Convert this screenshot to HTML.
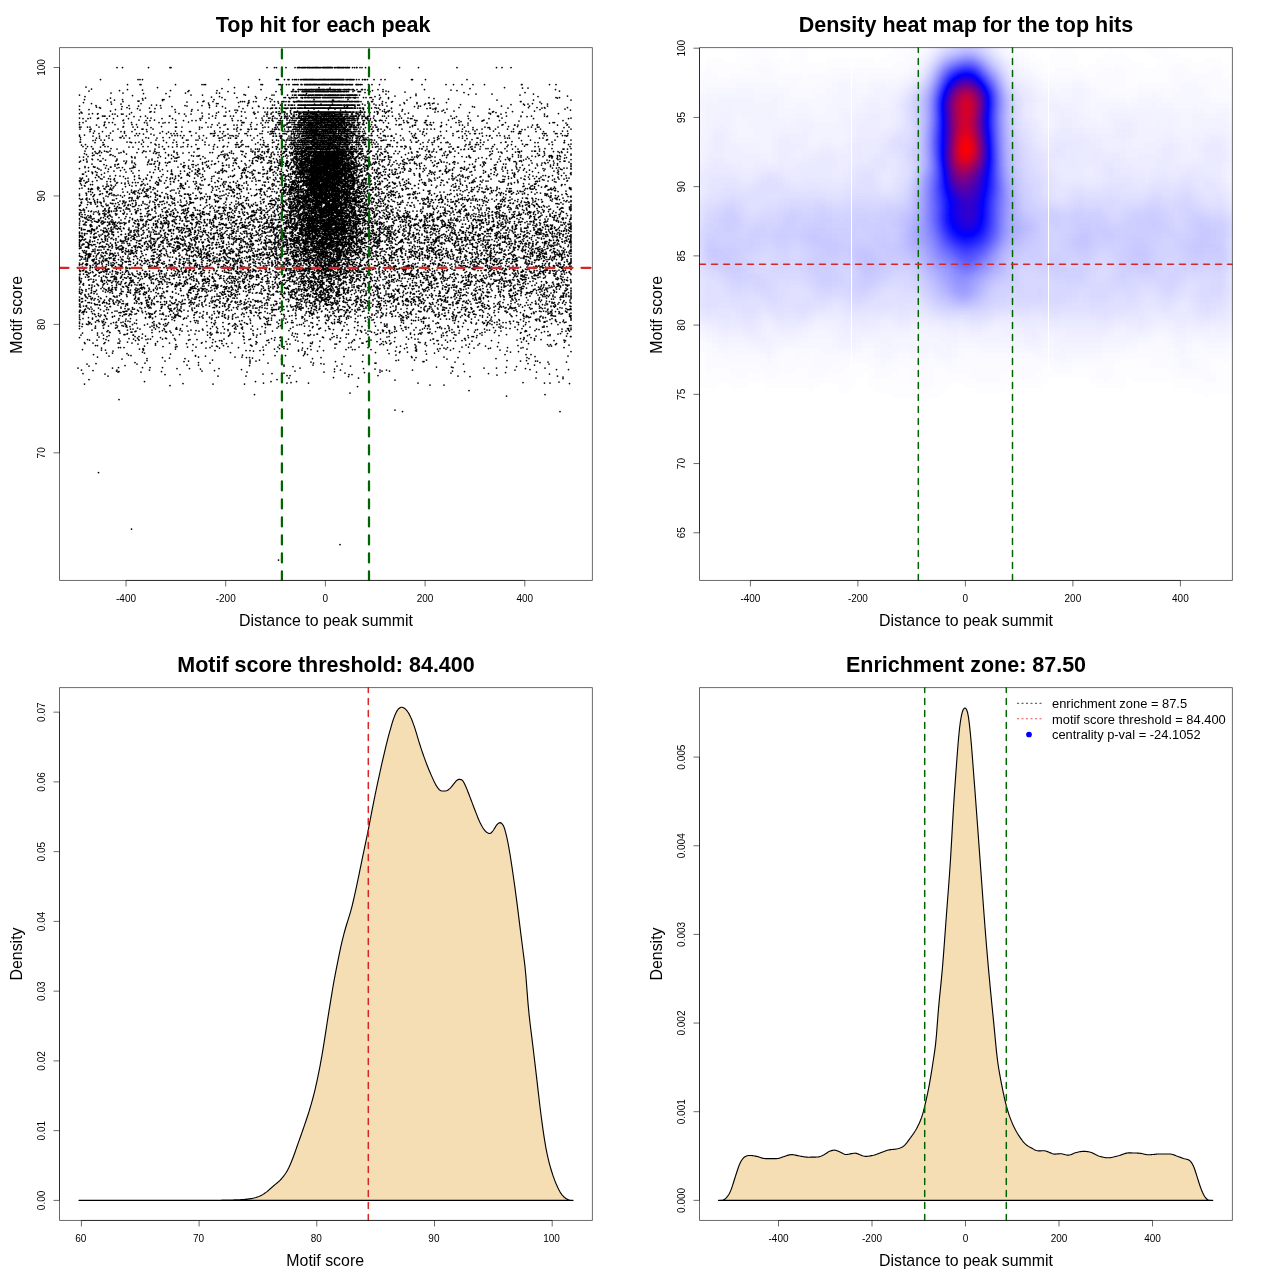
<!DOCTYPE html>
<html><head><meta charset="utf-8"><style>html,body{margin:0;padding:0;background:#fff}svg{display:block;will-change:transform}</style></head><body><svg width="1280" height="1280" viewBox="0 0 1280 1280" font-family="'Liberation Sans',sans-serif" fill="#000"><rect width="1280" height="1280" fill="#fff"/><defs><clipPath id="c1"><rect x="59.5" y="47.6" width="532.9" height="532.85"/></clipPath><clipPath id="c3"><rect x="59.5" y="687.6" width="532.9" height="532.85"/></clipPath><clipPath id="c4"><rect x="699.5" y="687.6" width="532.9" height="532.85"/></clipPath></defs><text x="323.1" y="31.8" font-size="21.5" text-anchor="middle" font-weight="bold">Top hit for each peak</text><text x="966" y="31.8" font-size="21.5" text-anchor="middle" font-weight="bold">Density heat map for the top hits</text><text x="326" y="671.8" font-size="21.5" text-anchor="middle" font-weight="bold">Motif score threshold: 84.400</text><text x="966" y="671.8" font-size="21.5" text-anchor="middle" font-weight="bold">Enrichment zone: 87.50</text><text x="326" y="626" font-size="15.9" text-anchor="middle">Distance to peak summit</text><text x="966" y="626" font-size="15.9" text-anchor="middle">Distance to peak summit</text><text x="325.2" y="1266" font-size="15.9" text-anchor="middle">Motif score</text><text x="966" y="1266" font-size="15.9" text-anchor="middle">Distance to peak summit</text><text x="22" y="314.8" font-size="15.9" text-anchor="middle" transform="rotate(-90 22 314.8)">Motif score</text><text x="662" y="314.8" font-size="15.9" text-anchor="middle" transform="rotate(-90 662 314.8)">Motif score</text><text x="22" y="954" font-size="15.9" text-anchor="middle" transform="rotate(-90 22 954)">Density</text><text x="662" y="954" font-size="15.9" text-anchor="middle" transform="rotate(-90 662 954)">Density</text><!--P1--><g transform="scale(.5)"><path d="M234 135h0m11 0h0m52 0h0m43 0h0m2 0h0m192 0h0m15 0h0m4 0h0m19 0h0m18 0h0m5 0h0m2 0h0m1 0h0m1 0h0m3 0h0m2 0h0m2 0h0m1 0h0m2 0h0m1 0h0m1 0h0m3 0h0m1 0h0m1 0h0m1 0h0m2 0h0m1 0h0m2 0h0m2 0h0m1 0h0m2 0h0m1 0h0m2 0h0m1 0h0m1 0h0m1 0h0m1 0h0m1 0h0m1 0h0m2 0h0m2 0h0m2 0h0m3 0h0m1 0h0m1 0h0m1 0h0m1 0h0m1 0h0m1 0h0m2 0h0m1 0h0m1 0h0m1 0h0m1 0h0m1 0h0m1 0h0m1 0h0m1 0h0m1 0h0m1 0h0m2 0h0m4 0h0m2 0h0m3 0h0m1 0h0m1 0h0m1 0h0m1 0h0m1 0h0m2 0h0m1 0h0m2 0h0m1 0h0m2 0h0m1 0h0m3 0h0m1 0h0m2 0h0m1 0h0m1 0h0m2 0h0m1 0h0m6 0h0m4 0h0m4 0h0m1 0h0m6 0h0m4 0h0m7 0h0m68 0h0m38 0h0m77 0h0m79 0h0m11 0h0m18 0h0m-821 24h0m75 0h0m4 0h0m5 0h0m172 0h0m62 0h0m34 0h0m1 0h0m3 0h0m12 0h0m7 0h0m2 0h0m7 0h0m4 0h0m3 0h0m1 0h0m4 0h0m4 0h0m2 0h0m3 0h0m1 0h0m1 0h0m1 0h0m1 0h0m1 0h0m1 0h0m1 0h0m1 0h0m1 0h0m1 0h0m2 0h0m1 0h0m1 0h0m1 0h0m1 0h0m1 0h0m1 0h0m1 0h0m1 0h0m1 0h0m1 0h0m2 0h0m1 0h0m2 0h0m1 0h0m2 0h0m2 0h0m1 0h0m1 0h0m1 0h0m1 0h0m2 0h0m1 0h0m1 0h0m1 0h0m1 0h0m1 0h0m1 0h0m1 0h0m1 0h0m1 0h0m2 0h0m1 0h0m1 0h0m1 0h0m1 0h0m2 0h0m1 0h0m1 0h0m1 0h0m1 0h0m1 0h0m1 0h0m2 0h0m1 0h0m1 0h0m1 0h0m1 0h0m1 0h0m1 0h0m1 0h0m1 0h0m1 0h0m1 0h0m1 0h0m1 0h0m2 0h0m1 0h0m1 0h0m1 0h0m1 0h0m1 0h0m4 0h0m2 0h0m1 0h0m3 0h0m2 0h0m1 0h0m1 0h0m2 0h0m2 0h0m2 0h0m5 0h0m5 0h0m7 0h0m4 0h0m2 0h0m4 0h0m13 0h0m14 0h0m8 0h0m53 0h0m2 0h0m26 0h0m83 0h0m-679 10h0m25 0h0m2 0h0m69 0h0m53 0h0m4 0h0m3 0h0m111 0h0m3 0h0m33 0h0m3 0h0m4 0h0m8 0h0m5 0h0m8 0h0m3 0h0m3 0h0m3 0h0m1 0h0m6 0h0m1 0h0m1 0h0m5 0h0m1 0h0m2 0h0m1 0h0m1 0h0m1 0h0m1 0h0m2 0h0m1 0h0m1 0h0m1 0h0m1 0h0m1 0h0m2 0h0m1 0h0m1 0h0m1 0h0m1 0h0m1 0h0m1 0h0m1 0h0m1 0h0m1 0h0m2 0h0m1 0h0m2 0h0m1 0h0m2 0h0m1 0h0m1 0h0m1 0h0m1 0h0m1 0h0m1 0h0m1 0h0m1 0h0m1 0h0m1 0h0m1 0h0m1 0h0m2 0h0m1 0h0m1 0h0m3 0h0m1 0h0m1 0h0m1 0h0m1 0h0m1 0h0m1 0h0m1 0h0m1 0h0m1 0h0m1 0h0m1 0h0m1 0h0m2 0h0m1 0h0m1 0h0m1 0h0m1 0h0m1 0h0m2 0h0m1 0h0m1 0h0m1 0h0m1 0h0m2 0h0m3 0h0m2 0h0m2 0h0m3 0h0m1 0h0m2 0h0m2 0h0m2 0h0m7 0h0m1 0h0m1 0h0m1 0h0m2 0h0m3 0h0m1 0h0m3 0h0m13 0h0m7 0h0m15 0h0m85 0h0m48 0h0m15 0h0m17 0h0m22 0h0m23 0h0m74 0h0m1 0h0m55 0h0m13 0h0m-940 5h0m325 0h0m-182 1h0m154 0h0m169 0h0m371 0h0m-349 1h0m385 0h0m11 0h0m-612 1h0m496 0h0m-757 1h0m72 1h0m267 0h0m40 0h0m24 0h0m1 0h0m9 0h0m1 0h0m1 0h0m3 0h0m3 0h0m1 0h0m3 0h0m2 0h0m1 0h0m1 0h0m1 0h0m2 0h0m2 0h0m1 0h0m2 0h0m1 0h0m1 0h0m1 0h0m1 0h0m1 0h0m2 0h0m1 0h0m1 0h0m2 0h0m1 0h0m1 0h0m1 0h0m1 0h0m1 0h0m1 0h0m1 0h0m1 0h0m1 0h0m1 0h0m2 0h0m1 0h0m1 0h0m1 0h0m1 0h0m1 0h0m1 0h0m3 0h0m1 0h0m1 0h0m1 0h0m1 0h0m1 0h0m1 0h0m1 0h0m1 0h0m1 0h0m1 0h0m3 0h0m1 0h0m1 0h0m2 0h0m1 0h0m2 0h0m3 0h0m1 0h0m2 0h0m1 0h0m1 0h0m2 0h0m4 0h0m3 0h0m1 0h0m2 0h0m2 0h0m2 0h0m1 0h0m1 0h0m2 0h0m4 0h0m1 0h0m2 0h0m7 0h0m9 0h0m1 0h0m1 0h0m5 0h0m26 0h0m10 0h0m83 0h0m262 0h0m-826 1h0m301 0h0m150 0h0m166 0h0m-663 1h0m102 0h0m37 0h0m56 0h0m275 0h0m36 0h0m169 0h0m-736 1h0m594 0h0m347 0h0m-743 1h0m80 0h0m96 0h0m31 0h0m3 0h0m4 0h0m1 0h0m2 0h0m4 0h0m7 0h0m1 0h0m1 0h0m1 0h0m1 0h0m1 0h0m1 0h0m1 0h0m1 0h0m1 0h0m1 0h0m1 0h0m1 0h0m1 0h0m1 0h0m1 0h0m1 0h0m2 0h0m1 0h0m2 0h0m1 0h0m1 0h0m3 0h0m1 0h0m1 0h0m1 0h0m1 0h0m1 0h0m1 0h0m1 0h0m1 0h0m1 0h0m1 0h0m1 0h0m1 0h0m2 0h0m1 0h0m1 0h0m1 0h0m1 0h0m1 0h0m1 0h0m1 0h0m1 0h0m2 0h0m1 0h0m1 0h0m1 0h0m1 0h0m3 0h0m1 0h0m1 0h0m1 0h0m1 0h0m2 0h0m1 0h0m1 0h0m1 0h0m1 0h0m1 0h0m1 0h0m2 0h0m1 0h0m1 0h0m1 0h0m1 0h0m1 0h0m1 0h0m1 0h0m1 0h0m3 0h0m1 0h0m2 0h0m3 0h0m2 0h0m3 0h0m9 0h0m10 0h0m1 0h0m1 0h0m2 0h0m1 0h0m19 0h0m26 0h0m11 0h0m33 1h0m-80 1h0m198 0h0m122 0h0m-828 1h0m24 0h0m125 0h0m62 0h0m6 0h0m30 0h0m-182 1h0m45 0h0m281 0h0m159 1h0m60 0h0m120 0h0m32 0h0m83 0h0m-579 1h0m449 0h0m-778 1h0m223 0h0m23 0h0m86 0h0m53 0h0m4 0h0m27 0h0m10 0h0m4 0h0m2 0h0m1 0h0m5 0h0m2 0h0m1 0h0m1 0h0m2 0h0m2 0h0m1 0h0m1 0h0m1 0h0m2 0h0m1 0h0m2 0h0m4 0h0m1 0h0m2 0h0m1 0h0m1 0h0m2 0h0m1 0h0m1 0h0m1 0h0m3 0h0m1 0h0m1 0h0m1 0h0m1 0h0m1 0h0m1 0h0m1 0h0m1 0h0m1 0h0m1 0h0m1 0h0m1 0h0m1 0h0m2 0h0m1 0h0m3 0h0m1 0h0m1 0h0m2 0h0m1 0h0m2 0h0m1 0h0m1 0h0m1 0h0m1 0h0m1 0h0m1 0h0m1 0h0m1 0h0m1 0h0m1 0h0m1 0h0m1 0h0m1 0h0m1 0h0m1 0h0m1 0h0m2 0h0m1 0h0m1 0h0m1 0h0m1 0h0m3 0h0m1 0h0m1 0h0m2 0h0m2 0h0m1 0h0m2 0h0m3 0h0m1 0h0m1 0h0m2 0h0m1 0h0m1 0h0m1 0h0m1 0h0m1 0h0m1 0h0m1 0h0m1 0h0m1 0h0m2 0h0m1 0h0m1 0h0m1 0h0m1 0h0m2 0h0m5 0h0m40 0h0m281 0h0m-775 1h0m351 0h0m216 0h0m-42 1h0m345 0h0m-965 1h0m169 0h0m100 0h0m72 0h0m239 0h0m326 0h0m-653 1h0m21 1h0m30 0h0m59 0h0m35 0h0m3 0h0m7 0h0m5 0h0m3 0h0m2 0h0m4 0h0m1 0h0m1 0h0m8 0h0m2 0h0m1 0h0m4 0h0m1 0h0m1 0h0m1 0h0m3 0h0m2 0h0m1 0h0m1 0h0m3 0h0m1 0h0m1 0h0m2 0h0m1 0h0m1 0h0m1 0h0m1 0h0m1 0h0m1 0h0m1 0h0m1 0h0m1 0h0m1 0h0m2 0h0m1 0h0m1 0h0m1 0h0m4 0h0m1 0h0m1 0h0m1 0h0m1 0h0m1 0h0m1 0h0m1 0h0m2 0h0m1 0h0m1 0h0m1 0h0m1 0h0m1 0h0m1 0h0m1 0h0m1 0h0m1 0h0m1 0h0m1 0h0m1 0h0m1 0h0m1 0h0m1 0h0m1 0h0m1 0h0m1 0h0m1 0h0m1 0h0m1 0h0m1 0h0m1 0h0m2 0h0m1 0h0m2 0h0m1 0h0m1 0h0m3 0h0m4 0h0m3 0h0m1 0h0m2 0h0m1 0h0m1 0h0m1 0h0m2 0h0m4 0h0m2 0h0m2 0h0m1 0h0m1 0h0m4 0h0m11 0h0m5 0h0m8 0h0m3 0h0m18 0h0m16 0h0m44 0h0m37 0h0m254 0h0m7 0h0m-898 1h0m70 0h0m222 0h0m92 0h0m105 0h0m405 0h0m-830 1h0m255 0h0m40 0h0m197 0h0m91 0h0m-109 1h0m138 0h0m-728 1h0m76 0h0m80 0h0m3 0h0m100 0h0m22 0h0m80 0h0m14 0h0m84 0h0m68 0h0m50 0h0m-531 1h0m14 0h0m57 0h0m379 0h0m2 0h0m147 0h0m180 0h0m73 0h0m75 0h0m-817 1h0m173 0h0m-222 1h0m2 0h0m130 0h0m188 0h0m2 0h0m80 0h0m-432 1h0m160 0h0m20 0h0m55 0h0m4 0h0m4 0h0m18 0h0m5 0h0m29 0h0m8 0h0m7 0h0m8 0h0m3 0h0m1 0h0m4 0h0m5 0h0m2 0h0m8 0h0m1 0h0m4 0h0m1 0h0m2 0h0m3 0h0m1 0h0m1 0h0m1 0h0m1 0h0m1 0h0m1 0h0m1 0h0m3 0h0m1 0h0m1 0h0m1 0h0m1 0h0m1 0h0m1 0h0m1 0h0m1 0h0m1 0h0m1 0h0m1 0h0m1 0h0m1 0h0m1 0h0m2 0h0m1 0h0m1 0h0m1 0h0m1 0h0m1 0h0m1 0h0m1 0h0m1 0h0m1 0h0m1 0h0m1 0h0m1 0h0m1 0h0m1 0h0m1 0h0m1 0h0m1 0h0m1 0h0m1 0h0m2 0h0m1 0h0m1 0h0m1 0h0m1 0h0m1 0h0m1 0h0m1 0h0m1 0h0m1 0h0m2 0h0m1 0h0m1 0h0m1 0h0m1 0h0m1 0h0m1 0h0m1 0h0m2 0h0m1 0h0m1 0h0m1 0h0m1 0h0m1 0h0m1 0h0m1 0h0m1 0h0m1 0h0m1 0h0m1 0h0m1 0h0m1 0h0m1 0h0m1 0h0m1 0h0m1 0h0m1 0h0m1 0h0m1 0h0m1 0h0m1 0h0m1 0h0m2 0h0m1 0h0m2 0h0m1 0h0m1 0h0m3 0h0m1 0h0m1 0h0m2 0h0m1 0h0m1 0h0m1 0h0m1 0h0m3 0h0m1 0h0m1 0h0m2 0h0m1 0h0m1 0h0m1 0h0m1 0h0m1 0h0m4 0h0m14 0h0m7 0h0m2 0h0m20 0h0m20 0h0m256 0h0m1 0h0m-820 1h0m152 0h0m21 0h0m102 0h0m92 0h0m75 0h0m119 0h0m297 0h0m-913 1h0m310 0h0m21 0h0m274 0h0m36 0h0m26 0h0m59 0h0m-476 1h0m140 0h0m179 0h0m121 0h0m2 0h0m9 0h0m-685 1h0m99 0h0m151 0h0m3 0h0m60 0h0m268 0h0m45 0h0m25 0h0m17 0h0m14 0h0m200 0h0m18 0h0m-860 1h0m19 0h0m387 0h0m13 0h0m23 0h0m60 0h0m23 0h0m128 0h0m171 0h0m9 0h0m39 0h0m-677 1h0m431 0h0m72 0h0m101 0h0m-719 1h0m10 0h0m232 0h0m4 0h0m12 0h0m9 0h0m1 0h0m6 0h0m1 0h0m4 0h0m1 0h0m2 0h0m4 0h0m7 0h0m1 0h0m1 0h0m1 0h0m2 0h0m1 0h0m1 0h0m1 0h0m1 0h0m2 0h0m1 0h0m1 0h0m1 0h0m1 0h0m1 0h0m2 0h0m1 0h0m1 0h0m1 0h0m1 0h0m1 0h0m1 0h0m1 0h0m1 0h0m1 0h0m1 0h0m1 0h0m1 0h0m1 0h0m1 0h0m1 0h0m1 0h0m1 0h0m1 0h0m1 0h0m1 0h0m1 0h0m1 0h0m1 0h0m1 0h0m1 0h0m1 0h0m1 0h0m1 0h0m1 0h0m1 0h0m1 0h0m2 0h0m1 0h0m1 0h0m1 0h0m1 0h0m1 0h0m1 0h0m1 0h0m1 0h0m1 0h0m1 0h0m1 0h0m1 0h0m1 0h0m1 0h0m1 0h0m1 0h0m1 0h0m1 0h0m1 0h0m1 0h0m1 0h0m1 0h0m1 0h0m1 0h0m2 0h0m1 0h0m1 0h0m1 0h0m1 0h0m1 0h0m1 0h0m1 0h0m1 0h0m1 0h0m1 0h0m1 0h0m3 0h0m1 0h0m1 0h0m1 0h0m2 0h0m1 0h0m1 0h0m1 0h0m1 0h0m1 0h0m1 0h0m1 0h0m2 0h0m1 0h0m1 0h0m1 0h0m1 0h0m1 0h0m1 0h0m2 0h0m1 0h0m5 0h0m1 0h0m2 0h0m1 0h0m11 0h0m9 0h0m13 0h0m7 0h0m6 0h0m35 0h0m60 0h0m189 0h0m-857 1h0m66 0h0m63 0h0m49 0h0m34 0h0m15 0h0m76 0h0m-336 1h0m118 0h0m97 0h0m59 0h0m84 0h0m257 0h0m63 0h0m4 0h0m162 0h0m56 0h0m36 0h0m-851 1h0m100 0h0m101 0h0m33 0h0m40 0h0m171 0h0m6 0h0m15 0h0m119 0h0m116 0h0m-752 1h0m417 0h0m50 0h0m34 0h0m255 0h0m-750 1h0m55 0h0m165 0h0m331 0h0m168 0h0m139 0h0m17 0h0m15 0h0m46 0h0m-934 1h0m98 0h0m23 0h0m129 0h0m54 0h0m22 0h0m8 0h0m8 0h0m2 0h0m6 0h0m2 0h0m6 0h0m9 0h0m2 0h0m4 0h0m2 0h0m5 0h0m1 0h0m3 0h0m3 0h0m1 0h0m2 0h0m4 0h0m2 0h0m2 0h0m1 0h0m1 0h0m1 0h0m1 0h0m2 0h0m3 0h0m1 0h0m1 0h0m2 0h0m1 0h0m2 0h0m1 0h0m1 0h0m2 0h0m2 0h0m1 0h0m1 0h0m1 0h0m1 0h0m1 0h0m1 0h0m1 0h0m1 0h0m1 0h0m1 0h0m1 0h0m1 0h0m1 0h0m1 0h0m1 0h0m1 0h0m1 0h0m1 0h0m1 0h0m1 0h0m1 0h0m1 0h0m1 0h0m1 0h0m1 0h0m1 0h0m1 0h0m1 0h0m1 0h0m1 0h0m1 0h0m2 0h0m1 0h0m1 0h0m1 0h0m1 0h0m1 0h0m1 0h0m1 0h0m1 0h0m1 0h0m1 0h0m1 0h0m1 0h0m1 0h0m1 0h0m1 0h0m1 0h0m1 0h0m1 0h0m1 0h0m1 0h0m1 0h0m1 0h0m1 0h0m1 0h0m1 0h0m1 0h0m1 0h0m1 0h0m1 0h0m1 0h0m1 0h0m1 0h0m1 0h0m1 0h0m1 0h0m1 0h0m1 0h0m1 0h0m1 0h0m1 0h0m1 0h0m1 0h0m1 0h0m1 0h0m1 0h0m2 0h0m1 0h0m1 0h0m1 0h0m1 0h0m3 0h0m2 0h0m1 0h0m4 0h0m4 0h0m2 0h0m4 0h0m2 0h0m9 0h0m2 0h0m5 0h0m10 0h0m4 0h0m26 0h0m53 0h0m24 0h0m1 0h0m11 0h0m144 0h0m68 0h0m6 0h0m-831 1h0m16 0h0m35 0h0m176 0h0m55 0h0m31 0h0m11 0h0m200 0h0m71 0h0m16 0h0m-627 1h0m320 0h0m65 0h0m42 0h0m196 0h0m28 0h0m85 0h0m151 0h0m-971 1h0m19 0h0m53 0h0m119 0h0m34 0h0m179 0h0m94 0h0m70 0h0m33 0h0m9 0h0m36 0h0m66 0h0m209 0h0m-800 1h0m116 0h0m74 0h0m4 0h0m207 0h0m206 0h0m254 0h0m-666 1h0m106 0h0m36 0h0m104 0h0m58 0h0m-558 1h0m162 0h0m76 0h0m136 0h0m42 0h0m54 0h0m47 0h0m27 0h0m11 0h0m28 0h0m80 0h0m24 0h0m161 0h0m-767 1h0m181 0h0m75 0h0m9 0h0m187 0h0m15 0h0m8 0h0m99 0h0m111 0h0m38 0h0m-863 1h0m138 0h0m9 0h0m42 0h0m86 0h0m15 0h0m38 0h0m18 0h0m8 0h0m14 0h0m5 0h0m11 0h0m6 0h0m1 0h0m15 0h0m1 0h0m1 0h0m11 0h0m7 0h0m1 0h0m1 0h0m1 0h0m1 0h0m1 0h0m1 0h0m3 0h0m2 0h0m2 0h0m3 0h0m2 0h0m1 0h0m1 0h0m1 0h0m1 0h0m1 0h0m1 0h0m1 0h0m2 0h0m1 0h0m1 0h0m2 0h0m1 0h0m1 0h0m1 0h0m1 0h0m1 0h0m1 0h0m1 0h0m1 0h0m1 0h0m1 0h0m1 0h0m1 0h0m1 0h0m1 0h0m1 0h0m1 0h0m1 0h0m1 0h0m1 0h0m1 0h0m1 0h0m1 0h0m1 0h0m1 0h0m1 0h0m1 0h0m1 0h0m1 0h0m1 0h0m1 0h0m1 0h0m1 0h0m1 0h0m1 0h0m1 0h0m1 0h0m1 0h0m1 0h0m1 0h0m1 0h0m1 0h0m1 0h0m1 0h0m1 0h0m1 0h0m1 0h0m1 0h0m1 0h0m1 0h0m1 0h0m1 0h0m1 0h0m1 0h0m1 0h0m2 0h0m1 0h0m1 0h0m2 0h0m1 0h0m1 0h0m1 0h0m1 0h0m1 0h0m1 0h0m1 0h0m1 0h0m1 0h0m2 0h0m1 0h0m1 0h0m1 0h0m2 0h0m1 0h0m2 0h0m1 0h0m1 0h0m1 0h0m1 0h0m3 0h0m1 0h0m1 0h0m1 0h0m4 0h0m2 0h0m4 0h0m2 0h0m1 0h0m2 0h0m2 0h0m4 0h0m1 0h0m19 0h0m7 0h0m17 0h0m11 0h0m86 0h0m115 0h0m60 0h0m-782 1h0m209 0h0m35 0h0m63 0h0m170 0h0m150 0h0m49 0h0m53 0h0m20 0h0m-848 1h0m240 0h0m29 0h0m110 0h0m74 0h0m63 0h0m76 0h0m15 0h0m46 0h0m161 0h0m-819 1h0m26 0h0m11 0h0m162 0h0m152 0h0m47 0h0m3 0h0m1 0h0m13 0h0m8 0h0m16 0h0m2 0h0m2 0h0m5 0h0m8 0h0m1 0h0m5 0h0m1 0h0m2 0h0m2 0h0m2 0h0m1 0h0m4 0h0m8 0h0m1 0h0m2 0h0m4 0h0m2 0h0m1 0h0m4 0h0m1 0h0m1 0h0m2 0h0m2 0h0m1 0h0m4 0h0m3 0h0m10 0h0m25 0h0m8 0h0m2 0h0m267 0h0m136 0h0m-939 1h0m17 0h0m30 0h0m5 0h0m13 0h0m3 0h0m13 0h0m110 0h0m13 0h0m36 0h0m91 0h0m24 0h0m2 0h0m7 0h0m27 0h0m5 0h0m9 0h0m5 0h0m10 0h0m1 0h0m8 0h0m2 0h0m2 0h0m1 0h0m1 0h0m2 0h0m1 0h0m4 0h0m4 0h0m2 0h0m1 0h0m1 0h0m1 0h0m2 0h0m2 0h0m1 0h0m2 0h0m3 0h0m3 0h0m3 0h0m2 0h0m1 0h0m1 0h0m1 0h0m2 0h0m1 0h0m1 0h0m1 0h0m1 0h0m2 0h0m1 0h0m1 0h0m3 0h0m2 0h0m4 0h0m1 0h0m1 0h0m2 0h0m1 0h0m1 0h0m2 0h0m1 0h0m4 0h0m1 0h0m2 0h0m1 0h0m4 0h0m3 0h0m1 0h0m2 0h0m7 0h0m2 0h0m11 0h0m1 0h0m4 0h0m7 0h0m11 0h0m16 0h0m43 0h0m12 0h0m171 0h0m21 0h0m87 0h0m-496 1h0m19 0h0m18 0h0m2 0h0m11 0h0m8 0h0m30 0h0m-249 2h0m127 0h0m29 0h0m10 0h0m20 0h0m15 0h0m1 0h0m2 0h0m10 0h0m4 0h0m2 0h0m6 0h0m4 0h0m3 0h0m1 0h0m3 0h0m3 0h0m10 0h0m1 0h0m29 0h0m7 0h0m-514 1h0m3 0h0m2 0h0m9 0h0m16 0h0m18 0h0m38 0h0m48 0h0m1 0h0m32 0h0m33 0h0m20 0h0m23 0h0m3 0h0m10 0h0m6 0h0m16 0h0m45 0h0m6 0h0m13 0h0m22 0h0m2 0h0m4 0h0m4 0h0m7 0h0m2 0h0m1 0h0m8 0h0m5 0h0m2 0h0m1 0h0m2 0h0m1 0h0m1 0h0m2 0h0m1 0h0m2 0h0m1 0h0m1 0h0m2 0h0m2 0h0m1 0h0m1 0h0m1 0h0m1 0h0m1 0h0m2 0h0m1 0h0m1 0h0m1 0h0m1 0h0m2 0h0m1 0h0m1 0h0m2 0h0m2 0h0m1 0h0m1 0h0m1 0h0m2 0h0m1 0h0m1 0h0m2 0h0m1 0h0m2 0h0m2 0h0m1 0h0m1 0h0m1 0h0m1 0h0m1 0h0m2 0h0m1 0h0m1 0h0m1 0h0m3 0h0m1 0h0m1 0h0m1 0h0m1 0h0m1 0h0m1 0h0m1 0h0m1 0h0m1 0h0m1 0h0m1 0h0m1 0h0m1 0h0m2 0h0m2 0h0m1 0h0m1 0h0m5 0h0m1 0h0m1 0h0m1 0h0m2 0h0m1 0h0m4 0h0m1 0h0m2 0h0m1 0h0m1 0h0m2 0h0m1 0h0m1 0h0m2 0h0m1 0h0m1 0h0m4 0h0m7 0h0m4 0h0m1 0h0m8 0h0m1 0h0m1 0h0m9 0h0m17 0h0m4 0h0m8 0h0m8 0h0m15 0h0m26 0h0m30 0h0m46 0h0m34 0h0m20 0h0m39 0h0m2 0h0m16 0h0m29 0h0m21 0h0m26 0h0m6 0h0m-827 1h0m13 0h0m264 0h0m18 0h0m7 0h0m2 0h0m25 0h0m2 0h0m4 0h0m4 0h0m3 0h0m2 0h0m4 0h0m2 0h0m2 0h0m2 0h0m1 0h0m2 0h0m2 0h0m3 0h0m4 0h0m1 0h0m3 0h0m5 0h0m3 0h0m2 0h0m1 0h0m4 0h0m4 0h0m1 0h0m4 0h0m3 0h0m2 0h0m7 0h0m3 0h0m7 0h0m5 0h0m5 0h0m9 0h0m14 0h0m9 0h0m9 0h0m178 0h0m84 0h0m45 0h0m12 0h0m40 0h0m-512 2h0m21 0h0m9 0h0m12 0h0m1 0h0m7 0h0m9 0h0m20 0h0m6 0h0m10 0h0m10 0h0m12 0h0m32 0h0m-572 1h0m22 0h0m16 0h0m98 0h0m7 0h0m102 0h0m14 0h0m13 0h0m61 0h0m20 0h0m12 0h0m13 0h0m3 0h0m10 0h0m13 0h0m6 0h0m4 0h0m3 0h0m7 0h0m2 0h0m3 0h0m4 0h0m2 0h0m2 0h0m3 0h0m3 0h0m1 0h0m6 0h0m1 0h0m1 0h0m5 0h0m3 0h0m1 0h0m3 0h0m1 0h0m1 0h0m1 0h0m1 0h0m2 0h0m2 0h0m1 0h0m2 0h0m2 0h0m1 0h0m2 0h0m1 0h0m1 0h0m2 0h0m5 0h0m2 0h0m2 0h0m1 0h0m3 0h0m1 0h0m1 0h0m1 0h0m1 0h0m1 0h0m3 0h0m1 0h0m1 0h0m1 0h0m1 0h0m1 0h0m1 0h0m1 0h0m1 0h0m2 0h0m2 0h0m1 0h0m2 0h0m1 0h0m1 0h0m2 0h0m2 0h0m1 0h0m1 0h0m3 0h0m3 0h0m1 0h0m1 0h0m1 0h0m1 0h0m1 0h0m1 0h0m1 0h0m5 0h0m1 0h0m1 0h0m1 0h0m6 0h0m1 0h0m1 0h0m8 0h0m7 0h0m2 0h0m3 0h0m11 0h0m26 0h0m30 0h0m13 0h0m93 0h0m95 0h0m138 0h0m-976 1h0m10 0h0m19 0h0m19 0h0m13 0h0m30 0h0m67 0h0m21 0h0m55 0h0m64 0h0m81 0h0m9 0h0m7 0h0m13 0h0m20 0h0m7 0h0m1 0h0m2 0h0m3 0h0m1 0h0m1 0h0m2 0h0m1 0h0m3 0h0m1 0h0m1 0h0m1 0h0m7 0h0m1 0h0m1 0h0m1 0h0m2 0h0m1 0h0m1 0h0m1 0h0m2 0h0m1 0h0m1 0h0m3 0h0m1 0h0m1 0h0m1 0h0m1 0h0m2 0h0m2 0h0m2 0h0m1 0h0m2 0h0m1 0h0m2 0h0m1 0h0m1 0h0m3 0h0m1 0h0m1 0h0m2 0h0m3 0h0m2 0h0m1 0h0m1 0h0m1 0h0m1 0h0m1 0h0m3 0h0m1 0h0m2 0h0m2 0h0m2 0h0m2 0h0m2 0h0m1 0h0m1 0h0m2 0h0m1 0h0m1 0h0m1 0h0m1 0h0m2 0h0m3 0h0m5 0h0m3 0h0m4 0h0m2 0h0m1 0h0m7 0h0m8 0h0m2 0h0m2 0h0m5 0h0m50 0h0m7 0h0m23 0h0m3 0h0m81 0h0m32 0h0m41 0h0m89 0h0m70 0h0m-473 1h0m17 0h0m2 0h0m-79 1h0m42 0h0m-399 1h0m31 0h0m31 0h0m42 0h0m50 0h0m124 0h0m19 0h0m30 0h0m6 0h0m5 0h0m17 0h0m2 0h0m3 0h0m1 0h0m2 0h0m2 0h0m2 0h0m6 0h0m2 0h0m2 0h0m4 0h0m2 0h0m1 0h0m2 0h0m5 0h0m1 0h0m2 0h0m3 0h0m3 0h0m2 0h0m1 0h0m2 0h0m2 0h0m2 0h0m3 0h0m1 0h0m1 0h0m3 0h0m1 0h0m2 0h0m3 0h0m1 0h0m1 0h0m2 0h0m1 0h0m2 0h0m2 0h0m1 0h0m3 0h0m4 0h0m3 0h0m14 0h0m1 0h0m3 0h0m1 0h0m6 0h0m21 0h0m4 0h0m9 0h0m12 0h0m68 0h0m68 0h0m71 0h0m-722 1h0m46 0h0m8 0h0m67 0h0m17 0h0m8 0h0m73 0h0m11 0h0m6 0h0m44 0h0m7 0h0m5 0h0m20 0h0m3 0h0m4 0h0m14 0h0m5 0h0m4 0h0m1 0h0m2 0h0m1 0h0m6 0h0m3 0h0m8 0h0m2 0h0m1 0h0m4 0h0m1 0h0m2 0h0m1 0h0m1 0h0m2 0h0m2 0h0m1 0h0m1 0h0m1 0h0m1 0h0m2 0h0m1 0h0m1 0h0m1 0h0m1 0h0m1 0h0m1 0h0m1 0h0m1 0h0m1 0h0m1 0h0m1 0h0m1 0h0m1 0h0m1 0h0m1 0h0m3 0h0m2 0h0m2 0h0m5 0h0m1 0h0m1 0h0m1 0h0m2 0h0m1 0h0m1 0h0m2 0h0m2 0h0m1 0h0m1 0h0m1 0h0m1 0h0m1 0h0m1 0h0m2 0h0m1 0h0m1 0h0m1 0h0m1 0h0m2 0h0m1 0h0m1 0h0m2 0h0m1 0h0m1 0h0m5 0h0m1 0h0m3 0h0m2 0h0m3 0h0m8 0h0m4 0h0m11 0h0m2 0h0m1 0h0m8 0h0m14 0h0m8 0h0m5 0h0m7 0h0m22 0h0m14 0h0m25 0h0m2 0h0m17 0h0m2 0h0m65 0h0m23 0h0m25 0h0m33 0h0m127 0h0m-954 1h0m374 0h0m52 0h0m9 0h0m10 0h0m20 0h0m1 0h0m3 0h0m2 0h0m6 0h0m6 0h0m1 0h0m1 0h0m2 0h0m2 0h0m5 0h0m1 0h0m5 0h0m1 0h0m2 0h0m10 0h0m67 0h0m62 0h0m150 0h0m74 0h0m-116 1h0m-712 1h0m167 0h0m233 0h0m1 0h0m23 0h0m10 0h0m2 0h0m9 0h0m1 0h0m2 0h0m3 0h0m6 0h0m7 0h0m3 0h0m7 0h0m2 0h0m3 0h0m19 0h0m36 0h0m-585 1h0m7 0h0m43 0h0m9 0h0m7 0h0m38 0h0m26 0h0m29 0h0m12 0h0m8 0h0m74 0h0m72 0h0m1 0h0m1 0h0m2 0h0m15 0h0m28 0h0m5 0h0m19 0h0m3 0h0m4 0h0m16 0h0m1 0h0m3 0h0m4 0h0m3 0h0m7 0h0m1 0h0m1 0h0m1 0h0m1 0h0m1 0h0m4 0h0m2 0h0m1 0h0m2 0h0m3 0h0m2 0h0m1 0h0m1 0h0m2 0h0m1 0h0m1 0h0m1 0h0m1 0h0m3 0h0m1 0h0m1 0h0m1 0h0m1 0h0m1 0h0m1 0h0m1 0h0m1 0h0m1 0h0m1 0h0m3 0h0m1 0h0m1 0h0m1 0h0m1 0h0m1 0h0m1 0h0m1 0h0m1 0h0m1 0h0m1 0h0m1 0h0m1 0h0m1 0h0m1 0h0m1 0h0m1 0h0m1 0h0m3 0h0m1 0h0m1 0h0m2 0h0m1 0h0m1 0h0m3 0h0m2 0h0m1 0h0m3 0h0m2 0h0m1 0h0m1 0h0m2 0h0m1 0h0m1 0h0m1 0h0m1 0h0m1 0h0m1 0h0m3 0h0m2 0h0m1 0h0m3 0h0m1 0h0m1 0h0m1 0h0m6 0h0m1 0h0m3 0h0m1 0h0m6 0h0m1 0h0m4 0h0m7 0h0m40 0h0m41 0h0m7 0h0m2 0h0m14 0h0m18 0h0m2 0h0m10 0h0m6 0h0m16 0h0m29 0h0m6 0h0m93 0h0m95 0h0m3 0h0m-861 1h0m46 0h0m32 0h0m26 0h0m86 0h0m84 0h0m38 0h0m14 0h0m2 0h0m21 0h0m6 0h0m3 0h0m3 0h0m4 0h0m4 0h0m2 0h0m1 0h0m1 0h0m2 0h0m2 0h0m1 0h0m1 0h0m3 0h0m1 0h0m1 0h0m1 0h0m1 0h0m2 0h0m2 0h0m2 0h0m1 0h0m2 0h0m1 0h0m3 0h0m2 0h0m1 0h0m4 0h0m2 0h0m7 0h0m2 0h0m1 0h0m1 0h0m1 0h0m1 0h0m1 0h0m2 0h0m5 0h0m1 0h0m1 0h0m1 0h0m1 0h0m2 0h0m3 0h0m1 0h0m1 0h0m2 0h0m3 0h0m5 0h0m1 0h0m7 0h0m11 0h0m16 0h0m44 0h0m159 0h0m38 0h0m125 0h0m33 0h0m-432 2h0m25 0h0m-566 1h0m50 0h0m21 0h0m34 0h0m9 0h0m151 0h0m27 0h0m50 0h0m13 0h0m38 0h0m5 0h0m3 0h0m14 0h0m10 0h0m4 0h0m1 0h0m2 0h0m3 0h0m3 0h0m3 0h0m4 0h0m4 0h0m1 0h0m1 0h0m5 0h0m1 0h0m3 0h0m3 0h0m1 0h0m3 0h0m5 0h0m1 0h0m3 0h0m1 0h0m1 0h0m1 0h0m4 0h0m1 0h0m1 0h0m5 0h0m1 0h0m1 0h0m1 0h0m1 0h0m3 0h0m1 0h0m1 0h0m1 0h0m2 0h0m3 0h0m4 0h0m1 0h0m1 0h0m2 0h0m1 0h0m2 0h0m2 0h0m3 0h0m2 0h0m6 0h0m5 0h0m3 0h0m1 0h0m2 0h0m2 0h0m1 0h0m1 0h0m1 0h0m13 0h0m2 0h0m7 0h0m1 0h0m1 0h0m15 0h0m49 0h0m7 0h0m3 0h0m51 0h0m7 0h0m33 0h0m113 0h0m69 0h0m60 0h0m-942 1h0m102 0h0m140 0h0m13 0h0m20 0h0m6 0h0m9 0h0m42 0h0m43 0h0m3 0h0m25 0h0m1 0h0m3 0h0m2 0h0m1 0h0m2 0h0m2 0h0m3 0h0m3 0h0m1 0h0m1 0h0m1 0h0m2 0h0m2 0h0m1 0h0m1 0h0m1 0h0m1 0h0m1 0h0m2 0h0m1 0h0m1 0h0m1 0h0m1 0h0m4 0h0m4 0h0m2 0h0m1 0h0m1 0h0m2 0h0m3 0h0m1 0h0m2 0h0m1 0h0m1 0h0m1 0h0m1 0h0m1 0h0m2 0h0m1 0h0m1 0h0m2 0h0m2 0h0m2 0h0m2 0h0m1 0h0m1 0h0m2 0h0m1 0h0m3 0h0m1 0h0m2 0h0m1 0h0m2 0h0m1 0h0m1 0h0m1 0h0m4 0h0m1 0h0m3 0h0m1 0h0m1 0h0m1 0h0m6 0h0m2 0h0m3 0h0m2 0h0m5 0h0m1 0h0m1 0h0m1 0h0m33 0h0m1 0h0m47 0h0m31 0h0m2 0h0m24 0h0m8 0h0m56 0h0m6 0h0m11 0h0m68 0h0m25 0h0m1 0h0m6 0h0m29 0h0m9 0h0m41 0h0m19 0h0m-926 1h0m344 0h0m48 0h0m3 0h0m16 0h0m9 0h0m4 0h0m12 0h0m13 0h0m2 0h0m4 0h0m14 0h0m1 0h0m7 0h0m140 0h0m58 0h0m-636 2h0m76 0h0m179 0h0m66 0h0m21 0h0m9 0h0m1 0h0m12 0h0m7 0h0m4 0h0m2 0h0m1 0h0m4 0h0m4 0h0m1 0h0m1 0h0m1 0h0m5 0h0m4 0h0m3 0h0m3 0h0m1 0h0m1 0h0m9 0h0m1 0h0m2 0h0m2 0h0m4 0h0m1 0h0m2 0h0m3 0h0m7 0h0m7 0h0m2 0h0m7 0h0m3 0h0m38 0h0m32 0h0m52 0h0m56 0h0m1 0h0m135 0h0m18 0h0m-876 1h0m3 0h0m13 0h0m5 0h0m18 0h0m48 0h0m20 0h0m9 0h0m76 0h0m2 0h0m11 0h0m35 0h0m17 0h0m6 0h0m108 0h0m7 0h0m18 0h0m8 0h0m2 0h0m9 0h0m3 0h0m1 0h0m2 0h0m1 0h0m1 0h0m5 0h0m4 0h0m1 0h0m3 0h0m2 0h0m4 0h0m1 0h0m1 0h0m4 0h0m1 0h0m1 0h0m1 0h0m1 0h0m3 0h0m1 0h0m1 0h0m2 0h0m1 0h0m1 0h0m3 0h0m2 0h0m1 0h0m1 0h0m1 0h0m2 0h0m1 0h0m1 0h0m3 0h0m1 0h0m1 0h0m1 0h0m2 0h0m1 0h0m1 0h0m2 0h0m1 0h0m1 0h0m1 0h0m2 0h0m1 0h0m1 0h0m1 0h0m1 0h0m1 0h0m1 0h0m2 0h0m1 0h0m1 0h0m1 0h0m1 0h0m1 0h0m1 0h0m2 0h0m1 0h0m1 0h0m2 0h0m1 0h0m1 0h0m1 0h0m2 0h0m1 0h0m2 0h0m2 0h0m1 0h0m1 0h0m1 0h0m1 0h0m1 0h0m2 0h0m1 0h0m2 0h0m1 0h0m1 0h0m1 0h0m1 0h0m5 0h0m1 0h0m2 0h0m5 0h0m1 0h0m1 0h0m1 0h0m1 0h0m1 0h0m2 0h0m4 0h0m5 0h0m24 0h0m6 0h0m2 0h0m21 0h0m45 0h0m82 0h0m27 0h0m41 0h0m26 0h0m60 0h0m7 0h0m12 0h0m3 0h0m60 0h0m-926 1h0m90 0h0m102 0h0m36 0h0m35 0h0m51 0h0m24 0h0m1 0h0m41 0h0m7 0h0m12 0h0m3 0h0m2 0h0m5 0h0m6 0h0m4 0h0m1 0h0m2 0h0m5 0h0m5 0h0m7 0h0m6 0h0m4 0h0m1 0h0m8 0h0m2 0h0m1 0h0m5 0h0m6 0h0m3 0h0m1 0h0m1 0h0m2 0h0m11 0h0m15 0h0m14 0h0m44 0h0m171 0h0m30 0h0m3 0h0m149 0h0m-518 2h0m13 0h0m10 0h0m27 0h0m3 0h0m25 0h0m-528 1h0m22 0h0m54 0h0m48 0h0m2 0h0m20 0h0m93 0h0m56 0h0m1 0h0m12 0h0m5 0h0m23 0h0m7 0h0m7 0h0m3 0h0m32 0h0m8 0h0m4 0h0m7 0h0m5 0h0m8 0h0m11 0h0m2 0h0m4 0h0m5 0h0m4 0h0m1 0h0m1 0h0m1 0h0m1 0h0m2 0h0m4 0h0m1 0h0m1 0h0m1 0h0m1 0h0m1 0h0m1 0h0m2 0h0m1 0h0m1 0h0m1 0h0m1 0h0m2 0h0m1 0h0m1 0h0m1 0h0m1 0h0m1 0h0m1 0h0m2 0h0m1 0h0m1 0h0m1 0h0m1 0h0m1 0h0m1 0h0m1 0h0m1 0h0m1 0h0m1 0h0m1 0h0m1 0h0m2 0h0m1 0h0m1 0h0m1 0h0m1 0h0m1 0h0m1 0h0m1 0h0m1 0h0m1 0h0m2 0h0m1 0h0m1 0h0m1 0h0m1 0h0m1 0h0m1 0h0m1 0h0m1 0h0m1 0h0m1 0h0m2 0h0m1 0h0m2 0h0m1 0h0m1 0h0m1 0h0m2 0h0m1 0h0m2 0h0m1 0h0m1 0h0m5 0h0m1 0h0m4 0h0m1 0h0m4 0h0m7 0h0m2 0h0m1 0h0m4 0h0m6 0h0m7 0h0m16 0h0m1 0h0m13 0h0m5 0h0m18 0h0m24 0h0m32 0h0m12 0h0m6 0h0m8 0h0m7 0h0m56 0h0m39 0h0m16 0h0m11 0h0m24 0h0m12 0h0m44 0h0m10 0h0m61 0h0m-962 1h0m1 0h0m89 0h0m23 0h0m188 0h0m1 0h0m16 0h0m51 0h0m1 0h0m8 0h0m27 0h0m1 0h0m5 0h0m5 0h0m12 0h0m4 0h0m2 0h0m3 0h0m3 0h0m1 0h0m3 0h0m1 0h0m1 0h0m2 0h0m1 0h0m2 0h0m2 0h0m1 0h0m1 0h0m2 0h0m1 0h0m6 0h0m2 0h0m2 0h0m2 0h0m2 0h0m1 0h0m1 0h0m1 0h0m4 0h0m1 0h0m1 0h0m3 0h0m2 0h0m6 0h0m1 0h0m4 0h0m2 0h0m1 0h0m1 0h0m4 0h0m2 0h0m2 0h0m1 0h0m2 0h0m2 0h0m2 0h0m2 0h0m2 0h0m1 0h0m8 0h0m4 0h0m26 0h0m16 0h0m191 0h0m8 0h0m90 0h0m6 0h0m-425 1h0m56 0h0m10 0h0m78 0h0m-149 1h0m2 0h0m12 0h0m-445 1h0m37 0h0m125 0h0m78 0h0m45 0h0m51 0h0m19 0h0m22 0h0m4 0h0m8 0h0m4 0h0m12 0h0m2 0h0m3 0h0m4 0h0m4 0h0m2 0h0m4 0h0m4 0h0m2 0h0m2 0h0m1 0h0m3 0h0m1 0h0m3 0h0m1 0h0m1 0h0m2 0h0m1 0h0m8 0h0m1 0h0m2 0h0m1 0h0m1 0h0m2 0h0m1 0h0m1 0h0m1 0h0m1 0h0m2 0h0m1 0h0m1 0h0m2 0h0m1 0h0m1 0h0m1 0h0m1 0h0m1 0h0m3 0h0m1 0h0m2 0h0m1 0h0m2 0h0m4 0h0m1 0h0m1 0h0m1 0h0m4 0h0m1 0h0m4 0h0m6 0h0m2 0h0m21 0h0m11 0h0m18 0h0m9 0h0m84 0h0m53 0h0m24 0h0m15 0h0m18 0h0m37 0h0m138 0h0m10 0h0m-955 1h0m25 0h0m37 0h0m7 0h0m15 0h0m30 0h0m31 0h0m38 0h0m16 0h0m2 0h0m59 0h0m7 0h0m49 0h0m45 0h0m4 0h0m3 0h0m26 0h0m1 0h0m1 0h0m7 0h0m4 0h0m4 0h0m4 0h0m6 0h0m1 0h0m4 0h0m2 0h0m2 0h0m1 0h0m1 0h0m1 0h0m2 0h0m2 0h0m2 0h0m1 0h0m1 0h0m3 0h0m1 0h0m2 0h0m1 0h0m1 0h0m1 0h0m2 0h0m2 0h0m1 0h0m1 0h0m1 0h0m1 0h0m1 0h0m2 0h0m1 0h0m1 0h0m1 0h0m1 0h0m1 0h0m1 0h0m1 0h0m1 0h0m1 0h0m2 0h0m1 0h0m1 0h0m2 0h0m1 0h0m2 0h0m2 0h0m1 0h0m1 0h0m1 0h0m2 0h0m1 0h0m1 0h0m1 0h0m2 0h0m6 0h0m1 0h0m4 0h0m1 0h0m2 0h0m1 0h0m3 0h0m2 0h0m1 0h0m1 0h0m1 0h0m2 0h0m4 0h0m2 0h0m5 0h0m3 0h0m1 0h0m1 0h0m4 0h0m4 0h0m5 0h0m13 0h0m7 0h0m21 0h0m53 0h0m28 0h0m34 0h0m33 0h0m10 0h0m13 0h0m86 0h0m4 0h0m12 0h0m3 0h0m30 0h0m15 0h0m21 0h0m-771 1h0m199 0h0m75 0h0m2 0h0m1 0h0m5 0h0m5 0h0m8 0h0m7 0h0m4 0h0m3 0h0m2 0h0m12 0h0m2 0h0m2 0h0m6 0h0m2 0h0m17 0h0m1 0h0m14 0h0m142 0h0m-659 2h0m34 0h0m28 0h0m71 0h0m72 0h0m38 0h0m114 0h0m43 0h0m19 0h0m7 0h0m2 0h0m7 0h0m1 0h0m3 0h0m1 0h0m4 0h0m3 0h0m17 0h0m4 0h0m4 0h0m1 0h0m3 0h0m4 0h0m10 0h0m2 0h0m4 0h0m4 0h0m16 0h0m27 0h0m234 0h0m34 0h0m40 0h0m-840 1h0m75 0h0m6 0h0m54 0h0m9 0h0m6 0h0m6 0h0m67 0h0m3 0h0m4 0h0m17 0h0m33 0h0m12 0h0m3 0h0m27 0h0m4 0h0m19 0h0m4 0h0m4 0h0m8 0h0m7 0h0m3 0h0m1 0h0m13 0h0m3 0h0m2 0h0m2 0h0m5 0h0m1 0h0m1 0h0m1 0h0m1 0h0m2 0h0m1 0h0m2 0h0m2 0h0m2 0h0m2 0h0m2 0h0m2 0h0m1 0h0m1 0h0m1 0h0m1 0h0m1 0h0m1 0h0m1 0h0m2 0h0m1 0h0m2 0h0m1 0h0m1 0h0m1 0h0m3 0h0m1 0h0m1 0h0m1 0h0m2 0h0m1 0h0m1 0h0m1 0h0m1 0h0m1 0h0m1 0h0m1 0h0m1 0h0m1 0h0m4 0h0m1 0h0m1 0h0m2 0h0m2 0h0m1 0h0m1 0h0m1 0h0m2 0h0m1 0h0m1 0h0m1 0h0m1 0h0m1 0h0m1 0h0m1 0h0m1 0h0m2 0h0m1 0h0m1 0h0m3 0h0m2 0h0m3 0h0m3 0h0m1 0h0m1 0h0m1 0h0m3 0h0m1 0h0m2 0h0m2 0h0m1 0h0m2 0h0m1 0h0m1 0h0m5 0h0m1 0h0m1 0h0m1 0h0m1 0h0m8 0h0m1 0h0m1 0h0m8 0h0m4 0h0m12 0h0m18 0h0m62 0h0m8 0h0m22 0h0m53 0h0m24 0h0m10 0h0m9 0h0m2 0h0m8 0h0m78 0h0m4 0h0m44 0h0m4 0h0m3 0h0m19 0h0m3 0h0m8 0h0m14 0h0m-849 1h0m15 0h0m154 0h0m84 0h0m33 0h0m10 0h0m6 0h0m10 0h0m14 0h0m3 0h0m3 0h0m3 0h0m7 0h0m2 0h0m1 0h0m1 0h0m2 0h0m2 0h0m2 0h0m1 0h0m1 0h0m7 0h0m3 0h0m3 0h0m3 0h0m12 0h0m8 0h0m5 0h0m1 0h0m10 0h0m15 0h0m2 0h0m82 0h0m53 0h0m-686 2h0m10 0h0m139 0h0m315 0h0m5 0h0m3 0h0m2 0h0m14 0h0m20 0h0m28 0h0m134 0h0m-611 1h0m34 0h0m18 0h0m6 0h0m68 0h0m6 0h0m5 0h0m6 0h0m7 0h0m15 0h0m24 0h0m22 0h0m7 0h0m15 0h0m9 0h0m4 0h0m8 0h0m23 0h0m6 0h0m14 0h0m47 0h0m27 0h0m4 0h0m1 0h0m4 0h0m7 0h0m2 0h0m3 0h0m2 0h0m1 0h0m2 0h0m3 0h0m1 0h0m1 0h0m4 0h0m1 0h0m3 0h0m2 0h0m1 0h0m2 0h0m1 0h0m1 0h0m1 0h0m1 0h0m1 0h0m1 0h0m1 0h0m1 0h0m2 0h0m1 0h0m1 0h0m4 0h0m1 0h0m1 0h0m1 0h0m1 0h0m1 0h0m1 0h0m1 0h0m1 0h0m1 0h0m3 0h0m3 0h0m2 0h0m1 0h0m1 0h0m1 0h0m1 0h0m1 0h0m1 0h0m1 0h0m2 0h0m1 0h0m1 0h0m3 0h0m4 0h0m4 0h0m1 0h0m1 0h0m5 0h0m5 0h0m1 0h0m1 0h0m3 0h0m1 0h0m1 0h0m4 0h0m1 0h0m2 0h0m11 0h0m3 0h0m10 0h0m4 0h0m2 0h0m11 0h0m12 0h0m1 0h0m2 0h0m13 0h0m18 0h0m28 0h0m20 0h0m33 0h0m24 0h0m27 0h0m40 0h0m7 0h0m14 0h0m6 0h0m18 0h0m70 0h0m6 0h0m31 0h0m5 0h0m5 0h0m-976 1h0m27 0h0m13 0h0m14 0h0m32 0h0m153 0h0m29 0h0m21 0h0m19 0h0m9 0h0m70 0h0m1 0h0m5 0h0m1 0h0m6 0h0m3 0h0m2 0h0m14 0h0m4 0h0m6 0h0m15 0h0m2 0h0m1 0h0m2 0h0m3 0h0m5 0h0m2 0h0m4 0h0m3 0h0m1 0h0m2 0h0m2 0h0m1 0h0m3 0h0m3 0h0m1 0h0m1 0h0m3 0h0m1 0h0m1 0h0m1 0h0m1 0h0m2 0h0m2 0h0m3 0h0m3 0h0m3 0h0m1 0h0m2 0h0m3 0h0m1 0h0m5 0h0m1 0h0m2 0h0m1 0h0m3 0h0m1 0h0m1 0h0m2 0h0m6 0h0m1 0h0m1 0h0m1 0h0m1 0h0m1 0h0m2 0h0m2 0h0m5 0h0m1 0h0m11 0h0m3 0h0m2 0h0m3 0h0m1 0h0m2 0h0m51 0h0m6 0h0m2 0h0m41 0h0m52 0h0m48 0h0m40 0h0m14 0h0m30 0h0m48 0h0m76 0h0m-535 1h0m48 0h0m22 0h0m103 0h0m344 0h0m-553 1h0m-401 1h0m79 0h0m2 0h0m50 0h0m34 0h0m13 0h0m26 0h0m79 0h0m81 0h0m58 0h0m6 0h0m7 0h0m17 0h0m1 0h0m3 0h0m1 0h0m1 0h0m2 0h0m2 0h0m1 0h0m2 0h0m1 0h0m3 0h0m2 0h0m5 0h0m5 0h0m1 0h0m6 0h0m1 0h0m3 0h0m1 0h0m6 0h0m1 0h0m1 0h0m1 0h0m4 0h0m3 0h0m1 0h0m1 0h0m4 0h0m3 0h0m3 0h0m1 0h0m2 0h0m8 0h0m2 0h0m2 0h0m8 0h0m11 0h0m5 0h0m5 0h0m10 0h0m22 0h0m69 0h0m4 0h0m44 0h0m43 0h0m-725 1h0m6 0h0m19 0h0m30 0h0m11 0h0m38 0h0m17 0h0m51 0h0m34 0h0m14 0h0m25 0h0m2 0h0m17 0h0m4 0h0m10 0h0m2 0h0m35 0h0m53 0h0m2 0h0m13 0h0m4 0h0m4 0h0m4 0h0m3 0h0m3 0h0m6 0h0m4 0h0m5 0h0m3 0h0m2 0h0m2 0h0m1 0h0m1 0h0m2 0h0m1 0h0m1 0h0m1 0h0m1 0h0m3 0h0m1 0h0m2 0h0m1 0h0m2 0h0m3 0h0m1 0h0m1 0h0m1 0h0m1 0h0m2 0h0m1 0h0m1 0h0m1 0h0m2 0h0m1 0h0m2 0h0m1 0h0m3 0h0m1 0h0m1 0h0m1 0h0m1 0h0m1 0h0m2 0h0m1 0h0m1 0h0m1 0h0m1 0h0m2 0h0m3 0h0m2 0h0m1 0h0m1 0h0m1 0h0m1 0h0m1 0h0m1 0h0m1 0h0m1 0h0m1 0h0m2 0h0m1 0h0m6 0h0m2 0h0m7 0h0m2 0h0m4 0h0m7 0h0m1 0h0m15 0h0m4 0h0m30 0h0m26 0h0m18 0h0m25 0h0m1 0h0m1 0h0m35 0h0m20 0h0m37 0h0m29 0h0m2 0h0m28 0h0m26 0h0m5 0h0m4 0h0m19 0h0m41 0h0m7 0h0m-494 1h0m15 0h0m3 0h0m2 0h0m7 0h0m9 0h0m21 0h0m7 0h0m5 0h0m1 0h0m4 0h0m6 0h0m6 0h0m5 0h0m2 0h0m2 0h0m4 0h0m2 0h0m21 0h0m5 0h0m159 0h0m56 0h0m-773 2h0m360 0h0m53 0h0m29 0h0m22 0h0m3 0h0m2 0h0m3 0h0m11 0h0m13 0h0m3 0h0m1 0h0m1 0h0m1 0h0m4 0h0m1 0h0m3 0h0m2 0h0m4 0h0m3 0h0m3 0h0m7 0h0m3 0h0m33 0h0m4 0h0m3 0h0m9 0h0m133 0h0m69 0h0m151 0h0m-904 1h0m11 0h0m7 0h0m16 0h0m60 0h0m27 0h0m36 0h0m25 0h0m3 0h0m16 0h0m4 0h0m9 0h0m41 0h0m58 0h0m41 0h0m8 0h0m14 0h0m6 0h0m1 0h0m4 0h0m2 0h0m3 0h0m5 0h0m2 0h0m7 0h0m4 0h0m1 0h0m1 0h0m1 0h0m4 0h0m1 0h0m3 0h0m3 0h0m2 0h0m8 0h0m3 0h0m1 0h0m1 0h0m3 0h0m1 0h0m1 0h0m1 0h0m1 0h0m1 0h0m2 0h0m1 0h0m1 0h0m1 0h0m1 0h0m1 0h0m2 0h0m1 0h0m1 0h0m1 0h0m2 0h0m1 0h0m1 0h0m2 0h0m1 0h0m1 0h0m1 0h0m1 0h0m3 0h0m1 0h0m1 0h0m2 0h0m1 0h0m1 0h0m1 0h0m3 0h0m4 0h0m1 0h0m1 0h0m1 0h0m2 0h0m1 0h0m1 0h0m1 0h0m1 0h0m1 0h0m1 0h0m4 0h0m2 0h0m1 0h0m1 0h0m3 0h0m3 0h0m3 0h0m9 0h0m4 0h0m1 0h0m9 0h0m2 0h0m6 0h0m3 0h0m5 0h0m5 0h0m18 0h0m1 0h0m4 0h0m30 0h0m6 0h0m13 0h0m37 0h0m103 0h0m15 0h0m85 0h0m32 0h0m17 0h0m32 0h0m-956 1h0m141 0h0m112 0h0m45 0h0m43 0h0m30 0h0m12 0h0m15 0h0m2 0h0m9 0h0m4 0h0m4 0h0m2 0h0m2 0h0m2 0h0m5 0h0m1 0h0m5 0h0m3 0h0m3 0h0m1 0h0m2 0h0m11 0h0m1 0h0m2 0h0m1 0h0m1 0h0m1 0h0m1 0h0m3 0h0m1 0h0m3 0h0m3 0h0m3 0h0m1 0h0m4 0h0m2 0h0m2 0h0m1 0h0m1 0h0m4 0h0m6 0h0m1 0h0m3 0h0m1 0h0m4 0h0m3 0h0m2 0h0m10 0h0m7 0h0m2 0h0m9 0h0m39 0h0m2 0h0m18 0h0m6 0h0m49 0h0m32 0h0m61 0h0m113 0h0m86 0h0m-477 1h0m44 0h0m-80 1h0m1 0h0m6 0h0m1 0h0m12 0h0m11 0h0m23 0h0m1 0h0m24 0h0m329 0h0m-864 1h0m1 0h0m93 0h0m6 0h0m18 0h0m9 0h0m66 0h0m57 0h0m72 0h0m66 0h0m24 0h0m17 0h0m2 0h0m5 0h0m1 0h0m2 0h0m1 0h0m2 0h0m1 0h0m1 0h0m1 0h0m4 0h0m2 0h0m1 0h0m2 0h0m1 0h0m1 0h0m1 0h0m1 0h0m1 0h0m1 0h0m2 0h0m2 0h0m2 0h0m4 0h0m1 0h0m1 0h0m1 0h0m1 0h0m2 0h0m1 0h0m3 0h0m1 0h0m1 0h0m2 0h0m1 0h0m3 0h0m1 0h0m1 0h0m1 0h0m1 0h0m1 0h0m1 0h0m1 0h0m1 0h0m1 0h0m1 0h0m1 0h0m1 0h0m1 0h0m1 0h0m1 0h0m1 0h0m1 0h0m2 0h0m1 0h0m1 0h0m1 0h0m1 0h0m1 0h0m3 0h0m2 0h0m1 0h0m1 0h0m1 0h0m3 0h0m1 0h0m3 0h0m2 0h0m2 0h0m1 0h0m2 0h0m1 0h0m4 0h0m2 0h0m4 0h0m4 0h0m2 0h0m2 0h0m4 0h0m9 0h0m5 0h0m12 0h0m10 0h0m70 0h0m9 0h0m2 0h0m22 0h0m12 0h0m27 0h0m45 0h0m28 0h0m43 0h0m1 0h0m92 0h0m-914 1h0m16 0h0m57 0h0m8 0h0m31 0h0m31 0h0m13 0h0m21 0h0m90 0h0m17 0h0m42 0h0m12 0h0m17 0h0m37 0h0m1 0h0m4 0h0m5 0h0m4 0h0m5 0h0m4 0h0m3 0h0m2 0h0m1 0h0m3 0h0m4 0h0m1 0h0m1 0h0m1 0h0m2 0h0m3 0h0m2 0h0m1 0h0m2 0h0m1 0h0m1 0h0m1 0h0m1 0h0m3 0h0m2 0h0m1 0h0m3 0h0m1 0h0m2 0h0m1 0h0m1 0h0m1 0h0m1 0h0m2 0h0m1 0h0m2 0h0m1 0h0m1 0h0m1 0h0m1 0h0m1 0h0m1 0h0m1 0h0m1 0h0m1 0h0m3 0h0m5 0h0m1 0h0m1 0h0m3 0h0m1 0h0m1 0h0m1 0h0m1 0h0m1 0h0m1 0h0m3 0h0m2 0h0m1 0h0m1 0h0m4 0h0m3 0h0m2 0h0m2 0h0m6 0h0m5 0h0m1 0h0m3 0h0m2 0h0m6 0h0m2 0h0m1 0h0m14 0h0m5 0h0m47 0h0m1 0h0m51 0h0m18 0h0m18 0h0m10 0h0m4 0h0m58 0h0m7 0h0m41 0h0m68 0h0m6 0h0m52 0h0m1 0h0m-524 1h0m45 0h0m-367 2h0m27 0h0m201 0h0m46 0h0m25 0h0m3 0h0m3 0h0m1 0h0m4 0h0m17 0h0m4 0h0m1 0h0m7 0h0m1 0h0m2 0h0m4 0h0m1 0h0m2 0h0m2 0h0m3 0h0m4 0h0m3 0h0m2 0h0m1 0h0m1 0h0m7 0h0m2 0h0m2 0h0m2 0h0m2 0h0m3 0h0m2 0h0m1 0h0m6 0h0m1 0h0m4 0h0m1 0h0m8 0h0m4 0h0m6 0h0m32 0h0m7 0h0m12 0h0m6 0h0m85 0h0m59 0h0m40 0h0m105 0h0m53 0h0m44 0h0m-971 1h0m37 0h0m110 0h0m36 0h0m22 0h0m16 0h0m18 0h0m19 0h0m42 0h0m2 0h0m3 0h0m8 0h0m2 0h0m35 0h0m5 0h0m10 0h0m20 0h0m15 0h0m1 0h0m7 0h0m4 0h0m3 0h0m8 0h0m2 0h0m1 0h0m1 0h0m3 0h0m2 0h0m1 0h0m3 0h0m1 0h0m3 0h0m1 0h0m1 0h0m1 0h0m3 0h0m1 0h0m7 0h0m1 0h0m1 0h0m1 0h0m1 0h0m2 0h0m1 0h0m1 0h0m2 0h0m1 0h0m1 0h0m1 0h0m1 0h0m1 0h0m1 0h0m1 0h0m1 0h0m1 0h0m1 0h0m1 0h0m2 0h0m1 0h0m1 0h0m1 0h0m1 0h0m1 0h0m1 0h0m1 0h0m1 0h0m1 0h0m1 0h0m1 0h0m1 0h0m2 0h0m1 0h0m1 0h0m1 0h0m1 0h0m2 0h0m1 0h0m1 0h0m1 0h0m4 0h0m3 0h0m1 0h0m1 0h0m4 0h0m3 0h0m1 0h0m1 0h0m1 0h0m1 0h0m2 0h0m1 0h0m2 0h0m1 0h0m1 0h0m6 0h0m8 0h0m1 0h0m3 0h0m1 0h0m1 0h0m2 0h0m9 0h0m15 0h0m31 0h0m2 0h0m3 0h0m85 0h0m67 0h0m6 0h0m13 0h0m2 0h0m4 0h0m9 0h0m23 0h0m34 0h0m29 0h0m3 0h0m50 0h0m32 0h0m-974 1h0m43 0h0m106 0h0m106 0h0m110 0h0m36 0h0m24 0h0m2 0h0m15 0h0m3 0h0m4 0h0m16 0h0m6 0h0m1 0h0m6 0h0m3 0h0m4 0h0m3 0h0m3 0h0m4 0h0m2 0h0m2 0h0m3 0h0m1 0h0m8 0h0m18 0h0m3 0h0m321 0h0m-568 2h0m34 0h0m142 0h0m2 0h0m3 0h0m6 0h0m5 0h0m17 0h0m3 0h0m1 0h0m5 0h0m5 0h0m6 0h0m3 0h0m43 0h0m57 0h0m30 0h0m120 0h0m119 0h0m-883 1h0m9 0h0m8 0h0m27 0h0m6 0h0m70 0h0m10 0h0m29 0h0m12 0h0m17 0h0m12 0h0m9 0h0m8 0h0m44 0h0m28 0h0m37 0h0m4 0h0m1 0h0m34 0h0m1 0h0m1 0h0m3 0h0m16 0h0m15 0h0m2 0h0m1 0h0m6 0h0m5 0h0m8 0h0m1 0h0m3 0h0m1 0h0m1 0h0m1 0h0m2 0h0m3 0h0m6 0h0m1 0h0m5 0h0m2 0h0m1 0h0m3 0h0m1 0h0m1 0h0m3 0h0m1 0h0m1 0h0m1 0h0m1 0h0m1 0h0m3 0h0m1 0h0m1 0h0m1 0h0m1 0h0m1 0h0m1 0h0m1 0h0m1 0h0m1 0h0m1 0h0m1 0h0m2 0h0m1 0h0m1 0h0m1 0h0m1 0h0m1 0h0m1 0h0m1 0h0m1 0h0m1 0h0m1 0h0m1 0h0m1 0h0m1 0h0m1 0h0m4 0h0m1 0h0m1 0h0m1 0h0m1 0h0m1 0h0m1 0h0m1 0h0m1 0h0m1 0h0m1 0h0m3 0h0m1 0h0m2 0h0m2 0h0m3 0h0m1 0h0m1 0h0m1 0h0m2 0h0m1 0h0m2 0h0m1 0h0m1 0h0m1 0h0m1 0h0m6 0h0m3 0h0m1 0h0m3 0h0m8 0h0m5 0h0m10 0h0m1 0h0m20 0h0m3 0h0m6 0h0m13 0h0m10 0h0m9 0h0m8 0h0m2 0h0m8 0h0m35 0h0m7 0h0m23 0h0m25 0h0m42 0h0m17 0h0m24 0h0m1 0h0m28 0h0m17 0h0m39 0h0m7 0h0m63 0h0m-939 1h0m57 0h0m8 0h0m52 0h0m27 0h0m17 0h0m73 0h0m11 0h0m26 0h0m5 0h0m2 0h0m45 0h0m21 0h0m10 0h0m22 0h0m8 0h0m6 0h0m4 0h0m6 0h0m3 0h0m3 0h0m4 0h0m1 0h0m1 0h0m1 0h0m1 0h0m2 0h0m2 0h0m1 0h0m1 0h0m1 0h0m2 0h0m1 0h0m5 0h0m2 0h0m2 0h0m5 0h0m3 0h0m1 0h0m4 0h0m2 0h0m2 0h0m3 0h0m2 0h0m2 0h0m1 0h0m3 0h0m2 0h0m1 0h0m1 0h0m3 0h0m1 0h0m2 0h0m1 0h0m1 0h0m1 0h0m1 0h0m3 0h0m4 0h0m2 0h0m1 0h0m6 0h0m1 0h0m2 0h0m1 0h0m5 0h0m2 0h0m1 0h0m1 0h0m8 0h0m32 0h0m6 0h0m22 0h0m39 0h0m8 0h0m78 0h0m17 0h0m2 0h0m24 0h0m9 0h0m-314 2h0m11 0h0m9 0h0m2 0h0m7 0h0m-493 1h0m14 0h0m36 0h0m173 0h0m3 0h0m155 0h0m17 0h0m1 0h0m11 0h0m2 0h0m7 0h0m3 0h0m4 0h0m1 0h0m2 0h0m4 0h0m3 0h0m4 0h0m2 0h0m2 0h0m1 0h0m4 0h0m1 0h0m1 0h0m2 0h0m1 0h0m5 0h0m1 0h0m2 0h0m3 0h0m1 0h0m1 0h0m1 0h0m1 0h0m3 0h0m1 0h0m1 0h0m1 0h0m5 0h0m1 0h0m1 0h0m1 0h0m2 0h0m2 0h0m2 0h0m1 0h0m1 0h0m1 0h0m2 0h0m1 0h0m1 0h0m1 0h0m3 0h0m1 0h0m2 0h0m1 0h0m3 0h0m14 0h0m3 0h0m7 0h0m5 0h0m11 0h0m1 0h0m5 0h0m13 0h0m71 0h0m12 0h0m18 0h0m5 0h0m39 0h0m23 0h0m1 0h0m65 0h0m4 0h0m7 0h0m27 0h0m80 0h0m14 0h0m38 0h0m-956 1h0m48 0h0m43 0h0m33 0h0m18 0h0m1 0h0m66 0h0m32 0h0m75 0h0m9 0h0m4 0h0m4 0h0m19 0h0m15 0h0m6 0h0m12 0h0m1 0h0m2 0h0m15 0h0m1 0h0m4 0h0m1 0h0m2 0h0m1 0h0m5 0h0m1 0h0m5 0h0m2 0h0m1 0h0m1 0h0m2 0h0m3 0h0m1 0h0m1 0h0m2 0h0m2 0h0m3 0h0m1 0h0m1 0h0m1 0h0m3 0h0m1 0h0m3 0h0m1 0h0m2 0h0m1 0h0m1 0h0m1 0h0m1 0h0m1 0h0m1 0h0m2 0h0m2 0h0m1 0h0m2 0h0m1 0h0m1 0h0m2 0h0m1 0h0m2 0h0m1 0h0m6 0h0m1 0h0m4 0h0m1 0h0m1 0h0m1 0h0m1 0h0m2 0h0m2 0h0m2 0h0m2 0h0m1 0h0m1 0h0m1 0h0m1 0h0m1 0h0m3 0h0m1 0h0m1 0h0m1 0h0m3 0h0m3 0h0m1 0h0m1 0h0m2 0h0m4 0h0m1 0h0m3 0h0m5 0h0m4 0h0m3 0h0m33 0h0m4 0h0m8 0h0m51 0h0m23 0h0m10 0h0m14 0h0m38 0h0m23 0h0m8 0h0m6 0h0m2 0h0m15 0h0m34 0h0m31 0h0m11 0h0m43 0h0m47 0h0m2 0h0m7 0h0m-599 1h0m82 0h0m16 0h0m11 0h0m14 0h0m9 0h0m9 0h0m2 0h0m8 0h0m8 0h0m17 0h0m25 0h0m143 0h0m3 0h0m39 0h0m6 0h0m-337 2h0m13 0h0m5 0h0m4 0h0m16 0h0m12 0h0m12 0h0m16 0h0m5 0h0m2 0h0m6 0h0m4 0h0m4 0h0m161 0h0m-681 1h0m29 0h0m1 0h0m9 0h0m11 0h0m27 0h0m40 0h0m1 0h0m12 0h0m9 0h0m39 0h0m98 0h0m17 0h0m19 0h0m20 0h0m4 0h0m12 0h0m19 0h0m26 0h0m8 0h0m2 0h0m14 0h0m1 0h0m6 0h0m3 0h0m4 0h0m1 0h0m2 0h0m1 0h0m1 0h0m1 0h0m4 0h0m3 0h0m3 0h0m2 0h0m2 0h0m2 0h0m1 0h0m1 0h0m3 0h0m1 0h0m1 0h0m1 0h0m1 0h0m1 0h0m9 0h0m2 0h0m1 0h0m1 0h0m2 0h0m1 0h0m2 0h0m2 0h0m2 0h0m2 0h0m3 0h0m2 0h0m3 0h0m2 0h0m1 0h0m1 0h0m3 0h0m4 0h0m3 0h0m1 0h0m1 0h0m1 0h0m1 0h0m1 0h0m4 0h0m1 0h0m1 0h0m3 0h0m4 0h0m1 0h0m1 0h0m1 0h0m1 0h0m6 0h0m1 0h0m2 0h0m1 0h0m5 0h0m7 0h0m2 0h0m10 0h0m2 0h0m4 0h0m2 0h0m13 0h0m16 0h0m19 0h0m66 0h0m2 0h0m8 0h0m32 0h0m11 0h0m37 0h0m3 0h0m35 0h0m29 0h0m29 0h0m21 0h0m5 0h0m2 0h0m8 0h0m-889 1h0m23 0h0m79 0h0m18 0h0m175 0h0m1 0h0m30 0h0m9 0h0m9 0h0m1 0h0m33 0h0m20 0h0m3 0h0m4 0h0m3 0h0m5 0h0m4 0h0m4 0h0m5 0h0m4 0h0m4 0h0m2 0h0m3 0h0m2 0h0m2 0h0m1 0h0m3 0h0m2 0h0m1 0h0m3 0h0m1 0h0m6 0h0m1 0h0m1 0h0m2 0h0m2 0h0m1 0h0m1 0h0m1 0h0m1 0h0m2 0h0m3 0h0m3 0h0m1 0h0m1 0h0m1 0h0m4 0h0m1 0h0m5 0h0m5 0h0m2 0h0m1 0h0m1 0h0m4 0h0m8 0h0m1 0h0m1 0h0m4 0h0m3 0h0m2 0h0m1 0h0m8 0h0m12 0h0m21 0h0m14 0h0m2 0h0m28 0h0m35 0h0m57 0h0m89 0h0m56 0h0m3 0h0m49 0h0m19 0h0m9 0h0m7 0h0m-907 1h0m32 0h0m100 0h0m40 0h0m55 0h0m62 0h0m5 0h0m14 0h0m5 0h0m17 0h0m10 0h0m6 0h0m17 0h0m21 0h0m4 0h0m2 0h0m2 0h0m12 0h0m1 0h0m3 0h0m2 0h0m1 0h0m2 0h0m5 0h0m2 0h0m1 0h0m2 0h0m1 0h0m3 0h0m4 0h0m1 0h0m2 0h0m1 0h0m1 0h0m1 0h0m3 0h0m7 0h0m3 0h0m3 0h0m1 0h0m2 0h0m1 0h0m2 0h0m4 0h0m3 0h0m2 0h0m1 0h0m3 0h0m2 0h0m3 0h0m12 0h0m35 0h0m83 0h0m13 0h0m22 0h0m6 0h0m9 0h0m29 0h0m95 0h0m5 0h0m29 0h0m7 0h0m97 0h0m-937 1h0m5 0h0m39 0h0m32 0h0m11 0h0m29 0h0m4 0h0m13 0h0m23 0h0m24 0h0m42 0h0m5 0h0m34 0h0m77 0h0m33 0h0m14 0h0m3 0h0m8 0h0m1 0h0m9 0h0m5 0h0m7 0h0m2 0h0m3 0h0m2 0h0m4 0h0m3 0h0m1 0h0m2 0h0m2 0h0m3 0h0m3 0h0m2 0h0m2 0h0m5 0h0m6 0h0m1 0h0m1 0h0m1 0h0m1 0h0m6 0h0m1 0h0m8 0h0m2 0h0m1 0h0m9 0h0m3 0h0m8 0h0m2 0h0m1 0h0m5 0h0m7 0h0m7 0h0m42 0h0m13 0h0m125 0h0m139 0h0m80 0h0m5 0h0m-939 1h0m7 0h0m46 0h0m69 0h0m47 0h0m12 0h0m97 0h0m47 0h0m33 0h0m24 0h0m13 0h0m5 0h0m8 0h0m1 0h0m9 0h0m1 0h0m2 0h0m5 0h0m1 0h0m11 0h0m5 0h0m3 0h0m3 0h0m4 0h0m1 0h0m1 0h0m3 0h0m2 0h0m1 0h0m1 0h0m1 0h0m4 0h0m1 0h0m2 0h0m1 0h0m1 0h0m3 0h0m4 0h0m1 0h0m1 0h0m3 0h0m5 0h0m1 0h0m3 0h0m3 0h0m1 0h0m1 0h0m1 0h0m4 0h0m10 0h0m3 0h0m1 0h0m2 0h0m34 0h0m25 0h0m13 0h0m41 0h0m7 0h0m64 0h0m29 0h0m87 0h0m85 0h0m-920 1h0m26 0h0m117 0h0m155 0h0m25 0h0m37 0h0m36 0h0m20 0h0m5 0h0m6 0h0m2 0h0m2 0h0m3 0h0m1 0h0m8 0h0m3 0h0m12 0h0m1 0h0m3 0h0m10 0h0m4 0h0m6 0h0m2 0h0m5 0h0m1 0h0m1 0h0m2 0h0m2 0h0m2 0h0m4 0h0m2 0h0m1 0h0m1 0h0m7 0h0m1 0h0m2 0h0m2 0h0m3 0h0m2 0h0m10 0h0m16 0h0m2 0h0m1 0h0m3 0h0m3 0h0m11 0h0m51 0h0m8 0h0m188 0h0m91 0h0m-822 1h0m197 0h0m4 0h0m94 0h0m34 0h0m7 0h0m1 0h0m4 0h0m11 0h0m11 0h0m3 0h0m2 0h0m1 0h0m8 0h0m5 0h0m1 0h0m1 0h0m1 0h0m3 0h0m2 0h0m1 0h0m1 0h0m1 0h0m5 0h0m1 0h0m1 0h0m1 0h0m4 0h0m5 0h0m1 0h0m2 0h0m2 0h0m4 0h0m1 0h0m1 0h0m3 0h0m2 0h0m3 0h0m3 0h0m3 0h0m5 0h0m4 0h0m5 0h0m4 0h0m1 0h0m12 0h0m2 0h0m14 0h0m17 0h0m1 0h0m12 0h0m377 0h0m-969 1h0m49 0h0m115 0h0m18 0h0m87 0h0m4 0h0m38 0h0m26 0h0m11 0h0m21 0h0m7 0h0m7 0h0m6 0h0m11 0h0m20 0h0m1 0h0m3 0h0m4 0h0m8 0h0m4 0h0m4 0h0m4 0h0m5 0h0m4 0h0m3 0h0m10 0h0m3 0h0m5 0h0m6 0h0m2 0h0m2 0h0m3 0h0m6 0h0m1 0h0m2 0h0m11 0h0m1 0h0m2 0h0m6 0h0m1 0h0m10 0h0m2 0h0m16 0h0m38 0h0m51 0h0m42 0h0m7 0h0m36 0h0m85 0h0m44 0h0m-837 1h0m32 0h0m98 0h0m25 0h0m112 0h0m108 0h0m10 0h0m12 0h0m18 0h0m1 0h0m5 0h0m1 0h0m3 0h0m6 0h0m9 0h0m3 0h0m2 0h0m2 0h0m1 0h0m2 0h0m2 0h0m2 0h0m4 0h0m1 0h0m1 0h0m2 0h0m1 0h0m2 0h0m1 0h0m2 0h0m2 0h0m2 0h0m2 0h0m10 0h0m2 0h0m3 0h0m3 0h0m1 0h0m4 0h0m3 0h0m4 0h0m1 0h0m1 0h0m2 0h0m1 0h0m19 0h0m118 0h0m6 0h0m49 0h0m148 0h0m42 0h0m10 0h0m41 0h0m12 0h0m-957 1h0m15 0h0m26 0h0m111 0h0m46 0h0m16 0h0m39 0h0m12 0h0m6 0h0m60 0h0m8 0h0m57 0h0m31 0h0m5 0h0m1 0h0m2 0h0m2 0h0m4 0h0m5 0h0m5 0h0m4 0h0m3 0h0m1 0h0m1 0h0m4 0h0m1 0h0m4 0h0m1 0h0m2 0h0m2 0h0m6 0h0m1 0h0m1 0h0m1 0h0m1 0h0m5 0h0m1 0h0m2 0h0m1 0h0m4 0h0m1 0h0m2 0h0m1 0h0m5 0h0m3 0h0m3 0h0m1 0h0m18 0h0m11 0h0m19 0h0m14 0h0m17 0h0m84 0h0m24 0h0m9 0h0m44 0h0m41 0h0m63 0h0m35 0h0m23 0h0m3 0h0m12 0h0m4 0h0m-732 1h0m7 0h0m3 0h0m40 0h0m52 0h0m54 0h0m28 0h0m5 0h0m16 0h0m11 0h0m2 0h0m1 0h0m1 0h0m9 0h0m3 0h0m5 0h0m1 0h0m2 0h0m4 0h0m1 0h0m3 0h0m2 0h0m1 0h0m3 0h0m2 0h0m3 0h0m1 0h0m1 0h0m2 0h0m1 0h0m2 0h0m1 0h0m1 0h0m8 0h0m6 0h0m3 0h0m1 0h0m2 0h0m1 0h0m6 0h0m1 0h0m3 0h0m1 0h0m3 0h0m3 0h0m9 0h0m3 0h0m11 0h0m12 0h0m4 0h0m17 0h0m6 0h0m82 0h0m227 0h0m34 0h0m-922 1h0m54 0h0m33 0h0m58 0h0m26 0h0m59 0h0m42 0h0m71 0h0m14 0h0m26 0h0m8 0h0m23 0h0m4 0h0m5 0h0m1 0h0m15 0h0m1 0h0m1 0h0m2 0h0m5 0h0m3 0h0m1 0h0m1 0h0m1 0h0m1 0h0m1 0h0m2 0h0m1 0h0m1 0h0m4 0h0m2 0h0m1 0h0m5 0h0m2 0h0m2 0h0m3 0h0m4 0h0m2 0h0m2 0h0m1 0h0m1 0h0m3 0h0m5 0h0m1 0h0m3 0h0m6 0h0m1 0h0m4 0h0m2 0h0m1 0h0m10 0h0m6 0h0m6 0h0m2 0h0m9 0h0m47 0h0m62 0h0m18 0h0m13 0h0m45 0h0m15 0h0m14 0h0m62 0h0m25 0h0m46 0h0m15 0h0m17 0h0m2 0h0m16 0h0m-962 1h0m8 0h0m103 0h0m22 0h0m66 0h0m133 0h0m21 0h0m1 0h0m4 0h0m22 0h0m49 0h0m2 0h0m1 0h0m2 0h0m16 0h0m4 0h0m2 0h0m13 0h0m5 0h0m3 0h0m1 0h0m1 0h0m1 0h0m1 0h0m1 0h0m1 0h0m2 0h0m1 0h0m5 0h0m3 0h0m3 0h0m3 0h0m1 0h0m4 0h0m1 0h0m4 0h0m1 0h0m4 0h0m2 0h0m1 0h0m2 0h0m5 0h0m6 0h0m34 0h0m45 0h0m8 0h0m3 0h0m3 0h0m20 0h0m21 0h0m5 0h0m28 0h0m13 0h0m63 0h0m104 0h0m5 0h0m13 0h0m44 0h0m16 0h0m-851 1h0m52 0h0m39 0h0m94 0h0m60 0h0m6 0h0m7 0h0m5 0h0m14 0h0m48 0h0m3 0h0m12 0h0m6 0h0m3 0h0m5 0h0m11 0h0m1 0h0m1 0h0m3 0h0m1 0h0m1 0h0m4 0h0m2 0h0m1 0h0m2 0h0m1 0h0m3 0h0m1 0h0m2 0h0m2 0h0m2 0h0m1 0h0m2 0h0m4 0h0m1 0h0m1 0h0m1 0h0m3 0h0m2 0h0m3 0h0m2 0h0m2 0h0m1 0h0m1 0h0m1 0h0m2 0h0m2 0h0m9 0h0m4 0h0m3 0h0m4 0h0m6 0h0m2 0h0m7 0h0m10 0h0m2 0h0m3 0h0m20 0h0m80 0h0m25 0h0m33 0h0m47 0h0m1 0h0m23 0h0m51 0h0m118 0h0m-863 1h0m61 0h0m19 0h0m3 0h0m57 0h0m25 0h0m23 0h0m8 0h0m8 0h0m50 0h0m50 0h0m15 0h0m4 0h0m2 0h0m3 0h0m8 0h0m4 0h0m1 0h0m8 0h0m6 0h0m4 0h0m2 0h0m1 0h0m1 0h0m2 0h0m1 0h0m1 0h0m2 0h0m1 0h0m2 0h0m2 0h0m5 0h0m1 0h0m2 0h0m4 0h0m1 0h0m2 0h0m2 0h0m1 0h0m2 0h0m7 0h0m3 0h0m4 0h0m1 0h0m1 0h0m10 0h0m3 0h0m4 0h0m5 0h0m9 0h0m7 0h0m2 0h0m134 0h0m103 0h0m147 0h0m25 0h0m-923 1h0m137 0h0m163 0h0m11 0h0m30 0h0m39 0h0m16 0h0m10 0h0m3 0h0m1 0h0m1 0h0m2 0h0m4 0h0m5 0h0m2 0h0m1 0h0m6 0h0m1 0h0m4 0h0m1 0h0m1 0h0m2 0h0m1 0h0m1 0h0m1 0h0m3 0h0m1 0h0m1 0h0m1 0h0m4 0h0m1 0h0m2 0h0m1 0h0m1 0h0m3 0h0m1 0h0m3 0h0m1 0h0m2 0h0m3 0h0m10 0h0m10 0h0m2 0h0m2 0h0m2 0h0m5 0h0m1 0h0m2 0h0m7 0h0m8 0h0m20 0h0m9 0h0m60 0h0m34 0h0m124 0h0m47 0h0m38 0h0m56 0h0m-941 1h0m11 0h0m50 0h0m70 0h0m97 0h0m53 0h0m16 0h0m51 0h0m6 0h0m26 0h0m29 0h0m9 0h0m3 0h0m5 0h0m9 0h0m1 0h0m1 0h0m3 0h0m2 0h0m4 0h0m4 0h0m3 0h0m1 0h0m2 0h0m4 0h0m6 0h0m4 0h0m2 0h0m1 0h0m3 0h0m1 0h0m3 0h0m1 0h0m4 0h0m1 0h0m4 0h0m2 0h0m1 0h0m2 0h0m8 0h0m1 0h0m5 0h0m3 0h0m2 0h0m2 0h0m4 0h0m2 0h0m14 0h0m41 0h0m5 0h0m22 0h0m50 0h0m155 0h0m16 0h0m19 0h0m35 0h0m68 0h0m-935 1h0m11 0h0m364 0h0m5 0h0m21 0h0m11 0h0m1 0h0m5 0h0m2 0h0m5 0h0m3 0h0m1 0h0m2 0h0m2 0h0m7 0h0m1 0h0m2 0h0m4 0h0m2 0h0m1 0h0m3 0h0m1 0h0m3 0h0m1 0h0m1 0h0m2 0h0m1 0h0m1 0h0m1 0h0m1 0h0m1 0h0m2 0h0m2 0h0m1 0h0m4 0h0m1 0h0m1 0h0m6 0h0m1 0h0m3 0h0m2 0h0m3 0h0m4 0h0m3 0h0m1 0h0m3 0h0m4 0h0m2 0h0m2 0h0m1 0h0m1 0h0m11 0h0m21 0h0m30 0h0m9 0h0m39 0h0m13 0h0m2 0h0m29 0h0m28 0h0m72 0h0m59 0h0m105 0h0m26 0h0m-975 1h0m44 0h0m23 0h0m64 0h0m6 0h0m74 0h0m74 0h0m20 0h0m56 0h0m55 0h0m2 0h0m2 0h0m6 0h0m18 0h0m3 0h0m2 0h0m6 0h0m1 0h0m1 0h0m4 0h0m1 0h0m2 0h0m1 0h0m1 0h0m2 0h0m2 0h0m2 0h0m1 0h0m4 0h0m2 0h0m1 0h0m4 0h0m1 0h0m1 0h0m1 0h0m2 0h0m2 0h0m1 0h0m2 0h0m2 0h0m1 0h0m1 0h0m2 0h0m2 0h0m1 0h0m1 0h0m3 0h0m6 0h0m17 0h0m13 0h0m2 0h0m11 0h0m10 0h0m2 0h0m3 0h0m26 0h0m1 0h0m3 0h0m12 0h0m38 0h0m7 0h0m194 0h0m28 0h0m47 0h0m-625 1h0m30 0h0m6 0h0m7 0h0m26 0h0m17 0h0m19 0h0m21 0h0m1 0h0m4 0h0m2 0h0m10 0h0m6 0h0m9 0h0m2 0h0m2 0h0m1 0h0m2 0h0m2 0h0m4 0h0m1 0h0m1 0h0m3 0h0m1 0h0m5 0h0m1 0h0m2 0h0m3 0h0m1 0h0m1 0h0m1 0h0m1 0h0m2 0h0m1 0h0m8 0h0m1 0h0m1 0h0m3 0h0m1 0h0m3 0h0m1 0h0m1 0h0m11 0h0m3 0h0m5 0h0m29 0h0m61 0h0m13 0h0m13 0h0m44 0h0m157 0h0m23 0h0m20 0h0m37 0h0m-938 1h0m13 0h0m26 0h0m2 0h0m30 0h0m16 0h0m5 0h0m11 0h0m51 0h0m34 0h0m4 0h0m33 0h0m31 0h0m7 0h0m59 0h0m32 0h0m26 0h0m2 0h0m17 0h0m27 0h0m7 0h0m1 0h0m6 0h0m8 0h0m3 0h0m2 0h0m2 0h0m2 0h0m1 0h0m1 0h0m8 0h0m3 0h0m3 0h0m7 0h0m1 0h0m1 0h0m4 0h0m1 0h0m1 0h0m1 0h0m6 0h0m2 0h0m1 0h0m2 0h0m1 0h0m1 0h0m3 0h0m4 0h0m1 0h0m2 0h0m1 0h0m3 0h0m3 0h0m6 0h0m1 0h0m2 0h0m5 0h0m11 0h0m12 0h0m18 0h0m135 0h0m12 0h0m119 0h0m38 0h0m68 0h0m21 0h0m2 0h0m-833 1h0m13 0h0m103 0h0m24 0h0m137 0h0m2 0h0m14 0h0m11 0h0m1 0h0m2 0h0m2 0h0m6 0h0m5 0h0m1 0h0m5 0h0m3 0h0m2 0h0m3 0h0m1 0h0m1 0h0m4 0h0m2 0h0m1 0h0m2 0h0m1 0h0m2 0h0m3 0h0m4 0h0m1 0h0m3 0h0m1 0h0m1 0h0m8 0h0m1 0h0m2 0h0m1 0h0m1 0h0m3 0h0m1 0h0m5 0h0m1 0h0m2 0h0m5 0h0m6 0h0m8 0h0m4 0h0m6 0h0m19 0h0m7 0h0m13 0h0m7 0h0m6 0h0m42 0h0m102 0h0m21 0h0m22 0h0m77 0h0m3 0h0m12 0h0m77 0h0m-961 1h0m15 0h0m164 0h0m2 0h0m165 0h0m19 0h0m25 0h0m6 0h0m6 0h0m6 0h0m6 0h0m10 0h0m5 0h0m7 0h0m5 0h0m6 0h0m3 0h0m3 0h0m8 0h0m1 0h0m2 0h0m2 0h0m1 0h0m2 0h0m1 0h0m1 0h0m2 0h0m2 0h0m1 0h0m3 0h0m1 0h0m1 0h0m2 0h0m1 0h0m3 0h0m1 0h0m1 0h0m5 0h0m1 0h0m1 0h0m1 0h0m1 0h0m1 0h0m1 0h0m6 0h0m2 0h0m1 0h0m1 0h0m1 0h0m1 0h0m4 0h0m1 0h0m2 0h0m1 0h0m1 0h0m2 0h0m1 0h0m3 0h0m4 0h0m8 0h0m7 0h0m6 0h0m19 0h0m8 0h0m2 0h0m39 0h0m9 0h0m41 0h0m54 0h0m5 0h0m22 0h0m56 0h0m3 0h0m26 0h0m143 0h0m-886 1h0m12 0h0m32 0h0m23 0h0m12 0h0m37 0h0m37 0h0m5 0h0m61 0h0m51 0h0m16 0h0m11 0h0m39 0h0m5 0h0m7 0h0m2 0h0m2 0h0m5 0h0m1 0h0m5 0h0m2 0h0m1 0h0m4 0h0m4 0h0m3 0h0m2 0h0m4 0h0m2 0h0m1 0h0m3 0h0m4 0h0m4 0h0m2 0h0m3 0h0m1 0h0m1 0h0m2 0h0m1 0h0m5 0h0m1 0h0m4 0h0m1 0h0m2 0h0m1 0h0m3 0h0m3 0h0m2 0h0m4 0h0m6 0h0m12 0h0m3 0h0m1 0h0m1 0h0m4 0h0m35 0h0m4 0h0m2 0h0m56 0h0m56 0h0m12 0h0m17 0h0m12 0h0m183 0h0m7 0h0m-827 1h0m66 0h0m110 0h0m22 0h0m37 0h0m31 0h0m7 0h0m1 0h0m15 0h0m17 0h0m6 0h0m7 0h0m4 0h0m1 0h0m9 0h0m1 0h0m6 0h0m7 0h0m1 0h0m1 0h0m2 0h0m2 0h0m1 0h0m2 0h0m1 0h0m1 0h0m1 0h0m2 0h0m6 0h0m1 0h0m1 0h0m1 0h0m2 0h0m1 0h0m2 0h0m1 0h0m2 0h0m1 0h0m1 0h0m1 0h0m3 0h0m1 0h0m7 0h0m1 0h0m1 0h0m2 0h0m1 0h0m1 0h0m1 0h0m6 0h0m2 0h0m1 0h0m1 0h0m4 0h0m2 0h0m6 0h0m3 0h0m3 0h0m2 0h0m3 0h0m6 0h0m12 0h0m31 0h0m62 0h0m8 0h0m23 0h0m34 0h0m39 0h0m55 0h0m62 0h0m31 0h0m20 0h0m24 0h0m-857 1h0m58 0h0m10 0h0m112 0h0m42 0h0m17 0h0m16 0h0m54 0h0m1 0h0m3 0h0m7 0h0m26 0h0m2 0h0m3 0h0m1 0h0m2 0h0m1 0h0m1 0h0m3 0h0m11 0h0m2 0h0m5 0h0m2 0h0m3 0h0m2 0h0m2 0h0m1 0h0m5 0h0m2 0h0m2 0h0m5 0h0m1 0h0m1 0h0m2 0h0m5 0h0m1 0h0m1 0h0m1 0h0m3 0h0m1 0h0m2 0h0m3 0h0m2 0h0m3 0h0m1 0h0m2 0h0m1 0h0m1 0h0m1 0h0m5 0h0m1 0h0m2 0h0m3 0h0m1 0h0m1 0h0m8 0h0m2 0h0m1 0h0m6 0h0m44 0h0m36 0h0m7 0h0m13 0h0m15 0h0m3 0h0m7 0h0m35 0h0m93 0h0m124 0h0m24 0h0m27 0h0m-958 1h0m53 0h0m63 0h0m3 0h0m5 0h0m54 0h0m43 0h0m24 0h0m143 0h0m1 0h0m7 0h0m9 0h0m13 0h0m5 0h0m1 0h0m3 0h0m2 0h0m4 0h0m12 0h0m1 0h0m2 0h0m1 0h0m1 0h0m3 0h0m3 0h0m6 0h0m2 0h0m1 0h0m1 0h0m2 0h0m2 0h0m2 0h0m2 0h0m1 0h0m4 0h0m4 0h0m3 0h0m2 0h0m1 0h0m1 0h0m1 0h0m2 0h0m1 0h0m2 0h0m1 0h0m2 0h0m1 0h0m3 0h0m1 0h0m1 0h0m3 0h0m5 0h0m6 0h0m1 0h0m1 0h0m22 0h0m1 0h0m12 0h0m1 0h0m4 0h0m4 0h0m29 0h0m28 0h0m93 0h0m10 0h0m36 0h0m62 0h0m5 0h0m21 0h0m41 0h0m-866 1h0m22 0h0m5 0h0m36 0h0m24 0h0m89 0h0m3 0h0m9 0h0m27 0h0m139 0h0m4 0h0m14 0h0m10 0h0m2 0h0m8 0h0m2 0h0m2 0h0m4 0h0m7 0h0m7 0h0m1 0h0m4 0h0m1 0h0m2 0h0m2 0h0m1 0h0m2 0h0m3 0h0m1 0h0m1 0h0m1 0h0m1 0h0m3 0h0m2 0h0m2 0h0m1 0h0m1 0h0m2 0h0m1 0h0m1 0h0m2 0h0m1 0h0m2 0h0m1 0h0m5 0h0m2 0h0m2 0h0m1 0h0m2 0h0m1 0h0m2 0h0m5 0h0m3 0h0m6 0h0m1 0h0m8 0h0m9 0h0m1 0h0m8 0h0m68 0h0m24 0h0m130 0h0m29 0h0m24 0h0m-674 1h0m95 0h0m40 0h0m5 0h0m34 0h0m67 0h0m4 0h0m32 0h0m4 0h0m2 0h0m2 0h0m1 0h0m7 0h0m4 0h0m1 0h0m4 0h0m6 0h0m6 0h0m3 0h0m1 0h0m2 0h0m2 0h0m1 0h0m5 0h0m1 0h0m1 0h0m4 0h0m2 0h0m2 0h0m1 0h0m3 0h0m1 0h0m1 0h0m2 0h0m2 0h0m1 0h0m7 0h0m1 0h0m11 0h0m6 0h0m3 0h0m1 0h0m1 0h0m3 0h0m12 0h0m8 0h0m3 0h0m10 0h0m9 0h0m18 0h0m16 0h0m22 0h0m36 0h0m5 0h0m30 0h0m92 0h0m7 0h0m21 0h0m56 0h0m13 0h0m25 0h0m18 0h0m6 0h0m8 0h0m27 0h0m-929 1h0m120 0h0m35 0h0m2 0h0m22 0h0m53 0h0m2 0h0m19 0h0m35 0h0m56 0h0m15 0h0m2 0h0m4 0h0m15 0h0m8 0h0m3 0h0m3 0h0m9 0h0m1 0h0m4 0h0m1 0h0m2 0h0m1 0h0m4 0h0m1 0h0m1 0h0m8 0h0m3 0h0m5 0h0m4 0h0m1 0h0m7 0h0m1 0h0m2 0h0m1 0h0m1 0h0m3 0h0m2 0h0m3 0h0m4 0h0m2 0h0m4 0h0m4 0h0m1 0h0m3 0h0m8 0h0m3 0h0m7 0h0m8 0h0m14 0h0m6 0h0m113 0h0m226 0h0m-845 1h0m37 0h0m110 0h0m40 0h0m126 0h0m19 0h0m9 0h0m5 0h0m12 0h0m5 0h0m8 0h0m2 0h0m7 0h0m2 0h0m2 0h0m13 0h0m2 0h0m1 0h0m1 0h0m3 0h0m4 0h0m1 0h0m1 0h0m2 0h0m4 0h0m2 0h0m3 0h0m3 0h0m3 0h0m1 0h0m1 0h0m3 0h0m1 0h0m1 0h0m1 0h0m10 0h0m1 0h0m1 0h0m1 0h0m2 0h0m1 0h0m4 0h0m2 0h0m2 0h0m2 0h0m3 0h0m2 0h0m6 0h0m11 0h0m2 0h0m2 0h0m3 0h0m13 0h0m3 0h0m1 0h0m29 0h0m16 0h0m85 0h0m25 0h0m58 0h0m82 0h0m-862 1h0m17 0h0m124 0h0m55 0h0m111 0h0m99 0h0m1 0h0m7 0h0m12 0h0m1 0h0m4 0h0m5 0h0m5 0h0m1 0h0m3 0h0m6 0h0m1 0h0m1 0h0m4 0h0m2 0h0m2 0h0m1 0h0m6 0h0m3 0h0m1 0h0m3 0h0m2 0h0m2 0h0m1 0h0m2 0h0m4 0h0m1 0h0m3 0h0m3 0h0m1 0h0m1 0h0m1 0h0m4 0h0m2 0h0m5 0h0m3 0h0m8 0h0m8 0h0m6 0h0m1 0h0m7 0h0m1 0h0m3 0h0m13 0h0m38 0h0m42 0h0m33 0h0m34 0h0m91 0h0m136 0h0m41 0h0m-954 1h0m2 0h0m31 0h0m1 0h0m48 0h0m86 0h0m30 0h0m29 0h0m43 0h0m40 0h0m28 0h0m15 0h0m9 0h0m2 0h0m32 0h0m3 0h0m13 0h0m2 0h0m4 0h0m4 0h0m13 0h0m3 0h0m2 0h0m6 0h0m1 0h0m2 0h0m4 0h0m2 0h0m1 0h0m2 0h0m2 0h0m7 0h0m2 0h0m1 0h0m3 0h0m5 0h0m2 0h0m2 0h0m1 0h0m2 0h0m4 0h0m11 0h0m2 0h0m7 0h0m2 0h0m7 0h0m2 0h0m1 0h0m26 0h0m34 0h0m160 0h0m18 0h0m58 0h0m6 0h0m-841 1h0m7 0h0m61 0h0m7 0h0m22 0h0m50 0h0m51 0h0m125 0h0m63 0h0m37 0h0m2 0h0m8 0h0m10 0h0m5 0h0m8 0h0m2 0h0m3 0h0m7 0h0m1 0h0m5 0h0m2 0h0m3 0h0m1 0h0m1 0h0m1 0h0m1 0h0m3 0h0m8 0h0m1 0h0m3 0h0m1 0h0m2 0h0m2 0h0m3 0h0m3 0h0m6 0h0m2 0h0m5 0h0m22 0h0m22 0h0m9 0h0m53 0h0m110 0h0m15 0h0m26 0h0m42 0h0m42 0h0m7 0h0m78 0h0m-923 1h0m16 0h0m23 0h0m30 0h0m113 0h0m29 0h0m13 0h0m60 0h0m10 0h0m52 0h0m36 0h0m5 0h0m12 0h0m4 0h0m4 0h0m4 0h0m2 0h0m2 0h0m4 0h0m4 0h0m2 0h0m2 0h0m1 0h0m3 0h0m2 0h0m3 0h0m1 0h0m2 0h0m4 0h0m1 0h0m2 0h0m3 0h0m2 0h0m1 0h0m3 0h0m1 0h0m1 0h0m2 0h0m2 0h0m3 0h0m5 0h0m4 0h0m4 0h0m1 0h0m2 0h0m3 0h0m1 0h0m1 0h0m2 0h0m2 0h0m1 0h0m2 0h0m7 0h0m2 0h0m1 0h0m5 0h0m2 0h0m5 0h0m1 0h0m19 0h0m1 0h0m26 0h0m52 0h0m44 0h0m41 0h0m28 0h0m3 0h0m13 0h0m51 0h0m23 0h0m60 0h0m34 0h0m8 0h0m15 0h0m6 0h0m-975 1h0m101 0h0m137 0h0m48 0h0m43 0h0m51 0h0m18 0h0m35 0h0m3 0h0m10 0h0m14 0h0m3 0h0m2 0h0m2 0h0m1 0h0m1 0h0m3 0h0m5 0h0m2 0h0m2 0h0m2 0h0m5 0h0m3 0h0m2 0h0m1 0h0m3 0h0m1 0h0m5 0h0m2 0h0m2 0h0m4 0h0m3 0h0m1 0h0m1 0h0m2 0h0m3 0h0m2 0h0m4 0h0m4 0h0m1 0h0m1 0h0m3 0h0m3 0h0m2 0h0m5 0h0m2 0h0m3 0h0m4 0h0m10 0h0m10 0h0m24 0h0m46 0h0m16 0h0m13 0h0m7 0h0m7 0h0m202 0h0m37 0h0m56 0h0m-944 1h0m19 0h0m100 0h0m63 0h0m26 0h0m63 0h0m94 0h0m21 0h0m10 0h0m3 0h0m10 0h0m6 0h0m1 0h0m1 0h0m5 0h0m5 0h0m1 0h0m3 0h0m1 0h0m1 0h0m2 0h0m3 0h0m6 0h0m1 0h0m1 0h0m3 0h0m1 0h0m2 0h0m5 0h0m1 0h0m3 0h0m3 0h0m1 0h0m2 0h0m1 0h0m1 0h0m1 0h0m1 0h0m3 0h0m1 0h0m1 0h0m7 0h0m2 0h0m3 0h0m3 0h0m2 0h0m5 0h0m2 0h0m6 0h0m19 0h0m13 0h0m8 0h0m28 0h0m18 0h0m19 0h0m1 0h0m95 0h0m22 0h0m2 0h0m5 0h0m57 0h0m13 0h0m30 0h0m56 0h0m31 0h0m21 0h0m-893 1h0m61 0h0m15 0h0m66 0h0m8 0h0m89 0h0m3 0h0m35 0h0m2 0h0m12 0h0m2 0h0m3 0h0m36 0h0m17 0h0m4 0h0m4 0h0m2 0h0m4 0h0m2 0h0m1 0h0m1 0h0m1 0h0m2 0h0m1 0h0m2 0h0m4 0h0m4 0h0m1 0h0m1 0h0m3 0h0m1 0h0m3 0h0m1 0h0m1 0h0m4 0h0m3 0h0m4 0h0m1 0h0m6 0h0m2 0h0m1 0h0m2 0h0m4 0h0m7 0h0m5 0h0m1 0h0m8 0h0m1 0h0m6 0h0m4 0h0m2 0h0m13 0h0m1 0h0m4 0h0m29 0h0m5 0h0m15 0h0m10 0h0m14 0h0m29 0h0m69 0h0m91 0h0m9 0h0m133 0h0m-922 1h0m141 0h0m99 0h0m3 0h0m40 0h0m22 0h0m35 0h0m13 0h0m18 0h0m38 0h0m2 0h0m1 0h0m1 0h0m1 0h0m2 0h0m1 0h0m3 0h0m2 0h0m1 0h0m1 0h0m6 0h0m6 0h0m2 0h0m4 0h0m2 0h0m1 0h0m1 0h0m1 0h0m1 0h0m3 0h0m2 0h0m4 0h0m1 0h0m2 0h0m3 0h0m1 0h0m1 0h0m2 0h0m12 0h0m3 0h0m4 0h0m2 0h0m2 0h0m1 0h0m2 0h0m1 0h0m1 0h0m1 0h0m12 0h0m1 0h0m9 0h0m9 0h0m5 0h0m20 0h0m25 0h0m5 0h0m25 0h0m40 0h0m49 0h0m2 0h0m5 0h0m28 0h0m17 0h0m42 0h0m32 0h0m14 0h0m9 0h0m12 0h0m57 0h0m-875 1h0m37 0h0m117 0h0m47 0h0m7 0h0m16 0h0m22 0h0m4 0h0m19 0h0m88 0h0m3 0h0m2 0h0m1 0h0m4 0h0m6 0h0m6 0h0m1 0h0m3 0h0m3 0h0m2 0h0m2 0h0m4 0h0m3 0h0m2 0h0m2 0h0m1 0h0m2 0h0m1 0h0m3 0h0m3 0h0m2 0h0m5 0h0m1 0h0m1 0h0m2 0h0m1 0h0m4 0h0m3 0h0m1 0h0m5 0h0m2 0h0m1 0h0m1 0h0m1 0h0m1 0h0m1 0h0m1 0h0m4 0h0m1 0h0m1 0h0m1 0h0m6 0h0m15 0h0m36 0h0m5 0h0m106 0h0m21 0h0m86 0h0m48 0h0m73 0h0m-911 1h0m51 0h0m35 0h0m57 0h0m15 0h0m26 0h0m8 0h0m15 0h0m13 0h0m12 0h0m43 0h0m83 0h0m5 0h0m23 0h0m12 0h0m11 0h0m5 0h0m3 0h0m6 0h0m5 0h0m5 0h0m2 0h0m8 0h0m4 0h0m8 0h0m2 0h0m1 0h0m2 0h0m4 0h0m1 0h0m1 0h0m1 0h0m11 0h0m4 0h0m1 0h0m1 0h0m2 0h0m3 0h0m5 0h0m3 0h0m4 0h0m6 0h0m6 0h0m3 0h0m2 0h0m1 0h0m2 0h0m2 0h0m6 0h0m1 0h0m14 0h0m3 0h0m5 0h0m1 0h0m24 0h0m64 0h0m3 0h0m58 0h0m11 0h0m1 0h0m31 0h0m84 0h0m102 0h0m-917 1h0m25 0h0m127 0h0m95 0h0m8 0h0m7 0h0m43 0h0m8 0h0m45 0h0m11 0h0m25 0h0m4 0h0m13 0h0m2 0h0m6 0h0m2 0h0m3 0h0m1 0h0m1 0h0m2 0h0m2 0h0m6 0h0m2 0h0m3 0h0m1 0h0m1 0h0m1 0h0m1 0h0m8 0h0m3 0h0m1 0h0m1 0h0m1 0h0m1 0h0m1 0h0m1 0h0m3 0h0m2 0h0m2 0h0m10 0h0m1 0h0m4 0h0m3 0h0m3 0h0m1 0h0m3 0h0m4 0h0m9 0h0m3 0h0m6 0h0m1 0h0m6 0h0m53 0h0m24 0h0m55 0h0m14 0h0m32 0h0m5 0h0m46 0h0m28 0h0m65 0h0m29 0h0m52 0h0m-946 1h0m13 0h0m68 0h0m48 0h0m95 0h0m36 0h0m164 0h0m3 0h0m1 0h0m2 0h0m2 0h0m5 0h0m5 0h0m1 0h0m5 0h0m4 0h0m2 0h0m2 0h0m3 0h0m6 0h0m1 0h0m1 0h0m3 0h0m1 0h0m1 0h0m1 0h0m3 0h0m1 0h0m3 0h0m5 0h0m3 0h0m1 0h0m1 0h0m1 0h0m6 0h0m1 0h0m4 0h0m6 0h0m2 0h0m5 0h0m5 0h0m2 0h0m5 0h0m5 0h0m5 0h0m14 0h0m2 0h0m47 0h0m13 0h0m17 0h0m5 0h0m55 0h0m3 0h0m6 0h0m24 0h0m46 0h0m31 0h0m18 0h0m64 0h0m-868 1h0m9 0h0m113 0h0m72 0h0m66 0h0m40 0h0m4 0h0m11 0h0m17 0h0m29 0h0m20 0h0m20 0h0m2 0h0m3 0h0m14 0h0m2 0h0m1 0h0m4 0h0m1 0h0m4 0h0m1 0h0m2 0h0m3 0h0m3 0h0m3 0h0m1 0h0m1 0h0m3 0h0m1 0h0m1 0h0m1 0h0m4 0h0m1 0h0m1 0h0m1 0h0m3 0h0m3 0h0m2 0h0m3 0h0m4 0h0m1 0h0m1 0h0m3 0h0m1 0h0m1 0h0m4 0h0m2 0h0m2 0h0m1 0h0m3 0h0m1 0h0m2 0h0m1 0h0m2 0h0m14 0h0m12 0h0m41 0h0m10 0h0m29 0h0m287 0h0m38 0h0m27 0h0m-933 1h0m57 0h0m125 0h0m44 0h0m3 0h0m51 0h0m15 0h0m13 0h0m3 0h0m15 0h0m17 0h0m45 0h0m1 0h0m2 0h0m21 0h0m5 0h0m1 0h0m5 0h0m1 0h0m1 0h0m2 0h0m2 0h0m2 0h0m7 0h0m1 0h0m1 0h0m6 0h0m1 0h0m4 0h0m1 0h0m1 0h0m1 0h0m5 0h0m1 0h0m2 0h0m1 0h0m3 0h0m1 0h0m2 0h0m2 0h0m3 0h0m1 0h0m6 0h0m2 0h0m2 0h0m1 0h0m7 0h0m1 0h0m5 0h0m4 0h0m7 0h0m15 0h0m1 0h0m1 0h0m9 0h0m8 0h0m4 0h0m1 0h0m42 0h0m67 0h0m26 0h0m74 0h0m48 0h0m10 0h0m4 0h0m99 0h0m14 0h0m-957 1h0m159 0h0m17 0h0m14 0h0m23 0h0m2 0h0m83 0h0m46 0h0m4 0h0m29 0h0m19 0h0m4 0h0m4 0h0m14 0h0m2 0h0m3 0h0m14 0h0m3 0h0m2 0h0m1 0h0m1 0h0m5 0h0m2 0h0m2 0h0m1 0h0m1 0h0m1 0h0m10 0h0m1 0h0m1 0h0m1 0h0m2 0h0m1 0h0m1 0h0m3 0h0m2 0h0m1 0h0m3 0h0m1 0h0m1 0h0m3 0h0m9 0h0m2 0h0m2 0h0m1 0h0m1 0h0m5 0h0m2 0h0m13 0h0m2 0h0m25 0h0m26 0h0m35 0h0m33 0h0m11 0h0m19 0h0m47 0h0m77 0h0m159 0h0m-976 1h0m2 0h0m175 0h0m48 0h0m117 0h0m19 0h0m34 0h0m17 0h0m8 0h0m4 0h0m6 0h0m1 0h0m3 0h0m2 0h0m4 0h0m3 0h0m1 0h0m1 0h0m4 0h0m1 0h0m1 0h0m5 0h0m7 0h0m4 0h0m2 0h0m1 0h0m1 0h0m5 0h0m1 0h0m1 0h0m1 0h0m1 0h0m6 0h0m2 0h0m3 0h0m3 0h0m4 0h0m8 0h0m1 0h0m3 0h0m1 0h0m1 0h0m5 0h0m1 0h0m7 0h0m12 0h0m1 0h0m32 0h0m3 0h0m41 0h0m6 0h0m1 0h0m5 0h0m72 0h0m22 0h0m110 0h0m34 0h0m88 0h0m-914 1h0m123 0h0m19 0h0m30 0h0m19 0h0m11 0h0m157 0h0m6 0h0m13 0h0m12 0h0m10 0h0m1 0h0m2 0h0m8 0h0m1 0h0m4 0h0m3 0h0m1 0h0m1 0h0m1 0h0m2 0h0m5 0h0m1 0h0m2 0h0m2 0h0m3 0h0m2 0h0m4 0h0m2 0h0m1 0h0m1 0h0m1 0h0m2 0h0m1 0h0m3 0h0m2 0h0m2 0h0m2 0h0m2 0h0m1 0h0m10 0h0m3 0h0m5 0h0m4 0h0m9 0h0m2 0h0m3 0h0m1 0h0m1 0h0m2 0h0m50 0h0m14 0h0m18 0h0m51 0h0m30 0h0m50 0h0m69 0h0m42 0h0m29 0h0m83 0h0m-949 1h0m1 0h0m101 0h0m79 0h0m3 0h0m92 0h0m36 0h0m42 0h0m8 0h0m15 0h0m22 0h0m17 0h0m10 0h0m5 0h0m1 0h0m5 0h0m1 0h0m1 0h0m3 0h0m5 0h0m4 0h0m6 0h0m2 0h0m3 0h0m1 0h0m3 0h0m4 0h0m2 0h0m1 0h0m2 0h0m1 0h0m3 0h0m3 0h0m7 0h0m4 0h0m7 0h0m4 0h0m15 0h0m1 0h0m4 0h0m8 0h0m7 0h0m8 0h0m23 0h0m13 0h0m53 0h0m11 0h0m85 0h0m19 0h0m33 0h0m51 0h0m-797 1h0m47 0h0m79 0h0m126 0h0m9 0h0m74 0h0m10 0h0m25 0h0m6 0h0m1 0h0m11 0h0m1 0h0m7 0h0m3 0h0m4 0h0m1 0h0m1 0h0m6 0h0m6 0h0m4 0h0m2 0h0m4 0h0m2 0h0m1 0h0m1 0h0m1 0h0m1 0h0m2 0h0m3 0h0m2 0h0m7 0h0m7 0h0m4 0h0m3 0h0m7 0h0m1 0h0m1 0h0m5 0h0m15 0h0m3 0h0m41 0h0m74 0h0m16 0h0m49 0h0m12 0h0m77 0h0m93 0h0m5 0h0m14 0h0m18 0h0m9 0h0m-959 1h0m47 0h0m20 0h0m29 0h0m82 0h0m7 0h0m21 0h0m17 0h0m32 0h0m33 0h0m6 0h0m96 0h0m10 0h0m4 0h0m15 0h0m24 0h0m2 0h0m4 0h0m2 0h0m4 0h0m6 0h0m1 0h0m2 0h0m2 0h0m1 0h0m7 0h0m1 0h0m6 0h0m2 0h0m2 0h0m1 0h0m1 0h0m3 0h0m9 0h0m2 0h0m1 0h0m1 0h0m6 0h0m4 0h0m5 0h0m1 0h0m12 0h0m3 0h0m11 0h0m6 0h0m18 0h0m35 0h0m62 0h0m83 0h0m4 0h0m80 0h0m22 0h0m22 0h0m16 0h0m-869 1h0m50 0h0m22 0h0m34 0h0m20 0h0m83 0h0m18 0h0m41 0h0m19 0h0m9 0h0m33 0h0m45 0h0m12 0h0m11 0h0m4 0h0m8 0h0m5 0h0m2 0h0m3 0h0m2 0h0m6 0h0m3 0h0m1 0h0m2 0h0m2 0h0m1 0h0m1 0h0m4 0h0m2 0h0m1 0h0m1 0h0m1 0h0m1 0h0m2 0h0m2 0h0m6 0h0m1 0h0m2 0h0m2 0h0m3 0h0m1 0h0m5 0h0m2 0h0m1 0h0m1 0h0m2 0h0m3 0h0m2 0h0m4 0h0m7 0h0m2 0h0m5 0h0m2 0h0m6 0h0m12 0h0m2 0h0m34 0h0m2 0h0m43 0h0m107 0h0m33 0h0m24 0h0m15 0h0m2 0h0m31 0h0m7 0h0m56 0h0m25 0h0m-900 1h0m10 0h0m249 0h0m38 0h0m14 0h0m26 0h0m45 0h0m18 0h0m3 0h0m3 0h0m1 0h0m3 0h0m15 0h0m3 0h0m2 0h0m3 0h0m5 0h0m1 0h0m1 0h0m4 0h0m5 0h0m4 0h0m4 0h0m4 0h0m1 0h0m2 0h0m1 0h0m2 0h0m1 0h0m1 0h0m4 0h0m4 0h0m7 0h0m1 0h0m1 0h0m5 0h0m2 0h0m4 0h0m4 0h0m2 0h0m1 0h0m4 0h0m8 0h0m2 0h0m33 0h0m11 0h0m19 0h0m61 0h0m39 0h0m33 0h0m14 0h0m9 0h0m25 0h0m69 0h0m28 0h0m25 0h0m15 0h0m19 0h0m-925 1h0m112 0h0m14 0h0m17 0h0m29 0h0m39 0h0m82 0h0m9 0h0m47 0h0m11 0h0m39 0h0m1 0h0m1 0h0m11 0h0m7 0h0m4 0h0m1 0h0m3 0h0m4 0h0m1 0h0m1 0h0m1 0h0m1 0h0m1 0h0m2 0h0m1 0h0m2 0h0m2 0h0m4 0h0m1 0h0m1 0h0m4 0h0m2 0h0m5 0h0m2 0h0m2 0h0m2 0h0m1 0h0m2 0h0m1 0h0m1 0h0m3 0h0m1 0h0m3 0h0m2 0h0m2 0h0m1 0h0m4 0h0m1 0h0m1 0h0m2 0h0m1 0h0m7 0h0m2 0h0m7 0h0m1 0h0m5 0h0m3 0h0m7 0h0m78 0h0m4 0h0m134 0h0m185 0h0m-956 1h0m5 0h0m91 0h0m22 0h0m14 0h0m49 0h0m4 0h0m6 0h0m11 0h0m27 0h0m49 0h0m62 0h0m6 0h0m28 0h0m26 0h0m2 0h0m8 0h0m23 0h0m2 0h0m2 0h0m18 0h0m2 0h0m9 0h0m5 0h0m2 0h0m7 0h0m1 0h0m3 0h0m2 0h0m2 0h0m6 0h0m5 0h0m4 0h0m2 0h0m1 0h0m1 0h0m2 0h0m2 0h0m2 0h0m1 0h0m2 0h0m1 0h0m2 0h0m10 0h0m1 0h0m2 0h0m5 0h0m10 0h0m1 0h0m2 0h0m3 0h0m16 0h0m19 0h0m10 0h0m38 0h0m73 0h0m6 0h0m77 0h0m71 0h0m19 0h0m91 0h0m5 0h0m-937 1h0m16 0h0m12 0h0m22 0h0m29 0h0m143 0h0m58 0h0m88 0h0m13 0h0m20 0h0m5 0h0m5 0h0m2 0h0m2 0h0m4 0h0m2 0h0m1 0h0m1 0h0m1 0h0m4 0h0m6 0h0m1 0h0m3 0h0m1 0h0m2 0h0m1 0h0m2 0h0m1 0h0m2 0h0m3 0h0m1 0h0m1 0h0m1 0h0m4 0h0m4 0h0m4 0h0m2 0h0m8 0h0m1 0h0m4 0h0m2 0h0m10 0h0m10 0h0m1 0h0m25 0h0m4 0h0m7 0h0m17 0h0m12 0h0m3 0h0m132 0h0m4 0h0m1 0h0m27 0h0m81 0h0m52 0h0m9 0h0m1 0h0m-916 1h0m14 0h0m27 0h0m17 0h0m72 0h0m47 0h0m70 0h0m33 0h0m68 0h0m24 0h0m1 0h0m16 0h0m10 0h0m20 0h0m31 0h0m4 0h0m6 0h0m1 0h0m1 0h0m2 0h0m6 0h0m4 0h0m7 0h0m1 0h0m3 0h0m4 0h0m1 0h0m2 0h0m1 0h0m2 0h0m3 0h0m1 0h0m4 0h0m2 0h0m2 0h0m3 0h0m3 0h0m1 0h0m1 0h0m4 0h0m2 0h0m6 0h0m2 0h0m1 0h0m2 0h0m1 0h0m11 0h0m24 0h0m19 0h0m56 0h0m11 0h0m41 0h0m40 0h0m22 0h0m62 0h0m66 0h0m11 0h0m50 0h0m9 0h0m10 0h0m-966 1h0m66 0h0m41 0h0m18 0h0m32 0h0m30 0h0m60 0h0m138 0h0m25 0h0m5 0h0m41 0h0m4 0h0m1 0h0m1 0h0m3 0h0m2 0h0m1 0h0m6 0h0m8 0h0m2 0h0m1 0h0m2 0h0m1 0h0m5 0h0m2 0h0m2 0h0m2 0h0m3 0h0m3 0h0m4 0h0m1 0h0m1 0h0m5 0h0m1 0h0m5 0h0m4 0h0m2 0h0m16 0h0m3 0h0m8 0h0m10 0h0m1 0h0m77 0h0m38 0h0m105 0h0m58 0h0m3 0h0m41 0h0m35 0h0m-507 1h0m12 0h0m2 0h0m5 0h0m5 0h0m5 0h0m9 0h0m7 0h0m1 0h0m4 0h0m2 0h0m1 0h0m2 0h0m2 0h0m5 0h0m1 0h0m1 0h0m1 0h0m6 0h0m1 0h0m5 0h0m4 0h0m11 0h0m3 0h0m4 0h0m2 0h0m7 0h0m4 0h0m5 0h0m5 0h0m1 0h0m7 0h0m4 0h0m2 0h0m10 0h0m8 0h0m43 0h0m86 0h0m9 0h0m13 0h0m23 0h0m8 0h0m52 0h0m69 0h0m53 0h0m17 0h0m-946 1h0m9 0h0m26 0h0m106 0h0m19 0h0m13 0h0m25 0h0m47 0h0m31 0h0m82 0h0m3 0h0m29 0h0m18 0h0m19 0h0m11 0h0m5 0h0m2 0h0m3 0h0m1 0h0m1 0h0m1 0h0m1 0h0m1 0h0m3 0h0m1 0h0m4 0h0m3 0h0m1 0h0m2 0h0m4 0h0m5 0h0m4 0h0m1 0h0m2 0h0m4 0h0m2 0h0m3 0h0m3 0h0m1 0h0m2 0h0m9 0h0m1 0h0m2 0h0m13 0h0m4 0h0m12 0h0m1 0h0m4 0h0m3 0h0m1 0h0m18 0h0m7 0h0m10 0h0m71 0h0m26 0h0m47 0h0m29 0h0m220 0h0m-976 1h0m3 0h0m15 0h0m53 0h0m26 0h0m66 0h0m53 0h0m48 0h0m52 0h0m29 0h0m8 0h0m58 0h0m19 0h0m4 0h0m4 0h0m6 0h0m2 0h0m6 0h0m7 0h0m5 0h0m4 0h0m1 0h0m5 0h0m3 0h0m2 0h0m2 0h0m3 0h0m1 0h0m2 0h0m2 0h0m1 0h0m4 0h0m6 0h0m1 0h0m1 0h0m3 0h0m1 0h0m3 0h0m1 0h0m4 0h0m1 0h0m1 0h0m1 0h0m1 0h0m2 0h0m1 0h0m8 0h0m3 0h0m4 0h0m1 0h0m2 0h0m10 0h0m2 0h0m6 0h0m39 0h0m9 0h0m94 0h0m5 0h0m57 0h0m10 0h0m15 0h0m3 0h0m13 0h0m11 0h0m4 0h0m22 0h0m76 0h0m5 0h0m17 0h0m38 0h0m-974 1h0m25 0h0m29 0h0m7 0h0m63 0h0m29 0h0m28 0h0m6 0h0m40 0h0m5 0h0m45 0h0m11 0h0m4 0h0m15 0h0m26 0h0m62 0h0m3 0h0m26 0h0m1 0h0m3 0h0m8 0h0m4 0h0m3 0h0m4 0h0m7 0h0m6 0h0m6 0h0m2 0h0m6 0h0m2 0h0m2 0h0m3 0h0m2 0h0m4 0h0m4 0h0m4 0h0m2 0h0m1 0h0m1 0h0m1 0h0m5 0h0m4 0h0m4 0h0m1 0h0m6 0h0m2 0h0m3 0h0m5 0h0m11 0h0m2 0h0m1 0h0m11 0h0m10 0h0m16 0h0m18 0h0m6 0h0m185 0h0m56 0h0m2 0h0m28 0h0m35 0h0m4 0h0m34 0h0m-936 1h0m1 0h0m174 0h0m104 0h0m15 0h0m61 0h0m3 0h0m6 0h0m43 0h0m1 0h0m9 0h0m7 0h0m5 0h0m5 0h0m3 0h0m3 0h0m1 0h0m9 0h0m8 0h0m3 0h0m5 0h0m8 0h0m1 0h0m6 0h0m1 0h0m2 0h0m5 0h0m3 0h0m5 0h0m2 0h0m1 0h0m1 0h0m1 0h0m3 0h0m2 0h0m1 0h0m3 0h0m1 0h0m1 0h0m4 0h0m1 0h0m1 0h0m1 0h0m13 0h0m4 0h0m4 0h0m1 0h0m3 0h0m14 0h0m53 0h0m14 0h0m10 0h0m8 0h0m77 0h0m70 0h0m37 0h0m3 0h0m108 0h0m-877 1h0m30 0h0m6 0h0m5 0h0m40 0h0m114 0h0m17 0h0m13 0h0m126 0h0m2 0h0m7 0h0m4 0h0m16 0h0m3 0h0m1 0h0m1 0h0m2 0h0m3 0h0m2 0h0m3 0h0m1 0h0m3 0h0m13 0h0m1 0h0m2 0h0m1 0h0m1 0h0m1 0h0m1 0h0m1 0h0m2 0h0m1 0h0m1 0h0m1 0h0m1 0h0m1 0h0m1 0h0m1 0h0m2 0h0m4 0h0m2 0h0m5 0h0m1 0h0m7 0h0m11 0h0m12 0h0m15 0h0m1 0h0m4 0h0m22 0h0m29 0h0m66 0h0m4 0h0m33 0h0m13 0h0m48 0h0m3 0h0m83 0h0m7 0h0m-865 1h0m62 0h0m10 0h0m7 0h0m7 0h0m54 0h0m6 0h0m12 0h0m42 0h0m22 0h0m79 0h0m16 0h0m5 0h0m91 0h0m3 0h0m4 0h0m4 0h0m12 0h0m1 0h0m7 0h0m6 0h0m1 0h0m1 0h0m2 0h0m3 0h0m1 0h0m1 0h0m1 0h0m6 0h0m1 0h0m7 0h0m2 0h0m1 0h0m5 0h0m2 0h0m3 0h0m3 0h0m1 0h0m1 0h0m5 0h0m2 0h0m2 0h0m2 0h0m8 0h0m9 0h0m1 0h0m8 0h0m1 0h0m13 0h0m17 0h0m30 0h0m17 0h0m9 0h0m3 0h0m27 0h0m1 0h0m33 0h0m70 0h0m18 0h0m83 0h0m-861 1h0m126 0h0m74 0h0m184 0h0m25 0h0m2 0h0m39 0h0m3 0h0m4 0h0m1 0h0m7 0h0m8 0h0m1 0h0m4 0h0m4 0h0m1 0h0m1 0h0m10 0h0m1 0h0m5 0h0m8 0h0m3 0h0m1 0h0m3 0h0m5 0h0m4 0h0m2 0h0m4 0h0m1 0h0m3 0h0m10 0h0m2 0h0m3 0h0m4 0h0m13 0h0m24 0h0m9 0h0m31 0h0m9 0h0m13 0h0m98 0h0m106 0h0m30 0h0m25 0h0m-858 1h0m36 0h0m45 0h0m46 0h0m22 0h0m8 0h0m19 0h0m10 0h0m45 0h0m5 0h0m98 0h0m22 0h0m1 0h0m14 0h0m2 0h0m4 0h0m1 0h0m14 0h0m1 0h0m11 0h0m4 0h0m1 0h0m1 0h0m3 0h0m4 0h0m4 0h0m2 0h0m1 0h0m5 0h0m4 0h0m3 0h0m1 0h0m2 0h0m1 0h0m10 0h0m1 0h0m3 0h0m2 0h0m2 0h0m1 0h0m3 0h0m1 0h0m3 0h0m4 0h0m4 0h0m1 0h0m1 0h0m2 0h0m4 0h0m8 0h0m3 0h0m2 0h0m11 0h0m3 0h0m9 0h0m4 0h0m6 0h0m1 0h0m15 0h0m31 0h0m32 0h0m16 0h0m11 0h0m73 0h0m102 0h0m35 0h0m11 0h0m2 0h0m-890 1h0m4 0h0m99 0h0m30 0h0m3 0h0m102 0h0m58 0h0m35 0h0m32 0h0m29 0h0m5 0h0m5 0h0m14 0h0m10 0h0m6 0h0m1 0h0m3 0h0m1 0h0m1 0h0m2 0h0m1 0h0m2 0h0m5 0h0m3 0h0m3 0h0m2 0h0m3 0h0m3 0h0m3 0h0m4 0h0m1 0h0m3 0h0m5 0h0m2 0h0m4 0h0m9 0h0m2 0h0m12 0h0m1 0h0m7 0h0m12 0h0m42 0h0m6 0h0m4 0h0m50 0h0m96 0h0m54 0h0m164 0h0m6 0h0m-967 1h0m59 0h0m9 0h0m28 0h0m23 0h0m8 0h0m26 0h0m46 0h0m40 0h0m4 0h0m11 0h0m62 0h0m17 0h0m29 0h0m4 0h0m19 0h0m12 0h0m9 0h0m20 0h0m4 0h0m4 0h0m8 0h0m4 0h0m3 0h0m3 0h0m3 0h0m5 0h0m5 0h0m1 0h0m1 0h0m6 0h0m4 0h0m1 0h0m3 0h0m2 0h0m1 0h0m4 0h0m3 0h0m3 0h0m2 0h0m2 0h0m4 0h0m1 0h0m2 0h0m1 0h0m2 0h0m8 0h0m9 0h0m8 0h0m1 0h0m1 0h0m1 0h0m7 0h0m2 0h0m8 0h0m8 0h0m4 0h0m12 0h0m35 0h0m32 0h0m43 0h0m2 0h0m11 0h0m18 0h0m7 0h0m37 0h0m91 0h0m107 0h0m-954 1h0m54 0h0m49 0h0m10 0h0m84 0h0m75 0h0m6 0h0m10 0h0m16 0h0m11 0h0m80 0h0m14 0h0m26 0h0m1 0h0m2 0h0m5 0h0m3 0h0m4 0h0m1 0h0m7 0h0m3 0h0m1 0h0m1 0h0m3 0h0m2 0h0m1 0h0m2 0h0m2 0h0m4 0h0m2 0h0m3 0h0m2 0h0m3 0h0m4 0h0m1 0h0m1 0h0m4 0h0m2 0h0m1 0h0m8 0h0m2 0h0m1 0h0m1 0h0m4 0h0m1 0h0m2 0h0m1 0h0m1 0h0m4 0h0m2 0h0m5 0h0m2 0h0m2 0h0m20 0h0m49 0h0m27 0h0m28 0h0m1 0h0m103 0h0m132 0h0m12 0h0m15 0h0m31 0h0m-953 1h0m36 0h0m8 0h0m3 0h0m47 0h0m96 0h0m3 0h0m30 0h0m84 0h0m53 0h0m15 0h0m7 0h0m18 0h0m1 0h0m12 0h0m10 0h0m2 0h0m2 0h0m4 0h0m2 0h0m10 0h0m1 0h0m8 0h0m1 0h0m1 0h0m2 0h0m1 0h0m2 0h0m5 0h0m1 0h0m5 0h0m2 0h0m1 0h0m1 0h0m1 0h0m1 0h0m2 0h0m1 0h0m1 0h0m4 0h0m3 0h0m6 0h0m2 0h0m4 0h0m1 0h0m1 0h0m4 0h0m7 0h0m2 0h0m4 0h0m1 0h0m3 0h0m5 0h0m3 0h0m8 0h0m12 0h0m2 0h0m5 0h0m1 0h0m1 0h0m43 0h0m8 0h0m14 0h0m80 0h0m29 0h0m9 0h0m43 0h0m18 0h0m75 0h0m14 0h0m32 0h0m-866 1h0m23 0h0m49 0h0m124 0h0m7 0h0m4 0h0m22 0h0m3 0h0m1 0h0m113 0h0m3 0h0m4 0h0m4 0h0m9 0h0m26 0h0m1 0h0m1 0h0m1 0h0m1 0h0m1 0h0m3 0h0m1 0h0m1 0h0m1 0h0m3 0h0m2 0h0m9 0h0m4 0h0m3 0h0m1 0h0m2 0h0m3 0h0m5 0h0m1 0h0m4 0h0m1 0h0m2 0h0m13 0h0m6 0h0m5 0h0m1 0h0m4 0h0m17 0h0m18 0h0m17 0h0m26 0h0m33 0h0m107 0h0m36 0h0m92 0h0m23 0h0m22 0h0m-895 1h0m16 0h0m89 0h0m34 0h0m1 0h0m42 0h0m19 0h0m51 0h0m121 0h0m8 0h0m5 0h0m2 0h0m4 0h0m4 0h0m2 0h0m3 0h0m5 0h0m11 0h0m4 0h0m8 0h0m1 0h0m2 0h0m5 0h0m2 0h0m2 0h0m3 0h0m1 0h0m1 0h0m5 0h0m10 0h0m3 0h0m1 0h0m13 0h0m8 0h0m5 0h0m2 0h0m5 0h0m1 0h0m2 0h0m7 0h0m3 0h0m13 0h0m13 0h0m6 0h0m14 0h0m16 0h0m139 0h0m3 0h0m23 0h0m60 0h0m89 0h0m7 0h0m19 0h0m-802 1h0m58 0h0m96 0h0m1 0h0m12 0h0m65 0h0m27 0h0m15 0h0m5 0h0m5 0h0m10 0h0m21 0h0m1 0h0m16 0h0m2 0h0m1 0h0m3 0h0m1 0h0m3 0h0m1 0h0m1 0h0m1 0h0m2 0h0m1 0h0m2 0h0m1 0h0m1 0h0m4 0h0m2 0h0m1 0h0m1 0h0m2 0h0m3 0h0m1 0h0m9 0h0m3 0h0m5 0h0m5 0h0m1 0h0m5 0h0m2 0h0m12 0h0m11 0h0m19 0h0m6 0h0m2 0h0m22 0h0m15 0h0m82 0h0m71 0h0m6 0h0m10 0h0m22 0h0m13 0h0m66 0h0m79 0h0m-975 1h0m31 0h0m3 0h0m23 0h0m5 0h0m62 0h0m44 0h0m29 0h0m35 0h0m1 0h0m1 0h0m28 0h0m51 0h0m10 0h0m7 0h0m44 0h0m45 0h0m14 0h0m19 0h0m3 0h0m3 0h0m1 0h0m1 0h0m6 0h0m4 0h0m3 0h0m1 0h0m1 0h0m1 0h0m2 0h0m7 0h0m7 0h0m6 0h0m10 0h0m3 0h0m1 0h0m1 0h0m1 0h0m23 0h0m3 0h0m3 0h0m11 0h0m1 0h0m1 0h0m11 0h0m1 0h0m14 0h0m1 0h0m10 0h0m29 0h0m28 0h0m23 0h0m127 0h0m10 0h0m8 0h0m87 0h0m33 0h0m40 0h0m-983 1h0m18 0h0m6 0h0m25 0h0m92 0h0m10 0h0m46 0h0m11 0h0m2 0h0m22 0h0m11 0h0m36 0h0m41 0h0m43 0h0m14 0h0m21 0h0m23 0h0m1 0h0m5 0h0m2 0h0m3 0h0m10 0h0m6 0h0m10 0h0m1 0h0m2 0h0m5 0h0m2 0h0m1 0h0m1 0h0m3 0h0m7 0h0m1 0h0m5 0h0m6 0h0m5 0h0m4 0h0m6 0h0m2 0h0m1 0h0m2 0h0m4 0h0m4 0h0m4 0h0m7 0h0m9 0h0m57 0h0m48 0h0m13 0h0m7 0h0m94 0h0m81 0h0m15 0h0m5 0h0m3 0h0m29 0h0m4 0h0m5 0h0m47 0h0m4 0h0m28 0h0m-962 1h0m8 0h0m25 0h0m12 0h0m23 0h0m35 0h0m16 0h0m160 0h0m11 0h0m34 0h0m23 0h0m17 0h0m5 0h0m20 0h0m6 0h0m7 0h0m1 0h0m1 0h0m12 0h0m12 0h0m11 0h0m3 0h0m3 0h0m1 0h0m1 0h0m1 0h0m4 0h0m2 0h0m1 0h0m2 0h0m3 0h0m2 0h0m2 0h0m2 0h0m3 0h0m3 0h0m5 0h0m8 0h0m1 0h0m2 0h0m4 0h0m5 0h0m3 0h0m6 0h0m7 0h0m1 0h0m1 0h0m4 0h0m5 0h0m1 0h0m2 0h0m3 0h0m2 0h0m14 0h0m7 0h0m16 0h0m16 0h0m42 0h0m8 0h0m159 0h0m6 0h0m17 0h0m68 0h0m3 0h0m1 0h0m35 0h0m40 0h0m-960 1h0m1 0h0m14 0h0m23 0h0m67 0h0m7 0h0m3 0h0m10 0h0m90 0h0m57 0h0m26 0h0m3 0h0m12 0h0m19 0h0m5 0h0m3 0h0m43 0h0m20 0h0m3 0h0m4 0h0m4 0h0m2 0h0m3 0h0m3 0h0m13 0h0m1 0h0m1 0h0m2 0h0m4 0h0m2 0h0m5 0h0m6 0h0m3 0h0m3 0h0m1 0h0m1 0h0m5 0h0m3 0h0m1 0h0m5 0h0m2 0h0m1 0h0m1 0h0m1 0h0m5 0h0m5 0h0m3 0h0m1 0h0m7 0h0m3 0h0m1 0h0m3 0h0m3 0h0m20 0h0m1 0h0m12 0h0m12 0h0m3 0h0m8 0h0m7 0h0m16 0h0m31 0h0m1 0h0m128 0h0m10 0h0m3 0h0m11 0h0m17 0h0m97 0h0m26 0h0m5 0h0m1 0h0m38 0h0m-918 1h0m39 0h0m33 0h0m48 0h0m4 0h0m77 0h0m8 0h0m27 0h0m3 0h0m1 0h0m5 0h0m52 0h0m42 0h0m4 0h0m5 0h0m6 0h0m5 0h0m2 0h0m6 0h0m5 0h0m8 0h0m5 0h0m2 0h0m1 0h0m2 0h0m1 0h0m1 0h0m2 0h0m3 0h0m2 0h0m3 0h0m3 0h0m4 0h0m4 0h0m7 0h0m1 0h0m2 0h0m5 0h0m4 0h0m4 0h0m1 0h0m1 0h0m1 0h0m1 0h0m3 0h0m5 0h0m6 0h0m4 0h0m1 0h0m1 0h0m1 0h0m4 0h0m5 0h0m5 0h0m14 0h0m4 0h0m19 0h0m6 0h0m2 0h0m61 0h0m42 0h0m54 0h0m13 0h0m135 0h0m47 0h0m-819 1h0m8 0h0m1 0h0m275 0h0m1 0h0m5 0h0m2 0h0m1 0h0m9 0h0m12 0h0m29 0h0m14 0h0m3 0h0m1 0h0m3 0h0m1 0h0m1 0h0m9 0h0m1 0h0m4 0h0m1 0h0m2 0h0m3 0h0m1 0h0m1 0h0m1 0h0m3 0h0m5 0h0m2 0h0m1 0h0m3 0h0m8 0h0m5 0h0m89 0h0m78 0h0m48 0h0m13 0h0m9 0h0m53 0h0m4 0h0m5 0h0m117 0h0m2 0h0m-911 1h0m69 0h0m3 0h0m22 0h0m21 0h0m26 0h0m18 0h0m87 0h0m76 0h0m12 0h0m47 0h0m7 0h0m8 0h0m2 0h0m3 0h0m6 0h0m5 0h0m1 0h0m9 0h0m3 0h0m3 0h0m1 0h0m1 0h0m4 0h0m4 0h0m7 0h0m3 0h0m2 0h0m1 0h0m2 0h0m1 0h0m9 0h0m2 0h0m5 0h0m4 0h0m2 0h0m1 0h0m1 0h0m3 0h0m7 0h0m6 0h0m1 0h0m5 0h0m7 0h0m3 0h0m3 0h0m6 0h0m8 0h0m7 0h0m1 0h0m52 0h0m69 0h0m86 0h0m1 0h0m69 0h0m6 0h0m2 0h0m3 0h0m12 0h0m5 0h0m92 0h0m-955 1h0m4 0h0m32 0h0m2 0h0m75 0h0m150 0h0m25 0h0m18 0h0m38 0h0m23 0h0m5 0h0m19 0h0m10 0h0m15 0h0m3 0h0m7 0h0m2 0h0m10 0h0m7 0h0m4 0h0m2 0h0m12 0h0m3 0h0m8 0h0m3 0h0m3 0h0m1 0h0m6 0h0m3 0h0m4 0h0m2 0h0m3 0h0m1 0h0m6 0h0m1 0h0m5 0h0m2 0h0m2 0h0m4 0h0m9 0h0m5 0h0m1 0h0m2 0h0m9 0h0m5 0h0m1 0h0m35 0h0m18 0h0m3 0h0m2 0h0m7 0h0m37 0h0m27 0h0m68 0h0m18 0h0m11 0h0m1 0h0m8 0h0m19 0h0m38 0h0m21 0h0m4 0h0m70 0h0m-902 1h0m32 0h0m9 0h0m8 0h0m4 0h0m22 0h0m13 0h0m97 0h0m24 0h0m43 0h0m1 0h0m61 0h0m26 0h0m7 0h0m10 0h0m13 0h0m21 0h0m6 0h0m4 0h0m2 0h0m7 0h0m4 0h0m1 0h0m3 0h0m7 0h0m1 0h0m1 0h0m1 0h0m3 0h0m4 0h0m2 0h0m1 0h0m7 0h0m5 0h0m4 0h0m12 0h0m6 0h0m2 0h0m2 0h0m3 0h0m1 0h0m5 0h0m13 0h0m7 0h0m1 0h0m10 0h0m16 0h0m11 0h0m21 0h0m49 0h0m53 0h0m8 0h0m79 0h0m3 0h0m48 0h0m1 0h0m44 0h0m-878 1h0m29 0h0m55 0h0m7 0h0m48 0h0m142 0h0m2 0h0m61 0h0m25 0h0m13 0h0m8 0h0m4 0h0m4 0h0m9 0h0m4 0h0m2 0h0m4 0h0m4 0h0m9 0h0m1 0h0m4 0h0m1 0h0m1 0h0m3 0h0m1 0h0m1 0h0m3 0h0m4 0h0m4 0h0m2 0h0m3 0h0m1 0h0m3 0h0m2 0h0m1 0h0m8 0h0m5 0h0m9 0h0m4 0h0m4 0h0m3 0h0m8 0h0m3 0h0m4 0h0m1 0h0m1 0h0m14 0h0m4 0h0m40 0h0m23 0h0m10 0h0m38 0h0m109 0h0m29 0h0m17 0h0m14 0h0m5 0h0m24 0h0m47 0h0m-902 1h0m51 0h0m43 0h0m17 0h0m26 0h0m43 0h0m6 0h0m28 0h0m17 0h0m55 0h0m39 0h0m56 0h0m11 0h0m6 0h0m11 0h0m1 0h0m7 0h0m7 0h0m1 0h0m15 0h0m4 0h0m12 0h0m4 0h0m5 0h0m2 0h0m6 0h0m7 0h0m1 0h0m4 0h0m2 0h0m7 0h0m1 0h0m8 0h0m1 0h0m1 0h0m1 0h0m2 0h0m3 0h0m10 0h0m2 0h0m1 0h0m3 0h0m2 0h0m1 0h0m3 0h0m1 0h0m4 0h0m2 0h0m4 0h0m3 0h0m2 0h0m1 0h0m3 0h0m10 0h0m31 0h0m2 0h0m71 0h0m21 0h0m177 0h0m12 0h0m32 0h0m21 0h0m-929 1h0m32 0h0m14 0h0m1 0h0m59 0h0m13 0h0m18 0h0m1 0h0m21 0h0m69 0h0m74 0h0m4 0h0m35 0h0m6 0h0m46 0h0m17 0h0m4 0h0m8 0h0m13 0h0m7 0h0m7 0h0m1 0h0m12 0h0m1 0h0m4 0h0m3 0h0m5 0h0m2 0h0m1 0h0m3 0h0m6 0h0m2 0h0m4 0h0m4 0h0m4 0h0m1 0h0m12 0h0m1 0h0m1 0h0m11 0h0m2 0h0m1 0h0m3 0h0m1 0h0m3 0h0m19 0h0m34 0h0m11 0h0m24 0h0m32 0h0m5 0h0m34 0h0m33 0h0m78 0h0m21 0h0m6 0h0m17 0h0m25 0h0m41 0h0m42 0h0m-973 1h0m42 0h0m58 0h0m11 0h0m99 0h0m2 0h0m4 0h0m2 0h0m35 0h0m40 0h0m22 0h0m55 0h0m38 0h0m7 0h0m2 0h0m6 0h0m25 0h0m1 0h0m4 0h0m3 0h0m2 0h0m2 0h0m1 0h0m7 0h0m1 0h0m2 0h0m1 0h0m1 0h0m1 0h0m2 0h0m2 0h0m3 0h0m1 0h0m1 0h0m2 0h0m1 0h0m1 0h0m2 0h0m3 0h0m1 0h0m2 0h0m1 0h0m3 0h0m4 0h0m1 0h0m2 0h0m3 0h0m1 0h0m1 0h0m3 0h0m2 0h0m2 0h0m1 0h0m1 0h0m8 0h0m3 0h0m3 0h0m2 0h0m1 0h0m4 0h0m1 0h0m5 0h0m15 0h0m18 0h0m13 0h0m6 0h0m25 0h0m35 0h0m2 0h0m5 0h0m33 0h0m56 0h0m6 0h0m103 0h0m10 0h0m12 0h0m25 0h0m23 0h0m2 0h0m-913 1h0m7 0h0m10 0h0m19 0h0m10 0h0m107 0h0m46 0h0m48 0h0m84 0h0m52 0h0m9 0h0m5 0h0m17 0h0m20 0h0m2 0h0m5 0h0m2 0h0m1 0h0m3 0h0m2 0h0m3 0h0m4 0h0m3 0h0m1 0h0m2 0h0m6 0h0m1 0h0m1 0h0m1 0h0m2 0h0m5 0h0m8 0h0m1 0h0m1 0h0m2 0h0m2 0h0m5 0h0m5 0h0m1 0h0m2 0h0m2 0h0m11 0h0m7 0h0m2 0h0m33 0h0m35 0h0m1 0h0m8 0h0m2 0h0m27 0h0m2 0h0m3 0h0m7 0h0m68 0h0m4 0h0m95 0h0m18 0h0m44 0h0m68 0h0m10 0h0m-961 1h0m51 0h0m12 0h0m57 0h0m19 0h0m3 0h0m117 0h0m16 0h0m63 0h0m12 0h0m8 0h0m58 0h0m8 0h0m3 0h0m1 0h0m6 0h0m6 0h0m4 0h0m6 0h0m4 0h0m5 0h0m1 0h0m5 0h0m5 0h0m2 0h0m1 0h0m3 0h0m11 0h0m3 0h0m3 0h0m1 0h0m8 0h0m1 0h0m2 0h0m1 0h0m5 0h0m4 0h0m4 0h0m5 0h0m2 0h0m7 0h0m2 0h0m1 0h0m4 0h0m1 0h0m18 0h0m8 0h0m10 0h0m40 0h0m73 0h0m19 0h0m42 0h0m77 0h0m89 0h0m-931 1h0m29 0h0m40 0h0m4 0h0m9 0h0m8 0h0m47 0h0m24 0h0m21 0h0m19 0h0m18 0h0m14 0h0m43 0h0m9 0h0m12 0h0m13 0h0m34 0h0m6 0h0m33 0h0m16 0h0m31 0h0m4 0h0m2 0h0m1 0h0m8 0h0m7 0h0m1 0h0m3 0h0m1 0h0m1 0h0m1 0h0m2 0h0m10 0h0m1 0h0m2 0h0m1 0h0m1 0h0m3 0h0m2 0h0m1 0h0m2 0h0m2 0h0m10 0h0m4 0h0m2 0h0m1 0h0m2 0h0m6 0h0m5 0h0m3 0h0m1 0h0m4 0h0m3 0h0m1 0h0m5 0h0m3 0h0m4 0h0m27 0h0m14 0h0m16 0h0m20 0h0m6 0h0m5 0h0m12 0h0m76 0h0m7 0h0m33 0h0m21 0h0m13 0h0m44 0h0m100 0h0m9 0h0m9 0h0m-899 1h0m63 0h0m16 0h0m28 0h0m44 0h0m68 0h0m9 0h0m23 0h0m18 0h0m77 0h0m8 0h0m4 0h0m14 0h0m5 0h0m15 0h0m5 0h0m1 0h0m3 0h0m1 0h0m1 0h0m8 0h0m4 0h0m2 0h0m1 0h0m1 0h0m2 0h0m2 0h0m1 0h0m1 0h0m5 0h0m3 0h0m4 0h0m1 0h0m3 0h0m3 0h0m1 0h0m5 0h0m3 0h0m4 0h0m2 0h0m1 0h0m5 0h0m1 0h0m6 0h0m3 0h0m6 0h0m6 0h0m11 0h0m5 0h0m2 0h0m1 0h0m1 0h0m4 0h0m5 0h0m4 0h0m21 0h0m18 0h0m11 0h0m23 0h0m165 0h0m127 0h0m20 0h0m25 0h0m-956 1h0m30 0h0m63 0h0m9 0h0m6 0h0m7 0h0m20 0h0m22 0h0m66 0h0m6 0h0m4 0h0m1 0h0m48 0h0m20 0h0m47 0h0m4 0h0m24 0h0m17 0h0m10 0h0m2 0h0m1 0h0m2 0h0m1 0h0m1 0h0m6 0h0m8 0h0m2 0h0m4 0h0m1 0h0m10 0h0m1 0h0m1 0h0m2 0h0m2 0h0m2 0h0m1 0h0m1 0h0m3 0h0m10 0h0m1 0h0m1 0h0m5 0h0m6 0h0m7 0h0m2 0h0m3 0h0m4 0h0m7 0h0m1 0h0m7 0h0m8 0h0m17 0h0m40 0h0m11 0h0m27 0h0m75 0h0m18 0h0m18 0h0m36 0h0m191 0h0m5 0h0m-896 1h0m66 0h0m18 0h0m6 0h0m1 0h0m228 0h0m32 0h0m2 0h0m1 0h0m7 0h0m1 0h0m3 0h0m4 0h0m2 0h0m14 0h0m3 0h0m1 0h0m2 0h0m1 0h0m2 0h0m2 0h0m1 0h0m3 0h0m5 0h0m2 0h0m2 0h0m12 0h0m3 0h0m1 0h0m3 0h0m1 0h0m7 0h0m1 0h0m1 0h0m2 0h0m3 0h0m1 0h0m10 0h0m4 0h0m11 0h0m2 0h0m1 0h0m1 0h0m16 0h0m5 0h0m32 0h0m30 0h0m30 0h0m24 0h0m28 0h0m124 0h0m13 0h0m80 0h0m2 0h0m40 0h0m-882 1h0m4 0h0m12 0h0m21 0h0m82 0h0m25 0h0m33 0h0m37 0h0m21 0h0m26 0h0m42 0h0m33 0h0m5 0h0m1 0h0m1 0h0m7 0h0m1 0h0m14 0h0m2 0h0m1 0h0m3 0h0m1 0h0m3 0h0m10 0h0m2 0h0m3 0h0m2 0h0m4 0h0m3 0h0m1 0h0m1 0h0m4 0h0m2 0h0m2 0h0m1 0h0m4 0h0m1 0h0m4 0h0m10 0h0m1 0h0m3 0h0m3 0h0m12 0h0m3 0h0m1 0h0m33 0h0m25 0h0m8 0h0m13 0h0m6 0h0m22 0h0m14 0h0m23 0h0m69 0h0m5 0h0m39 0h0m131 0h0m15 0h0m-941 1h0m33 0h0m51 0h0m16 0h0m55 0h0m13 0h0m7 0h0m20 0h0m12 0h0m14 0h0m6 0h0m19 0h0m33 0h0m28 0h0m12 0h0m59 0h0m25 0h0m9 0h0m4 0h0m2 0h0m9 0h0m6 0h0m1 0h0m5 0h0m4 0h0m3 0h0m7 0h0m1 0h0m6 0h0m1 0h0m1 0h0m3 0h0m4 0h0m3 0h0m1 0h0m3 0h0m2 0h0m4 0h0m1 0h0m7 0h0m1 0h0m1 0h0m2 0h0m1 0h0m1 0h0m4 0h0m1 0h0m3 0h0m2 0h0m2 0h0m2 0h0m16 0h0m1 0h0m3 0h0m3 0h0m4 0h0m6 0h0m12 0h0m16 0h0m82 0h0m64 0h0m82 0h0m38 0h0m34 0h0m7 0h0m2 0h0m10 0h0m46 0h0m16 0h0m-967 1h0m74 0h0m31 0h0m12 0h0m60 0h0m9 0h0m45 0h0m2 0h0m14 0h0m34 0h0m2 0h0m11 0h0m24 0h0m67 0h0m13 0h0m23 0h0m8 0h0m3 0h0m6 0h0m2 0h0m6 0h0m7 0h0m5 0h0m2 0h0m3 0h0m6 0h0m3 0h0m2 0h0m1 0h0m1 0h0m4 0h0m3 0h0m1 0h0m1 0h0m4 0h0m1 0h0m1 0h0m3 0h0m2 0h0m4 0h0m6 0h0m1 0h0m1 0h0m5 0h0m1 0h0m2 0h0m2 0h0m2 0h0m12 0h0m4 0h0m1 0h0m1 0h0m12 0h0m3 0h0m14 0h0m17 0h0m5 0h0m13 0h0m57 0h0m14 0h0m12 0h0m4 0h0m5 0h0m28 0h0m43 0h0m15 0h0m7 0h0m109 0h0m10 0h0m7 0h0m39 0h0m2 0h0m-948 1h0m7 0h0m7 0h0m8 0h0m77 0h0m51 0h0m31 0h0m34 0h0m2 0h0m37 0h0m109 0h0m26 0h0m24 0h0m3 0h0m4 0h0m2 0h0m1 0h0m8 0h0m7 0h0m1 0h0m4 0h0m2 0h0m7 0h0m3 0h0m3 0h0m11 0h0m12 0h0m1 0h0m4 0h0m2 0h0m7 0h0m12 0h0m7 0h0m4 0h0m4 0h0m1 0h0m6 0h0m10 0h0m17 0h0m2 0h0m2 0h0m11 0h0m28 0h0m5 0h0m75 0h0m12 0h0m1 0h0m26 0h0m34 0h0m4 0h0m30 0h0m2 0h0m31 0h0m21 0h0m19 0h0m81 0h0m8 0h0m-951 1h0m33 0h0m115 0h0m91 0h0m12 0h0m16 0h0m24 0h0m72 0h0m39 0h0m12 0h0m5 0h0m5 0h0m2 0h0m5 0h0m18 0h0m7 0h0m2 0h0m6 0h0m1 0h0m4 0h0m2 0h0m2 0h0m14 0h0m1 0h0m1 0h0m12 0h0m3 0h0m1 0h0m1 0h0m2 0h0m8 0h0m9 0h0m4 0h0m1 0h0m1 0h0m2 0h0m5 0h0m6 0h0m2 0h0m3 0h0m1 0h0m20 0h0m16 0h0m9 0h0m26 0h0m67 0h0m13 0h0m8 0h0m8 0h0m6 0h0m10 0h0m7 0h0m15 0h0m8 0h0m4 0h0m4 0h0m4 0h0m22 0h0m5 0h0m29 0h0m16 0h0m27 0h0m41 0h0m6 0h0m31 0h0m5 0h0m-945 1h0m34 0h0m17 0h0m3 0h0m83 0h0m38 0h0m12 0h0m52 0h0m80 0h0m4 0h0m50 0h0m2 0h0m10 0h0m13 0h0m35 0h0m2 0h0m1 0h0m4 0h0m2 0h0m1 0h0m1 0h0m17 0h0m1 0h0m4 0h0m3 0h0m2 0h0m1 0h0m4 0h0m1 0h0m3 0h0m6 0h0m2 0h0m1 0h0m3 0h0m1 0h0m1 0h0m2 0h0m1 0h0m4 0h0m4 0h0m10 0h0m3 0h0m2 0h0m1 0h0m5 0h0m7 0h0m4 0h0m2 0h0m20 0h0m132 0h0m12 0h0m59 0h0m6 0h0m4 0h0m31 0h0m25 0h0m5 0h0m13 0h0m46 0h0m35 0h0m-912 1h0m74 0h0m4 0h0m4 0h0m42 0h0m178 0h0m50 0h0m3 0h0m12 0h0m11 0h0m23 0h0m4 0h0m4 0h0m8 0h0m5 0h0m1 0h0m2 0h0m2 0h0m7 0h0m1 0h0m2 0h0m1 0h0m1 0h0m3 0h0m4 0h0m3 0h0m7 0h0m2 0h0m2 0h0m1 0h0m4 0h0m5 0h0m1 0h0m2 0h0m2 0h0m1 0h0m1 0h0m1 0h0m2 0h0m4 0h0m2 0h0m3 0h0m6 0h0m6 0h0m7 0h0m3 0h0m5 0h0m1 0h0m3 0h0m9 0h0m5 0h0m9 0h0m9 0h0m17 0h0m9 0h0m9 0h0m29 0h0m31 0h0m10 0h0m40 0h0m26 0h0m39 0h0m18 0h0m48 0h0m13 0h0m98 0h0m6 0h0m8 0h0m-902 1h0m6 0h0m2 0h0m11 0h0m41 0h0m27 0h0m46 0h0m58 0h0m3 0h0m3 0h0m35 0h0m68 0h0m1 0h0m24 0h0m2 0h0m1 0h0m10 0h0m18 0h0m4 0h0m1 0h0m9 0h0m8 0h0m1 0h0m3 0h0m5 0h0m3 0h0m3 0h0m1 0h0m12 0h0m5 0h0m4 0h0m2 0h0m1 0h0m1 0h0m2 0h0m3 0h0m2 0h0m1 0h0m2 0h0m2 0h0m2 0h0m2 0h0m1 0h0m18 0h0m6 0h0m2 0h0m6 0h0m5 0h0m5 0h0m6 0h0m1 0h0m33 0h0m7 0h0m21 0h0m71 0h0m58 0h0m20 0h0m20 0h0m11 0h0m23 0h0m12 0h0m42 0h0m28 0h0m33 0h0m38 0h0m-953 1h0m6 0h0m13 0h0m78 0h0m20 0h0m14 0h0m4 0h0m56 0h0m141 0h0m7 0h0m23 0h0m15 0h0m3 0h0m2 0h0m11 0h0m5 0h0m13 0h0m6 0h0m3 0h0m4 0h0m1 0h0m3 0h0m2 0h0m3 0h0m3 0h0m4 0h0m4 0h0m2 0h0m1 0h0m2 0h0m3 0h0m2 0h0m1 0h0m1 0h0m1 0h0m9 0h0m2 0h0m1 0h0m1 0h0m5 0h0m3 0h0m2 0h0m2 0h0m1 0h0m5 0h0m4 0h0m8 0h0m2 0h0m4 0h0m10 0h0m3 0h0m3 0h0m1 0h0m4 0h0m3 0h0m3 0h0m1 0h0m9 0h0m15 0h0m14 0h0m17 0h0m11 0h0m73 0h0m23 0h0m11 0h0m11 0h0m5 0h0m60 0h0m33 0h0m5 0h0m25 0h0m21 0h0m14 0h0m15 0h0m47 0h0m10 0h0m-979 1h0m13 0h0m24 0h0m47 0h0m5 0h0m68 0h0m14 0h0m10 0h0m12 0h0m6 0h0m51 0h0m18 0h0m4 0h0m16 0h0m26 0h0m93 0h0m11 0h0m3 0h0m4 0h0m6 0h0m2 0h0m3 0h0m2 0h0m2 0h0m2 0h0m1 0h0m15 0h0m1 0h0m13 0h0m3 0h0m3 0h0m1 0h0m3 0h0m3 0h0m1 0h0m3 0h0m1 0h0m2 0h0m2 0h0m8 0h0m2 0h0m2 0h0m1 0h0m1 0h0m7 0h0m1 0h0m2 0h0m2 0h0m5 0h0m1 0h0m1 0h0m7 0h0m4 0h0m19 0h0m1 0h0m22 0h0m3 0h0m56 0h0m4 0h0m50 0h0m29 0h0m17 0h0m3 0h0m70 0h0m74 0h0m8 0h0m9 0h0m18 0h0m54 0h0m-976 1h0m18 0h0m2 0h0m8 0h0m5 0h0m7 0h0m34 0h0m36 0h0m27 0h0m10 0h0m25 0h0m47 0h0m3 0h0m3 0h0m25 0h0m51 0h0m23 0h0m25 0h0m16 0h0m25 0h0m11 0h0m17 0h0m15 0h0m2 0h0m4 0h0m3 0h0m6 0h0m3 0h0m2 0h0m10 0h0m6 0h0m1 0h0m2 0h0m9 0h0m5 0h0m3 0h0m3 0h0m1 0h0m10 0h0m1 0h0m4 0h0m1 0h0m6 0h0m2 0h0m1 0h0m2 0h0m1 0h0m8 0h0m2 0h0m3 0h0m15 0h0m2 0h0m3 0h0m2 0h0m2 0h0m9 0h0m23 0h0m5 0h0m38 0h0m7 0h0m14 0h0m8 0h0m24 0h0m19 0h0m11 0h0m5 0h0m35 0h0m124 0h0m10 0h0m4 0h0m2 0h0m64 0h0m-959 1h0m58 0h0m29 0h0m36 0h0m62 0h0m1 0h0m25 0h0m6 0h0m2 0h0m181 0h0m2 0h0m8 0h0m11 0h0m6 0h0m6 0h0m3 0h0m12 0h0m1 0h0m2 0h0m12 0h0m6 0h0m2 0h0m1 0h0m1 0h0m2 0h0m1 0h0m1 0h0m2 0h0m1 0h0m4 0h0m1 0h0m7 0h0m4 0h0m10 0h0m1 0h0m1 0h0m1 0h0m1 0h0m2 0h0m3 0h0m6 0h0m3 0h0m1 0h0m1 0h0m2 0h0m8 0h0m13 0h0m55 0h0m175 0h0m25 0h0m53 0h0m1 0h0m6 0h0m-825 1h0m22 0h0m2 0h0m5 0h0m14 0h0m20 0h0m64 0h0m16 0h0m103 0h0m28 0h0m7 0h0m10 0h0m29 0h0m16 0h0m3 0h0m2 0h0m31 0h0m21 0h0m4 0h0m6 0h0m1 0h0m20 0h0m4 0h0m1 0h0m5 0h0m15 0h0m1 0h0m3 0h0m1 0h0m8 0h0m1 0h0m1 0h0m13 0h0m9 0h0m5 0h0m9 0h0m24 0h0m12 0h0m1 0h0m15 0h0m8 0h0m78 0h0m6 0h0m13 0h0m1 0h0m50 0h0m16 0h0m72 0h0m28 0h0m32 0h0m15 0h0m39 0h0m3 0h0m-933 1h0m9 0h0m21 0h0m60 0h0m18 0h0m182 0h0m8 0h0m17 0h0m10 0h0m30 0h0m14 0h0m21 0h0m10 0h0m1 0h0m6 0h0m1 0h0m19 0h0m1 0h0m4 0h0m4 0h0m3 0h0m4 0h0m3 0h0m2 0h0m1 0h0m6 0h0m2 0h0m5 0h0m9 0h0m3 0h0m2 0h0m2 0h0m8 0h0m5 0h0m1 0h0m4 0h0m3 0h0m2 0h0m2 0h0m4 0h0m11 0h0m4 0h0m4 0h0m2 0h0m2 0h0m17 0h0m4 0h0m1 0h0m10 0h0m27 0h0m28 0h0m2 0h0m47 0h0m3 0h0m1 0h0m38 0h0m106 0h0m7 0h0m61 0h0m9 0h0m45 0h0m8 0h0m-951 1h0m63 0h0m19 0h0m15 0h0m22 0h0m16 0h0m6 0h0m2 0h0m6 0h0m14 0h0m40 0h0m41 0h0m41 0h0m83 0h0m2 0h0m3 0h0m13 0h0m5 0h0m13 0h0m17 0h0m4 0h0m6 0h0m4 0h0m4 0h0m1 0h0m3 0h0m2 0h0m8 0h0m1 0h0m5 0h0m1 0h0m2 0h0m5 0h0m13 0h0m3 0h0m2 0h0m2 0h0m1 0h0m7 0h0m1 0h0m7 0h0m1 0h0m1 0h0m1 0h0m3 0h0m2 0h0m5 0h0m1 0h0m2 0h0m4 0h0m11 0h0m7 0h0m17 0h0m37 0h0m26 0h0m114 0h0m45 0h0m47 0h0m36 0h0m1 0h0m15 0h0m21 0h0m67 0h0m-981 1h0m55 0h0m34 0h0m6 0h0m5 0h0m22 0h0m67 0h0m10 0h0m10 0h0m2 0h0m29 0h0m51 0h0m26 0h0m5 0h0m20 0h0m9 0h0m3 0h0m41 0h0m18 0h0m13 0h0m6 0h0m4 0h0m16 0h0m16 0h0m1 0h0m1 0h0m2 0h0m1 0h0m5 0h0m2 0h0m1 0h0m1 0h0m8 0h0m2 0h0m8 0h0m4 0h0m1 0h0m2 0h0m3 0h0m2 0h0m2 0h0m2 0h0m9 0h0m8 0h0m18 0h0m5 0h0m3 0h0m10 0h0m7 0h0m39 0h0m38 0h0m14 0h0m67 0h0m28 0h0m36 0h0m13 0h0m38 0h0m41 0h0m16 0h0m-908 1h0m44 0h0m10 0h0m3 0h0m40 0h0m15 0h0m7 0h0m63 0h0m21 0h0m6 0h0m46 0h0m72 0h0m11 0h0m17 0h0m35 0h0m7 0h0m12 0h0m12 0h0m6 0h0m6 0h0m11 0h0m3 0h0m1 0h0m9 0h0m1 0h0m2 0h0m2 0h0m8 0h0m10 0h0m16 0h0m1 0h0m1 0h0m3 0h0m2 0h0m11 0h0m4 0h0m1 0h0m5 0h0m7 0h0m2 0h0m1 0h0m7 0h0m1 0h0m2 0h0m23 0h0m24 0h0m5 0h0m21 0h0m44 0h0m36 0h0m4 0h0m70 0h0m29 0h0m6 0h0m52 0h0m17 0h0m11 0h0m14 0h0m10 0h0m18 0h0m-928 1h0m36 0h0m34 0h0m19 0h0m50 0h0m68 0h0m58 0h0m7 0h0m38 0h0m36 0h0m27 0h0m32 0h0m2 0h0m1 0h0m12 0h0m2 0h0m3 0h0m7 0h0m3 0h0m8 0h0m4 0h0m3 0h0m2 0h0m14 0h0m5 0h0m2 0h0m4 0h0m2 0h0m5 0h0m9 0h0m10 0h0m2 0h0m1 0h0m1 0h0m4 0h0m10 0h0m1 0h0m11 0h0m1 0h0m4 0h0m17 0h0m8 0h0m4 0h0m1 0h0m8 0h0m23 0h0m4 0h0m5 0h0m14 0h0m41 0h0m43 0h0m10 0h0m24 0h0m14 0h0m80 0h0m15 0h0m25 0h0m7 0h0m17 0h0m20 0h0m21 0h0m44 0h0m-948 1h0m12 0h0m29 0h0m30 0h0m3 0h0m43 0h0m7 0h0m46 0h0m110 0h0m11 0h0m15 0h0m40 0h0m15 0h0m13 0h0m10 0h0m2 0h0m13 0h0m3 0h0m5 0h0m2 0h0m4 0h0m10 0h0m7 0h0m3 0h0m2 0h0m3 0h0m4 0h0m13 0h0m4 0h0m2 0h0m1 0h0m3 0h0m1 0h0m8 0h0m1 0h0m2 0h0m3 0h0m19 0h0m4 0h0m5 0h0m2 0h0m4 0h0m13 0h0m2 0h0m1 0h0m36 0h0m14 0h0m10 0h0m75 0h0m53 0h0m15 0h0m2 0h0m12 0h0m7 0h0m45 0h0m4 0h0m5 0h0m43 0h0m24 0h0m9 0h0m11 0h0m-679 1h0m11 0h0m17 0h0m2 0h0m8 0h0m40 0h0m58 0h0m13 0h0m22 0h0m7 0h0m2 0h0m14 0h0m1 0h0m4 0h0m4 0h0m2 0h0m5 0h0m9 0h0m5 0h0m9 0h0m5 0h0m1 0h0m2 0h0m1 0h0m1 0h0m2 0h0m1 0h0m1 0h0m5 0h0m1 0h0m1 0h0m3 0h0m1 0h0m9 0h0m4 0h0m3 0h0m3 0h0m3 0h0m1 0h0m6 0h0m1 0h0m4 0h0m3 0h0m2 0h0m1 0h0m1 0h0m8 0h0m6 0h0m1 0h0m2 0h0m47 0h0m26 0h0m30 0h0m17 0h0m10 0h0m25 0h0m5 0h0m40 0h0m65 0h0m8 0h0m3 0h0m13 0h0m1 0h0m43 0h0m20 0h0m4 0h0m11 0h0m21 0h0m24 0h0m3 0h0m-969 1h0m46 0h0m20 0h0m14 0h0m43 0h0m13 0h0m22 0h0m57 0h0m49 0h0m2 0h0m6 0h0m7 0h0m7 0h0m29 0h0m12 0h0m20 0h0m26 0h0m15 0h0m4 0h0m12 0h0m4 0h0m5 0h0m7 0h0m7 0h0m7 0h0m8 0h0m8 0h0m9 0h0m1 0h0m1 0h0m4 0h0m1 0h0m1 0h0m1 0h0m8 0h0m7 0h0m1 0h0m5 0h0m3 0h0m5 0h0m3 0h0m1 0h0m1 0h0m7 0h0m4 0h0m1 0h0m4 0h0m1 0h0m1 0h0m10 0h0m5 0h0m2 0h0m11 0h0m5 0h0m2 0h0m1 0h0m2 0h0m23 0h0m150 0h0m116 0h0m15 0h0m89 0h0m15 0h0m-906 1h0m5 0h0m4 0h0m54 0h0m15 0h0m17 0h0m49 0h0m13 0h0m30 0h0m7 0h0m20 0h0m13 0h0m10 0h0m3 0h0m17 0h0m32 0h0m34 0h0m9 0h0m13 0h0m2 0h0m4 0h0m3 0h0m4 0h0m3 0h0m6 0h0m3 0h0m3 0h0m4 0h0m5 0h0m1 0h0m2 0h0m3 0h0m1 0h0m2 0h0m1 0h0m1 0h0m2 0h0m1 0h0m1 0h0m1 0h0m1 0h0m2 0h0m1 0h0m9 0h0m3 0h0m1 0h0m3 0h0m2 0h0m5 0h0m1 0h0m1 0h0m3 0h0m2 0h0m2 0h0m14 0h0m1 0h0m2 0h0m5 0h0m1 0h0m4 0h0m7 0h0m2 0h0m3 0h0m29 0h0m2 0h0m5 0h0m3 0h0m7 0h0m20 0h0m4 0h0m16 0h0m18 0h0m56 0h0m7 0h0m17 0h0m12 0h0m48 0h0m5 0h0m7 0h0m12 0h0m3 0h0m1 0h0m15 0h0m5 0h0m34 0h0m21 0h0m70 0h0m3 0h0m-916 1h0m8 0h0m12 0h0m26 0h0m20 0h0m15 0h0m1 0h0m19 0h0m39 0h0m25 0h0m32 0h0m55 0h0m27 0h0m44 0h0m9 0h0m39 0h0m3 0h0m7 0h0m3 0h0m5 0h0m3 0h0m8 0h0m6 0h0m3 0h0m3 0h0m10 0h0m7 0h0m4 0h0m1 0h0m5 0h0m13 0h0m2 0h0m3 0h0m2 0h0m3 0h0m3 0h0m13 0h0m12 0h0m19 0h0m13 0h0m1 0h0m4 0h0m109 0h0m59 0h0m92 0h0m2 0h0m23 0h0m14 0h0m38 0h0m47 0h0m21 0h0m-975 1h0m66 0h0m19 0h0m4 0h0m3 0h0m45 0h0m34 0h0m33 0h0m78 0h0m11 0h0m23 0h0m32 0h0m7 0h0m31 0h0m14 0h0m34 0h0m8 0h0m5 0h0m9 0h0m3 0h0m2 0h0m2 0h0m2 0h0m4 0h0m1 0h0m2 0h0m8 0h0m3 0h0m3 0h0m3 0h0m4 0h0m2 0h0m4 0h0m4 0h0m5 0h0m7 0h0m23 0h0m3 0h0m1 0h0m25 0h0m6 0h0m7 0h0m39 0h0m82 0h0m55 0h0m8 0h0m48 0h0m15 0h0m59 0h0m48 0h0m38 0h0m3 0h0m-983 1h0m51 0h0m60 0h0m11 0h0m43 0h0m43 0h0m117 0h0m80 0h0m2 0h0m1 0h0m29 0h0m11 0h0m2 0h0m3 0h0m14 0h0m1 0h0m3 0h0m6 0h0m2 0h0m2 0h0m1 0h0m5 0h0m3 0h0m2 0h0m4 0h0m1 0h0m3 0h0m3 0h0m1 0h0m2 0h0m2 0h0m4 0h0m1 0h0m2 0h0m2 0h0m4 0h0m3 0h0m3 0h0m8 0h0m2 0h0m22 0h0m13 0h0m8 0h0m33 0h0m70 0h0m27 0h0m21 0h0m21 0h0m19 0h0m27 0h0m5 0h0m56 0h0m4 0h0m23 0h0m40 0h0m13 0h0m21 0h0m-958 1h0m5 0h0m3 0h0m48 0h0m30 0h0m57 0h0m42 0h0m6 0h0m12 0h0m11 0h0m16 0h0m4 0h0m34 0h0m20 0h0m16 0h0m7 0h0m46 0h0m3 0h0m5 0h0m13 0h0m16 0h0m10 0h0m17 0h0m3 0h0m3 0h0m3 0h0m8 0h0m1 0h0m7 0h0m12 0h0m4 0h0m13 0h0m2 0h0m2 0h0m4 0h0m2 0h0m1 0h0m3 0h0m7 0h0m8 0h0m2 0h0m2 0h0m2 0h0m1 0h0m5 0h0m3 0h0m1 0h0m2 0h0m1 0h0m1 0h0m2 0h0m7 0h0m9 0h0m1 0h0m1 0h0m1 0h0m17 0h0m5 0h0m3 0h0m12 0h0m9 0h0m16 0h0m14 0h0m1 0h0m13 0h0m93 0h0m30 0h0m12 0h0m1 0h0m1 0h0m13 0h0m12 0h0m15 0h0m81 0h0m88 0h0m-980 1h0m46 0h0m26 0h0m42 0h0m22 0h0m36 0h0m11 0h0m26 0h0m28 0h0m1 0h0m37 0h0m14 0h0m56 0h0m6 0h0m16 0h0m20 0h0m17 0h0m3 0h0m1 0h0m6 0h0m11 0h0m3 0h0m18 0h0m8 0h0m1 0h0m5 0h0m5 0h0m1 0h0m3 0h0m5 0h0m1 0h0m2 0h0m3 0h0m2 0h0m3 0h0m1 0h0m2 0h0m3 0h0m5 0h0m1 0h0m3 0h0m1 0h0m8 0h0m2 0h0m1 0h0m4 0h0m5 0h0m7 0h0m1 0h0m4 0h0m1 0h0m15 0h0m22 0h0m23 0h0m8 0h0m47 0h0m108 0h0m81 0h0m48 0h0m27 0h0m13 0h0m53 0h0m-964 1h0m6 0h0m14 0h0m9 0h0m6 0h0m5 0h0m2 0h0m4 0h0m5 0h0m4 0h0m9 0h0m19 0h0m13 0h0m37 0h0m58 0h0m66 0h0m13 0h0m22 0h0m35 0h0m2 0h0m2 0h0m28 0h0m36 0h0m10 0h0m4 0h0m2 0h0m4 0h0m1 0h0m1 0h0m3 0h0m1 0h0m18 0h0m2 0h0m1 0h0m3 0h0m3 0h0m8 0h0m5 0h0m2 0h0m5 0h0m10 0h0m3 0h0m1 0h0m1 0h0m2 0h0m1 0h0m1 0h0m6 0h0m4 0h0m6 0h0m4 0h0m1 0h0m13 0h0m4 0h0m7 0h0m7 0h0m3 0h0m1 0h0m25 0h0m28 0h0m10 0h0m17 0h0m26 0h0m8 0h0m7 0h0m36 0h0m14 0h0m5 0h0m10 0h0m15 0h0m7 0h0m160 0h0m19 0h0m16 0h0m-941 1h0m10 0h0m31 0h0m72 0h0m1 0h0m29 0h0m9 0h0m8 0h0m35 0h0m28 0h0m15 0h0m14 0h0m44 0h0m45 0h0m33 0h0m23 0h0m8 0h0m21 0h0m9 0h0m6 0h0m1 0h0m1 0h0m1 0h0m11 0h0m8 0h0m2 0h0m6 0h0m20 0h0m1 0h0m1 0h0m1 0h0m16 0h0m9 0h0m1 0h0m2 0h0m1 0h0m6 0h0m8 0h0m3 0h0m26 0h0m11 0h0m24 0h0m32 0h0m30 0h0m54 0h0m18 0h0m61 0h0m7 0h0m10 0h0m35 0h0m29 0h0m10 0h0m9 0h0m19 0h0m27 0h0m-955 1h0m19 0h0m61 0h0m22 0h0m60 0h0m5 0h0m19 0h0m52 0h0m1 0h0m22 0h0m4 0h0m29 0h0m7 0h0m15 0h0m4 0h0m15 0h0m31 0h0m11 0h0m2 0h0m26 0h0m5 0h0m4 0h0m1 0h0m10 0h0m11 0h0m4 0h0m3 0h0m6 0h0m4 0h0m3 0h0m2 0h0m3 0h0m3 0h0m9 0h0m1 0h0m2 0h0m1 0h0m3 0h0m1 0h0m3 0h0m1 0h0m2 0h0m3 0h0m5 0h0m2 0h0m2 0h0m3 0h0m7 0h0m3 0h0m1 0h0m3 0h0m1 0h0m2 0h0m12 0h0m1 0h0m1 0h0m1 0h0m23 0h0m13 0h0m37 0h0m10 0h0m33 0h0m48 0h0m39 0h0m12 0h0m40 0h0m26 0h0m9 0h0m26 0h0m8 0h0m11 0h0m19 0h0m5 0h0m25 0h0m40 0h0m-965 1h0m34 0h0m20 0h0m2 0h0m55 0h0m59 0h0m15 0h0m9 0h0m10 0h0m9 0h0m11 0h0m20 0h0m50 0h0m3 0h0m35 0h0m14 0h0m3 0h0m2 0h0m10 0h0m9 0h0m50 0h0m15 0h0m13 0h0m1 0h0m6 0h0m13 0h0m4 0h0m4 0h0m1 0h0m3 0h0m5 0h0m3 0h0m1 0h0m4 0h0m4 0h0m3 0h0m1 0h0m2 0h0m1 0h0m3 0h0m4 0h0m5 0h0m1 0h0m1 0h0m6 0h0m2 0h0m19 0h0m2 0h0m1 0h0m11 0h0m7 0h0m3 0h0m1 0h0m16 0h0m12 0h0m7 0h0m18 0h0m9 0h0m18 0h0m63 0h0m14 0h0m25 0h0m6 0h0m50 0h0m20 0h0m8 0h0m8 0h0m41 0h0m12 0h0m8 0h0m45 0h0m-953 1h0m50 0h0m103 0h0m55 0h0m6 0h0m28 0h0m4 0h0m43 0h0m31 0h0m16 0h0m26 0h0m1 0h0m39 0h0m2 0h0m19 0h0m15 0h0m10 0h0m1 0h0m5 0h0m1 0h0m1 0h0m7 0h0m2 0h0m1 0h0m2 0h0m17 0h0m3 0h0m1 0h0m3 0h0m1 0h0m1 0h0m3 0h0m11 0h0m4 0h0m5 0h0m8 0h0m2 0h0m4 0h0m3 0h0m6 0h0m4 0h0m4 0h0m4 0h0m21 0h0m3 0h0m10 0h0m34 0h0m64 0h0m43 0h0m5 0h0m11 0h0m35 0h0m27 0h0m91 0h0m5 0h0m16 0h0m6 0h0m23 0h0m16 0h0m-922 1h0m7 0h0m25 0h0m15 0h0m2 0h0m24 0h0m9 0h0m1 0h0m12 0h0m54 0h0m15 0h0m6 0h0m44 0h0m5 0h0m20 0h0m2 0h0m4 0h0m11 0h0m11 0h0m20 0h0m37 0h0m26 0h0m11 0h0m2 0h0m19 0h0m1 0h0m10 0h0m5 0h0m5 0h0m3 0h0m5 0h0m5 0h0m4 0h0m11 0h0m1 0h0m2 0h0m7 0h0m2 0h0m1 0h0m2 0h0m2 0h0m2 0h0m3 0h0m1 0h0m4 0h0m1 0h0m4 0h0m5 0h0m6 0h0m2 0h0m5 0h0m3 0h0m3 0h0m1 0h0m3 0h0m1 0h0m3 0h0m5 0h0m56 0h0m14 0h0m25 0h0m14 0h0m6 0h0m40 0h0m6 0h0m21 0h0m6 0h0m7 0h0m27 0h0m12 0h0m15 0h0m28 0h0m18 0h0m16 0h0m29 0h0m94 0h0m-946 1h0m25 0h0m22 0h0m13 0h0m7 0h0m9 0h0m35 0h0m42 0h0m2 0h0m5 0h0m40 0h0m8 0h0m3 0h0m7 0h0m11 0h0m24 0h0m56 0h0m83 0h0m8 0h0m3 0h0m14 0h0m6 0h0m2 0h0m3 0h0m15 0h0m1 0h0m2 0h0m8 0h0m3 0h0m1 0h0m2 0h0m6 0h0m5 0h0m3 0h0m2 0h0m1 0h0m2 0h0m9 0h0m2 0h0m2 0h0m4 0h0m6 0h0m5 0h0m1 0h0m1 0h0m8 0h0m5 0h0m3 0h0m18 0h0m5 0h0m2 0h0m12 0h0m4 0h0m27 0h0m16 0h0m21 0h0m45 0h0m2 0h0m3 0h0m66 0h0m5 0h0m14 0h0m40 0h0m6 0h0m31 0h0m9 0h0m5 0h0m8 0h0m16 0h0m33 0h0m-941 1h0m5 0h0m6 0h0m28 0h0m1 0h0m10 0h0m92 0h0m20 0h0m18 0h0m45 0h0m24 0h0m1 0h0m41 0h0m60 0h0m19 0h0m6 0h0m22 0h0m17 0h0m7 0h0m5 0h0m10 0h0m2 0h0m2 0h0m4 0h0m7 0h0m1 0h0m1 0h0m10 0h0m8 0h0m2 0h0m3 0h0m5 0h0m15 0h0m2 0h0m1 0h0m18 0h0m6 0h0m12 0h0m12 0h0m12 0h0m4 0h0m55 0h0m56 0h0m28 0h0m46 0h0m28 0h0m8 0h0m14 0h0m13 0h0m53 0h0m13 0h0m1 0h0m18 0h0m15 0h0m47 0h0m2 0h0m-961 1h0m60 0h0m1 0h0m12 0h0m65 0h0m36 0h0m40 0h0m9 0h0m5 0h0m13 0h0m19 0h0m11 0h0m1 0h0m24 0h0m33 0h0m1 0h0m15 0h0m4 0h0m35 0h0m8 0h0m6 0h0m13 0h0m6 0h0m3 0h0m2 0h0m1 0h0m25 0h0m8 0h0m4 0h0m1 0h0m9 0h0m6 0h0m3 0h0m1 0h0m3 0h0m8 0h0m1 0h0m1 0h0m1 0h0m2 0h0m2 0h0m8 0h0m2 0h0m6 0h0m2 0h0m1 0h0m1 0h0m4 0h0m16 0h0m1 0h0m1 0h0m8 0h0m1 0h0m4 0h0m4 0h0m1 0h0m3 0h0m9 0h0m4 0h0m2 0h0m5 0h0m13 0h0m20 0h0m1 0h0m12 0h0m30 0h0m39 0h0m6 0h0m3 0h0m24 0h0m12 0h0m34 0h0m3 0h0m27 0h0m20 0h0m1 0h0m15 0h0m4 0h0m23 0h0m10 0h0m1 0h0m3 0h0m43 0h0m16 0h0m42 0h0m-966 1h0m5 0h0m28 0h0m112 0h0m5 0h0m15 0h0m39 0h0m6 0h0m2 0h0m13 0h0m43 0h0m25 0h0m33 0h0m4 0h0m3 0h0m19 0h0m55 0h0m11 0h0m8 0h0m8 0h0m7 0h0m7 0h0m6 0h0m5 0h0m1 0h0m4 0h0m6 0h0m10 0h0m2 0h0m5 0h0m1 0h0m1 0h0m1 0h0m1 0h0m3 0h0m8 0h0m1 0h0m2 0h0m4 0h0m7 0h0m3 0h0m1 0h0m2 0h0m7 0h0m4 0h0m2 0h0m4 0h0m10 0h0m1 0h0m10 0h0m13 0h0m17 0h0m31 0h0m1 0h0m10 0h0m25 0h0m15 0h0m12 0h0m2 0h0m19 0h0m50 0h0m30 0h0m16 0h0m2 0h0m29 0h0m26 0h0m27 0h0m48 0h0m3 0h0m23 0h0m-925 1h0m6 0h0m5 0h0m69 0h0m5 0h0m22 0h0m18 0h0m10 0h0m10 0h0m28 0h0m59 0h0m17 0h0m61 0h0m28 0h0m15 0h0m17 0h0m8 0h0m3 0h0m7 0h0m3 0h0m7 0h0m4 0h0m1 0h0m4 0h0m3 0h0m4 0h0m1 0h0m4 0h0m2 0h0m10 0h0m3 0h0m1 0h0m2 0h0m1 0h0m5 0h0m3 0h0m1 0h0m4 0h0m1 0h0m2 0h0m12 0h0m2 0h0m1 0h0m4 0h0m4 0h0m3 0h0m3 0h0m3 0h0m8 0h0m3 0h0m12 0h0m2 0h0m73 0h0m11 0h0m9 0h0m6 0h0m31 0h0m32 0h0m8 0h0m50 0h0m6 0h0m19 0h0m4 0h0m23 0h0m6 0h0m4 0h0m3 0h0m1 0h0m1 0h0m4 0h0m1 0h0m68 0h0m19 0h0m1 0h0m-939 1h0m20 0h0m33 0h0m37 0h0m29 0h0m3 0h0m11 0h0m16 0h0m37 0h0m5 0h0m6 0h0m12 0h0m32 0h0m26 0h0m1 0h0m13 0h0m15 0h0m5 0h0m13 0h0m2 0h0m2 0h0m18 0h0m3 0h0m3 0h0m26 0h0m8 0h0m5 0h0m7 0h0m18 0h0m3 0h0m2 0h0m17 0h0m4 0h0m12 0h0m13 0h0m1 0h0m4 0h0m2 0h0m1 0h0m4 0h0m1 0h0m7 0h0m1 0h0m3 0h0m7 0h0m1 0h0m5 0h0m1 0h0m12 0h0m1 0h0m3 0h0m1 0h0m3 0h0m3 0h0m1 0h0m4 0h0m6 0h0m10 0h0m6 0h0m5 0h0m19 0h0m17 0h0m3 0h0m8 0h0m10 0h0m6 0h0m5 0h0m27 0h0m6 0h0m5 0h0m14 0h0m3 0h0m24 0h0m22 0h0m35 0h0m4 0h0m31 0h0m5 0h0m21 0h0m15 0h0m35 0h0m33 0h0m2 0h0m6 0h0m1 0h0m11 0h0m13 0h0m26 0h0m-954 1h0m8 0h0m6 0h0m36 0h0m9 0h0m82 0h0m4 0h0m12 0h0m38 0h0m9 0h0m2 0h0m22 0h0m8 0h0m31 0h0m24 0h0m8 0h0m13 0h0m82 0h0m5 0h0m3 0h0m2 0h0m6 0h0m6 0h0m13 0h0m3 0h0m2 0h0m1 0h0m1 0h0m11 0h0m6 0h0m1 0h0m1 0h0m1 0h0m2 0h0m2 0h0m1 0h0m1 0h0m6 0h0m1 0h0m4 0h0m4 0h0m3 0h0m4 0h0m8 0h0m5 0h0m1 0h0m6 0h0m1 0h0m1 0h0m19 0h0m3 0h0m5 0h0m1 0h0m4 0h0m11 0h0m35 0h0m30 0h0m10 0h0m11 0h0m10 0h0m6 0h0m33 0h0m2 0h0m14 0h0m11 0h0m3 0h0m55 0h0m26 0h0m38 0h0m15 0h0m12 0h0m4 0h0m40 0h0m9 0h0m27 0h0m4 0h0m33 0h0m-973 1h0m9 0h0m24 0h0m5 0h0m31 0h0m22 0h0m47 0h0m23 0h0m3 0h0m18 0h0m24 0h0m9 0h0m7 0h0m50 0h0m21 0h0m4 0h0m2 0h0m29 0h0m26 0h0m8 0h0m49 0h0m18 0h0m3 0h0m6 0h0m9 0h0m1 0h0m1 0h0m8 0h0m1 0h0m4 0h0m2 0h0m2 0h0m1 0h0m1 0h0m1 0h0m5 0h0m1 0h0m2 0h0m4 0h0m2 0h0m8 0h0m1 0h0m4 0h0m1 0h0m2 0h0m2 0h0m3 0h0m1 0h0m10 0h0m7 0h0m1 0h0m1 0h0m2 0h0m10 0h0m7 0h0m16 0h0m10 0h0m10 0h0m13 0h0m16 0h0m13 0h0m7 0h0m2 0h0m3 0h0m7 0h0m50 0h0m19 0h0m50 0h0m6 0h0m51 0h0m56 0h0m36 0h0m31 0h0m34 0h0m-972 1h0m12 0h0m125 0h0m20 0h0m44 0h0m59 0h0m7 0h0m57 0h0m18 0h0m16 0h0m9 0h0m38 0h0m23 0h0m1 0h0m2 0h0m4 0h0m5 0h0m4 0h0m2 0h0m1 0h0m3 0h0m3 0h0m1 0h0m3 0h0m4 0h0m1 0h0m8 0h0m1 0h0m3 0h0m15 0h0m3 0h0m4 0h0m9 0h0m7 0h0m3 0h0m4 0h0m3 0h0m3 0h0m10 0h0m3 0h0m7 0h0m1 0h0m24 0h0m3 0h0m21 0h0m10 0h0m39 0h0m7 0h0m1 0h0m34 0h0m19 0h0m28 0h0m7 0h0m33 0h0m36 0h0m16 0h0m6 0h0m7 0h0m12 0h0m4 0h0m36 0h0m56 0h0m10 0h0m2 0h0m5 0h0m-973 1h0m12 0h0m17 0h0m13 0h0m17 0h0m32 0h0m15 0h0m67 0h0m29 0h0m66 0h0m18 0h0m7 0h0m5 0h0m26 0h0m13 0h0m6 0h0m18 0h0m52 0h0m8 0h0m2 0h0m3 0h0m3 0h0m1 0h0m7 0h0m13 0h0m3 0h0m3 0h0m2 0h0m6 0h0m3 0h0m1 0h0m1 0h0m3 0h0m1 0h0m1 0h0m2 0h0m7 0h0m14 0h0m6 0h0m2 0h0m3 0h0m2 0h0m2 0h0m6 0h0m6 0h0m5 0h0m6 0h0m5 0h0m2 0h0m9 0h0m1 0h0m7 0h0m6 0h0m1 0h0m3 0h0m43 0h0m54 0h0m28 0h0m1 0h0m48 0h0m12 0h0m57 0h0m15 0h0m27 0h0m21 0h0m11 0h0m24 0h0m55 0h0m17 0h0m-982 1h0m15 0h0m11 0h0m26 0h0m71 0h0m22 0h0m14 0h0m54 0h0m22 0h0m7 0h0m31 0h0m12 0h0m80 0h0m19 0h0m3 0h0m13 0h0m23 0h0m2 0h0m6 0h0m16 0h0m1 0h0m1 0h0m1 0h0m2 0h0m9 0h0m2 0h0m3 0h0m15 0h0m1 0h0m12 0h0m2 0h0m3 0h0m8 0h0m3 0h0m8 0h0m3 0h0m4 0h0m17 0h0m21 0h0m22 0h0m14 0h0m14 0h0m5 0h0m7 0h0m1 0h0m13 0h0m27 0h0m7 0h0m18 0h0m18 0h0m9 0h0m58 0h0m14 0h0m57 0h0m14 0h0m26 0h0m23 0h0m21 0h0m6 0h0m12 0h0m34 0h0m-945 1h0m27 0h0m41 0h0m10 0h0m6 0h0m5 0h0m10 0h0m52 0h0m4 0h0m32 0h0m2 0h0m1 0h0m22 0h0m6 0h0m5 0h0m22 0h0m49 0h0m17 0h0m1 0h0m4 0h0m2 0h0m19 0h0m16 0h0m2 0h0m4 0h0m6 0h0m21 0h0m17 0h0m3 0h0m2 0h0m1 0h0m2 0h0m3 0h0m4 0h0m5 0h0m1 0h0m3 0h0m2 0h0m3 0h0m1 0h0m1 0h0m14 0h0m1 0h0m1 0h0m2 0h0m11 0h0m1 0h0m2 0h0m1 0h0m9 0h0m2 0h0m1 0h0m2 0h0m4 0h0m5 0h0m11 0h0m14 0h0m1 0h0m3 0h0m1 0h0m2 0h0m10 0h0m75 0h0m5 0h0m20 0h0m1 0h0m13 0h0m22 0h0m10 0h0m26 0h0m11 0h0m35 0h0m4 0h0m5 0h0m9 0h0m7 0h0m66 0h0m33 0h0m2 0h0m53 0h0m14 0h0m-964 1h0m2 0h0m64 0h0m57 0h0m1 0h0m2 0h0m31 0h0m27 0h0m48 0h0m17 0h0m32 0h0m5 0h0m12 0h0m8 0h0m21 0h0m31 0h0m8 0h0m10 0h0m13 0h0m3 0h0m7 0h0m2 0h0m5 0h0m7 0h0m1 0h0m8 0h0m9 0h0m4 0h0m4 0h0m3 0h0m1 0h0m2 0h0m3 0h0m5 0h0m6 0h0m2 0h0m2 0h0m2 0h0m2 0h0m4 0h0m1 0h0m1 0h0m1 0h0m4 0h0m2 0h0m6 0h0m1 0h0m5 0h0m8 0h0m2 0h0m2 0h0m1 0h0m3 0h0m8 0h0m9 0h0m17 0h0m8 0h0m4 0h0m20 0h0m42 0h0m1 0h0m19 0h0m27 0h0m25 0h0m21 0h0m12 0h0m5 0h0m4 0h0m5 0h0m5 0h0m6 0h0m6 0h0m30 0h0m2 0h0m4 0h0m23 0h0m23 0h0m5 0h0m65 0h0m28 0h0m6 0h0m-932 1h0m17 0h0m60 0h0m11 0h0m12 0h0m3 0h0m30 0h0m13 0h0m17 0h0m20 0h0m55 0h0m52 0h0m33 0h0m30 0h0m6 0h0m4 0h0m29 0h0m2 0h0m5 0h0m1 0h0m17 0h0m7 0h0m5 0h0m1 0h0m3 0h0m1 0h0m1 0h0m6 0h0m2 0h0m1 0h0m4 0h0m3 0h0m3 0h0m5 0h0m1 0h0m5 0h0m2 0h0m1 0h0m6 0h0m1 0h0m1 0h0m1 0h0m1 0h0m2 0h0m2 0h0m1 0h0m1 0h0m3 0h0m3 0h0m6 0h0m1 0h0m1 0h0m4 0h0m4 0h0m1 0h0m1 0h0m2 0h0m6 0h0m1 0h0m3 0h0m2 0h0m4 0h0m18 0h0m2 0h0m10 0h0m3 0h0m48 0h0m29 0h0m24 0h0m1 0h0m10 0h0m14 0h0m15 0h0m32 0h0m32 0h0m6 0h0m4 0h0m3 0h0m3 0h0m9 0h0m28 0h0m113 0h0m-952 1h0m6 0h0m23 0h0m8 0h0m7 0h0m2 0h0m16 0h0m4 0h0m32 0h0m14 0h0m5 0h0m16 0h0m18 0h0m4 0h0m21 0h0m8 0h0m5 0h0m15 0h0m8 0h0m3 0h0m3 0h0m19 0h0m30 0h0m156 0h0m13 0h0m8 0h0m4 0h0m7 0h0m4 0h0m1 0h0m3 0h0m5 0h0m10 0h0m6 0h0m2 0h0m2 0h0m5 0h0m5 0h0m4 0h0m2 0h0m2 0h0m3 0h0m1 0h0m10 0h0m5 0h0m1 0h0m1 0h0m1 0h0m10 0h0m3 0h0m16 0h0m12 0h0m1 0h0m2 0h0m23 0h0m50 0h0m16 0h0m28 0h0m10 0h0m9 0h0m16 0h0m3 0h0m27 0h0m23 0h0m41 0h0m89 0h0m1 0h0m23 0h0m4 0h0m18 0h0m4 0h0m-925 1h0m12 0h0m88 0h0m2 0h0m28 0h0m24 0h0m28 0h0m26 0h0m9 0h0m11 0h0m47 0h0m2 0h0m38 0h0m9 0h0m17 0h0m26 0h0m13 0h0m1 0h0m16 0h0m13 0h0m6 0h0m12 0h0m3 0h0m4 0h0m2 0h0m4 0h0m1 0h0m2 0h0m1 0h0m7 0h0m4 0h0m9 0h0m6 0h0m4 0h0m3 0h0m1 0h0m2 0h0m11 0h0m1 0h0m2 0h0m5 0h0m2 0h0m2 0h0m5 0h0m5 0h0m5 0h0m3 0h0m4 0h0m3 0h0m9 0h0m5 0h0m11 0h0m28 0h0m12 0h0m14 0h0m1 0h0m7 0h0m33 0h0m25 0h0m1 0h0m21 0h0m31 0h0m44 0h0m21 0h0m3 0h0m33 0h0m9 0h0m9 0h0m6 0h0m10 0h0m6 0h0m1 0h0m2 0h0m27 0h0m49 0h0m-968 1h0m2 0h0m11 0h0m10 0h0m2 0h0m14 0h0m5 0h0m4 0h0m4 0h0m8 0h0m7 0h0m20 0h0m58 0h0m16 0h0m6 0h0m56 0h0m96 0h0m10 0h0m8 0h0m8 0h0m3 0h0m4 0h0m35 0h0m2 0h0m17 0h0m3 0h0m2 0h0m8 0h0m18 0h0m2 0h0m5 0h0m4 0h0m7 0h0m1 0h0m1 0h0m2 0h0m5 0h0m1 0h0m4 0h0m1 0h0m9 0h0m3 0h0m5 0h0m1 0h0m1 0h0m9 0h0m1 0h0m5 0h0m3 0h0m5 0h0m3 0h0m4 0h0m2 0h0m8 0h0m1 0h0m28 0h0m10 0h0m3 0h0m8 0h0m3 0h0m7 0h0m26 0h0m19 0h0m7 0h0m1 0h0m8 0h0m28 0h0m6 0h0m42 0h0m98 0h0m10 0h0m6 0h0m1 0h0m4 0h0m22 0h0m3 0h0m26 0h0m25 0h0m25 0h0m5 0h0m-951 1h0m31 0h0m5 0h0m1 0h0m18 0h0m4 0h0m18 0h0m20 0h0m55 0h0m6 0h0m21 0h0m42 0h0m1 0h0m10 0h0m6 0h0m1 0h0m13 0h0m4 0h0m12 0h0m20 0h0m6 0h0m3 0h0m13 0h0m3 0h0m6 0h0m8 0h0m37 0h0m6 0h0m3 0h0m13 0h0m11 0h0m3 0h0m10 0h0m13 0h0m5 0h0m3 0h0m15 0h0m6 0h0m3 0h0m2 0h0m2 0h0m5 0h0m4 0h0m1 0h0m1 0h0m2 0h0m8 0h0m4 0h0m5 0h0m2 0h0m4 0h0m1 0h0m1 0h0m16 0h0m2 0h0m10 0h0m4 0h0m2 0h0m6 0h0m7 0h0m3 0h0m8 0h0m13 0h0m20 0h0m3 0h0m6 0h0m19 0h0m25 0h0m72 0h0m15 0h0m1 0h0m4 0h0m49 0h0m13 0h0m1 0h0m6 0h0m5 0h0m59 0h0m13 0h0m29 0h0m9 0h0m39 0h0m4 0h0m-972 1h0m59 0h0m10 0h0m7 0h0m6 0h0m3 0h0m8 0h0m40 0h0m31 0h0m11 0h0m47 0h0m1 0h0m14 0h0m23 0h0m4 0h0m74 0h0m33 0h0m2 0h0m2 0h0m14 0h0m26 0h0m3 0h0m4 0h0m6 0h0m9 0h0m8 0h0m19 0h0m3 0h0m8 0h0m3 0h0m5 0h0m2 0h0m2 0h0m3 0h0m4 0h0m3 0h0m2 0h0m1 0h0m2 0h0m4 0h0m1 0h0m1 0h0m1 0h0m2 0h0m2 0h0m4 0h0m2 0h0m3 0h0m3 0h0m5 0h0m7 0h0m15 0h0m25 0h0m7 0h0m19 0h0m1 0h0m74 0h0m47 0h0m6 0h0m53 0h0m21 0h0m3 0h0m29 0h0m6 0h0m17 0h0m49 0h0m74 0h0m-936 1h0m13 0h0m21 0h0m10 0h0m20 0h0m6 0h0m31 0h0m6 0h0m8 0h0m3 0h0m4 0h0m3 0h0m7 0h0m13 0h0m2 0h0m6 0h0m25 0h0m10 0h0m49 0h0m3 0h0m25 0h0m2 0h0m6 0h0m64 0h0m28 0h0m2 0h0m13 0h0m3 0h0m4 0h0m2 0h0m9 0h0m9 0h0m2 0h0m1 0h0m1 0h0m2 0h0m3 0h0m5 0h0m1 0h0m4 0h0m3 0h0m12 0h0m2 0h0m1 0h0m1 0h0m2 0h0m2 0h0m5 0h0m4 0h0m1 0h0m1 0h0m9 0h0m5 0h0m4 0h0m4 0h0m5 0h0m2 0h0m4 0h0m7 0h0m7 0h0m2 0h0m3 0h0m1 0h0m2 0h0m4 0h0m7 0h0m13 0h0m5 0h0m3 0h0m2 0h0m10 0h0m23 0h0m30 0h0m32 0h0m50 0h0m8 0h0m52 0h0m52 0h0m17 0h0m52 0h0m-912 1h0m35 0h0m16 0h0m5 0h0m4 0h0m46 0h0m3 0h0m9 0h0m24 0h0m2 0h0m11 0h0m13 0h0m31 0h0m31 0h0m15 0h0m9 0h0m22 0h0m7 0h0m10 0h0m66 0h0m10 0h0m7 0h0m2 0h0m20 0h0m17 0h0m3 0h0m5 0h0m15 0h0m7 0h0m3 0h0m3 0h0m1 0h0m4 0h0m8 0h0m7 0h0m5 0h0m11 0h0m2 0h0m2 0h0m5 0h0m8 0h0m2 0h0m2 0h0m2 0h0m10 0h0m4 0h0m6 0h0m2 0h0m6 0h0m2 0h0m2 0h0m2 0h0m17 0h0m7 0h0m22 0h0m58 0h0m12 0h0m3 0h0m1 0h0m34 0h0m24 0h0m10 0h0m7 0h0m17 0h0m6 0h0m29 0h0m17 0h0m21 0h0m8 0h0m50 0h0m4 0h0m13 0h0m56 0h0m7 0h0m3 0h0m2 0h0m-974 1h0m2 0h0m13 0h0m36 0h0m31 0h0m27 0h0m10 0h0m6 0h0m5 0h0m39 0h0m48 0h0m9 0h0m45 0h0m3 0h0m7 0h0m5 0h0m19 0h0m13 0h0m16 0h0m37 0h0m39 0h0m16 0h0m6 0h0m4 0h0m4 0h0m1 0h0m4 0h0m21 0h0m1 0h0m7 0h0m4 0h0m2 0h0m2 0h0m2 0h0m1 0h0m7 0h0m4 0h0m1 0h0m1 0h0m1 0h0m2 0h0m1 0h0m1 0h0m2 0h0m6 0h0m1 0h0m3 0h0m1 0h0m1 0h0m1 0h0m1 0h0m7 0h0m2 0h0m4 0h0m9 0h0m2 0h0m2 0h0m1 0h0m1 0h0m49 0h0m54 0h0m13 0h0m5 0h0m12 0h0m3 0h0m35 0h0m4 0h0m55 0h0m15 0h0m15 0h0m14 0h0m10 0h0m5 0h0m38 0h0m48 0h0m48 0h0m-978 1h0m13 0h0m8 0h0m48 0h0m4 0h0m45 0h0m30 0h0m30 0h0m8 0h0m68 0h0m14 0h0m22 0h0m39 0h0m11 0h0m7 0h0m14 0h0m36 0h0m28 0h0m7 0h0m1 0h0m1 0h0m3 0h0m5 0h0m4 0h0m1 0h0m1 0h0m6 0h0m5 0h0m3 0h0m1 0h0m3 0h0m3 0h0m1 0h0m3 0h0m13 0h0m1 0h0m1 0h0m2 0h0m1 0h0m3 0h0m2 0h0m4 0h0m1 0h0m3 0h0m2 0h0m1 0h0m4 0h0m12 0h0m7 0h0m2 0h0m3 0h0m5 0h0m3 0h0m5 0h0m5 0h0m17 0h0m7 0h0m18 0h0m14 0h0m33 0h0m10 0h0m6 0h0m6 0h0m5 0h0m3 0h0m19 0h0m5 0h0m11 0h0m6 0h0m23 0h0m65 0h0m27 0h0m15 0h0m31 0h0m1 0h0m32 0h0m8 0h0m6 0h0m13 0h0m2 0h0m6 0h0m4 0h0m17 0h0m3 0h0m17 0h0m-960 1h0m16 0h0m17 0h0m63 0h0m10 0h0m38 0h0m19 0h0m24 0h0m6 0h0m32 0h0m5 0h0m2 0h0m14 0h0m24 0h0m32 0h0m9 0h0m14 0h0m18 0h0m19 0h0m16 0h0m2 0h0m1 0h0m15 0h0m12 0h0m2 0h0m13 0h0m3 0h0m6 0h0m1 0h0m2 0h0m2 0h0m1 0h0m1 0h0m7 0h0m3 0h0m4 0h0m2 0h0m5 0h0m5 0h0m1 0h0m3 0h0m4 0h0m3 0h0m2 0h0m12 0h0m6 0h0m5 0h0m4 0h0m8 0h0m1 0h0m4 0h0m1 0h0m6 0h0m1 0h0m1 0h0m16 0h0m13 0h0m5 0h0m3 0h0m37 0h0m3 0h0m25 0h0m16 0h0m1 0h0m9 0h0m9 0h0m3 0h0m3 0h0m6 0h0m2 0h0m9 0h0m6 0h0m16 0h0m6 0h0m1 0h0m9 0h0m4 0h0m28 0h0m8 0h0m7 0h0m41 0h0m36 0h0m39 0h0m33 0h0m1 0h0m38 0h0m-958 1h0m15 0h0m35 0h0m32 0h0m25 0h0m21 0h0m1 0h0m1 0h0m12 0h0m47 0h0m19 0h0m34 0h0m38 0h0m5 0h0m20 0h0m2 0h0m5 0h0m10 0h0m13 0h0m1 0h0m18 0h0m16 0h0m19 0h0m11 0h0m10 0h0m9 0h0m13 0h0m2 0h0m2 0h0m2 0h0m4 0h0m2 0h0m2 0h0m6 0h0m6 0h0m1 0h0m3 0h0m1 0h0m2 0h0m3 0h0m4 0h0m15 0h0m3 0h0m1 0h0m1 0h0m15 0h0m13 0h0m4 0h0m4 0h0m5 0h0m61 0h0m4 0h0m25 0h0m13 0h0m49 0h0m7 0h0m11 0h0m2 0h0m11 0h0m54 0h0m32 0h0m1 0h0m2 0h0m6 0h0m7 0h0m9 0h0m14 0h0m7 0h0m23 0h0m40 0h0m37 0h0m10 0h0m-961 1h0m49 0h0m11 0h0m96 0h0m12 0h0m24 0h0m59 0h0m3 0h0m42 0h0m8 0h0m25 0h0m19 0h0m4 0h0m4 0h0m19 0h0m2 0h0m15 0h0m2 0h0m2 0h0m4 0h0m2 0h0m24 0h0m2 0h0m7 0h0m2 0h0m7 0h0m2 0h0m5 0h0m2 0h0m5 0h0m2 0h0m1 0h0m6 0h0m4 0h0m2 0h0m1 0h0m4 0h0m2 0h0m1 0h0m14 0h0m5 0h0m1 0h0m2 0h0m2 0h0m2 0h0m18 0h0m6 0h0m34 0h0m14 0h0m6 0h0m6 0h0m25 0h0m22 0h0m27 0h0m39 0h0m17 0h0m43 0h0m18 0h0m23 0h0m20 0h0m4 0h0m22 0h0m40 0h0m19 0h0m6 0h0m7 0h0m37 0h0m1 0h0m-948 1h0m29 0h0m5 0h0m44 0h0m4 0h0m10 0h0m29 0h0m10 0h0m73 0h0m3 0h0m20 0h0m7 0h0m47 0h0m12 0h0m30 0h0m19 0h0m5 0h0m1 0h0m3 0h0m2 0h0m11 0h0m4 0h0m16 0h0m6 0h0m2 0h0m1 0h0m3 0h0m1 0h0m1 0h0m1 0h0m10 0h0m2 0h0m9 0h0m3 0h0m2 0h0m1 0h0m1 0h0m1 0h0m12 0h0m6 0h0m2 0h0m2 0h0m1 0h0m6 0h0m1 0h0m1 0h0m2 0h0m1 0h0m1 0h0m1 0h0m3 0h0m2 0h0m1 0h0m8 0h0m2 0h0m4 0h0m3 0h0m5 0h0m4 0h0m8 0h0m1 0h0m5 0h0m3 0h0m3 0h0m3 0h0m26 0h0m8 0h0m14 0h0m17 0h0m24 0h0m20 0h0m18 0h0m24 0h0m19 0h0m40 0h0m3 0h0m13 0h0m28 0h0m57 0h0m1 0h0m6 0h0m25 0h0m29 0h0m24 0h0m10 0h0m23 0h0m-983 1h0m63 0h0m7 0h0m75 0h0m7 0h0m4 0h0m6 0h0m15 0h0m18 0h0m1 0h0m1 0h0m3 0h0m4 0h0m21 0h0m6 0h0m43 0h0m12 0h0m7 0h0m8 0h0m24 0h0m6 0h0m37 0h0m11 0h0m6 0h0m7 0h0m4 0h0m15 0h0m3 0h0m9 0h0m4 0h0m4 0h0m1 0h0m1 0h0m2 0h0m18 0h0m6 0h0m2 0h0m2 0h0m3 0h0m1 0h0m2 0h0m4 0h0m1 0h0m8 0h0m5 0h0m1 0h0m3 0h0m1 0h0m2 0h0m2 0h0m1 0h0m1 0h0m6 0h0m1 0h0m4 0h0m1 0h0m2 0h0m6 0h0m1 0h0m5 0h0m3 0h0m2 0h0m1 0h0m1 0h0m47 0h0m7 0h0m16 0h0m10 0h0m5 0h0m4 0h0m5 0h0m28 0h0m9 0h0m20 0h0m9 0h0m6 0h0m37 0h0m2 0h0m5 0h0m6 0h0m41 0h0m4 0h0m3 0h0m27 0h0m1 0h0m12 0h0m3 0h0m11 0h0m8 0h0m40 0h0m11 0h0m19 0h0m24 0h0m28 0h0m-979 1h0m4 0h0m31 0h0m14 0h0m3 0h0m26 0h0m10 0h0m11 0h0m25 0h0m14 0h0m69 0h0m89 0h0m2 0h0m6 0h0m18 0h0m10 0h0m3 0h0m15 0h0m16 0h0m1 0h0m22 0h0m4 0h0m17 0h0m3 0h0m8 0h0m7 0h0m2 0h0m6 0h0m4 0h0m2 0h0m1 0h0m13 0h0m1 0h0m3 0h0m2 0h0m1 0h0m6 0h0m2 0h0m10 0h0m2 0h0m5 0h0m5 0h0m4 0h0m1 0h0m2 0h0m4 0h0m1 0h0m4 0h0m6 0h0m2 0h0m3 0h0m1 0h0m8 0h0m2 0h0m1 0h0m4 0h0m1 0h0m2 0h0m4 0h0m9 0h0m9 0h0m7 0h0m4 0h0m4 0h0m24 0h0m2 0h0m69 0h0m74 0h0m30 0h0m11 0h0m1 0h0m16 0h0m19 0h0m61 0h0m7 0h0m2 0h0m2 0h0m15 0h0m34 0h0m7 0h0m21 0h0m9 0h0m3 0h0m-958 1h0m9 0h0m24 0h0m15 0h0m7 0h0m9 0h0m29 0h0m47 0h0m29 0h0m1 0h0m15 0h0m5 0h0m2 0h0m3 0h0m6 0h0m23 0h0m16 0h0m16 0h0m94 0h0m17 0h0m12 0h0m11 0h0m6 0h0m7 0h0m7 0h0m9 0h0m1 0h0m6 0h0m6 0h0m10 0h0m2 0h0m1 0h0m1 0h0m2 0h0m4 0h0m1 0h0m1 0h0m5 0h0m4 0h0m9 0h0m5 0h0m10 0h0m11 0h0m2 0h0m2 0h0m2 0h0m4 0h0m11 0h0m4 0h0m1 0h0m3 0h0m2 0h0m24 0h0m19 0h0m3 0h0m10 0h0m39 0h0m12 0h0m29 0h0m3 0h0m10 0h0m6 0h0m2 0h0m10 0h0m57 0h0m9 0h0m1 0h0m13 0h0m45 0h0m11 0h0m9 0h0m8 0h0m47 0h0m24 0h0m13 0h0m13 0h0m12 0h0m-979 1h0m59 0h0m4 0h0m9 0h0m6 0h0m41 0h0m103 0h0m16 0h0m43 0h0m24 0h0m8 0h0m22 0h0m6 0h0m16 0h0m10 0h0m17 0h0m2 0h0m21 0h0m18 0h0m2 0h0m10 0h0m1 0h0m3 0h0m3 0h0m1 0h0m3 0h0m2 0h0m6 0h0m4 0h0m9 0h0m2 0h0m9 0h0m2 0h0m2 0h0m3 0h0m2 0h0m2 0h0m3 0h0m1 0h0m4 0h0m1 0h0m1 0h0m3 0h0m2 0h0m2 0h0m1 0h0m2 0h0m1 0h0m1 0h0m3 0h0m3 0h0m5 0h0m3 0h0m16 0h0m12 0h0m3 0h0m10 0h0m5 0h0m19 0h0m9 0h0m4 0h0m3 0h0m3 0h0m3 0h0m7 0h0m15 0h0m21 0h0m42 0h0m3 0h0m10 0h0m33 0h0m66 0h0m5 0h0m3 0h0m1 0h0m48 0h0m45 0h0m2 0h0m3 0h0m10 0h0m10 0h0m2 0h0m39 0h0m-975 1h0m3 0h0m13 0h0m2 0h0m1 0h0m3 0h0m24 0h0m44 0h0m1 0h0m36 0h0m12 0h0m36 0h0m5 0h0m10 0h0m6 0h0m141 0h0m15 0h0m23 0h0m12 0h0m30 0h0m9 0h0m9 0h0m2 0h0m4 0h0m4 0h0m4 0h0m2 0h0m5 0h0m2 0h0m3 0h0m1 0h0m2 0h0m3 0h0m3 0h0m1 0h0m4 0h0m1 0h0m5 0h0m5 0h0m4 0h0m2 0h0m1 0h0m1 0h0m4 0h0m1 0h0m16 0h0m3 0h0m3 0h0m5 0h0m9 0h0m10 0h0m2 0h0m12 0h0m20 0h0m32 0h0m31 0h0m24 0h0m2 0h0m36 0h0m49 0h0m26 0h0m32 0h0m1 0h0m6 0h0m44 0h0m13 0h0m26 0h0m1 0h0m8 0h0m20 0h0m17 0h0m19 0h0m9 0h0m-979 1h0m39 0h0m21 0h0m35 0h0m12 0h0m4 0h0m54 0h0m9 0h0m3 0h0m27 0h0m11 0h0m3 0h0m15 0h0m26 0h0m13 0h0m69 0h0m44 0h0m12 0h0m11 0h0m14 0h0m7 0h0m7 0h0m4 0h0m5 0h0m4 0h0m10 0h0m5 0h0m3 0h0m4 0h0m1 0h0m11 0h0m1 0h0m1 0h0m3 0h0m1 0h0m2 0h0m3 0h0m3 0h0m3 0h0m1 0h0m13 0h0m2 0h0m5 0h0m2 0h0m11 0h0m1 0h0m2 0h0m15 0h0m6 0h0m16 0h0m22 0h0m32 0h0m15 0h0m62 0h0m29 0h0m7 0h0m56 0h0m16 0h0m7 0h0m19 0h0m10 0h0m2 0h0m6 0h0m48 0h0m12 0h0m4 0h0m27 0h0m26 0h0m-961 1h0m3 0h0m4 0h0m5 0h0m1 0h0m17 0h0m1 0h0m55 0h0m6 0h0m7 0h0m2 0h0m9 0h0m1 0h0m22 0h0m12 0h0m6 0h0m12 0h0m8 0h0m15 0h0m28 0h0m17 0h0m4 0h0m23 0h0m6 0h0m14 0h0m9 0h0m1 0h0m2 0h0m52 0h0m6 0h0m19 0h0m5 0h0m10 0h0m10 0h0m18 0h0m16 0h0m5 0h0m3 0h0m7 0h0m1 0h0m6 0h0m1 0h0m3 0h0m3 0h0m1 0h0m3 0h0m3 0h0m2 0h0m7 0h0m1 0h0m3 0h0m14 0h0m3 0h0m4 0h0m2 0h0m11 0h0m2 0h0m2 0h0m3 0h0m1 0h0m1 0h0m8 0h0m2 0h0m39 0h0m4 0h0m11 0h0m32 0h0m7 0h0m23 0h0m19 0h0m10 0h0m19 0h0m11 0h0m31 0h0m10 0h0m1 0h0m1 0h0m11 0h0m42 0h0m49 0h0m30 0h0m28 0h0m31 0h0m6 0h0m9 0h0m1 0h0m-954 1h0m3 0h0m37 0h0m5 0h0m3 0h0m20 0h0m34 0h0m21 0h0m40 0h0m3 0h0m18 0h0m21 0h0m11 0h0m7 0h0m9 0h0m66 0h0m3 0h0m14 0h0m3 0h0m19 0h0m28 0h0m8 0h0m23 0h0m19 0h0m11 0h0m2 0h0m1 0h0m6 0h0m1 0h0m4 0h0m2 0h0m2 0h0m1 0h0m3 0h0m4 0h0m2 0h0m3 0h0m2 0h0m1 0h0m12 0h0m3 0h0m6 0h0m7 0h0m2 0h0m6 0h0m3 0h0m1 0h0m6 0h0m2 0h0m4 0h0m7 0h0m1 0h0m13 0h0m5 0h0m11 0h0m36 0h0m8 0h0m7 0h0m6 0h0m15 0h0m16 0h0m42 0h0m91 0h0m31 0h0m8 0h0m58 0h0m19 0h0m14 0h0m7 0h0m16 0h0m25 0h0m4 0h0m6 0h0m6 0h0m-959 1h0m16 0h0m11 0h0m4 0h0m1 0h0m12 0h0m38 0h0m11 0h0m39 0h0m9 0h0m51 0h0m4 0h0m5 0h0m21 0h0m7 0h0m42 0h0m17 0h0m19 0h0m38 0h0m4 0h0m55 0h0m16 0h0m2 0h0m11 0h0m4 0h0m3 0h0m3 0h0m6 0h0m1 0h0m3 0h0m4 0h0m3 0h0m4 0h0m7 0h0m1 0h0m3 0h0m1 0h0m1 0h0m1 0h0m1 0h0m2 0h0m6 0h0m4 0h0m3 0h0m2 0h0m10 0h0m1 0h0m2 0h0m1 0h0m3 0h0m1 0h0m7 0h0m2 0h0m1 0h0m3 0h0m1 0h0m12 0h0m10 0h0m15 0h0m33 0h0m30 0h0m42 0h0m12 0h0m11 0h0m4 0h0m16 0h0m32 0h0m2 0h0m42 0h0m2 0h0m26 0h0m28 0h0m19 0h0m5 0h0m23 0h0m33 0h0m37 0h0m-983 1h0m24 0h0m25 0h0m6 0h0m13 0h0m9 0h0m24 0h0m2 0h0m6 0h0m30 0h0m4 0h0m5 0h0m51 0h0m7 0h0m24 0h0m2 0h0m122 0h0m23 0h0m4 0h0m6 0h0m1 0h0m14 0h0m19 0h0m2 0h0m1 0h0m17 0h0m12 0h0m7 0h0m6 0h0m1 0h0m3 0h0m10 0h0m10 0h0m1 0h0m6 0h0m3 0h0m3 0h0m4 0h0m2 0h0m1 0h0m3 0h0m4 0h0m4 0h0m3 0h0m4 0h0m1 0h0m1 0h0m17 0h0m6 0h0m1 0h0m3 0h0m5 0h0m2 0h0m2 0h0m12 0h0m1 0h0m15 0h0m24 0h0m7 0h0m4 0h0m9 0h0m2 0h0m20 0h0m84 0h0m6 0h0m28 0h0m15 0h0m47 0h0m19 0h0m12 0h0m18 0h0m44 0h0m1 0h0m-885 1h0m16 0h0m36 0h0m28 0h0m43 0h0m32 0h0m7 0h0m12 0h0m23 0h0m6 0h0m6 0h0m17 0h0m9 0h0m23 0h0m64 0h0m2 0h0m22 0h0m6 0h0m7 0h0m18 0h0m1 0h0m10 0h0m7 0h0m1 0h0m2 0h0m5 0h0m6 0h0m14 0h0m2 0h0m6 0h0m5 0h0m6 0h0m6 0h0m2 0h0m12 0h0m3 0h0m3 0h0m7 0h0m4 0h0m5 0h0m19 0h0m1 0h0m7 0h0m6 0h0m1 0h0m36 0h0m1 0h0m3 0h0m61 0h0m26 0h0m2 0h0m5 0h0m42 0h0m3 0h0m5 0h0m7 0h0m14 0h0m7 0h0m3 0h0m10 0h0m42 0h0m1 0h0m18 0h0m44 0h0m18 0h0m3 0h0m1 0h0m4 0h0m18 0h0m16 0h0m-957 1h0m5 0h0m28 0h0m25 0h0m59 0h0m42 0h0m25 0h0m21 0h0m33 0h0m25 0h0m9 0h0m4 0h0m14 0h0m15 0h0m1 0h0m2 0h0m5 0h0m9 0h0m8 0h0m4 0h0m1 0h0m7 0h0m15 0h0m12 0h0m3 0h0m29 0h0m6 0h0m4 0h0m4 0h0m2 0h0m4 0h0m2 0h0m13 0h0m7 0h0m8 0h0m1 0h0m3 0h0m2 0h0m3 0h0m5 0h0m1 0h0m4 0h0m1 0h0m1 0h0m3 0h0m3 0h0m12 0h0m1 0h0m2 0h0m4 0h0m6 0h0m1 0h0m2 0h0m3 0h0m4 0h0m1 0h0m4 0h0m7 0h0m10 0h0m1 0h0m3 0h0m7 0h0m2 0h0m13 0h0m6 0h0m15 0h0m6 0h0m2 0h0m10 0h0m5 0h0m10 0h0m7 0h0m35 0h0m21 0h0m29 0h0m58 0h0m3 0h0m14 0h0m3 0h0m64 0h0m4 0h0m15 0h0m27 0h0m17 0h0m30 0h0m4 0h0m14 0h0m18 0h0m-978 1h0m5 0h0m5 0h0m1 0h0m4 0h0m8 0h0m7 0h0m68 0h0m72 0h0m18 0h0m32 0h0m42 0h0m6 0h0m2 0h0m11 0h0m58 0h0m7 0h0m19 0h0m29 0h0m27 0h0m6 0h0m12 0h0m18 0h0m3 0h0m1 0h0m3 0h0m11 0h0m6 0h0m1 0h0m3 0h0m2 0h0m4 0h0m1 0h0m2 0h0m6 0h0m2 0h0m8 0h0m11 0h0m3 0h0m6 0h0m11 0h0m1 0h0m5 0h0m1 0h0m5 0h0m5 0h0m7 0h0m9 0h0m4 0h0m7 0h0m1 0h0m30 0h0m3 0h0m3 0h0m6 0h0m5 0h0m14 0h0m12 0h0m2 0h0m14 0h0m36 0h0m8 0h0m28 0h0m3 0h0m55 0h0m10 0h0m3 0h0m4 0h0m9 0h0m6 0h0m5 0h0m58 0h0m13 0h0m7 0h0m7 0h0m23 0h0m13 0h0m10 0h0m-927 1h0m13 0h0m6 0h0m27 0h0m19 0h0m16 0h0m15 0h0m8 0h0m3 0h0m2 0h0m4 0h0m17 0h0m54 0h0m57 0h0m14 0h0m24 0h0m10 0h0m22 0h0m32 0h0m17 0h0m2 0h0m18 0h0m13 0h0m2 0h0m2 0h0m1 0h0m3 0h0m6 0h0m9 0h0m10 0h0m3 0h0m11 0h0m3 0h0m2 0h0m7 0h0m1 0h0m3 0h0m5 0h0m2 0h0m10 0h0m9 0h0m1 0h0m3 0h0m5 0h0m8 0h0m9 0h0m3 0h0m1 0h0m4 0h0m9 0h0m2 0h0m5 0h0m2 0h0m11 0h0m32 0h0m51 0h0m11 0h0m44 0h0m12 0h0m10 0h0m47 0h0m9 0h0m75 0h0m40 0h0m1 0h0m6 0h0m16 0h0m10 0h0m-926 1h0m29 0h0m10 0h0m15 0h0m1 0h0m34 0h0m60 0h0m45 0h0m24 0h0m7 0h0m9 0h0m15 0h0m17 0h0m9 0h0m39 0h0m11 0h0m8 0h0m30 0h0m39 0h0m14 0h0m2 0h0m4 0h0m3 0h0m1 0h0m6 0h0m5 0h0m6 0h0m1 0h0m2 0h0m12 0h0m4 0h0m2 0h0m1 0h0m2 0h0m1 0h0m2 0h0m3 0h0m1 0h0m2 0h0m1 0h0m8 0h0m5 0h0m3 0h0m1 0h0m1 0h0m2 0h0m46 0h0m4 0h0m17 0h0m1 0h0m5 0h0m2 0h0m8 0h0m1 0h0m19 0h0m39 0h0m11 0h0m26 0h0m22 0h0m26 0h0m19 0h0m17 0h0m3 0h0m9 0h0m34 0h0m23 0h0m13 0h0m6 0h0m14 0h0m24 0h0m4 0h0m15 0h0m1 0h0m1 0h0m24 0h0m7 0h0m1 0h0m15 0h0m-973 1h0m29 0h0m4 0h0m55 0h0m3 0h0m8 0h0m2 0h0m1 0h0m12 0h0m39 0h0m8 0h0m47 0h0m2 0h0m16 0h0m20 0h0m26 0h0m3 0h0m68 0h0m45 0h0m9 0h0m3 0h0m14 0h0m22 0h0m8 0h0m1 0h0m2 0h0m1 0h0m1 0h0m14 0h0m4 0h0m2 0h0m1 0h0m11 0h0m2 0h0m1 0h0m4 0h0m2 0h0m1 0h0m8 0h0m2 0h0m1 0h0m2 0h0m1 0h0m1 0h0m3 0h0m21 0h0m14 0h0m1 0h0m34 0h0m32 0h0m10 0h0m15 0h0m5 0h0m8 0h0m7 0h0m3 0h0m16 0h0m17 0h0m11 0h0m11 0h0m8 0h0m21 0h0m6 0h0m1 0h0m20 0h0m19 0h0m34 0h0m2 0h0m36 0h0m1 0h0m60 0h0m51 0h0m-983 1h0m1 0h0m50 0h0m5 0h0m12 0h0m68 0h0m6 0h0m22 0h0m37 0h0m19 0h0m15 0h0m22 0h0m42 0h0m45 0h0m5 0h0m10 0h0m16 0h0m10 0h0m6 0h0m6 0h0m7 0h0m2 0h0m21 0h0m6 0h0m4 0h0m8 0h0m4 0h0m3 0h0m1 0h0m3 0h0m4 0h0m1 0h0m5 0h0m1 0h0m3 0h0m4 0h0m1 0h0m7 0h0m1 0h0m11 0h0m6 0h0m3 0h0m8 0h0m4 0h0m2 0h0m1 0h0m6 0h0m1 0h0m17 0h0m19 0h0m13 0h0m5 0h0m4 0h0m10 0h0m20 0h0m3 0h0m125 0h0m55 0h0m5 0h0m10 0h0m20 0h0m15 0h0m10 0h0m32 0h0m2 0h0m16 0h0m4 0h0m22 0h0m28 0h0m23 0h0m-980 1h0m2 0h0m100 0h0m14 0h0m65 0h0m11 0h0m16 0h0m6 0h0m24 0h0m4 0h0m24 0h0m14 0h0m2 0h0m1 0h0m27 0h0m7 0h0m15 0h0m7 0h0m23 0h0m14 0h0m4 0h0m10 0h0m1 0h0m15 0h0m1 0h0m3 0h0m1 0h0m9 0h0m1 0h0m28 0h0m9 0h0m4 0h0m3 0h0m1 0h0m1 0h0m8 0h0m3 0h0m6 0h0m2 0h0m5 0h0m3 0h0m13 0h0m7 0h0m2 0h0m11 0h0m1 0h0m6 0h0m2 0h0m4 0h0m3 0h0m2 0h0m2 0h0m1 0h0m6 0h0m13 0h0m1 0h0m5 0h0m3 0h0m18 0h0m2 0h0m22 0h0m2 0h0m26 0h0m18 0h0m28 0h0m26 0h0m15 0h0m37 0h0m46 0h0m23 0h0m10 0h0m21 0h0m1 0h0m21 0h0m32 0h0m5 0h0m5 0h0m8 0h0m2 0h0m4 0h0m16 0h0m9 0h0m4 0h0m-940 1h0m13 0h0m25 0h0m16 0h0m14 0h0m7 0h0m26 0h0m30 0h0m35 0h0m72 0h0m27 0h0m30 0h0m8 0h0m51 0h0m1 0h0m2 0h0m6 0h0m35 0h0m2 0h0m7 0h0m9 0h0m3 0h0m1 0h0m9 0h0m1 0h0m1 0h0m6 0h0m1 0h0m2 0h0m2 0h0m4 0h0m1 0h0m1 0h0m7 0h0m7 0h0m1 0h0m1 0h0m12 0h0m3 0h0m7 0h0m2 0h0m7 0h0m6 0h0m2 0h0m10 0h0m20 0h0m8 0h0m2 0h0m1 0h0m30 0h0m43 0h0m10 0h0m5 0h0m18 0h0m28 0h0m13 0h0m24 0h0m33 0h0m10 0h0m17 0h0m7 0h0m12 0h0m23 0h0m14 0h0m10 0h0m7 0h0m8 0h0m37 0h0m18 0h0m3 0h0m1 0h0m28 0h0m-983 1h0m5 0h0m2 0h0m15 0h0m6 0h0m3 0h0m3 0h0m17 0h0m8 0h0m32 0h0m45 0h0m26 0h0m10 0h0m23 0h0m18 0h0m18 0h0m2 0h0m10 0h0m16 0h0m8 0h0m2 0h0m31 0h0m30 0h0m42 0h0m31 0h0m6 0h0m3 0h0m14 0h0m15 0h0m25 0h0m1 0h0m3 0h0m2 0h0m16 0h0m4 0h0m1 0h0m3 0h0m4 0h0m2 0h0m4 0h0m8 0h0m1 0h0m1 0h0m2 0h0m8 0h0m7 0h0m11 0h0m5 0h0m1 0h0m86 0h0m27 0h0m53 0h0m1 0h0m1 0h0m2 0h0m25 0h0m40 0h0m24 0h0m30 0h0m9 0h0m2 0h0m30 0h0m1 0h0m12 0h0m90 0h0m-880 1h0m7 0h0m57 0h0m8 0h0m32 0h0m20 0h0m9 0h0m52 0h0m9 0h0m13 0h0m19 0h0m16 0h0m17 0h0m30 0h0m22 0h0m16 0h0m3 0h0m2 0h0m3 0h0m18 0h0m4 0h0m1 0h0m6 0h0m2 0h0m15 0h0m1 0h0m1 0h0m2 0h0m3 0h0m3 0h0m16 0h0m1 0h0m4 0h0m3 0h0m5 0h0m4 0h0m2 0h0m1 0h0m4 0h0m12 0h0m6 0h0m4 0h0m8 0h0m24 0h0m4 0h0m2 0h0m7 0h0m16 0h0m2 0h0m7 0h0m8 0h0m37 0h0m9 0h0m14 0h0m3 0h0m5 0h0m18 0h0m5 0h0m14 0h0m16 0h0m10 0h0m5 0h0m2 0h0m4 0h0m1 0h0m8 0h0m56 0h0m5 0h0m4 0h0m2 0h0m26 0h0m26 0h0m12 0h0m31 0h0m8 0h0m6 0h0m11 0h0m2 0h0m-945 1h0m2 0h0m34 0h0m27 0h0m6 0h0m27 0h0m2 0h0m5 0h0m11 0h0m16 0h0m34 0h0m5 0h0m70 0h0m14 0h0m3 0h0m3 0h0m21 0h0m35 0h0m2 0h0m51 0h0m8 0h0m1 0h0m13 0h0m26 0h0m7 0h0m3 0h0m2 0h0m6 0h0m7 0h0m2 0h0m4 0h0m1 0h0m7 0h0m8 0h0m7 0h0m3 0h0m3 0h0m5 0h0m6 0h0m1 0h0m1 0h0m1 0h0m6 0h0m5 0h0m4 0h0m5 0h0m2 0h0m1 0h0m1 0h0m2 0h0m2 0h0m7 0h0m14 0h0m32 0h0m25 0h0m28 0h0m19 0h0m41 0h0m4 0h0m17 0h0m20 0h0m9 0h0m8 0h0m17 0h0m20 0h0m26 0h0m1 0h0m7 0h0m16 0h0m17 0h0m25 0h0m19 0h0m5 0h0m59 0h0m-931 1h0m11 0h0m10 0h0m36 0h0m36 0h0m2 0h0m9 0h0m1 0h0m14 0h0m15 0h0m9 0h0m7 0h0m20 0h0m9 0h0m5 0h0m20 0h0m6 0h0m1 0h0m2 0h0m4 0h0m13 0h0m3 0h0m15 0h0m5 0h0m8 0h0m5 0h0m4 0h0m1 0h0m1 0h0m15 0h0m35 0h0m18 0h0m10 0h0m21 0h0m6 0h0m1 0h0m5 0h0m2 0h0m2 0h0m16 0h0m3 0h0m2 0h0m4 0h0m3 0h0m1 0h0m4 0h0m3 0h0m1 0h0m10 0h0m5 0h0m2 0h0m1 0h0m3 0h0m1 0h0m4 0h0m5 0h0m1 0h0m2 0h0m1 0h0m2 0h0m1 0h0m14 0h0m12 0h0m1 0h0m29 0h0m50 0h0m31 0h0m7 0h0m56 0h0m24 0h0m5 0h0m13 0h0m16 0h0m30 0h0m30 0h0m10 0h0m9 0h0m5 0h0m4 0h0m29 0h0m40 0h0m-923 1h0m6 0h0m32 0h0m7 0h0m5 0h0m36 0h0m1 0h0m4 0h0m1 0h0m9 0h0m1 0h0m42 0h0m6 0h0m34 0h0m7 0h0m6 0h0m5 0h0m26 0h0m1 0h0m74 0h0m6 0h0m3 0h0m2 0h0m19 0h0m19 0h0m53 0h0m9 0h0m1 0h0m3 0h0m6 0h0m4 0h0m2 0h0m9 0h0m9 0h0m2 0h0m3 0h0m2 0h0m2 0h0m1 0h0m3 0h0m2 0h0m1 0h0m5 0h0m1 0h0m9 0h0m1 0h0m3 0h0m4 0h0m3 0h0m1 0h0m5 0h0m2 0h0m4 0h0m4 0h0m3 0h0m1 0h0m1 0h0m5 0h0m2 0h0m8 0h0m1 0h0m6 0h0m3 0h0m5 0h0m7 0h0m5 0h0m6 0h0m2 0h0m18 0h0m4 0h0m3 0h0m7 0h0m16 0h0m11 0h0m4 0h0m23 0h0m16 0h0m90 0h0m3 0h0m14 0h0m11 0h0m12 0h0m53 0h0m10 0h0m62 0h0m41 0h0m13 0h0m4 0h0m-982 1h0m10 0h0m27 0h0m8 0h0m23 0h0m29 0h0m14 0h0m38 0h0m7 0h0m19 0h0m1 0h0m8 0h0m1 0h0m24 0h0m15 0h0m5 0h0m14 0h0m8 0h0m18 0h0m7 0h0m32 0h0m19 0h0m35 0h0m17 0h0m11 0h0m12 0h0m11 0h0m1 0h0m8 0h0m5 0h0m2 0h0m7 0h0m2 0h0m6 0h0m4 0h0m4 0h0m2 0h0m9 0h0m18 0h0m2 0h0m3 0h0m2 0h0m1 0h0m3 0h0m1 0h0m2 0h0m2 0h0m1 0h0m2 0h0m2 0h0m1 0h0m1 0h0m15 0h0m3 0h0m3 0h0m3 0h0m9 0h0m7 0h0m38 0h0m37 0h0m25 0h0m2 0h0m11 0h0m2 0h0m20 0h0m13 0h0m5 0h0m2 0h0m8 0h0m5 0h0m19 0h0m13 0h0m2 0h0m9 0h0m9 0h0m13 0h0m10 0h0m10 0h0m11 0h0m17 0h0m61 0h0m18 0h0m36 0h0m16 0h0m-956 1h0m4 0h0m5 0h0m12 0h0m31 0h0m21 0h0m9 0h0m41 0h0m19 0h0m27 0h0m14 0h0m22 0h0m2 0h0m51 0h0m56 0h0m28 0h0m28 0h0m11 0h0m18 0h0m5 0h0m3 0h0m8 0h0m1 0h0m5 0h0m1 0h0m14 0h0m3 0h0m5 0h0m19 0h0m4 0h0m15 0h0m1 0h0m3 0h0m11 0h0m4 0h0m1 0h0m1 0h0m1 0h0m4 0h0m12 0h0m8 0h0m10 0h0m6 0h0m2 0h0m8 0h0m4 0h0m2 0h0m3 0h0m2 0h0m6 0h0m8 0h0m11 0h0m6 0h0m5 0h0m13 0h0m76 0h0m3 0h0m20 0h0m2 0h0m4 0h0m20 0h0m7 0h0m24 0h0m3 0h0m10 0h0m7 0h0m18 0h0m3 0h0m4 0h0m3 0h0m2 0h0m18 0h0m33 0h0m42 0h0m35 0h0m7 0h0m19 0h0m9 0h0m-980 1h0m18 0h0m31 0h0m39 0h0m12 0h0m12 0h0m5 0h0m3 0h0m44 0h0m8 0h0m49 0h0m6 0h0m27 0h0m66 0h0m4 0h0m16 0h0m9 0h0m2 0h0m6 0h0m12 0h0m19 0h0m33 0h0m6 0h0m3 0h0m1 0h0m7 0h0m6 0h0m2 0h0m18 0h0m6 0h0m6 0h0m1 0h0m1 0h0m1 0h0m4 0h0m7 0h0m14 0h0m1 0h0m19 0h0m6 0h0m6 0h0m19 0h0m1 0h0m3 0h0m20 0h0m15 0h0m3 0h0m1 0h0m31 0h0m11 0h0m33 0h0m36 0h0m20 0h0m5 0h0m2 0h0m41 0h0m23 0h0m93 0h0m44 0h0m3 0h0m11 0h0m4 0h0m15 0h0m9 0h0m-980 1h0m28 0h0m26 0h0m26 0h0m1 0h0m2 0h0m3 0h0m31 0h0m20 0h0m14 0h0m58 0h0m47 0h0m26 0h0m4 0h0m24 0h0m44 0h0m26 0h0m15 0h0m25 0h0m4 0h0m10 0h0m15 0h0m2 0h0m2 0h0m1 0h0m1 0h0m7 0h0m4 0h0m2 0h0m3 0h0m1 0h0m1 0h0m4 0h0m13 0h0m10 0h0m3 0h0m2 0h0m8 0h0m1 0h0m2 0h0m3 0h0m1 0h0m1 0h0m17 0h0m8 0h0m7 0h0m3 0h0m31 0h0m8 0h0m3 0h0m6 0h0m5 0h0m9 0h0m3 0h0m21 0h0m2 0h0m24 0h0m38 0h0m1 0h0m10 0h0m14 0h0m19 0h0m21 0h0m34 0h0m23 0h0m21 0h0m12 0h0m19 0h0m6 0h0m70 0h0m12 0h0m5 0h0m-955 1h0m6 0h0m20 0h0m41 0h0m7 0h0m1 0h0m38 0h0m1 0h0m6 0h0m9 0h0m14 0h0m2 0h0m13 0h0m17 0h0m37 0h0m7 0h0m89 0h0m2 0h0m11 0h0m3 0h0m28 0h0m31 0h0m12 0h0m13 0h0m5 0h0m6 0h0m13 0h0m4 0h0m3 0h0m7 0h0m1 0h0m1 0h0m6 0h0m2 0h0m6 0h0m2 0h0m1 0h0m4 0h0m1 0h0m2 0h0m3 0h0m10 0h0m1 0h0m3 0h0m2 0h0m3 0h0m2 0h0m1 0h0m3 0h0m2 0h0m9 0h0m1 0h0m7 0h0m9 0h0m1 0h0m10 0h0m5 0h0m2 0h0m12 0h0m10 0h0m6 0h0m9 0h0m15 0h0m23 0h0m30 0h0m9 0h0m28 0h0m3 0h0m2 0h0m1 0h0m27 0h0m16 0h0m1 0h0m7 0h0m1 0h0m32 0h0m61 0h0m12 0h0m8 0h0m28 0h0m24 0h0m1 0h0m2 0h0m1 0h0m30 0h0m15 0h0m3 0h0m-983 1h0m13 0h0m8 0h0m28 0h0m28 0h0m66 0h0m24 0h0m23 0h0m6 0h0m2 0h0m41 0h0m6 0h0m3 0h0m12 0h0m28 0h0m10 0h0m11 0h0m4 0h0m9 0h0m1 0h0m9 0h0m32 0h0m14 0h0m2 0h0m3 0h0m1 0h0m7 0h0m2 0h0m6 0h0m8 0h0m3 0h0m2 0h0m24 0h0m1 0h0m9 0h0m1 0h0m1 0h0m4 0h0m9 0h0m5 0h0m1 0h0m7 0h0m2 0h0m4 0h0m1 0h0m4 0h0m1 0h0m1 0h0m1 0h0m3 0h0m2 0h0m8 0h0m2 0h0m8 0h0m3 0h0m4 0h0m2 0h0m1 0h0m6 0h0m1 0h0m3 0h0m1 0h0m1 0h0m1 0h0m3 0h0m1 0h0m8 0h0m3 0h0m5 0h0m1 0h0m38 0h0m18 0h0m14 0h0m15 0h0m3 0h0m20 0h0m33 0h0m2 0h0m55 0h0m28 0h0m19 0h0m12 0h0m5 0h0m18 0h0m11 0h0m3 0h0m2 0h0m22 0h0m11 0h0m32 0h0m1 0h0m49 0h0m17 0h0m-967 1h0m20 0h0m6 0h0m30 0h0m42 0h0m16 0h0m22 0h0m12 0h0m28 0h0m27 0h0m14 0h0m34 0h0m7 0h0m4 0h0m94 0h0m4 0h0m7 0h0m5 0h0m6 0h0m3 0h0m19 0h0m14 0h0m3 0h0m7 0h0m7 0h0m2 0h0m1 0h0m5 0h0m2 0h0m7 0h0m10 0h0m1 0h0m2 0h0m3 0h0m2 0h0m18 0h0m4 0h0m3 0h0m1 0h0m12 0h0m4 0h0m1 0h0m1 0h0m1 0h0m3 0h0m2 0h0m2 0h0m5 0h0m4 0h0m2 0h0m2 0h0m14 0h0m4 0h0m4 0h0m3 0h0m2 0h0m9 0h0m7 0h0m1 0h0m6 0h0m51 0h0m8 0h0m20 0h0m8 0h0m6 0h0m13 0h0m2 0h0m6 0h0m14 0h0m40 0h0m28 0h0m106 0h0m27 0h0m4 0h0m9 0h0m10 0h0m2 0h0m29 0h0m3 0h0m-983 1h0m17 0h0m45 0h0m23 0h0m4 0h0m42 0h0m12 0h0m24 0h0m8 0h0m22 0h0m3 0h0m10 0h0m36 0h0m19 0h0m21 0h0m2 0h0m20 0h0m28 0h0m33 0h0m4 0h0m3 0h0m12 0h0m19 0h0m9 0h0m15 0h0m4 0h0m12 0h0m1 0h0m2 0h0m1 0h0m13 0h0m1 0h0m3 0h0m5 0h0m4 0h0m1 0h0m1 0h0m4 0h0m2 0h0m4 0h0m2 0h0m2 0h0m5 0h0m2 0h0m1 0h0m1 0h0m13 0h0m3 0h0m1 0h0m6 0h0m10 0h0m2 0h0m1 0h0m12 0h0m4 0h0m19 0h0m21 0h0m6 0h0m21 0h0m4 0h0m13 0h0m21 0h0m4 0h0m18 0h0m4 0h0m4 0h0m32 0h0m8 0h0m21 0h0m2 0h0m64 0h0m38 0h0m6 0h0m11 0h0m22 0h0m8 0h0m13 0h0m18 0h0m24 0h0m15 0h0m-931 1h0m32 0h0m24 0h0m4 0h0m19 0h0m17 0h0m7 0h0m8 0h0m30 0h0m30 0h0m10 0h0m112 0h0m13 0h0m1 0h0m16 0h0m9 0h0m19 0h0m8 0h0m9 0h0m8 0h0m7 0h0m6 0h0m2 0h0m7 0h0m5 0h0m6 0h0m4 0h0m2 0h0m12 0h0m2 0h0m2 0h0m4 0h0m8 0h0m3 0h0m1 0h0m5 0h0m1 0h0m3 0h0m1 0h0m4 0h0m2 0h0m9 0h0m1 0h0m1 0h0m1 0h0m3 0h0m5 0h0m3 0h0m14 0h0m4 0h0m6 0h0m3 0h0m3 0h0m10 0h0m3 0h0m30 0h0m91 0h0m20 0h0m12 0h0m1 0h0m7 0h0m16 0h0m40 0h0m10 0h0m10 0h0m35 0h0m23 0h0m2 0h0m16 0h0m4 0h0m5 0h0m15 0h0m1 0h0m7 0h0m16 0h0m3 0h0m15 0h0m-941 1h0m2 0h0m9 0h0m1 0h0m35 0h0m1 0h0m66 0h0m9 0h0m18 0h0m1 0h0m29 0h0m5 0h0m19 0h0m1 0h0m9 0h0m13 0h0m7 0h0m67 0h0m5 0h0m16 0h0m13 0h0m9 0h0m3 0h0m46 0h0m11 0h0m11 0h0m2 0h0m6 0h0m5 0h0m1 0h0m26 0h0m4 0h0m5 0h0m18 0h0m3 0h0m4 0h0m1 0h0m4 0h0m7 0h0m7 0h0m4 0h0m4 0h0m3 0h0m2 0h0m4 0h0m9 0h0m4 0h0m1 0h0m2 0h0m2 0h0m11 0h0m2 0h0m1 0h0m8 0h0m16 0h0m3 0h0m14 0h0m36 0h0m93 0h0m33 0h0m18 0h0m5 0h0m3 0h0m33 0h0m43 0h0m34 0h0m4 0h0m40 0h0m21 0h0m24 0h0m-983 1h0m7 0h0m13 0h0m3 0h0m5 0h0m3 0h0m34 0h0m72 0h0m25 0h0m17 0h0m27 0h0m1 0h0m14 0h0m10 0h0m41 0h0m2 0h0m1 0h0m5 0h0m14 0h0m13 0h0m30 0h0m1 0h0m6 0h0m4 0h0m10 0h0m27 0h0m5 0h0m7 0h0m5 0h0m10 0h0m4 0h0m5 0h0m7 0h0m2 0h0m10 0h0m10 0h0m2 0h0m11 0h0m1 0h0m11 0h0m1 0h0m8 0h0m1 0h0m1 0h0m1 0h0m3 0h0m3 0h0m4 0h0m2 0h0m1 0h0m2 0h0m6 0h0m1 0h0m5 0h0m2 0h0m4 0h0m4 0h0m2 0h0m4 0h0m10 0h0m4 0h0m10 0h0m11 0h0m49 0h0m21 0h0m69 0h0m46 0h0m24 0h0m33 0h0m7 0h0m9 0h0m14 0h0m2 0h0m18 0h0m14 0h0m42 0h0m42 0h0m-950 1h0m13 0h0m40 0h0m7 0h0m9 0h0m27 0h0m45 0h0m13 0h0m30 0h0m22 0h0m14 0h0m33 0h0m2 0h0m5 0h0m55 0h0m53 0h0m28 0h0m6 0h0m2 0h0m5 0h0m3 0h0m26 0h0m9 0h0m12 0h0m2 0h0m12 0h0m1 0h0m5 0h0m1 0h0m4 0h0m7 0h0m1 0h0m3 0h0m2 0h0m2 0h0m18 0h0m7 0h0m5 0h0m8 0h0m12 0h0m35 0h0m27 0h0m1 0h0m52 0h0m30 0h0m9 0h0m41 0h0m1 0h0m8 0h0m10 0h0m18 0h0m17 0h0m25 0h0m3 0h0m10 0h0m50 0h0m8 0h0m8 0h0m23 0h0m13 0h0m8 0h0m4 0h0m23 0h0m-978 1h0m25 0h0m40 0h0m8 0h0m11 0h0m14 0h0m15 0h0m12 0h0m21 0h0m4 0h0m47 0h0m34 0h0m16 0h0m9 0h0m68 0h0m22 0h0m51 0h0m13 0h0m24 0h0m7 0h0m22 0h0m1 0h0m6 0h0m5 0h0m7 0h0m3 0h0m4 0h0m14 0h0m2 0h0m3 0h0m1 0h0m4 0h0m5 0h0m5 0h0m1 0h0m4 0h0m2 0h0m9 0h0m9 0h0m23 0h0m19 0h0m9 0h0m1 0h0m23 0h0m37 0h0m57 0h0m38 0h0m10 0h0m46 0h0m11 0h0m8 0h0m5 0h0m5 0h0m23 0h0m14 0h0m29 0h0m34 0h0m6 0h0m-946 1h0m18 0h0m28 0h0m35 0h0m28 0h0m3 0h0m14 0h0m13 0h0m3 0h0m8 0h0m17 0h0m13 0h0m1 0h0m14 0h0m5 0h0m7 0h0m7 0h0m5 0h0m68 0h0m54 0h0m33 0h0m40 0h0m9 0h0m6 0h0m1 0h0m18 0h0m7 0h0m1 0h0m3 0h0m5 0h0m3 0h0m12 0h0m4 0h0m2 0h0m4 0h0m6 0h0m2 0h0m1 0h0m2 0h0m4 0h0m1 0h0m1 0h0m1 0h0m3 0h0m3 0h0m3 0h0m10 0h0m2 0h0m1 0h0m1 0h0m3 0h0m1 0h0m15 0h0m1 0h0m7 0h0m30 0h0m4 0h0m2 0h0m3 0h0m50 0h0m49 0h0m23 0h0m33 0h0m21 0h0m24 0h0m25 0h0m14 0h0m42 0h0m3 0h0m27 0h0m29 0h0m12 0h0m13 0h0m22 0h0m-983 1h0m33 0h0m8 0h0m3 0h0m8 0h0m9 0h0m5 0h0m52 0h0m16 0h0m26 0h0m16 0h0m19 0h0m5 0h0m18 0h0m4 0h0m25 0h0m1 0h0m6 0h0m27 0h0m4 0h0m14 0h0m26 0h0m5 0h0m5 0h0m7 0h0m48 0h0m15 0h0m3 0h0m1 0h0m13 0h0m2 0h0m5 0h0m1 0h0m20 0h0m9 0h0m1 0h0m7 0h0m4 0h0m1 0h0m2 0h0m5 0h0m4 0h0m3 0h0m1 0h0m8 0h0m1 0h0m2 0h0m2 0h0m2 0h0m1 0h0m27 0h0m11 0h0m3 0h0m6 0h0m7 0h0m5 0h0m12 0h0m3 0h0m89 0h0m5 0h0m5 0h0m4 0h0m15 0h0m92 0h0m9 0h0m16 0h0m6 0h0m36 0h0m24 0h0m10 0h0m5 0h0m28 0h0m22 0h0m1 0h0m33 0h0m-974 1h0m9 0h0m2 0h0m2 0h0m23 0h0m7 0h0m3 0h0m10 0h0m19 0h0m8 0h0m25 0h0m1 0h0m8 0h0m1 0h0m22 0h0m15 0h0m27 0h0m12 0h0m40 0h0m42 0h0m8 0h0m53 0h0m27 0h0m2 0h0m10 0h0m14 0h0m5 0h0m39 0h0m5 0h0m8 0h0m3 0h0m5 0h0m17 0h0m1 0h0m2 0h0m3 0h0m4 0h0m4 0h0m4 0h0m3 0h0m3 0h0m4 0h0m4 0h0m7 0h0m15 0h0m10 0h0m4 0h0m1 0h0m6 0h0m5 0h0m4 0h0m26 0h0m12 0h0m29 0h0m40 0h0m37 0h0m21 0h0m27 0h0m10 0h0m26 0h0m3 0h0m17 0h0m10 0h0m3 0h0m40 0h0m8 0h0m19 0h0m11 0h0m6 0h0m25 0h0m34 0h0m20 0h0m-966 1h0m56 0h0m4 0h0m11 0h0m17 0h0m11 0h0m21 0h0m5 0h0m2 0h0m44 0h0m7 0h0m6 0h0m25 0h0m7 0h0m28 0h0m13 0h0m21 0h0m26 0h0m1 0h0m4 0h0m9 0h0m33 0h0m15 0h0m6 0h0m13 0h0m13 0h0m3 0h0m6 0h0m1 0h0m6 0h0m2 0h0m20 0h0m16 0h0m2 0h0m17 0h0m2 0h0m6 0h0m4 0h0m4 0h0m22 0h0m1 0h0m2 0h0m26 0h0m12 0h0m3 0h0m11 0h0m39 0h0m5 0h0m4 0h0m14 0h0m23 0h0m30 0h0m15 0h0m1 0h0m80 0h0m2 0h0m18 0h0m60 0h0m7 0h0m39 0h0m65 0h0m-980 1h0m16 0h0m46 0h0m11 0h0m10 0h0m37 0h0m45 0h0m32 0h0m1 0h0m16 0h0m4 0h0m7 0h0m6 0h0m2 0h0m12 0h0m12 0h0m7 0h0m7 0h0m10 0h0m39 0h0m21 0h0m29 0h0m21 0h0m23 0h0m18 0h0m3 0h0m4 0h0m3 0h0m3 0h0m2 0h0m3 0h0m4 0h0m10 0h0m4 0h0m1 0h0m7 0h0m8 0h0m7 0h0m2 0h0m9 0h0m6 0h0m2 0h0m2 0h0m1 0h0m3 0h0m1 0h0m17 0h0m2 0h0m5 0h0m18 0h0m18 0h0m15 0h0m26 0h0m5 0h0m20 0h0m41 0h0m13 0h0m1 0h0m1 0h0m2 0h0m2 0h0m62 0h0m10 0h0m40 0h0m11 0h0m11 0h0m21 0h0m9 0h0m45 0h0m22 0h0m31 0h0m-968 1h0m93 0h0m50 0h0m24 0h0m3 0h0m22 0h0m27 0h0m41 0h0m6 0h0m29 0h0m9 0h0m10 0h0m30 0h0m1 0h0m4 0h0m20 0h0m1 0h0m16 0h0m1 0h0m6 0h0m53 0h0m5 0h0m12 0h0m8 0h0m4 0h0m4 0h0m1 0h0m7 0h0m1 0h0m3 0h0m4 0h0m4 0h0m12 0h0m2 0h0m4 0h0m1 0h0m1 0h0m7 0h0m14 0h0m5 0h0m2 0h0m13 0h0m3 0h0m16 0h0m4 0h0m1 0h0m22 0h0m10 0h0m23 0h0m3 0h0m29 0h0m10 0h0m1 0h0m1 0h0m25 0h0m20 0h0m6 0h0m26 0h0m53 0h0m10 0h0m22 0h0m41 0h0m15 0h0m11 0h0m13 0h0m10 0h0m13 0h0m2 0h0m-919 1h0m18 0h0m25 0h0m5 0h0m3 0h0m2 0h0m3 0h0m25 0h0m22 0h0m17 0h0m47 0h0m12 0h0m1 0h0m1 0h0m25 0h0m5 0h0m10 0h0m13 0h0m79 0h0m13 0h0m7 0h0m15 0h0m3 0h0m9 0h0m1 0h0m8 0h0m5 0h0m45 0h0m3 0h0m14 0h0m1 0h0m12 0h0m1 0h0m3 0h0m6 0h0m12 0h0m1 0h0m22 0h0m2 0h0m5 0h0m4 0h0m4 0h0m39 0h0m22 0h0m1 0h0m3 0h0m9 0h0m7 0h0m28 0h0m14 0h0m21 0h0m2 0h0m9 0h0m33 0h0m33 0h0m2 0h0m5 0h0m1 0h0m26 0h0m33 0h0m13 0h0m27 0h0m37 0h0m2 0h0m9 0h0m5 0h0m-894 1h0m29 0h0m1 0h0m1 0h0m22 0h0m56 0h0m11 0h0m3 0h0m6 0h0m40 0h0m25 0h0m21 0h0m5 0h0m6 0h0m37 0h0m13 0h0m14 0h0m4 0h0m18 0h0m19 0h0m2 0h0m11 0h0m2 0h0m33 0h0m9 0h0m1 0h0m2 0h0m4 0h0m15 0h0m8 0h0m7 0h0m1 0h0m2 0h0m2 0h0m1 0h0m5 0h0m6 0h0m5 0h0m3 0h0m9 0h0m6 0h0m1 0h0m15 0h0m8 0h0m4 0h0m5 0h0m7 0h0m4 0h0m5 0h0m13 0h0m3 0h0m7 0h0m8 0h0m63 0h0m2 0h0m7 0h0m15 0h0m38 0h0m10 0h0m12 0h0m3 0h0m22 0h0m9 0h0m33 0h0m9 0h0m49 0h0m33 0h0m15 0h0m27 0h0m12 0h0m12 0h0m28 0h0m12 0h0m-947 1h0m3 0h0m4 0h0m41 0h0m14 0h0m5 0h0m27 0h0m34 0h0m9 0h0m14 0h0m3 0h0m17 0h0m7 0h0m5 0h0m10 0h0m23 0h0m36 0h0m11 0h0m8 0h0m77 0h0m10 0h0m35 0h0m4 0h0m7 0h0m8 0h0m4 0h0m1 0h0m1 0h0m4 0h0m8 0h0m2 0h0m1 0h0m3 0h0m1 0h0m10 0h0m16 0h0m6 0h0m1 0h0m4 0h0m2 0h0m2 0h0m4 0h0m5 0h0m13 0h0m5 0h0m7 0h0m6 0h0m7 0h0m24 0h0m49 0h0m8 0h0m36 0h0m27 0h0m3 0h0m1 0h0m10 0h0m25 0h0m12 0h0m3 0h0m50 0h0m36 0h0m6 0h0m7 0h0m12 0h0m15 0h0m3 0h0m39 0h0m29 0h0m-950 1h0m4 0h0m52 0h0m30 0h0m14 0h0m9 0h0m30 0h0m17 0h0m44 0h0m11 0h0m26 0h0m48 0h0m54 0h0m58 0h0m27 0h0m1 0h0m20 0h0m5 0h0m4 0h0m1 0h0m3 0h0m2 0h0m23 0h0m27 0h0m5 0h0m1 0h0m12 0h0m5 0h0m3 0h0m2 0h0m6 0h0m11 0h0m72 0h0m1 0h0m10 0h0m22 0h0m28 0h0m6 0h0m16 0h0m17 0h0m1 0h0m28 0h0m11 0h0m28 0h0m8 0h0m4 0h0m2 0h0m1 0h0m7 0h0m61 0h0m7 0h0m13 0h0m20 0h0m3 0h0m14 0h0m24 0h0m16 0h0m2 0h0m-969 1h0m14 0h0m3 0h0m72 0h0m10 0h0m10 0h0m37 0h0m27 0h0m5 0h0m1 0h0m22 0h0m18 0h0m5 0h0m5 0h0m17 0h0m22 0h0m2 0h0m5 0h0m13 0h0m17 0h0m11 0h0m1 0h0m7 0h0m4 0h0m10 0h0m4 0h0m35 0h0m16 0h0m8 0h0m12 0h0m22 0h0m2 0h0m2 0h0m19 0h0m6 0h0m4 0h0m4 0h0m2 0h0m1 0h0m5 0h0m1 0h0m12 0h0m1 0h0m3 0h0m14 0h0m5 0h0m5 0h0m15 0h0m15 0h0m12 0h0m6 0h0m10 0h0m12 0h0m4 0h0m1 0h0m15 0h0m28 0h0m8 0h0m38 0h0m5 0h0m21 0h0m18 0h0m72 0h0m7 0h0m8 0h0m19 0h0m18 0h0m31 0h0m12 0h0m7 0h0m9 0h0m1 0h0m21 0h0m11 0h0m9 0h0m1 0h0m-944 1h0m28 0h0m34 0h0m7 0h0m3 0h0m2 0h0m13 0h0m12 0h0m38 0h0m12 0h0m50 0h0m3 0h0m64 0h0m14 0h0m1 0h0m3 0h0m12 0h0m5 0h0m58 0h0m1 0h0m7 0h0m1 0h0m18 0h0m5 0h0m8 0h0m11 0h0m1 0h0m2 0h0m4 0h0m4 0h0m1 0h0m6 0h0m14 0h0m6 0h0m1 0h0m1 0h0m9 0h0m7 0h0m4 0h0m17 0h0m1 0h0m2 0h0m4 0h0m3 0h0m1 0h0m3 0h0m2 0h0m1 0h0m5 0h0m12 0h0m6 0h0m8 0h0m3 0h0m28 0h0m44 0h0m8 0h0m21 0h0m5 0h0m3 0h0m3 0h0m9 0h0m21 0h0m9 0h0m23 0h0m8 0h0m17 0h0m4 0h0m9 0h0m20 0h0m91 0h0m34 0h0m28 0h0m2 0h0m33 0h0m-975 1h0m5 0h0m39 0h0m33 0h0m1 0h0m19 0h0m45 0h0m2 0h0m37 0h0m47 0h0m8 0h0m13 0h0m44 0h0m18 0h0m15 0h0m33 0h0m18 0h0m37 0h0m3 0h0m19 0h0m8 0h0m3 0h0m4 0h0m11 0h0m7 0h0m2 0h0m8 0h0m1 0h0m2 0h0m10 0h0m2 0h0m15 0h0m1 0h0m3 0h0m3 0h0m1 0h0m9 0h0m2 0h0m2 0h0m11 0h0m4 0h0m6 0h0m34 0h0m3 0h0m6 0h0m11 0h0m20 0h0m26 0h0m2 0h0m3 0h0m6 0h0m16 0h0m10 0h0m12 0h0m4 0h0m25 0h0m85 0h0m8 0h0m6 0h0m8 0h0m21 0h0m41 0h0m27 0h0m19 0h0m22 0h0m5 0h0m-970 1h0m30 0h0m6 0h0m61 0h0m42 0h0m34 0h0m42 0h0m26 0h0m18 0h0m21 0h0m17 0h0m1 0h0m15 0h0m3 0h0m11 0h0m11 0h0m28 0h0m5 0h0m48 0h0m4 0h0m1 0h0m13 0h0m8 0h0m2 0h0m5 0h0m4 0h0m8 0h0m3 0h0m1 0h0m2 0h0m4 0h0m2 0h0m3 0h0m2 0h0m2 0h0m2 0h0m3 0h0m2 0h0m10 0h0m11 0h0m1 0h0m20 0h0m4 0h0m4 0h0m3 0h0m2 0h0m5 0h0m9 0h0m18 0h0m38 0h0m6 0h0m15 0h0m30 0h0m48 0h0m14 0h0m23 0h0m2 0h0m18 0h0m10 0h0m5 0h0m10 0h0m29 0h0m7 0h0m2 0h0m49 0h0m10 0h0m8 0h0m13 0h0m1 0h0m21 0h0m24 0h0m-957 1h0m19 0h0m17 0h0m5 0h0m8 0h0m10 0h0m6 0h0m14 0h0m11 0h0m3 0h0m4 0h0m5 0h0m75 0h0m10 0h0m15 0h0m24 0h0m5 0h0m12 0h0m13 0h0m24 0h0m6 0h0m2 0h0m64 0h0m30 0h0m22 0h0m5 0h0m20 0h0m5 0h0m1 0h0m7 0h0m3 0h0m5 0h0m21 0h0m2 0h0m10 0h0m7 0h0m2 0h0m1 0h0m10 0h0m8 0h0m5 0h0m1 0h0m4 0h0m23 0h0m1 0h0m5 0h0m17 0h0m2 0h0m2 0h0m46 0h0m1 0h0m50 0h0m39 0h0m15 0h0m25 0h0m21 0h0m2 0h0m3 0h0m28 0h0m8 0h0m3 0h0m15 0h0m23 0h0m44 0h0m8 0h0m15 0h0m4 0h0m17 0h0m5 0h0m5 0h0m6 0h0m-966 1h0m20 0h0m18 0h0m17 0h0m9 0h0m2 0h0m42 0h0m17 0h0m39 0h0m10 0h0m66 0h0m3 0h0m6 0h0m14 0h0m18 0h0m6 0h0m5 0h0m10 0h0m16 0h0m30 0h0m12 0h0m3 0h0m25 0h0m18 0h0m5 0h0m3 0h0m8 0h0m4 0h0m7 0h0m8 0h0m6 0h0m4 0h0m1 0h0m10 0h0m14 0h0m2 0h0m1 0h0m3 0h0m4 0h0m2 0h0m8 0h0m6 0h0m1 0h0m16 0h0m1 0h0m2 0h0m1 0h0m6 0h0m7 0h0m1 0h0m5 0h0m10 0h0m18 0h0m1 0h0m16 0h0m14 0h0m44 0h0m7 0h0m18 0h0m15 0h0m15 0h0m12 0h0m20 0h0m31 0h0m33 0h0m7 0h0m57 0h0m44 0h0m16 0h0m6 0h0m7 0h0m47 0h0m3 0h0m-969 1h0m1 0h0m3 0h0m3 0h0m2 0h0m13 0h0m26 0h0m5 0h0m25 0h0m7 0h0m3 0h0m53 0h0m98 0h0m2 0h0m3 0h0m17 0h0m20 0h0m18 0h0m48 0h0m9 0h0m4 0h0m1 0h0m5 0h0m7 0h0m5 0h0m2 0h0m8 0h0m3 0h0m5 0h0m3 0h0m21 0h0m8 0h0m7 0h0m4 0h0m31 0h0m2 0h0m6 0h0m1 0h0m10 0h0m1 0h0m4 0h0m2 0h0m4 0h0m2 0h0m7 0h0m4 0h0m8 0h0m32 0h0m8 0h0m18 0h0m32 0h0m38 0h0m9 0h0m8 0h0m6 0h0m23 0h0m8 0h0m10 0h0m9 0h0m10 0h0m46 0h0m13 0h0m44 0h0m2 0h0m7 0h0m38 0h0m5 0h0m4 0h0m26 0h0m3 0h0m27 0h0m1 0h0m-948 1h0m6 0h0m113 0h0m28 0h0m8 0h0m44 0h0m18 0h0m9 0h0m4 0h0m10 0h0m5 0h0m22 0h0m1 0h0m72 0h0m2 0h0m4 0h0m7 0h0m3 0h0m5 0h0m19 0h0m8 0h0m5 0h0m20 0h0m5 0h0m3 0h0m2 0h0m7 0h0m5 0h0m2 0h0m6 0h0m1 0h0m1 0h0m15 0h0m6 0h0m1 0h0m2 0h0m1 0h0m5 0h0m12 0h0m1 0h0m6 0h0m6 0h0m9 0h0m5 0h0m2 0h0m6 0h0m7 0h0m9 0h0m3 0h0m2 0h0m9 0h0m9 0h0m36 0h0m7 0h0m11 0h0m5 0h0m51 0h0m27 0h0m8 0h0m65 0h0m13 0h0m18 0h0m1 0h0m4 0h0m11 0h0m32 0h0m5 0h0m53 0h0m29 0h0m4 0h0m2 0h0m4 0h0m1 0h0m3 0h0m5 0h0m-952 1h0m1 0h0m2 0h0m22 0h0m17 0h0m9 0h0m9 0h0m81 0h0m1 0h0m16 0h0m25 0h0m15 0h0m63 0h0m15 0h0m20 0h0m3 0h0m33 0h0m12 0h0m1 0h0m14 0h0m1 0h0m8 0h0m2 0h0m11 0h0m7 0h0m12 0h0m19 0h0m5 0h0m1 0h0m25 0h0m3 0h0m2 0h0m1 0h0m5 0h0m5 0h0m4 0h0m6 0h0m1 0h0m7 0h0m16 0h0m1 0h0m1 0h0m1 0h0m1 0h0m7 0h0m3 0h0m9 0h0m17 0h0m18 0h0m2 0h0m1 0h0m3 0h0m12 0h0m37 0h0m21 0h0m14 0h0m15 0h0m9 0h0m23 0h0m6 0h0m1 0h0m4 0h0m2 0h0m14 0h0m9 0h0m22 0h0m52 0h0m30 0h0m54 0h0m13 0h0m38 0h0m1 0h0m17 0h0m-976 1h0m12 0h0m6 0h0m2 0h0m1 0h0m13 0h0m17 0h0m22 0h0m39 0h0m15 0h0m20 0h0m1 0h0m23 0h0m49 0h0m8 0h0m5 0h0m5 0h0m18 0h0m3 0h0m1 0h0m7 0h0m46 0h0m5 0h0m2 0h0m26 0h0m21 0h0m18 0h0m10 0h0m9 0h0m25 0h0m5 0h0m8 0h0m7 0h0m14 0h0m4 0h0m15 0h0m6 0h0m4 0h0m2 0h0m1 0h0m1 0h0m20 0h0m6 0h0m2 0h0m5 0h0m3 0h0m16 0h0m10 0h0m11 0h0m1 0h0m10 0h0m15 0h0m1 0h0m6 0h0m18 0h0m3 0h0m42 0h0m27 0h0m4 0h0m24 0h0m15 0h0m1 0h0m67 0h0m7 0h0m57 0h0m4 0h0m1 0h0m43 0h0m3 0h0m9 0h0m37 0h0m12 0h0m-976 1h0m22 0h0m6 0h0m18 0h0m21 0h0m5 0h0m25 0h0m47 0h0m5 0h0m9 0h0m5 0h0m36 0h0m25 0h0m19 0h0m18 0h0m53 0h0m26 0h0m8 0h0m6 0h0m28 0h0m42 0h0m3 0h0m5 0h0m3 0h0m13 0h0m9 0h0m5 0h0m7 0h0m8 0h0m8 0h0m2 0h0m1 0h0m9 0h0m1 0h0m4 0h0m6 0h0m13 0h0m7 0h0m15 0h0m1 0h0m2 0h0m30 0h0m12 0h0m3 0h0m5 0h0m2 0h0m44 0h0m26 0h0m4 0h0m6 0h0m22 0h0m47 0h0m25 0h0m2 0h0m23 0h0m23 0h0m3 0h0m66 0h0m1 0h0m12 0h0m4 0h0m36 0h0m10 0h0m26 0h0m5 0h0m-981 1h0m2 0h0m40 0h0m3 0h0m40 0h0m22 0h0m5 0h0m9 0h0m54 0h0m43 0h0m7 0h0m23 0h0m4 0h0m6 0h0m1 0h0m27 0h0m8 0h0m38 0h0m16 0h0m40 0h0m13 0h0m21 0h0m6 0h0m8 0h0m14 0h0m7 0h0m2 0h0m15 0h0m3 0h0m2 0h0m6 0h0m1 0h0m2 0h0m4 0h0m2 0h0m4 0h0m2 0h0m11 0h0m2 0h0m3 0h0m11 0h0m4 0h0m11 0h0m63 0h0m16 0h0m13 0h0m24 0h0m20 0h0m17 0h0m33 0h0m6 0h0m6 0h0m20 0h0m11 0h0m13 0h0m41 0h0m2 0h0m19 0h0m19 0h0m24 0h0m3 0h0m1 0h0m22 0h0m5 0h0m5 0h0m3 0h0m20 0h0m10 0h0m4 0h0m-958 1h0m11 0h0m3 0h0m13 0h0m49 0h0m99 0h0m5 0h0m19 0h0m30 0h0m6 0h0m2 0h0m28 0h0m18 0h0m49 0h0m4 0h0m15 0h0m20 0h0m23 0h0m2 0h0m25 0h0m7 0h0m10 0h0m9 0h0m10 0h0m9 0h0m5 0h0m3 0h0m8 0h0m3 0h0m7 0h0m3 0h0m2 0h0m13 0h0m3 0h0m2 0h0m1 0h0m10 0h0m28 0h0m24 0h0m39 0h0m21 0h0m2 0h0m10 0h0m7 0h0m10 0h0m18 0h0m6 0h0m17 0h0m43 0h0m5 0h0m8 0h0m16 0h0m7 0h0m29 0h0m28 0h0m18 0h0m11 0h0m10 0h0m9 0h0m17 0h0m19 0h0m13 0h0m24 0h0m-959 1h0m7 0h0m40 0h0m4 0h0m59 0h0m33 0h0m5 0h0m88 0h0m27 0h0m9 0h0m7 0h0m8 0h0m26 0h0m15 0h0m22 0h0m1 0h0m16 0h0m12 0h0m4 0h0m7 0h0m54 0h0m7 0h0m2 0h0m7 0h0m14 0h0m3 0h0m2 0h0m16 0h0m28 0h0m4 0h0m16 0h0m15 0h0m6 0h0m33 0h0m12 0h0m4 0h0m1 0h0m3 0h0m31 0h0m16 0h0m15 0h0m8 0h0m6 0h0m7 0h0m8 0h0m18 0h0m17 0h0m39 0h0m1 0h0m22 0h0m103 0h0m9 0h0m12 0h0m5 0h0m19 0h0m2 0h0m-926 1h0m7 0h0m15 0h0m8 0h0m25 0h0m4 0h0m93 0h0m60 0h0m3 0h0m12 0h0m22 0h0m12 0h0m18 0h0m10 0h0m5 0h0m38 0h0m2 0h0m20 0h0m8 0h0m11 0h0m3 0h0m11 0h0m16 0h0m17 0h0m2 0h0m12 0h0m1 0h0m6 0h0m10 0h0m14 0h0m9 0h0m2 0h0m2 0h0m1 0h0m18 0h0m19 0h0m10 0h0m27 0h0m31 0h0m51 0h0m10 0h0m9 0h0m19 0h0m12 0h0m22 0h0m35 0h0m91 0h0m1 0h0m8 0h0m4 0h0m14 0h0m29 0h0m20 0h0m-934 1h0m39 0h0m5 0h0m8 0h0m48 0h0m14 0h0m16 0h0m13 0h0m49 0h0m2 0h0m5 0h0m4 0h0m26 0h0m23 0h0m2 0h0m10 0h0m22 0h0m4 0h0m3 0h0m12 0h0m60 0h0m12 0h0m1 0h0m3 0h0m14 0h0m5 0h0m10 0h0m18 0h0m4 0h0m11 0h0m7 0h0m2 0h0m3 0h0m13 0h0m8 0h0m3 0h0m1 0h0m5 0h0m2 0h0m2 0h0m5 0h0m4 0h0m2 0h0m5 0h0m5 0h0m26 0h0m16 0h0m36 0h0m5 0h0m11 0h0m60 0h0m62 0h0m31 0h0m25 0h0m11 0h0m5 0h0m9 0h0m2 0h0m7 0h0m7 0h0m18 0h0m3 0h0m13 0h0m16 0h0m13 0h0m22 0h0m59 0h0m-979 1h0m5 0h0m3 0h0m18 0h0m4 0h0m18 0h0m17 0h0m15 0h0m15 0h0m44 0h0m5 0h0m2 0h0m44 0h0m6 0h0m67 0h0m13 0h0m11 0h0m2 0h0m13 0h0m11 0h0m25 0h0m5 0h0m8 0h0m13 0h0m12 0h0m49 0h0m11 0h0m1 0h0m7 0h0m6 0h0m4 0h0m9 0h0m11 0h0m1 0h0m4 0h0m3 0h0m21 0h0m1 0h0m2 0h0m19 0h0m2 0h0m2 0h0m3 0h0m26 0h0m21 0h0m4 0h0m70 0h0m13 0h0m27 0h0m46 0h0m4 0h0m8 0h0m6 0h0m31 0h0m16 0h0m14 0h0m13 0h0m13 0h0m18 0h0m6 0h0m2 0h0m41 0h0m25 0h0m4 0h0m5 0h0m16 0h0m1 0h0m-950 1h0m11 0h0m2 0h0m49 0h0m8 0h0m22 0h0m94 0h0m26 0h0m16 0h0m15 0h0m1 0h0m32 0h0m49 0h0m1 0h0m17 0h0m1 0h0m7 0h0m29 0h0m18 0h0m7 0h0m10 0h0m1 0h0m9 0h0m9 0h0m3 0h0m1 0h0m2 0h0m1 0h0m19 0h0m9 0h0m12 0h0m3 0h0m5 0h0m11 0h0m4 0h0m18 0h0m6 0h0m1 0h0m4 0h0m3 0h0m10 0h0m17 0h0m6 0h0m10 0h0m1 0h0m16 0h0m25 0h0m9 0h0m3 0h0m56 0h0m19 0h0m66 0h0m2 0h0m11 0h0m8 0h0m4 0h0m15 0h0m25 0h0m12 0h0m2 0h0m24 0h0m21 0h0m4 0h0m2 0h0m13 0h0m4 0h0m17 0h0m21 0h0m8 0h0m-982 1h0m24 0h0m4 0h0m18 0h0m4 0h0m2 0h0m15 0h0m19 0h0m33 0h0m16 0h0m11 0h0m12 0h0m3 0h0m18 0h0m35 0h0m14 0h0m46 0h0m5 0h0m31 0h0m6 0h0m7 0h0m25 0h0m54 0h0m15 0h0m17 0h0m5 0h0m9 0h0m2 0h0m8 0h0m5 0h0m2 0h0m2 0h0m1 0h0m5 0h0m4 0h0m12 0h0m1 0h0m9 0h0m10 0h0m1 0h0m1 0h0m4 0h0m2 0h0m5 0h0m2 0h0m13 0h0m2 0h0m1 0h0m25 0h0m12 0h0m34 0h0m8 0h0m5 0h0m7 0h0m48 0h0m7 0h0m34 0h0m1 0h0m50 0h0m4 0h0m10 0h0m28 0h0m29 0h0m1 0h0m66 0h0m8 0h0m27 0h0m19 0h0m-938 1h0m2 0h0m11 0h0m7 0h0m6 0h0m3 0h0m16 0h0m53 0h0m7 0h0m7 0h0m42 0h0m39 0h0m11 0h0m2 0h0m15 0h0m9 0h0m7 0h0m16 0h0m3 0h0m13 0h0m4 0h0m8 0h0m8 0h0m17 0h0m8 0h0m51 0h0m23 0h0m15 0h0m1 0h0m15 0h0m3 0h0m8 0h0m25 0h0m4 0h0m4 0h0m7 0h0m4 0h0m4 0h0m2 0h0m6 0h0m3 0h0m1 0h0m8 0h0m14 0h0m25 0h0m46 0h0m3 0h0m1 0h0m11 0h0m98 0h0m29 0h0m16 0h0m49 0h0m6 0h0m6 0h0m2 0h0m5 0h0m40 0h0m1 0h0m22 0h0m14 0h0m17 0h0m17 0h0m37 0h0m-970 1h0m3 0h0m11 0h0m56 0h0m17 0h0m33 0h0m67 0h0m28 0h0m32 0h0m8 0h0m6 0h0m5 0h0m8 0h0m25 0h0m4 0h0m1 0h0m5 0h0m55 0h0m8 0h0m28 0h0m3 0h0m15 0h0m2 0h0m1 0h0m4 0h0m3 0h0m11 0h0m2 0h0m14 0h0m4 0h0m2 0h0m15 0h0m12 0h0m3 0h0m4 0h0m2 0h0m4 0h0m18 0h0m46 0h0m34 0h0m1 0h0m24 0h0m65 0h0m9 0h0m44 0h0m45 0h0m13 0h0m3 0h0m25 0h0m14 0h0m18 0h0m20 0h0m35 0h0m47 0h0m8 0h0m-955 1h0m20 0h0m10 0h0m33 0h0m3 0h0m4 0h0m4 0h0m23 0h0m9 0h0m12 0h0m10 0h0m13 0h0m22 0h0m1 0h0m16 0h0m63 0h0m4 0h0m4 0h0m19 0h0m10 0h0m15 0h0m13 0h0m16 0h0m13 0h0m32 0h0m34 0h0m19 0h0m8 0h0m4 0h0m11 0h0m7 0h0m13 0h0m4 0h0m2 0h0m2 0h0m4 0h0m2 0h0m7 0h0m30 0h0m32 0h0m15 0h0m67 0h0m106 0h0m18 0h0m4 0h0m6 0h0m11 0h0m27 0h0m3 0h0m20 0h0m13 0h0m4 0h0m1 0h0m29 0h0m35 0h0m41 0h0m7 0h0m-950 1h0m7 0h0m4 0h0m49 0h0m23 0h0m40 0h0m3 0h0m53 0h0m8 0h0m24 0h0m54 0h0m17 0h0m11 0h0m21 0h0m45 0h0m15 0h0m10 0h0m13 0h0m5 0h0m32 0h0m8 0h0m7 0h0m1 0h0m7 0h0m12 0h0m8 0h0m1 0h0m12 0h0m12 0h0m3 0h0m1 0h0m8 0h0m3 0h0m12 0h0m36 0h0m5 0h0m47 0h0m103 0h0m5 0h0m7 0h0m24 0h0m5 0h0m6 0h0m14 0h0m20 0h0m6 0h0m19 0h0m33 0h0m13 0h0m65 0h0m13 0h0m-916 1h0m7 0h0m12 0h0m54 0h0m7 0h0m1 0h0m5 0h0m36 0h0m32 0h0m24 0h0m21 0h0m27 0h0m28 0h0m2 0h0m24 0h0m2 0h0m30 0h0m5 0h0m16 0h0m10 0h0m10 0h0m10 0h0m19 0h0m9 0h0m3 0h0m5 0h0m8 0h0m7 0h0m4 0h0m6 0h0m8 0h0m10 0h0m6 0h0m2 0h0m3 0h0m35 0h0m19 0h0m35 0h0m5 0h0m3 0h0m31 0h0m78 0h0m2 0h0m29 0h0m20 0h0m133 0h0m73 0h0m-983 1h0m7 0h0m24 0h0m2 0h0m25 0h0m5 0h0m23 0h0m22 0h0m23 0h0m33 0h0m2 0h0m33 0h0m2 0h0m16 0h0m16 0h0m38 0h0m23 0h0m1 0h0m1 0h0m15 0h0m47 0h0m3 0h0m6 0h0m10 0h0m9 0h0m6 0h0m5 0h0m13 0h0m6 0h0m4 0h0m23 0h0m6 0h0m9 0h0m2 0h0m5 0h0m1 0h0m2 0h0m4 0h0m4 0h0m3 0h0m5 0h0m5 0h0m14 0h0m4 0h0m10 0h0m2 0h0m9 0h0m1 0h0m11 0h0m8 0h0m30 0h0m26 0h0m21 0h0m3 0h0m11 0h0m38 0h0m29 0h0m3 0h0m23 0h0m5 0h0m32 0h0m15 0h0m21 0h0m8 0h0m9 0h0m23 0h0m20 0h0m26 0h0m4 0h0m45 0h0m13 0h0m5 0h0m3 0h0m19 0h0m1 0h0m2 0h0m-977 1h0m8 0h0m16 0h0m9 0h0m6 0h0m25 0h0m45 0h0m1 0h0m13 0h0m26 0h0m11 0h0m4 0h0m38 0h0m2 0h0m11 0h0m3 0h0m31 0h0m60 0h0m12 0h0m25 0h0m9 0h0m10 0h0m26 0h0m13 0h0m5 0h0m14 0h0m3 0h0m6 0h0m11 0h0m4 0h0m30 0h0m9 0h0m6 0h0m4 0h0m3 0h0m7 0h0m23 0h0m13 0h0m12 0h0m47 0h0m31 0h0m29 0h0m5 0h0m15 0h0m15 0h0m17 0h0m45 0h0m32 0h0m1 0h0m11 0h0m30 0h0m4 0h0m12 0h0m9 0h0m37 0h0m26 0h0m6 0h0m7 0h0m21 0h0m20 0h0m-964 1h0m20 0h0m9 0h0m77 0h0m14 0h0m31 0h0m24 0h0m15 0h0m2 0h0m23 0h0m31 0h0m16 0h0m24 0h0m9 0h0m28 0h0m3 0h0m43 0h0m16 0h0m7 0h0m11 0h0m4 0h0m14 0h0m4 0h0m2 0h0m17 0h0m16 0h0m7 0h0m7 0h0m4 0h0m3 0h0m3 0h0m11 0h0m1 0h0m15 0h0m1 0h0m3 0h0m1 0h0m5 0h0m9 0h0m38 0h0m14 0h0m2 0h0m47 0h0m44 0h0m17 0h0m4 0h0m6 0h0m26 0h0m7 0h0m31 0h0m17 0h0m27 0h0m11 0h0m36 0h0m21 0h0m4 0h0m6 0h0m1 0h0m34 0h0m39 0h0m3 0h0m-981 1h0m1 0h0m4 0h0m7 0h0m42 0h0m24 0h0m7 0h0m14 0h0m3 0h0m20 0h0m35 0h0m22 0h0m4 0h0m2 0h0m51 0h0m9 0h0m17 0h0m14 0h0m3 0h0m10 0h0m20 0h0m2 0h0m75 0h0m1 0h0m25 0h0m2 0h0m6 0h0m2 0h0m31 0h0m1 0h0m17 0h0m5 0h0m2 0h0m13 0h0m2 0h0m1 0h0m3 0h0m2 0h0m19 0h0m2 0h0m11 0h0m10 0h0m1 0h0m3 0h0m6 0h0m11 0h0m8 0h0m6 0h0m42 0h0m53 0h0m21 0h0m16 0h0m13 0h0m61 0h0m8 0h0m40 0h0m5 0h0m40 0h0m87 0h0m7 0h0m-969 1h0m14 0h0m1 0h0m12 0h0m6 0h0m25 0h0m5 0h0m2 0h0m1 0h0m2 0h0m13 0h0m31 0h0m29 0h0m41 0h0m4 0h0m34 0h0m12 0h0m4 0h0m4 0h0m62 0h0m20 0h0m40 0h0m17 0h0m14 0h0m2 0h0m9 0h0m2 0h0m23 0h0m14 0h0m12 0h0m6 0h0m1 0h0m7 0h0m10 0h0m3 0h0m2 0h0m15 0h0m4 0h0m5 0h0m3 0h0m5 0h0m1 0h0m8 0h0m11 0h0m10 0h0m8 0h0m7 0h0m10 0h0m26 0h0m13 0h0m2 0h0m46 0h0m6 0h0m55 0h0m6 0h0m16 0h0m18 0h0m28 0h0m28 0h0m13 0h0m46 0h0m23 0h0m33 0h0m9 0h0m15 0h0m3 0h0m12 0h0m-948 1h0m63 0h0m27 0h0m14 0h0m20 0h0m10 0h0m19 0h0m12 0h0m13 0h0m10 0h0m21 0h0m30 0h0m32 0h0m15 0h0m15 0h0m17 0h0m10 0h0m24 0h0m2 0h0m10 0h0m43 0h0m6 0h0m13 0h0m27 0h0m9 0h0m4 0h0m2 0h0m4 0h0m4 0h0m2 0h0m2 0h0m2 0h0m8 0h0m9 0h0m1 0h0m41 0h0m1 0h0m2 0h0m7 0h0m6 0h0m12 0h0m2 0h0m4 0h0m25 0h0m11 0h0m24 0h0m4 0h0m4 0h0m26 0h0m9 0h0m25 0h0m6 0h0m32 0h0m6 0h0m3 0h0m24 0h0m17 0h0m4 0h0m36 0h0m23 0h0m44 0h0m7 0h0m22 0h0m-926 1h0m12 0h0m12 0h0m19 0h0m17 0h0m58 0h0m10 0h0m23 0h0m10 0h0m51 0h0m20 0h0m2 0h0m32 0h0m20 0h0m17 0h0m27 0h0m16 0h0m1 0h0m16 0h0m24 0h0m7 0h0m10 0h0m10 0h0m4 0h0m32 0h0m4 0h0m5 0h0m11 0h0m6 0h0m1 0h0m11 0h0m6 0h0m2 0h0m16 0h0m3 0h0m21 0h0m5 0h0m32 0h0m34 0h0m24 0h0m2 0h0m2 0h0m10 0h0m19 0h0m10 0h0m4 0h0m17 0h0m35 0h0m13 0h0m26 0h0m4 0h0m17 0h0m8 0h0m23 0h0m16 0h0m8 0h0m45 0h0m2 0h0m4 0h0m30 0h0m2 0h0m7 0h0m23 0h0m3 0h0m-930 1h0m12 0h0m7 0h0m13 0h0m53 0h0m4 0h0m9 0h0m22 0h0m27 0h0m41 0h0m4 0h0m2 0h0m38 0h0m24 0h0m7 0h0m7 0h0m30 0h0m38 0h0m67 0h0m1 0h0m15 0h0m11 0h0m7 0h0m8 0h0m4 0h0m5 0h0m3 0h0m2 0h0m2 0h0m10 0h0m9 0h0m13 0h0m3 0h0m9 0h0m58 0h0m11 0h0m1 0h0m3 0h0m16 0h0m4 0h0m6 0h0m6 0h0m11 0h0m22 0h0m47 0h0m28 0h0m2 0h0m1 0h0m13 0h0m1 0h0m34 0h0m15 0h0m17 0h0m67 0h0m17 0h0m27 0h0m-961 1h0m16 0h0m9 0h0m21 0h0m41 0h0m49 0h0m12 0h0m26 0h0m10 0h0m31 0h0m9 0h0m5 0h0m17 0h0m25 0h0m1 0h0m5 0h0m12 0h0m1 0h0m4 0h0m28 0h0m2 0h0m12 0h0m54 0h0m7 0h0m6 0h0m24 0h0m4 0h0m1 0h0m23 0h0m11 0h0m3 0h0m2 0h0m6 0h0m4 0h0m1 0h0m19 0h0m2 0h0m4 0h0m44 0h0m43 0h0m1 0h0m22 0h0m5 0h0m40 0h0m5 0h0m54 0h0m6 0h0m30 0h0m18 0h0m7 0h0m5 0h0m5 0h0m18 0h0m58 0h0m8 0h0m13 0h0m1 0h0m12 0h0m7 0h0m6 0h0m4 0h0m7 0h0m28 0h0m2 0h0m3 0h0m9 0h0m9 0h0m-983 1h0m13 0h0m13 0h0m25 0h0m28 0h0m3 0h0m11 0h0m57 0h0m11 0h0m8 0h0m18 0h0m1 0h0m20 0h0m9 0h0m7 0h0m33 0h0m20 0h0m10 0h0m14 0h0m4 0h0m11 0h0m22 0h0m1 0h0m35 0h0m56 0h0m13 0h0m52 0h0m2 0h0m10 0h0m17 0h0m7 0h0m18 0h0m32 0h0m44 0h0m4 0h0m130 0h0m20 0h0m22 0h0m20 0h0m81 0h0m26 0h0m38 0h0m17 0h0m-971 1h0m9 0h0m16 0h0m35 0h0m2 0h0m19 0h0m3 0h0m4 0h0m20 0h0m4 0h0m15 0h0m14 0h0m22 0h0m3 0h0m26 0h0m9 0h0m28 0h0m57 0h0m1 0h0m6 0h0m3 0h0m23 0h0m27 0h0m6 0h0m69 0h0m2 0h0m7 0h0m10 0h0m3 0h0m2 0h0m6 0h0m4 0h0m8 0h0m4 0h0m3 0h0m4 0h0m2 0h0m7 0h0m2 0h0m6 0h0m4 0h0m1 0h0m2 0h0m12 0h0m2 0h0m25 0h0m8 0h0m12 0h0m17 0h0m28 0h0m26 0h0m4 0h0m20 0h0m23 0h0m30 0h0m25 0h0m16 0h0m34 0h0m5 0h0m2 0h0m25 0h0m6 0h0m1 0h0m16 0h0m16 0h0m39 0h0m7 0h0m18 0h0m37 0h0m1 0h0m18 0h0m-935 1h0m4 0h0m27 0h0m22 0h0m82 0h0m11 0h0m45 0h0m3 0h0m25 0h0m38 0h0m4 0h0m14 0h0m57 0h0m25 0h0m9 0h0m1 0h0m4 0h0m4 0h0m13 0h0m11 0h0m8 0h0m1 0h0m4 0h0m8 0h0m6 0h0m1 0h0m4 0h0m12 0h0m1 0h0m4 0h0m9 0h0m7 0h0m3 0h0m1 0h0m5 0h0m10 0h0m10 0h0m9 0h0m25 0h0m14 0h0m3 0h0m7 0h0m31 0h0m10 0h0m5 0h0m8 0h0m5 0h0m10 0h0m38 0h0m79 0h0m3 0h0m2 0h0m28 0h0m1 0h0m4 0h0m1 0h0m28 0h0m57 0h0m26 0h0m48 0h0m-974 1h0m23 0h0m7 0h0m7 0h0m6 0h0m4 0h0m2 0h0m1 0h0m15 0h0m129 0h0m18 0h0m18 0h0m8 0h0m22 0h0m29 0h0m18 0h0m20 0h0m2 0h0m9 0h0m24 0h0m24 0h0m4 0h0m15 0h0m8 0h0m1 0h0m16 0h0m1 0h0m1 0h0m5 0h0m5 0h0m7 0h0m4 0h0m3 0h0m14 0h0m8 0h0m5 0h0m7 0h0m2 0h0m10 0h0m10 0h0m4 0h0m26 0h0m6 0h0m8 0h0m1 0h0m4 0h0m18 0h0m11 0h0m12 0h0m23 0h0m3 0h0m62 0h0m26 0h0m20 0h0m42 0h0m38 0h0m16 0h0m4 0h0m15 0h0m7 0h0m25 0h0m7 0h0m22 0h0m46 0h0m-912 1h0m129 0h0m11 0h0m18 0h0m84 0h0m11 0h0m19 0h0m45 0h0m1 0h0m7 0h0m32 0h0m28 0h0m8 0h0m4 0h0m9 0h0m16 0h0m8 0h0m2 0h0m3 0h0m2 0h0m7 0h0m4 0h0m1 0h0m15 0h0m10 0h0m11 0h0m12 0h0m6 0h0m9 0h0m19 0h0m36 0h0m6 0h0m19 0h0m3 0h0m3 0h0m24 0h0m15 0h0m44 0h0m34 0h0m19 0h0m2 0h0m22 0h0m21 0h0m11 0h0m9 0h0m41 0h0m88 0h0m-983 1h0m21 0h0m13 0h0m48 0h0m11 0h0m33 0h0m33 0h0m17 0h0m13 0h0m8 0h0m23 0h0m2 0h0m8 0h0m17 0h0m43 0h0m13 0h0m34 0h0m5 0h0m7 0h0m1 0h0m11 0h0m46 0h0m7 0h0m5 0h0m11 0h0m4 0h0m11 0h0m9 0h0m16 0h0m6 0h0m18 0h0m1 0h0m6 0h0m5 0h0m11 0h0m5 0h0m7 0h0m3 0h0m10 0h0m4 0h0m1 0h0m32 0h0m3 0h0m30 0h0m36 0h0m4 0h0m13 0h0m12 0h0m24 0h0m14 0h0m11 0h0m23 0h0m2 0h0m17 0h0m42 0h0m13 0h0m28 0h0m17 0h0m3 0h0m15 0h0m45 0h0m2 0h0m2 0h0m1 0h0m23 0h0m13 0h0m-966 1h0m2 0h0m28 0h0m1 0h0m14 0h0m4 0h0m11 0h0m30 0h0m67 0h0m35 0h0m13 0h0m17 0h0m22 0h0m10 0h0m9 0h0m6 0h0m24 0h0m43 0h0m10 0h0m35 0h0m25 0h0m2 0h0m9 0h0m4 0h0m1 0h0m12 0h0m4 0h0m1 0h0m2 0h0m3 0h0m3 0h0m5 0h0m1 0h0m19 0h0m2 0h0m2 0h0m1 0h0m5 0h0m9 0h0m38 0h0m18 0h0m3 0h0m50 0h0m25 0h0m17 0h0m27 0h0m2 0h0m19 0h0m14 0h0m20 0h0m4 0h0m1 0h0m62 0h0m6 0h0m10 0h0m9 0h0m7 0h0m47 0h0m34 0h0m5 0h0m14 0h0m12 0h0m5 0h0m5 0h0m15 0h0m2 0h0m-966 1h0m11 0h0m34 0h0m5 0h0m42 0h0m21 0h0m25 0h0m18 0h0m7 0h0m39 0h0m6 0h0m2 0h0m2 0h0m5 0h0m55 0h0m12 0h0m26 0h0m2 0h0m9 0h0m15 0h0m1 0h0m8 0h0m6 0h0m5 0h0m6 0h0m10 0h0m65 0h0m11 0h0m1 0h0m1 0h0m5 0h0m17 0h0m3 0h0m3 0h0m1 0h0m12 0h0m2 0h0m3 0h0m4 0h0m1 0h0m5 0h0m14 0h0m2 0h0m10 0h0m2 0h0m3 0h0m1 0h0m5 0h0m9 0h0m6 0h0m3 0h0m11 0h0m25 0h0m49 0h0m4 0h0m11 0h0m47 0h0m110 0h0m1 0h0m28 0h0m20 0h0m19 0h0m12 0h0m9 0h0m13 0h0m27 0h0m6 0h0m14 0h0m-968 1h0m25 0h0m27 0h0m2 0h0m11 0h0m6 0h0m59 0h0m2 0h0m30 0h0m29 0h0m8 0h0m27 0h0m17 0h0m71 0h0m5 0h0m1 0h0m1 0h0m24 0h0m6 0h0m39 0h0m38 0h0m7 0h0m6 0h0m18 0h0m6 0h0m18 0h0m7 0h0m18 0h0m20 0h0m5 0h0m5 0h0m16 0h0m21 0h0m17 0h0m7 0h0m9 0h0m7 0h0m8 0h0m12 0h0m27 0h0m43 0h0m19 0h0m49 0h0m62 0h0m1 0h0m13 0h0m35 0h0m18 0h0m22 0h0m2 0h0m14 0h0m22 0h0m17 0h0m-968 1h0m3 0h0m28 0h0m1 0h0m5 0h0m12 0h0m14 0h0m11 0h0m6 0h0m6 0h0m99 0h0m14 0h0m2 0h0m29 0h0m48 0h0m3 0h0m38 0h0m41 0h0m9 0h0m13 0h0m7 0h0m20 0h0m8 0h0m2 0h0m33 0h0m1 0h0m3 0h0m24 0h0m1 0h0m14 0h0m5 0h0m4 0h0m4 0h0m13 0h0m15 0h0m9 0h0m3 0h0m2 0h0m3 0h0m2 0h0m110 0h0m12 0h0m8 0h0m1 0h0m30 0h0m149 0h0m6 0h0m2 0h0m8 0h0m27 0h0m8 0h0m4 0h0m37 0h0m10 0h0m-957 1h0m5 0h0m12 0h0m2 0h0m36 0h0m44 0h0m86 0h0m12 0h0m14 0h0m16 0h0m10 0h0m36 0h0m3 0h0m19 0h0m6 0h0m4 0h0m10 0h0m4 0h0m36 0h0m3 0h0m12 0h0m30 0h0m1 0h0m3 0h0m45 0h0m8 0h0m5 0h0m2 0h0m5 0h0m17 0h0m15 0h0m14 0h0m5 0h0m57 0h0m7 0h0m30 0h0m15 0h0m11 0h0m22 0h0m9 0h0m25 0h0m9 0h0m44 0h0m10 0h0m37 0h0m11 0h0m13 0h0m60 0h0m7 0h0m18 0h0m26 0h0m21 0h0m-956 1h0m22 0h0m42 0h0m23 0h0m42 0h0m13 0h0m14 0h0m10 0h0m22 0h0m25 0h0m41 0h0m27 0h0m4 0h0m11 0h0m83 0h0m53 0h0m6 0h0m3 0h0m10 0h0m7 0h0m13 0h0m1 0h0m2 0h0m9 0h0m13 0h0m2 0h0m6 0h0m6 0h0m1 0h0m3 0h0m17 0h0m2 0h0m43 0h0m88 0h0m29 0h0m9 0h0m29 0h0m56 0h0m22 0h0m3 0h0m7 0h0m2 0h0m7 0h0m1 0h0m19 0h0m6 0h0m33 0h0m15 0h0m19 0h0m2 0h0m40 0h0m-962 1h0m54 0h0m43 0h0m6 0h0m7 0h0m6 0h0m29 0h0m27 0h0m5 0h0m37 0h0m6 0h0m4 0h0m3 0h0m26 0h0m1 0h0m31 0h0m12 0h0m17 0h0m29 0h0m1 0h0m53 0h0m4 0h0m19 0h0m4 0h0m5 0h0m10 0h0m9 0h0m2 0h0m9 0h0m6 0h0m1 0h0m6 0h0m18 0h0m20 0h0m5 0h0m42 0h0m6 0h0m27 0h0m36 0h0m10 0h0m3 0h0m1 0h0m16 0h0m29 0h0m17 0h0m7 0h0m20 0h0m33 0h0m45 0h0m2 0h0m22 0h0m2 0h0m26 0h0m44 0h0m6 0h0m20 0h0m-947 1h0m7 0h0m46 0h0m4 0h0m7 0h0m11 0h0m14 0h0m8 0h0m1 0h0m7 0h0m28 0h0m6 0h0m30 0h0m36 0h0m18 0h0m42 0h0m53 0h0m7 0h0m37 0h0m20 0h0m47 0h0m1 0h0m14 0h0m4 0h0m19 0h0m1 0h0m16 0h0m17 0h0m11 0h0m13 0h0m43 0h0m32 0h0m8 0h0m11 0h0m19 0h0m13 0h0m2 0h0m3 0h0m4 0h0m3 0h0m10 0h0m10 0h0m21 0h0m41 0h0m9 0h0m99 0h0m15 0h0m4 0h0m44 0h0m1 0h0m33 0h0m2 0h0m11 0h0m1 0h0m5 0h0m13 0h0m-983 1h0m1 0h0m13 0h0m19 0h0m53 0h0m15 0h0m18 0h0m2 0h0m9 0h0m6 0h0m18 0h0m6 0h0m40 0h0m18 0h0m59 0h0m59 0h0m19 0h0m44 0h0m11 0h0m14 0h0m41 0h0m28 0h0m2 0h0m1 0h0m3 0h0m23 0h0m2 0h0m33 0h0m4 0h0m1 0h0m7 0h0m11 0h0m5 0h0m54 0h0m10 0h0m18 0h0m7 0h0m12 0h0m35 0h0m21 0h0m15 0h0m22 0h0m5 0h0m9 0h0m26 0h0m5 0h0m7 0h0m19 0h0m41 0h0m20 0h0m18 0h0m54 0h0m-967 1h0m91 0h0m66 0h0m14 0h0m3 0h0m4 0h0m6 0h0m44 0h0m34 0h0m64 0h0m15 0h0m19 0h0m17 0h0m4 0h0m12 0h0m2 0h0m6 0h0m14 0h0m15 0h0m8 0h0m36 0h0m2 0h0m7 0h0m3 0h0m5 0h0m4 0h0m6 0h0m16 0h0m7 0h0m7 0h0m7 0h0m20 0h0m5 0h0m49 0h0m2 0h0m30 0h0m6 0h0m12 0h0m15 0h0m15 0h0m18 0h0m24 0h0m63 0h0m11 0h0m16 0h0m21 0h0m22 0h0m3 0h0m9 0h0m-864 1h0m109 0h0m9 0h0m32 0h0m38 0h0m24 0h0m40 0h0m47 0h0m4 0h0m6 0h0m6 0h0m8 0h0m4 0h0m15 0h0m51 0h0m44 0h0m2 0h0m10 0h0m2 0h0m8 0h0m6 0h0m7 0h0m1 0h0m1 0h0m3 0h0m92 0h0m19 0h0m5 0h0m15 0h0m1 0h0m54 0h0m3 0h0m8 0h0m3 0h0m19 0h0m37 0h0m8 0h0m5 0h0m12 0h0m4 0h0m8 0h0m7 0h0m15 0h0m48 0h0m15 0h0m23 0h0m2 0h0m3 0h0m3 0h0m32 0h0m-920 1h0m10 0h0m9 0h0m22 0h0m14 0h0m26 0h0m24 0h0m13 0h0m23 0h0m15 0h0m4 0h0m39 0h0m16 0h0m16 0h0m29 0h0m12 0h0m23 0h0m19 0h0m15 0h0m12 0h0m39 0h0m18 0h0m1 0h0m16 0h0m3 0h0m6 0h0m31 0h0m2 0h0m14 0h0m14 0h0m1 0h0m1 0h0m3 0h0m1 0h0m21 0h0m3 0h0m10 0h0m3 0h0m13 0h0m94 0h0m2 0h0m2 0h0m3 0h0m15 0h0m91 0h0m3 0h0m28 0h0m17 0h0m45 0h0m6 0h0m7 0h0m1 0h0m5 0h0m1 0h0m42 0h0m19 0h0m11 0h0m-943 1h0m33 0h0m13 0h0m2 0h0m3 0h0m27 0h0m16 0h0m11 0h0m7 0h0m12 0h0m18 0h0m5 0h0m58 0h0m26 0h0m16 0h0m15 0h0m24 0h0m1 0h0m6 0h0m22 0h0m6 0h0m8 0h0m46 0h0m16 0h0m13 0h0m3 0h0m1 0h0m1 0h0m13 0h0m8 0h0m5 0h0m7 0h0m10 0h0m8 0h0m17 0h0m4 0h0m1 0h0m4 0h0m15 0h0m8 0h0m1 0h0m2 0h0m32 0h0m10 0h0m38 0h0m58 0h0m20 0h0m12 0h0m26 0h0m14 0h0m37 0h0m7 0h0m35 0h0m54 0h0m31 0h0m58 0h0m-963 1h0m12 0h0m5 0h0m46 0h0m10 0h0m10 0h0m1 0h0m47 0h0m10 0h0m31 0h0m26 0h0m3 0h0m7 0h0m5 0h0m14 0h0m72 0h0m9 0h0m11 0h0m35 0h0m3 0h0m25 0h0m7 0h0m6 0h0m12 0h0m14 0h0m34 0h0m10 0h0m2 0h0m1 0h0m1 0h0m9 0h0m15 0h0m19 0h0m6 0h0m10 0h0m3 0h0m5 0h0m7 0h0m39 0h0m8 0h0m12 0h0m12 0h0m6 0h0m4 0h0m16 0h0m34 0h0m5 0h0m17 0h0m5 0h0m10 0h0m57 0h0m23 0h0m24 0h0m29 0h0m43 0h0m34 0h0m46 0h0m-923 1h0m10 0h0m1 0h0m35 0h0m13 0h0m36 0h0m4 0h0m24 0h0m46 0h0m9 0h0m43 0h0m2 0h0m32 0h0m34 0h0m12 0h0m14 0h0m7 0h0m10 0h0m17 0h0m27 0h0m14 0h0m15 0h0m14 0h0m10 0h0m14 0h0m1 0h0m1 0h0m4 0h0m5 0h0m11 0h0m20 0h0m2 0h0m2 0h0m13 0h0m2 0h0m14 0h0m11 0h0m3 0h0m20 0h0m18 0h0m94 0h0m16 0h0m5 0h0m16 0h0m7 0h0m14 0h0m7 0h0m5 0h0m6 0h0m84 0h0m23 0h0m2 0h0m24 0h0m14 0h0m25 0h0m20 0h0m-976 1h0m71 0h0m3 0h0m8 0h0m11 0h0m1 0h0m6 0h0m17 0h0m1 0h0m138 0h0m10 0h0m17 0h0m22 0h0m16 0h0m10 0h0m61 0h0m25 0h0m4 0h0m18 0h0m5 0h0m13 0h0m11 0h0m4 0h0m7 0h0m5 0h0m20 0h0m23 0h0m6 0h0m15 0h0m1 0h0m33 0h0m2 0h0m56 0h0m6 0h0m5 0h0m23 0h0m17 0h0m4 0h0m13 0h0m24 0h0m7 0h0m54 0h0m17 0h0m35 0h0m7 0h0m46 0h0m8 0h0m22 0h0m-928 1h0m4 0h0m97 0h0m2 0h0m23 0h0m14 0h0m14 0h0m1 0h0m8 0h0m12 0h0m4 0h0m10 0h0m31 0h0m9 0h0m51 0h0m8 0h0m8 0h0m5 0h0m8 0h0m3 0h0m29 0h0m2 0h0m34 0h0m22 0h0m46 0h0m3 0h0m11 0h0m15 0h0m11 0h0m1 0h0m15 0h0m13 0h0m6 0h0m23 0h0m12 0h0m2 0h0m11 0h0m2 0h0m61 0h0m14 0h0m17 0h0m6 0h0m21 0h0m21 0h0m4 0h0m8 0h0m14 0h0m17 0h0m52 0h0m8 0h0m69 0h0m27 0h0m44 0h0m5 0h0m5 0h0m-963 1h0m23 0h0m21 0h0m25 0h0m2 0h0m51 0h0m24 0h0m1 0h0m87 0h0m15 0h0m3 0h0m4 0h0m2 0h0m11 0h0m48 0h0m10 0h0m37 0h0m56 0h0m1 0h0m15 0h0m7 0h0m1 0h0m27 0h0m4 0h0m4 0h0m19 0h0m3 0h0m12 0h0m4 0h0m1 0h0m4 0h0m74 0h0m15 0h0m47 0h0m37 0h0m32 0h0m96 0h0m19 0h0m4 0h0m38 0h0m28 0h0m41 0h0m11 0h0m-964 1h0m19 0h0m9 0h0m42 0h0m4 0h0m13 0h0m65 0h0m15 0h0m13 0h0m35 0h0m1 0h0m8 0h0m22 0h0m4 0h0m77 0h0m3 0h0m24 0h0m12 0h0m25 0h0m68 0h0m36 0h0m9 0h0m19 0h0m17 0h0m6 0h0m8 0h0m5 0h0m11 0h0m13 0h0m24 0h0m18 0h0m3 0h0m8 0h0m76 0h0m2 0h0m35 0h0m29 0h0m24 0h0m2 0h0m25 0h0m37 0h0m10 0h0m11 0h0m3 0h0m3 0h0m63 0h0m14 0h0m12 0h0m-982 1h0m18 0h0m15 0h0m11 0h0m12 0h0m51 0h0m36 0h0m27 0h0m31 0h0m34 0h0m14 0h0m1 0h0m10 0h0m34 0h0m20 0h0m22 0h0m40 0h0m33 0h0m1 0h0m9 0h0m7 0h0m9 0h0m42 0h0m41 0h0m1 0h0m27 0h0m14 0h0m10 0h0m58 0h0m65 0h0m4 0h0m34 0h0m4 0h0m38 0h0m1 0h0m22 0h0m10 0h0m27 0h0m4 0h0m3 0h0m5 0h0m16 0h0m8 0h0m17 0h0m80 0h0m8 0h0m1 0h0m-975 1h0m50 0h0m9 0h0m3 0h0m40 0h0m3 0h0m15 0h0m37 0h0m55 0h0m16 0h0m1 0h0m17 0h0m24 0h0m19 0h0m15 0h0m5 0h0m17 0h0m80 0h0m8 0h0m2 0h0m35 0h0m5 0h0m7 0h0m19 0h0m4 0h0m9 0h0m14 0h0m13 0h0m20 0h0m19 0h0m8 0h0m17 0h0m5 0h0m8 0h0m19 0h0m1 0h0m20 0h0m27 0h0m16 0h0m28 0h0m1 0h0m56 0h0m29 0h0m8 0h0m3 0h0m27 0h0m24 0h0m20 0h0m88 0h0m10 0h0m-973 1h0m40 0h0m3 0h0m13 0h0m8 0h0m40 0h0m127 0h0m1 0h0m11 0h0m6 0h0m20 0h0m107 0h0m52 0h0m11 0h0m2 0h0m2 0h0m1 0h0m12 0h0m5 0h0m1 0h0m5 0h0m14 0h0m10 0h0m9 0h0m25 0h0m25 0h0m41 0h0m30 0h0m10 0h0m9 0h0m86 0h0m21 0h0m29 0h0m5 0h0m14 0h0m6 0h0m26 0h0m2 0h0m1 0h0m15 0h0m3 0h0m3 0h0m8 0h0m45 0h0m76 0h0m-981 1h0m27 0h0m43 0h0m1 0h0m5 0h0m6 0h0m21 0h0m1 0h0m55 0h0m3 0h0m7 0h0m39 0h0m46 0h0m3 0h0m9 0h0m29 0h0m13 0h0m1 0h0m6 0h0m4 0h0m5 0h0m3 0h0m11 0h0m33 0h0m3 0h0m10 0h0m16 0h0m19 0h0m4 0h0m3 0h0m15 0h0m6 0h0m2 0h0m2 0h0m8 0h0m1 0h0m2 0h0m1 0h0m1 0h0m10 0h0m9 0h0m13 0h0m1 0h0m32 0h0m1 0h0m13 0h0m35 0h0m2 0h0m43 0h0m31 0h0m47 0h0m1 0h0m20 0h0m23 0h0m17 0h0m1 0h0m12 0h0m8 0h0m8 0h0m7 0h0m41 0h0m19 0h0m17 0h0m15 0h0m9 0h0m23 0h0m9 0h0m-930 1h0m24 0h0m19 0h0m8 0h0m50 0h0m40 0h0m15 0h0m16 0h0m39 0h0m24 0h0m53 0h0m15 0h0m24 0h0m32 0h0m3 0h0m27 0h0m47 0h0m13 0h0m6 0h0m1 0h0m6 0h0m5 0h0m2 0h0m6 0h0m1 0h0m1 0h0m21 0h0m8 0h0m8 0h0m27 0h0m6 0h0m64 0h0m6 0h0m9 0h0m53 0h0m16 0h0m60 0h0m24 0h0m27 0h0m46 0h0m25 0h0m67 0h0m22 0h0m-967 1h0m62 0h0m1 0h0m11 0h0m17 0h0m8 0h0m8 0h0m8 0h0m47 0h0m15 0h0m3 0h0m12 0h0m6 0h0m54 0h0m47 0h0m4 0h0m12 0h0m83 0h0m5 0h0m7 0h0m18 0h0m15 0h0m2 0h0m16 0h0m9 0h0m10 0h0m4 0h0m1 0h0m2 0h0m20 0h0m19 0h0m5 0h0m7 0h0m1 0h0m36 0h0m39 0h0m50 0h0m5 0h0m15 0h0m2 0h0m75 0h0m44 0h0m54 0h0m28 0h0m46 0h0m11 0h0m18 0h0m19 0h0m-900 1h0m9 0h0m52 0h0m4 0h0m62 0h0m6 0h0m33 0h0m4 0h0m47 0h0m5 0h0m23 0h0m51 0h0m12 0h0m9 0h0m34 0h0m11 0h0m36 0h0m19 0h0m1 0h0m7 0h0m17 0h0m3 0h0m15 0h0m25 0h0m10 0h0m96 0h0m29 0h0m14 0h0m8 0h0m49 0h0m8 0h0m29 0h0m7 0h0m10 0h0m11 0h0m11 0h0m14 0h0m50 0h0m20 0h0m-926 1h0m42 0h0m41 0h0m9 0h0m29 0h0m19 0h0m38 0h0m14 0h0m2 0h0m2 0h0m12 0h0m23 0h0m20 0h0m35 0h0m16 0h0m49 0h0m16 0h0m28 0h0m30 0h0m1 0h0m19 0h0m8 0h0m7 0h0m6 0h0m12 0h0m19 0h0m23 0h0m43 0h0m7 0h0m14 0h0m21 0h0m5 0h0m27 0h0m55 0h0m14 0h0m1 0h0m56 0h0m11 0h0m11 0h0m51 0h0m43 0h0m10 0h0m61 0h0m-958 1h0m35 0h0m13 0h0m8 0h0m18 0h0m5 0h0m45 0h0m36 0h0m6 0h0m9 0h0m11 0h0m11 0h0m15 0h0m10 0h0m11 0h0m14 0h0m24 0h0m49 0h0m18 0h0m10 0h0m11 0h0m36 0h0m5 0h0m8 0h0m2 0h0m19 0h0m9 0h0m10 0h0m2 0h0m36 0h0m3 0h0m14 0h0m1 0h0m6 0h0m7 0h0m6 0h0m43 0h0m95 0h0m48 0h0m25 0h0m35 0h0m49 0h0m3 0h0m4 0h0m1 0h0m23 0h0m27 0h0m16 0h0m56 0h0m7 0h0m4 0h0m-952 1h0m75 0h0m29 0h0m9 0h0m3 0h0m35 0h0m26 0h0m8 0h0m147 0h0m13 0h0m3 0h0m31 0h0m1 0h0m55 0h0m16 0h0m14 0h0m9 0h0m2 0h0m22 0h0m3 0h0m13 0h0m2 0h0m1 0h0m10 0h0m15 0h0m23 0h0m111 0h0m15 0h0m52 0h0m32 0h0m95 0h0m4 0h0m48 0h0m28 0h0m15 0h0m-964 1h0m11 0h0m1 0h0m5 0h0m12 0h0m10 0h0m51 0h0m1 0h0m5 0h0m11 0h0m5 0h0m72 0h0m1 0h0m6 0h0m10 0h0m62 0h0m4 0h0m2 0h0m42 0h0m38 0h0m39 0h0m11 0h0m56 0h0m1 0h0m5 0h0m7 0h0m1 0h0m7 0h0m1 0h0m60 0h0m44 0h0m12 0h0m6 0h0m14 0h0m51 0h0m12 0h0m16 0h0m3 0h0m2 0h0m35 0h0m6 0h0m3 0h0m24 0h0m2 0h0m1 0h0m1 0h0m2 0h0m2 0h0m9 0h0m25 0h0m42 0h0m6 0h0m8 0h0m40 0h0m13 0h0m5 0h0m38 0h0m7 0h0m2 0h0m3 0h0m-941 1h0m27 0h0m9 0h0m30 0h0m20 0h0m12 0h0m56 0h0m2 0h0m1 0h0m36 0h0m27 0h0m7 0h0m3 0h0m8 0h0m8 0h0m27 0h0m3 0h0m19 0h0m12 0h0m1 0h0m18 0h0m55 0h0m29 0h0m3 0h0m12 0h0m1 0h0m1 0h0m1 0h0m16 0h0m12 0h0m9 0h0m18 0h0m37 0h0m14 0h0m17 0h0m30 0h0m17 0h0m6 0h0m3 0h0m9 0h0m7 0h0m12 0h0m2 0h0m9 0h0m43 0h0m10 0h0m69 0h0m16 0h0m27 0h0m56 0h0m34 0h0m20 0h0m-929 1h0m63 0h0m61 0h0m52 0h0m2 0h0m38 0h0m3 0h0m23 0h0m11 0h0m21 0h0m74 0h0m19 0h0m24 0h0m37 0h0m18 0h0m9 0h0m13 0h0m2 0h0m19 0h0m36 0h0m6 0h0m3 0h0m25 0h0m6 0h0m15 0h0m10 0h0m27 0h0m5 0h0m14 0h0m2 0h0m36 0h0m50 0h0m1 0h0m80 0h0m3 0h0m15 0h0m8 0h0m7 0h0m19 0h0m57 0h0m5 0h0m8 0h0m5 0h0m14 0h0m-890 1h0m9 0h0m82 0h0m14 0h0m3 0h0m32 0h0m3 0h0m7 0h0m36 0h0m3 0h0m15 0h0m5 0h0m19 0h0m7 0h0m10 0h0m9 0h0m1 0h0m9 0h0m17 0h0m23 0h0m48 0h0m3 0h0m27 0h0m14 0h0m22 0h0m10 0h0m35 0h0m23 0h0m12 0h0m63 0h0m3 0h0m29 0h0m36 0h0m2 0h0m14 0h0m38 0h0m1 0h0m1 0h0m29 0h0m14 0h0m37 0h0m38 0h0m34 0h0m31 0h0m-953 1h0m24 0h0m21 0h0m42 0h0m40 0h0m47 0h0m99 0h0m3 0h0m11 0h0m5 0h0m10 0h0m1 0h0m14 0h0m1 0h0m11 0h0m8 0h0m8 0h0m36 0h0m5 0h0m11 0h0m18 0h0m45 0h0m2 0h0m17 0h0m6 0h0m11 0h0m9 0h0m6 0h0m3 0h0m13 0h0m17 0h0m10 0h0m28 0h0m9 0h0m5 0h0m12 0h0m88 0h0m34 0h0m3 0h0m14 0h0m3 0h0m44 0h0m26 0h0m23 0h0m5 0h0m19 0h0m16 0h0m34 0h0m10 0h0m17 0h0m17 0h0m-903 1h0m7 0h0m5 0h0m3 0h0m22 0h0m2 0h0m26 0h0m3 0h0m34 0h0m61 0h0m2 0h0m1 0h0m38 0h0m29 0h0m7 0h0m20 0h0m91 0h0m39 0h0m7 0h0m27 0h0m1 0h0m31 0h0m23 0h0m1 0h0m10 0h0m7 0h0m2 0h0m19 0h0m6 0h0m10 0h0m2 0h0m84 0h0m16 0h0m3 0h0m8 0h0m38 0h0m10 0h0m127 0h0m60 0h0m12 0h0m-929 1h0m89 0h0m9 0h0m2 0h0m6 0h0m9 0h0m13 0h0m4 0h0m5 0h0m69 0h0m1 0h0m12 0h0m50 0h0m13 0h0m16 0h0m9 0h0m37 0h0m10 0h0m18 0h0m16 0h0m3 0h0m2 0h0m48 0h0m3 0h0m1 0h0m7 0h0m1 0h0m2 0h0m8 0h0m7 0h0m8 0h0m18 0h0m5 0h0m91 0h0m3 0h0m39 0h0m46 0h0m7 0h0m15 0h0m13 0h0m39 0h0m60 0h0m56 0h0m27 0h0m12 0h0m4 0h0m36 0h0m10 0h0m-964 1h0m24 0h0m6 0h0m9 0h0m1 0h0m65 0h0m6 0h0m9 0h0m27 0h0m36 0h0m21 0h0m1 0h0m3 0h0m6 0h0m12 0h0m2 0h0m4 0h0m19 0h0m4 0h0m1 0h0m19 0h0m5 0h0m34 0h0m45 0h0m1 0h0m8 0h0m27 0h0m19 0h0m5 0h0m13 0h0m8 0h0m11 0h0m8 0h0m10 0h0m5 0h0m8 0h0m1 0h0m5 0h0m12 0h0m9 0h0m5 0h0m26 0h0m19 0h0m20 0h0m1 0h0m2 0h0m9 0h0m7 0h0m34 0h0m14 0h0m4 0h0m24 0h0m68 0h0m31 0h0m15 0h0m62 0h0m2 0h0m13 0h0m3 0h0m39 0h0m57 0h0m-983 1h0m64 0h0m8 0h0m11 0h0m33 0h0m3 0h0m6 0h0m67 0h0m47 0h0m9 0h0m43 0h0m26 0h0m25 0h0m6 0h0m16 0h0m54 0h0m20 0h0m3 0h0m5 0h0m19 0h0m2 0h0m9 0h0m12 0h0m4 0h0m24 0h0m15 0h0m6 0h0m44 0h0m14 0h0m5 0h0m32 0h0m7 0h0m13 0h0m34 0h0m40 0h0m13 0h0m24 0h0m10 0h0m29 0h0m21 0h0m15 0h0m25 0h0m48 0h0m10 0h0m12 0h0m1 0h0m20 0h0m6 0h0m16 0h0m-972 1h0m9 0h0m39 0h0m14 0h0m7 0h0m24 0h0m14 0h0m29 0h0m8 0h0m7 0h0m65 0h0m1 0h0m1 0h0m15 0h0m11 0h0m6 0h0m1 0h0m35 0h0m17 0h0m10 0h0m25 0h0m85 0h0m3 0h0m14 0h0m6 0h0m2 0h0m2 0h0m20 0h0m3 0h0m14 0h0m6 0h0m2 0h0m5 0h0m65 0h0m97 0h0m24 0h0m9 0h0m33 0h0m36 0h0m31 0h0m17 0h0m28 0h0m18 0h0m21 0h0m25 0h0m10 0h0m5 0h0m-899 1h0m10 0h0m20 0h0m5 0h0m5 0h0m9 0h0m25 0h0m4 0h0m120 0h0m24 0h0m19 0h0m39 0h0m8 0h0m27 0h0m31 0h0m2 0h0m63 0h0m14 0h0m5 0h0m2 0h0m12 0h0m21 0h0m6 0h0m7 0h0m7 0h0m8 0h0m2 0h0m9 0h0m10 0h0m7 0h0m1 0h0m6 0h0m13 0h0m12 0h0m9 0h0m41 0h0m8 0h0m2 0h0m51 0h0m50 0h0m11 0h0m14 0h0m26 0h0m13 0h0m62 0h0m44 0h0m22 0h0m5 0h0m13 0h0m26 0h0m-968 1h0m18 0h0m38 0h0m51 0h0m3 0h0m32 0h0m54 0h0m1 0h0m16 0h0m20 0h0m74 0h0m25 0h0m31 0h0m10 0h0m45 0h0m15 0h0m12 0h0m15 0h0m1 0h0m7 0h0m1 0h0m8 0h0m9 0h0m11 0h0m2 0h0m25 0h0m6 0h0m22 0h0m38 0h0m42 0h0m54 0h0m18 0h0m48 0h0m36 0h0m31 0h0m23 0h0m13 0h0m2 0h0m14 0h0m2 0h0m35 0h0m57 0h0m1 0h0m11 0h0m-983 1h0m13 0h0m34 0h0m37 0h0m37 0h0m17 0h0m36 0h0m2 0h0m52 0h0m17 0h0m6 0h0m7 0h0m4 0h0m9 0h0m25 0h0m32 0h0m35 0h0m32 0h0m32 0h0m17 0h0m10 0h0m18 0h0m11 0h0m1 0h0m4 0h0m8 0h0m13 0h0m10 0h0m23 0h0m20 0h0m11 0h0m19 0h0m21 0h0m16 0h0m7 0h0m12 0h0m30 0h0m1 0h0m17 0h0m24 0h0m16 0h0m2 0h0m15 0h0m39 0h0m47 0h0m20 0h0m24 0h0m42 0h0m25 0h0m21 0h0m12 0h0m-983 1h0m29 0h0m3 0h0m25 0h0m8 0h0m22 0h0m56 0h0m25 0h0m7 0h0m11 0h0m50 0h0m50 0h0m4 0h0m8 0h0m3 0h0m16 0h0m16 0h0m48 0h0m12 0h0m1 0h0m7 0h0m28 0h0m6 0h0m28 0h0m20 0h0m20 0h0m14 0h0m12 0h0m39 0h0m70 0h0m36 0h0m15 0h0m117 0h0m36 0h0m41 0h0m20 0h0m3 0h0m30 0h0m14 0h0m-898 1h0m44 0h0m2 0h0m3 0h0m12 0h0m6 0h0m11 0h0m4 0h0m52 0h0m32 0h0m36 0h0m32 0h0m28 0h0m27 0h0m56 0h0m13 0h0m8 0h0m4 0h0m3 0h0m10 0h0m45 0h0m2 0h0m12 0h0m1 0h0m2 0h0m17 0h0m6 0h0m9 0h0m7 0h0m2 0h0m15 0h0m44 0h0m65 0h0m59 0h0m37 0h0m16 0h0m41 0h0m3 0h0m20 0h0m4 0h0m30 0h0m12 0h0m37 0h0m33 0h0m-949 1h0m19 0h0m37 0h0m50 0h0m4 0h0m17 0h0m21 0h0m16 0h0m50 0h0m3 0h0m32 0h0m27 0h0m8 0h0m15 0h0m35 0h0m16 0h0m49 0h0m27 0h0m18 0h0m24 0h0m13 0h0m21 0h0m6 0h0m4 0h0m13 0h0m5 0h0m27 0h0m26 0h0m59 0h0m9 0h0m6 0h0m1 0h0m73 0h0m24 0h0m3 0h0m45 0h0m8 0h0m2 0h0m2 0h0m22 0h0m52 0h0m2 0h0m5 0h0m29 0h0m19 0h0m29 0h0m-978 1h0m1 0h0m22 0h0m43 0h0m17 0h0m19 0h0m32 0h0m59 0h0m30 0h0m123 0h0m7 0h0m7 0h0m3 0h0m47 0h0m9 0h0m12 0h0m1 0h0m1 0h0m34 0h0m6 0h0m9 0h0m6 0h0m2 0h0m9 0h0m18 0h0m11 0h0m9 0h0m36 0h0m1 0h0m28 0h0m11 0h0m27 0h0m43 0h0m38 0h0m12 0h0m2 0h0m19 0h0m23 0h0m8 0h0m11 0h0m72 0h0m31 0h0m15 0h0m29 0h0m24 0h0m3 0h0m13 0h0m-954 1h0m52 0h0m47 0h0m29 0h0m1 0h0m7 0h0m72 0h0m47 0h0m25 0h0m56 0h0m11 0h0m33 0h0m2 0h0m22 0h0m25 0h0m11 0h0m3 0h0m3 0h0m39 0h0m36 0h0m32 0h0m15 0h0m27 0h0m29 0h0m9 0h0m7 0h0m35 0h0m15 0h0m32 0h0m108 0h0m16 0h0m8 0h0m12 0h0m9 0h0m79 0h0m-980 1h0m15 0h0m17 0h0m49 0h0m27 0h0m9 0h0m1 0h0m77 0h0m17 0h0m60 0h0m15 0h0m2 0h0m11 0h0m17 0h0m45 0h0m14 0h0m9 0h0m14 0h0m23 0h0m20 0h0m10 0h0m15 0h0m3 0h0m19 0h0m6 0h0m16 0h0m3 0h0m15 0h0m41 0h0m44 0h0m1 0h0m1 0h0m5 0h0m7 0h0m36 0h0m3 0h0m10 0h0m104 0h0m7 0h0m13 0h0m72 0h0m52 0h0m40 0h0m6 0h0m-963 1h0m83 0h0m34 0h0m3 0h0m102 0h0m3 0h0m49 0h0m21 0h0m6 0h0m4 0h0m62 0h0m8 0h0m2 0h0m17 0h0m14 0h0m6 0h0m5 0h0m13 0h0m19 0h0m13 0h0m4 0h0m1 0h0m3 0h0m2 0h0m2 0h0m4 0h0m6 0h0m1 0h0m17 0h0m5 0h0m3 0h0m1 0h0m20 0h0m46 0h0m5 0h0m18 0h0m73 0h0m65 0h0m20 0h0m19 0h0m2 0h0m49 0h0m31 0h0m20 0h0m31 0h0m7 0h0m-822 1h0m108 0h0m40 0h0m31 0h0m11 0h0m6 0h0m32 0h0m47 0h0m5 0h0m34 0h0m17 0h0m10 0h0m8 0h0m26 0h0m30 0h0m5 0h0m3 0h0m52 0h0m10 0h0m65 0h0m45 0h0m7 0h0m6 0h0m51 0h0m5 0h0m6 0h0m23 0h0m50 0h0m19 0h0m12 0h0m45 0h0m23 0h0m7 0h0m26 0h0m10 0h0m-972 1h0m69 0h0m59 0h0m25 0h0m40 0h0m4 0h0m10 0h0m38 0h0m55 0h0m95 0h0m17 0h0m26 0h0m6 0h0m5 0h0m1 0h0m17 0h0m5 0h0m14 0h0m6 0h0m10 0h0m7 0h0m45 0h0m5 0h0m18 0h0m22 0h0m15 0h0m4 0h0m56 0h0m28 0h0m7 0h0m10 0h0m21 0h0m15 0h0m8 0h0m13 0h0m17 0h0m8 0h0m20 0h0m15 0h0m15 0h0m4 0h0m4 0h0m13 0h0m43 0h0m8 0h0m1 0h0m12 0h0m21 0h0m-949 1h0m49 0h0m7 0h0m20 0h0m17 0h0m42 0h0m7 0h0m6 0h0m50 0h0m36 0h0m22 0h0m3 0h0m2 0h0m19 0h0m13 0h0m22 0h0m72 0h0m26 0h0m12 0h0m8 0h0m4 0h0m4 0h0m6 0h0m17 0h0m8 0h0m9 0h0m5 0h0m9 0h0m42 0h0m41 0h0m2 0h0m19 0h0m8 0h0m78 0h0m14 0h0m4 0h0m28 0h0m65 0h0m86 0h0m62 0h0m2 0h0m13 0h0m1 0h0m-966 1h0m9 0h0m16 0h0m16 0h0m16 0h0m25 0h0m87 0h0m52 0h0m7 0h0m3 0h0m7 0h0m19 0h0m11 0h0m12 0h0m9 0h0m74 0h0m46 0h0m39 0h0m13 0h0m8 0h0m35 0h0m10 0h0m1 0h0m25 0h0m69 0h0m2 0h0m18 0h0m4 0h0m15 0h0m13 0h0m53 0h0m22 0h0m12 0h0m57 0h0m5 0h0m19 0h0m7 0h0m16 0h0m62 0h0m4 0h0m7 0h0m9 0h0m16 0h0m10 0h0m6 0h0m4 0h0m-983 1h0m13 0h0m58 0h0m4 0h0m63 0h0m12 0h0m13 0h0m23 0h0m45 0h0m34 0h0m112 0h0m48 0h0m22 0h0m20 0h0m5 0h0m7 0h0m1 0h0m1 0h0m15 0h0m1 0h0m1 0h0m59 0h0m6 0h0m17 0h0m19 0h0m24 0h0m6 0h0m17 0h0m23 0h0m8 0h0m1 0h0m3 0h0m24 0h0m32 0h0m55 0h0m9 0h0m15 0h0m33 0h0m12 0h0m1 0h0m89 0h0m14 0h0m3 0h0m15 0h0m-871 1h0m20 0h0m38 0h0m1 0h0m46 0h0m17 0h0m5 0h0m169 0h0m1 0h0m13 0h0m49 0h0m10 0h0m1 0h0m1 0h0m1 0h0m3 0h0m9 0h0m5 0h0m2 0h0m39 0h0m56 0h0m22 0h0m8 0h0m9 0h0m59 0h0m1 0h0m35 0h0m4 0h0m7 0h0m1 0h0m10 0h0m54 0h0m23 0h0m63 0h0m26 0h0m41 0h0m22 0h0m-967 1h0m10 0h0m16 0h0m76 0h0m1 0h0m21 0h0m1 0h0m44 0h0m40 0h0m63 0h0m19 0h0m3 0h0m5 0h0m54 0h0m12 0h0m46 0h0m2 0h0m6 0h0m49 0h0m7 0h0m2 0h0m1 0h0m14 0h0m3 0h0m10 0h0m7 0h0m6 0h0m24 0h0m21 0h0m22 0h0m3 0h0m23 0h0m51 0h0m114 0h0m7 0h0m3 0h0m69 0h0m63 0h0m-930 1h0m2 0h0m17 0h0m8 0h0m12 0h0m18 0h0m50 0h0m38 0h0m14 0h0m62 0h0m39 0h0m17 0h0m15 0h0m43 0h0m62 0h0m46 0h0m1 0h0m8 0h0m18 0h0m36 0h0m10 0h0m9 0h0m26 0h0m3 0h0m21 0h0m12 0h0m17 0h0m28 0h0m19 0h0m11 0h0m21 0h0m73 0h0m3 0h0m24 0h0m21 0h0m57 0h0m118 0h0m-920 1h0m47 0h0m7 0h0m23 0h0m89 0h0m2 0h0m1 0h0m20 0h0m46 0h0m79 0h0m40 0h0m16 0h0m3 0h0m7 0h0m34 0h0m7 0h0m2 0h0m8 0h0m6 0h0m133 0h0m20 0h0m1 0h0m2 0h0m8 0h0m15 0h0m29 0h0m13 0h0m1 0h0m1 0h0m9 0h0m19 0h0m42 0h0m6 0h0m3 0h0m63 0h0m54 0h0m25 0h0m4 0h0m-948 1h0m24 0h0m13 0h0m46 0h0m36 0h0m74 0h0m18 0h0m8 0h0m56 0h0m57 0h0m15 0h0m66 0h0m21 0h0m7 0h0m11 0h0m3 0h0m18 0h0m16 0h0m2 0h0m3 0h0m1 0h0m3 0h0m36 0h0m6 0h0m13 0h0m9 0h0m1 0h0m7 0h0m17 0h0m43 0h0m4 0h0m19 0h0m15 0h0m2 0h0m18 0h0m29 0h0m132 0h0m24 0h0m6 0h0m83 0h0m-962 1h0m29 0h0m21 0h0m9 0h0m8 0h0m8 0h0m60 0h0m1 0h0m9 0h0m61 0h0m72 0h0m19 0h0m77 0h0m5 0h0m40 0h0m19 0h0m33 0h0m4 0h0m12 0h0m3 0h0m7 0h0m1 0h0m13 0h0m29 0h0m3 0h0m86 0h0m7 0h0m18 0h0m14 0h0m14 0h0m44 0h0m4 0h0m48 0h0m12 0h0m4 0h0m73 0h0m30 0h0m22 0h0m5 0h0m57 0h0m-969 1h0m64 0h0m37 0h0m20 0h0m60 0h0m30 0h0m17 0h0m11 0h0m16 0h0m5 0h0m23 0h0m27 0h0m29 0h0m6 0h0m94 0h0m9 0h0m17 0h0m7 0h0m31 0h0m13 0h0m9 0h0m13 0h0m12 0h0m1 0h0m10 0h0m14 0h0m17 0h0m8 0h0m9 0h0m9 0h0m16 0h0m6 0h0m6 0h0m12 0h0m9 0h0m12 0h0m25 0h0m8 0h0m8 0h0m25 0h0m3 0h0m209 0h0m-969 1h0m40 0h0m20 0h0m7 0h0m12 0h0m8 0h0m58 0h0m36 0h0m82 0h0m8 0h0m34 0h0m18 0h0m31 0h0m9 0h0m28 0h0m52 0h0m2 0h0m35 0h0m10 0h0m20 0h0m5 0h0m5 0h0m33 0h0m22 0h0m5 0h0m15 0h0m21 0h0m39 0h0m62 0h0m19 0h0m33 0h0m5 0h0m29 0h0m15 0h0m45 0h0m11 0h0m38 0h0m22 0h0m-928 1h0m42 0h0m67 0h0m40 0h0m2 0h0m13 0h0m4 0h0m25 0h0m6 0h0m45 0h0m17 0h0m4 0h0m10 0h0m14 0h0m17 0h0m25 0h0m5 0h0m10 0h0m5 0h0m4 0h0m33 0h0m24 0h0m50 0h0m3 0h0m12 0h0m10 0h0m34 0h0m29 0h0m11 0h0m32 0h0m10 0h0m8 0h0m1 0h0m2 0h0m9 0h0m17 0h0m1 0h0m11 0h0m5 0h0m9 0h0m11 0h0m2 0h0m44 0h0m38 0h0m14 0h0m60 0h0m81 0h0m18 0h0m28 0h0m-964 1h0m35 0h0m34 0h0m8 0h0m54 0h0m3 0h0m24 0h0m59 0h0m2 0h0m80 0h0m8 0h0m5 0h0m5 0h0m9 0h0m13 0h0m14 0h0m93 0h0m5 0h0m4 0h0m1 0h0m38 0h0m4 0h0m15 0h0m11 0h0m3 0h0m32 0h0m14 0h0m21 0h0m30 0h0m34 0h0m6 0h0m65 0h0m3 0h0m11 0h0m7 0h0m2 0h0m43 0h0m146 0h0m36 0h0m-964 1h0m3 0h0m27 0h0m3 0h0m4 0h0m14 0h0m55 0h0m21 0h0m40 0h0m7 0h0m11 0h0m24 0h0m4 0h0m15 0h0m20 0h0m15 0h0m50 0h0m35 0h0m9 0h0m60 0h0m3 0h0m44 0h0m25 0h0m6 0h0m20 0h0m3 0h0m18 0h0m2 0h0m9 0h0m6 0h0m119 0h0m17 0h0m8 0h0m32 0h0m26 0h0m29 0h0m37 0h0m9 0h0m24 0h0m23 0h0m11 0h0m45 0h0m9 0h0m14 0h0m-949 1h0m22 0h0m32 0h0m32 0h0m4 0h0m11 0h0m9 0h0m40 0h0m45 0h0m41 0h0m21 0h0m6 0h0m26 0h0m21 0h0m42 0h0m25 0h0m40 0h0m12 0h0m9 0h0m2 0h0m1 0h0m5 0h0m1 0h0m21 0h0m12 0h0m5 0h0m5 0h0m58 0h0m11 0h0m29 0h0m26 0h0m46 0h0m16 0h0m58 0h0m17 0h0m18 0h0m3 0h0m11 0h0m106 0h0m20 0h0m12 0h0m3 0h0m18 0h0m17 0h0m-953 1h0m25 0h0m5 0h0m8 0h0m17 0h0m3 0h0m8 0h0m23 0h0m25 0h0m4 0h0m1 0h0m37 0h0m3 0h0m19 0h0m3 0h0m81 0h0m32 0h0m47 0h0m24 0h0m77 0h0m22 0h0m23 0h0m31 0h0m29 0h0m22 0h0m3 0h0m22 0h0m24 0h0m16 0h0m16 0h0m8 0h0m65 0h0m2 0h0m22 0h0m28 0h0m24 0h0m34 0h0m49 0h0m-912 1h0m1 0h0m58 0h0m11 0h0m23 0h0m31 0h0m73 0h0m8 0h0m18 0h0m5 0h0m11 0h0m6 0h0m45 0h0m41 0h0m62 0h0m42 0h0m45 0h0m11 0h0m2 0h0m14 0h0m6 0h0m85 0h0m3 0h0m36 0h0m2 0h0m32 0h0m31 0h0m5 0h0m17 0h0m23 0h0m36 0h0m53 0h0m4 0h0m37 0h0m36 0h0m5 0h0m18 0h0m21 0h0m-926 1h0m2 0h0m3 0h0m59 0h0m41 0h0m8 0h0m6 0h0m13 0h0m3 0h0m4 0h0m1 0h0m23 0h0m10 0h0m19 0h0m47 0h0m29 0h0m2 0h0m16 0h0m4 0h0m8 0h0m11 0h0m48 0h0m5 0h0m46 0h0m5 0h0m26 0h0m25 0h0m3 0h0m3 0h0m13 0h0m22 0h0m9 0h0m9 0h0m7 0h0m18 0h0m8 0h0m9 0h0m56 0h0m20 0h0m31 0h0m15 0h0m21 0h0m3 0h0m68 0h0m30 0h0m17 0h0m25 0h0m20 0h0m24 0h0m9 0h0m16 0h0m20 0h0m-931 1h0m1 0h0m36 0h0m19 0h0m39 0h0m4 0h0m40 0h0m3 0h0m14 0h0m39 0h0m10 0h0m8 0h0m97 0h0m20 0h0m6 0h0m7 0h0m39 0h0m31 0h0m13 0h0m28 0h0m2 0h0m9 0h0m61 0h0m36 0h0m45 0h0m10 0h0m7 0h0m13 0h0m89 0h0m50 0h0m81 0h0m34 0h0m-930 1h0m13 0h0m259 0h0m2 0h0m15 0h0m52 0h0m23 0h0m24 0h0m44 0h0m28 0h0m43 0h0m16 0h0m43 0h0m1 0h0m12 0h0m26 0h0m7 0h0m5 0h0m41 0h0m68 0h0m24 0h0m57 0h0m2 0h0m85 0h0m61 0h0m-944 1h0m5 0h0m38 0h0m41 0h0m46 0h0m82 0h0m14 0h0m4 0h0m22 0h0m26 0h0m12 0h0m49 0h0m68 0h0m16 0h0m5 0h0m31 0h0m7 0h0m7 0h0m7 0h0m50 0h0m14 0h0m11 0h0m23 0h0m41 0h0m6 0h0m45 0h0m15 0h0m18 0h0m107 0h0m1 0h0m13 0h0m10 0h0m20 0h0m17 0h0m41 0h0m23 0h0m5 0h0m4 0h0m29 0h0m-981 1h0m14 0h0m47 0h0m1 0h0m74 0h0m29 0h0m12 0h0m26 0h0m44 0h0m27 0h0m17 0h0m26 0h0m44 0h0m47 0h0m7 0h0m8 0h0m4 0h0m5 0h0m11 0h0m11 0h0m17 0h0m56 0h0m40 0h0m26 0h0m6 0h0m1 0h0m91 0h0m9 0h0m98 0h0m12 0h0m31 0h0m7 0h0m95 0h0m40 0h0m-981 1h0m21 0h0m60 0h0m58 0h0m23 0h0m31 0h0m85 0h0m19 0h0m35 0h0m1 0h0m4 0h0m60 0h0m3 0h0m22 0h0m13 0h0m3 0h0m33 0h0m44 0h0m13 0h0m1 0h0m9 0h0m33 0h0m22 0h0m27 0h0m11 0h0m70 0h0m24 0h0m45 0h0m24 0h0m11 0h0m22 0h0m11 0h0m4 0h0m17 0h0m25 0h0m64 0h0m-895 1h0m51 0h0m15 0h0m10 0h0m136 0h0m3 0h0m38 0h0m6 0h0m19 0h0m27 0h0m5 0h0m20 0h0m62 0h0m17 0h0m40 0h0m2 0h0m35 0h0m18 0h0m23 0h0m18 0h0m83 0h0m47 0h0m26 0h0m9 0h0m4 0h0m14 0h0m70 0h0m10 0h0m9 0h0m28 0h0m23 0h0m38 0h0m-944 1h0m21 0h0m45 0h0m56 0h0m4 0h0m20 0h0m1 0h0m14 0h0m13 0h0m12 0h0m22 0h0m5 0h0m99 0h0m1 0h0m17 0h0m5 0h0m3 0h0m16 0h0m63 0h0m10 0h0m3 0h0m27 0h0m6 0h0m37 0h0m23 0h0m33 0h0m31 0h0m85 0h0m27 0h0m17 0h0m1 0h0m7 0h0m73 0h0m7 0h0m30 0h0m10 0h0m4 0h0m2 0h0m3 0h0m50 0h0m11 0h0m34 0h0m-874 1h0m33 0h0m59 0h0m114 0h0m38 0h0m40 0h0m24 0h0m42 0h0m17 0h0m6 0h0m17 0h0m12 0h0m14 0h0m10 0h0m52 0h0m9 0h0m77 0h0m45 0h0m75 0h0m10 0h0m26 0h0m54 0h0m40 0h0m21 0h0m47 0h0m9 0h0m-970 1h0m8 0h0m5 0h0m72 0h0m2 0h0m7 0h0m1 0h0m3 0h0m70 0h0m9 0h0m7 0h0m120 0h0m9 0h0m73 0h0m30 0h0m11 0h0m3 0h0m38 0h0m12 0h0m11 0h0m53 0h0m58 0h0m19 0h0m10 0h0m25 0h0m29 0h0m8 0h0m12 0h0m10 0h0m57 0h0m35 0h0m19 0h0m1 0h0m19 0h0m44 0h0m35 0h0m19 0h0m27 0h0m-972 1h0m31 0h0m12 0h0m4 0h0m40 0h0m102 0h0m25 0h0m69 0h0m38 0h0m52 0h0m3 0h0m2 0h0m2 0h0m3 0h0m15 0h0m60 0h0m2 0h0m8 0h0m36 0h0m7 0h0m3 0h0m11 0h0m9 0h0m15 0h0m1 0h0m41 0h0m87 0h0m39 0h0m22 0h0m14 0h0m8 0h0m1 0h0m30 0h0m70 0h0m103 0h0m1 0h0m3 0h0m3 0h0m-982 1h0m9 0h0m106 0h0m66 0h0m27 0h0m84 0h0m11 0h0m55 0h0m68 0h0m6 0h0m10 0h0m53 0h0m23 0h0m15 0h0m17 0h0m6 0h0m45 0h0m30 0h0m34 0h0m24 0h0m36 0h0m4 0h0m42 0h0m28 0h0m73 0h0m63 0h0m9 0h0m-944 1h0m1 0h0m27 0h0m132 0h0m23 0h0m15 0h0m3 0h0m24 0h0m73 0h0m42 0h0m45 0h0m47 0h0m30 0h0m11 0h0m37 0h0m18 0h0m8 0h0m57 0h0m96 0h0m6 0h0m11 0h0m31 0h0m68 0h0m24 0h0m39 0h0m21 0h0m-890 1h0m49 0h0m22 0h0m4 0h0m18 0h0m2 0h0m8 0h0m15 0h0m7 0h0m28 0h0m32 0h0m10 0h0m22 0h0m59 0h0m67 0h0m74 0h0m1 0h0m67 0h0m33 0h0m33 0h0m18 0h0m28 0h0m31 0h0m1 0h0m49 0h0m94 0h0m16 0h0m1 0h0m62 0h0m2 0h0m67 0h0m8 0h0m44 0h0m-972 1h0m7 0h0m3 0h0m14 0h0m63 0h0m3 0h0m42 0h0m48 0h0m24 0h0m31 0h0m13 0h0m21 0h0m18 0h0m84 0h0m31 0h0m52 0h0m4 0h0m26 0h0m23 0h0m35 0h0m24 0h0m57 0h0m31 0h0m9 0h0m17 0h0m1 0h0m2 0h0m12 0h0m10 0h0m170 0h0m38 0h0m10 0h0m10 0h0m9 0h0m2 0h0m8 0h0m7 0h0m-959 1h0m8 0h0m6 0h0m75 0h0m16 0h0m46 0h0m129 0h0m72 0h0m33 0h0m75 0h0m2 0h0m6 0h0m32 0h0m18 0h0m14 0h0m2 0h0m20 0h0m155 0h0m38 0h0m14 0h0m17 0h0m8 0h0m22 0h0m30 0h0m18 0h0m52 0h0m29 0h0m37 0h0m1 0h0m-970 1h0m60 0h0m14 0h0m3 0h0m1 0h0m43 0h0m105 0h0m3 0h0m21 0h0m23 0h0m56 0h0m8 0h0m12 0h0m6 0h0m3 0h0m113 0h0m56 0h0m8 0h0m57 0h0m7 0h0m33 0h0m12 0h0m7 0h0m6 0h0m47 0h0m10 0h0m19 0h0m19 0h0m2 0h0m22 0h0m48 0h0m25 0h0m28 0h0m27 0h0m51 0h0m-904 1h0m82 0h0m12 0h0m17 0h0m21 0h0m9 0h0m44 0h0m85 0h0m18 0h0m32 0h0m56 0h0m21 0h0m56 0h0m23 0h0m46 0h0m36 0h0m7 0h0m42 0h0m68 0h0m210 0h0m4 0h0m38 0h0m-957 1h0m12 0h0m76 0h0m27 0h0m129 0h0m9 0h0m7 0h0m25 0h0m48 0h0m22 0h0m80 0h0m3 0h0m3 0h0m40 0h0m86 0h0m14 0h0m54 0h0m85 0h0m71 0h0m87 0h0m5 0h0m29 0h0m21 0h0m7 0h0m-958 1h0m22 0h0m62 0h0m2 0h0m6 0h0m2 0h0m9 0h0m23 0h0m10 0h0m2 0h0m15 0h0m4 0h0m90 0h0m74 0h0m75 0h0m62 0h0m3 0h0m82 0h0m34 0h0m39 0h0m1 0h0m32 0h0m16 0h0m45 0h0m7 0h0m45 0h0m18 0h0m2 0h0m71 0h0m27 0h0m49 0h0m26 0h0m17 0h0m-949 1h0m58 0h0m2 0h0m13 0h0m36 0h0m28 0h0m14 0h0m9 0h0m4 0h0m35 0h0m61 0h0m16 0h0m17 0h0m84 0h0m1 0h0m121 0h0m77 0h0m34 0h0m23 0h0m49 0h0m35 0h0m31 0h0m14 0h0m151 0h0m-944 1h0m43 0h0m7 0h0m147 0h0m32 0h0m18 0h0m18 0h0m25 0h0m99 0h0m44 0h0m18 0h0m14 0h0m27 0h0m4 0h0m89 0h0m5 0h0m23 0h0m98 0h0m9 0h0m29 0h0m23 0h0m48 0h0m67 0h0m-849 1h0m43 0h0m18 0h0m94 0h0m156 0h0m8 0h0m28 0h0m6 0h0m34 0h0m7 0h0m70 0h0m1 0h0m7 0h0m52 0h0m51 0h0m30 0h0m10 0h0m76 0h0m3 0h0m17 0h0m5 0h0m11 0h0m13 0h0m23 0h0m5 0h0m25 0h0m32 0h0m11 0h0m14 0h0m6 0h0m49 0h0m3 0h0m35 0h0m2 0h0m-931 1h0m18 0h0m16 0h0m56 0h0m31 0h0m5 0h0m12 0h0m9 0h0m2 0h0m16 0h0m68 0h0m1 0h0m12 0h0m8 0h0m104 0h0m10 0h0m40 0h0m36 0h0m26 0h0m2 0h0m5 0h0m7 0h0m3 0h0m18 0h0m46 0h0m2 0h0m21 0h0m6 0h0m13 0h0m67 0h0m7 0h0m11 0h0m24 0h0m23 0h0m146 0h0m26 0h0m3 0h0m28 0h0m3 0h0m-950 1h0m8 0h0m11 0h0m14 0h0m75 0h0m11 0h0m50 0h0m43 0h0m84 0h0m9 0h0m107 0h0m46 0h0m22 0h0m6 0h0m61 0h0m45 0h0m14 0h0m18 0h0m88 0h0m120 0h0m24 0h0m7 0h0m1 0h0m-897 1h0m66 0h0m73 0h0m1 0h0m2 0h0m43 0h0m7 0h0m48 0h0m20 0h0m18 0h0m12 0h0m27 0h0m43 0h0m9 0h0m78 0h0m28 0h0m4 0h0m20 0h0m44 0h0m33 0h0m19 0h0m53 0h0m10 0h0m15 0h0m16 0h0m28 0h0m30 0h0m6 0h0m9 0h0m17 0h0m12 0h0m15 0h0m10 0h0m8 0h0m69 0h0m9 0h0m19 0h0m6 0h0m55 0h0m-964 1h0m114 0h0m8 0h0m51 0h0m38 0h0m31 0h0m14 0h0m24 0h0m15 0h0m185 0h0m36 0h0m37 0h0m12 0h0m19 0h0m44 0h0m2 0h0m6 0h0m24 0h0m10 0h0m64 0h0m147 0h0m33 0h0m-906 1h0m106 0h0m14 0h0m42 0h0m22 0h0m4 0h0m33 0h0m18 0h0m27 0h0m14 0h0m66 0h0m6 0h0m6 0h0m25 0h0m36 0h0m21 0h0m10 0h0m44 0h0m18 0h0m33 0h0m122 0h0m6 0h0m228 0h0m56 0h0m-976 1h0m47 0h0m25 0h0m23 0h0m44 0h0m215 0h0m1 0h0m15 0h0m56 0h0m119 0h0m91 0h0m12 0h0m32 0h0m3 0h0m57 0h0m142 0h0m56 0h0m-945 1h0m26 0h0m29 0h0m38 0h0m71 0h0m9 0h0m35 0h0m56 0h0m33 0h0m9 0h0m35 0h0m33 0h0m39 0h0m37 0h0m49 0h0m35 0h0m44 0h0m144 0h0m12 0h0m6 0h0m12 0h0m32 0h0m39 0h0m92 0h0m4 0h0m64 0h0m-982 1h0m48 0h0m121 0h0m15 0h0m325 0h0m7 0h0m71 0h0m95 0h0m156 0h0m43 0h0m30 0h0m29 0h0m11 0h0m-914 1h0m40 0h0m36 0h0m270 0h0m16 0h0m7 0h0m87 0h0m26 0h0m65 0h0m58 0h0m3 0h0m18 0h0m14 0h0m93 0h0m27 0h0m122 0h0m48 0h0m15 0h0m-948 1h0m155 0h0m40 0h0m4 0h0m37 0h0m54 0h0m17 0h0m36 0h0m47 0h0m30 0h0m24 0h0m18 0h0m151 0h0m20 0h0m4 0h0m75 0h0m4 0h0m62 0h0m8 0h0m19 0h0m74 0h0m38 0h0m-907 1h0m47 0h0m5 0h0m140 0h0m83 0h0m131 0h0m121 0h0m135 0h0m66 0h0m52 0h0m43 0h0m20 0h0m33 0h0m14 0h0m-917 1h0m21 0h0m9 0h0m53 0h0m48 0h0m73 0h0m32 0h0m121 0h0m149 0h0m27 0h0m133 0h0m4 0h0m70 0h0m102 0h0m1 0h0m38 0h0m32 0h0m23 0h0m13 0h0m-967 1h0m32 0h0m42 0h0m13 0h0m308 0h0m21 0h0m94 0h0m6 0h0m2 0h0m1 0h0m38 0h0m87 0h0m139 0h0m23 0h0m12 0h0m17 0h0m40 0h0m54 0h0m2 0h0m42 0h0m-952 1h0m25 0h0m6 0h0m16 0h0m5 0h0m10 0h0m63 0h0m32 0h0m54 0h0m32 0h0m8 0h0m15 0h0m43 0h0m94 0h0m3 0h0m36 0h0m29 0h0m12 0h0m17 0h0m10 0h0m25 0h0m22 0h0m12 0h0m13 0h0m113 0h0m100 0h0m14 0h0m17 0h0m6 0h0m25 0h0m15 0h0m68 0h0m9 0h0m-951 1h0m91 0h0m49 0h0m78 0h0m105 0h0m34 0h0m36 0h0m36 0h0m18 0h0m182 0h0m40 0h0m30 0h0m32 0h0m18 0h0m16 0h0m10 0h0m15 0h0m1 0h0m-810 1h0m20 0h0m43 0h0m28 0h0m23 0h0m58 0h0m97 0h0m31 0h0m11 0h0m23 0h0m36 0h0m28 0h0m95 0h0m13 0h0m4 0h0m12 0h0m142 0h0m49 0h0m95 0h0m13 0h0m41 0h0m82 0h0m-938 1h0m8 0h0m10 0h0m25 0h0m87 0h0m13 0h0m12 0h0m15 0h0m122 0h0m24 0h0m14 0h0m274 0h0m5 0h0m178 0h0m23 0h0m24 0h0m-823 1h0m33 0h0m42 0h0m14 0h0m62 0h0m38 0h0m64 0h0m43 0h0m11 0h0m48 0h0m4 0h0m3 0h0m3 0h0m58 0h0m4 0h0m31 0h0m1 0h0m59 0h0m280 0h0m10 0h0m10 0h0m43 0h0m14 0h0m65 0h0m-884 1h0m57 0h0m24 0h0m155 0h0m126 0h0m180 0h0m84 0h0m-652 1h0m38 0h0m9 0h0m55 0h0m25 0h0m81 0h0m147 0h0m155 0h0m21 0h0m64 0h0m50 0h0m5 0h0m40 0h0m77 0h0m166 0h0m3 0h0m-983 1h0m32 0h0m26 0h0m18 0h0m12 0h0m57 0h0m26 0h0m44 0h0m91 0h0m10 0h0m30 0h0m104 0h0m9 0h0m70 0h0m63 0h0m18 0h0m1 0h0m1 0h0m80 0h0m65 0h0m86 0h0m45 0h0m41 0h0m-924 1h0m88 0h0m8 0h0m54 0h0m111 0h0m21 0h0m78 0h0m33 0h0m69 0h0m31 0h0m67 0h0m65 0h0m69 0h0m22 0h0m45 0h0m169 0h0m-840 1h0m46 0h0m133 0h0m38 0h0m14 0h0m101 0h0m188 0h0m36 0h0m2 0h0m86 0h0m18 0h0m1 0h0m81 0h0m8 0h0m24 0h0m30 0h0m25 0h0m3 0h0m-854 1h0m74 0h0m10 0h0m35 0h0m178 0h0m94 0h0m84 0h0m81 0h0m27 0h0m15 0h0m43 0h0m4 0h0m108 0h0m-797 1h0m1 0h0m16 0h0m24 0h0m44 0h0m208 0h0m71 0h0m87 0h0m208 0h0m34 0h0m118 0h0m11 0h0m130 0h0m-983 1h0m169 0h0m24 0h0m9 0h0m60 0h0m14 0h0m34 0h0m112 0h0m57 0h0m20 0h0m145 0h0m52 0h0m28 0h0m7 0h0m8 0h0m122 0h0m24 0h0m91 0h0m2 0h0m-876 1h0m5 0h0m14 0h0m31 0h0m41 0h0m2 0h0m51 0h0m44 0h0m23 0h0m13 0h0m17 0h0m13 0h0m123 0h0m22 0h0m130 0h0m22 0h0m33 0h0m15 0h0m109 0h0m104 0h0m51 0h0m-795 1h0m127 0h0m211 0h0m18 0h0m219 0h0m32 0h0m19 0h0m80 0h0m43 0h0m64 0h0m-958 1h0m71 0h0m49 0h0m56 0h0m22 0h0m24 0h0m291 0h0m18 0h0m15 0h0m26 0h0m9 0h0m63 0h0m12 0h0m111 0h0m23 0h0m5 0h0m158 0h0m-921 1h0m21 0h0m88 0h0m67 0h0m64 0h0m50 0h0m72 0h0m42 0h0m31 0h0m33 0h0m31 0h0m6 0h0m46 0h0m11 0h0m1 0h0m27 0h0m93 0h0m20 0h0m72 0h0m60 0h0m19 0h0m-831 1h0m33 0h0m68 0h0m24 0h0m12 0h0m22 0h0m36 0h0m96 0h0m15 0h0m191 0h0m4 0h0m53 0h0m209 0h0m51 0h0m79 0h0m7 0h0m-925 1h0m56 0h0m49 0h0m12 0h0m392 0h0m43 0h0m23 0h0m82 0h0m23 0h0m156 0h0m39 0h0m7 0h0m28 0h0m-905 1h0m43 0h0m2 0h0m69 0h0m82 0h0m54 0h0m254 0h0m20 0h0m36 0h0m81 0h0m48 0h0m41 0h0m21 0h0m-750 1h0m84 0h0m38 0h0m79 0h0m12 0h0m3 0h0m313 0h0m24 0h0m11 0h0m60 0h0m12 0h0m36 0h0m12 0h0m60 0h0m25 0h0m53 0h0m41 0h0m-918 1h0m30 0h0m9 0h0m36 0h0m202 0h0m6 0h0m12 0h0m19 0h0m8 0h0m43 0h0m55 0h0m147 0h0m29 0h0m60 0h0m19 0h0m18 0h0m28 0h0m32 0h0m123 0h0m-786 1h0m165 0h0m86 0h0m85 0h0m18 0h0m56 0h0m115 0h0m84 0h0m96 0h0m161 0h0m14 0h0m-881 1h0m31 0h0m105 0h0m34 0h0m97 0h0m74 0h0m39 0h0m1 0h0m58 0h0m4 0h0m58 0h0m66 0h0m16 0h0m5 0h0m274 0h0m-868 1h0m2 0h0m109 0h0m101 0h0m161 0h0m91 0h0m24 0h0m16 0h0m77 0h0m80 0h0m104 0h0m46 0h0m41 0h0m-938 1h0m33 0h0m12 0h0m59 0h0m1 0h0m79 0h0m32 0h0m37 0h0m7 0h0m85 0h0m7 0h0m70 0h0m32 0h0m12 0h0m255 0h0m29 0h0m52 0h0m-746 1h0m240 0h0m158 0h0m2 0h0m56 0h0m213 0h0m7 0h0m42 0h0m18 0h0m44 0h0m57 0h0m41 0h0m4 0h0m-809 1h0m166 0h0m29 0h0m586 0h0m61 0h0m-919 1h0m56 0h0m8 0h0m27 0h0m283 0h0m80 0h0m110 0h0m166 0h0m3 0h0m194 0h0m1 0h0m-944 1h0m290 0h0m25 0h0m48 0h0m33 0h0m51 0h0m129 0h0m39 0h0m70 0h0m-724 1h0m162 0h0m99 0h0m130 0h0m10 0h0m87 0h0m17 0h0m10 0h0m18 0h0m98 0h0m33 0h0m114 0h0m16 0h0m95 0h0m14 0h0m-787 1h0m9 0h0m47 0h0m350 0h0m226 0h0m-700 1h0m51 0h0m75 0h0m16 0h0m194 0h0m177 0h0m209 0h0m1 0h0m111 0h0m7 0h0m21 0h0m-831 1h0m29 0h0m29 0h0m5 0h0m24 0h0m123 0h0m53 0h0m76 0h0m83 0h0m101 0h0m56 0h0m13 0h0m6 0h0m30 0h0m1 0h0m-692 1h0m37 0h0m65 0h0m15 0h0m88 0h0m14 0h0m32 0h0m62 0h0m10 0h0m163 0h0m47 0h0m339 0h0m35 0h0m-903 1h0m15 0h0m84 0h0m73 0h0m26 0h0m160 0h0m12 0h0m42 0h0m118 0h0m33 0h0m119 0h0m30 0h0m40 0h0m103 0h0m35 0h0m59 0h0m-911 1h0m54 0h0m168 0h0m4 0h0m91 0h0m27 0h0m218 0h0m95 0h0m2 0h0m25 0h0m23 0h0m59 0h0m125 0h0m23 0h0m-891 1h0m204 0h0m152 0h0m44 0h0m65 0h0m31 0h0m175 0h0m33 0h0m109 0h0m-738 1h0m97 0h0m19 0h0m81 0h0m60 0h0m107 0h0m1 0h0m53 0h0m21 0h0m12 0h0m5 0h0m18 0h0m-534 1h0m370 0h0m212 0h0m58 0h0m148 0h0m86 0h0m-960 1h0m41 0h0m194 0h0m21 0h0m89 0h0m24 0h0m67 0h0m98 0h0m137 0h0m11 0h0m146 0h0m-811 1h0m50 0h0m3 0h0m25 0h0m31 0h0m44 0h0m64 0h0m61 0h0m25 0h0m132 0h0m77 0h0m26 0h0m2 0h0m47 0h0m9 0h0m-612 1h0m38 0h0m103 0h0m62 0h0m71 0h0m9 0h0m171 0h0m139 0h0m105 0h0m91 0h0m98 0h0m56 0h0m-837 1h0m236 0h0m62 0h0m6 0h0m90 0h0m3 0h0m107 0h0m32 0h0m38 0h0m27 0h0m62 0h0m-587 1h0m34 0h0m351 0h0m23 0h0m7 0h0m63 0h0m265 0h0m6 0h0m10 0h0m-800 1h0m190 0h0m31 0h0m27 0h0m325 0h0m48 0h0m24 0h0m182 0h0m-947 1h0m4 0h0m252 0h0m56 0h0m350 0h0m183 0h0m-747 1h0m135 0h0m9 0h0m71 0h0m117 0h0m180 0h0m31 0h0m139 0h0m127 0h0m5 0h0m-777 1h0m28 0h0m81 0h0m21 0h0m112 0h0m71 0h0m356 0h0m-644 1h0m24 0h0m17 0h0m134 0h0m30 0h0m9 0h0m137 0h0m16 0h0m75 0h0m131 0h0m13 0h0m-700 1h0m4 0h0m7 0h0m172 0h0m57 0h0m220 0h0m39 0h0m78 0h0m17 0h0m64 0h0m120 0h0m31 0h0m82 0h0m-925 1h0m209 0h0m27 0h0m166 0h0m65 0h0m162 0h0m56 0h0m60 0h0m33 0h0m61 0h0m-756 1h0m273 0h0m9 0h0m47 0h0m194 0h0m71 0h0m27 0h0m70 0h0m-698 1h0m8 0h0m64 0h0m198 0h0m26 0h0m300 0h0m17 0h0m162 0h0m-889 1h0m121 0h0m336 0h0m70 0h0m13 0h0m5 0h0m32 0h0m91 0h0m-630 1h0m8 0h0m76 0h0m240 0h0m70 0h0m7 0h0m171 0h0m126 0h0m99 0h0m-615 1h0m45 0h0m62 0h0m8 0h0m20 0h0m127 0h0m184 0h0m-605 1h0m281 0h0m90 0h0m38 0h0m156 0h0m42 0h0m18 0h0m26 0h0m137 0h0m-460 1h0m56 0h0m190 0h0m119 0h0m118 0h0m105 0h0m-857 1h0m530 0h0m206 0h0m-560 1h0m290 0h0m48 0h0m-586 1h0m12 0h0m64 0h0m321 0h0m259 0h0m70 0h0m-685 1h0m524 0h0m-437 1h0m268 0h0m244 0h0m-666 1h0m340 0h0m88 0h0m395 0h0m42 0h0m10 0h0m-805 1h0m228 0h0m241 0h0m66 0h0m-530 1h0m129 0h0m159 0h0m21 0h0m36 0h0m-389 1h0m173 0h0m20 0h0m725 0h0m-448 1h0m135 0h0m247 0h0m-875 1h0m202 0h0m73 0h0m14 0h0m404 0h0m-563 1h0m168 0h0m6 0h0m143 0h0m182 0h0m8 0h0m84 0h0m138 0h0m-715 1h0m166 0h0m-211 1h0m76 0h0m255 0h0m367 0h0m66 0h0m-814 1h0m319 0h0m331 0h0m-330 1h0m-139 1h0m75 0h0m19 0h0m278 0h0m32 0h0m24 0h0m-559 1h0m498 0h0m222 0h0m39 0h0m-723 1h0m47 0h0m135 0h0m529 0h0m30 0h0m4 0h0m-707 1h0m132 0h0m171 0h0m54 0h0m121 0h0m2 0h0m-226 1h0m288 0h0m186 0h0m37 0h0m-863 1h0m127 0h0m683 0h0m-790 1h0m130 0h0m80 0h0m36 0h0m91 0h0m123 0h0m2 0h0m-560 1h0m450 0h0m414 0h0m-882 1h0m100 0h0m374 0h0m36 0h0m243 0h0m171 0h0m-724 2h0m23 0h0m171 0h0m58 0h0m443 0h0m-819 1h0m249 0h0m-321 1h0m390 0h0m106 0h0m27 0h0m-115 1h0m447 0h0m-160 1h0m30 0h0m110 0h0m-776 1h0m48 0h0m15 0h0m25 0h0m581 0h0m-750 1h0m69 0h0m375 0h0m368 0h0m25 0h0m97 0h0m-736 1h0m25 0h0m59 0h0m289 0h0m324 0h0m-650 1h0m268 0h0m81 0h0m-267 1h0m577 0h0m53 0h0m24 0h0m-974 1h0m71 0h0m65 0h0m382 0h0m79 0h0m13 0h0m52 0h0m205 0h0m-844 1h0m243 0h0m-196 1h0m171 0h0m186 0h0m174 0h0m15 0h0m126 0h0m-667 1h0m85 0h0m346 0h0m260 0h0m-693 1h0m46 0h0m212 0h0m154 0h0m112 0h0m313 0h0m-344 1h0m282 0h0m-443 1h0m122 0h0m212 0h0m-736 1h0m378 0h0m433 0h0m-767 1h0m316 0h0m573 0h0m-769 1h0m30 0h0m338 0h0m6 0h0m290 1h0m-420 1h0m6 0h0m176 0h0m-540 1h0m220 0h0m56 0h0m424 0h0m199 0h0m-418 1h0m243 0h0m186 1h0m-459 1h0m-89 1h0m139 0h0m355 0h0m54 1h0m-948 2h0m376 0h0m236 1h0m-501 3h0m222 0h0m31 0h0m51 0h0m525 1h0m-536 1h0m464 0h0m-519 1h0m47 0h0m43 0h0m219 0h0m253 0h0m11 0h0m-734 1h0m773 0h0m-970 1h0m257 0h0m63 0h0m371 2h0m28 0h0m-548 1h0m375 2h0m223 8h0m-238 5h0m-191 3h0m581 0h0m-77 3h0m-775 7h0m552 21h0m15 3h0m315 0h0m-923 122h0m66 113h0m417 31h0m-123 31h0" fill="none" stroke="#000" stroke-width="3.5" stroke-linecap="round"/></g><path clip-path="url(#c1)" d="M281.9 580.45V47.6M369 580.45V47.6" stroke="#006400" stroke-width="2.25" stroke-dasharray="9 9" stroke-linecap="round" fill="none"/><path clip-path="url(#c1)" d="M59.5 267.8H592.4" stroke="#d62728" stroke-width="2.25" stroke-dasharray="9 9" stroke-linecap="round" fill="none"/><rect x="59.5" y="47.6" width="532.9" height="532.85" fill="none" stroke="#000" stroke-opacity=".78" stroke-linejoin="round" stroke-width=".75"/><path d="M126 580.45H524.8M126 580.45v6M225.7 580.45v6M325.4 580.45v6M425.1 580.45v6M524.8 580.45v6" stroke="#000" stroke-opacity=".78" stroke-width=".75" fill="none"/><text x="126" y="602.15" font-size="10" text-anchor="middle">-400</text><text x="225.7" y="602.15" font-size="10" text-anchor="middle">-200</text><text x="325.4" y="602.15" font-size="10" text-anchor="middle">0</text><text x="425.1" y="602.15" font-size="10" text-anchor="middle">200</text><text x="524.8" y="602.15" font-size="10" text-anchor="middle">400</text><path d="M59.5 452.85V67.5M59.5 452.85h-6M59.5 324.4h-6M59.5 195.95h-6M59.5 67.5h-6" stroke="#000" stroke-opacity=".78" stroke-width=".75" fill="none"/><text x="45.2" y="452.85" font-size="10" text-anchor="middle" transform="rotate(-90 45.2 452.85)">70</text><text x="45.2" y="324.4" font-size="10" text-anchor="middle" transform="rotate(-90 45.2 324.4)">80</text><text x="45.2" y="195.95" font-size="10" text-anchor="middle" transform="rotate(-90 45.2 195.95)">90</text><text x="45.2" y="67.5" font-size="10" text-anchor="middle" transform="rotate(-90 45.2 67.5)">100</text><!--P2--><defs><filter id="hf" x="-5%" y="-5%" width="110%" height="110%" color-interpolation-filters="sRGB"><feGaussianBlur stdDeviation="3.8 3.2"/><feComponentTransfer><feFuncR type="table" tableValues="1 0 1"/><feFuncG type="table" tableValues="1 0 0"/><feFuncB type="table" tableValues="1 1 0"/><feFuncA type="linear" slope="0" intercept="1"/></feComponentTransfer></filter><clipPath id="c2"><rect x="699.5" y="47.6" width="532.9" height="532.85"/></clipPath></defs><g clip-path="url(#c2)"><g filter="url(#hf)" shape-rendering="crispEdges"><rect x="681.5" y="32.6" width="570" height="565" fill="#000"/><path fill="#010101" d="M735.5 32.6h18v5h-18zM765.5 32.6h12v5h-12zM789.5 32.6h18v5h-18zM897.5 32.6h12v5h-12zM1011.5 32.6h12v5h-12zM1059.5 32.6h12v5h-12zM1143.5 32.6h24v5h-24zM735.5 37.6h18v5h-18zM765.5 37.6h12v5h-12zM789.5 37.6h18v5h-18zM897.5 37.6h12v5h-12zM1011.5 37.6h12v5h-12zM1059.5 37.6h12v5h-12zM1143.5 37.6h24v5h-24zM735.5 42.6h18v5h-18zM765.5 42.6h12v5h-12zM789.5 42.6h18v5h-18zM897.5 42.6h12v5h-12zM1011.5 42.6h12v5h-12zM1059.5 42.6h12v5h-12zM1143.5 42.6h24v5h-24zM735.5 47.6h42v5h-42zM789.5 47.6h18v5h-18zM891.5 47.6h18v5h-18zM1011.5 47.6h18v5h-18zM1053.5 47.6h18v5h-18zM1107.5 47.6h6v5h-6zM1143.5 47.6h24v5h-24zM741.5 52.6h36v5h-36zM789.5 52.6h18v5h-18zM885.5 52.6h18v5h-18zM1023.5 52.6h12v5h-12zM1047.5 52.6h30v5h-30zM1101.5 52.6h24v5h-24zM1149.5 52.6h30v5h-30zM705.5 57.6h18v5h-18zM735.5 57.6h24v5h-24zM771.5 57.6h12v5h-12zM789.5 57.6h18v5h-18zM825.5 57.6h48v5h-48zM879.5 57.6h24v5h-24zM1029.5 57.6h12v5h-12zM1047.5 57.6h30v5h-30zM1095.5 57.6h36v5h-36zM1161.5 57.6h30v5h-30zM1203.5 57.6h18v5h-18zM681.5 62.6h72v5h-72zM771.5 62.6h120v5h-120zM1035.5 62.6h48v5h-48zM1089.5 62.6h24v5h-24zM1119.5 62.6h24v5h-24zM1155.5 62.6h18v5h-18zM1185.5 62.6h42v5h-42zM681.5 67.6h24v5h-24zM711.5 67.6h30v5h-30zM777.5 67.6h48v5h-48zM1041.5 67.6h12v5h-12zM1077.5 67.6h24v5h-24zM1125.5 67.6h42v5h-42zM1191.5 67.6h18v5h-18zM1221.5 67.6h6v5h-6zM681.5 72.6h18v5h-18zM717.5 72.6h12v5h-12zM801.5 72.6h6v5h-6zM1083.5 72.6h12v5h-12zM1125.5 72.6h42v5h-42zM1221.5 72.6h30v5h-30zM1125.5 77.6h42v5h-42zM1227.5 77.6h24v5h-24zM1125.5 82.6h12v5h-12zM1227.5 82.6h24v5h-24zM1233.5 87.6h18v5h-18zM681.5 347.6h18v5h-18zM681.5 352.6h24v5h-24zM1233.5 352.6h18v5h-18zM681.5 357.6h24v5h-24zM1119.5 357.6h30v5h-30zM1209.5 357.6h12v5h-12zM1227.5 357.6h24v5h-24zM681.5 362.6h24v5h-24zM849.5 362.6h18v5h-18zM1113.5 362.6h36v5h-36zM1209.5 362.6h42v5h-42zM681.5 367.6h24v5h-24zM711.5 367.6h18v5h-18zM795.5 367.6h12v5h-12zM843.5 367.6h30v5h-30zM897.5 367.6h12v5h-12zM933.5 367.6h12v5h-12zM1005.5 367.6h6v5h-6zM1041.5 367.6h12v5h-12zM1071.5 367.6h24v5h-24zM1113.5 367.6h54v5h-54zM1209.5 367.6h42v5h-42zM681.5 372.6h54v5h-54zM747.5 372.6h18v5h-18zM777.5 372.6h30v5h-30zM825.5 372.6h36v5h-36zM867.5 372.6h6v5h-6zM891.5 372.6h18v5h-18zM933.5 372.6h36v5h-36zM999.5 372.6h18v5h-18zM1035.5 372.6h60v5h-60zM1113.5 372.6h60v5h-60zM1215.5 372.6h36v5h-36zM681.5 377.6h174v5h-174zM867.5 377.6h42v5h-42zM933.5 377.6h42v5h-42zM999.5 377.6h48v5h-48zM1089.5 377.6h12v5h-12zM1107.5 377.6h18v5h-18zM1131.5 377.6h72v5h-72zM1215.5 377.6h36v5h-36zM681.5 382.6h36v5h-36zM729.5 382.6h18v5h-18zM765.5 382.6h54v5h-54zM837.5 382.6h18v5h-18zM867.5 382.6h48v5h-48zM933.5 382.6h18v5h-18zM963.5 382.6h78v5h-78zM1095.5 382.6h30v5h-30zM1173.5 382.6h78v5h-78zM807.5 387.6h6v5h-6zM837.5 387.6h12v5h-12zM873.5 387.6h48v5h-48zM927.5 387.6h18v5h-18zM975.5 387.6h30v5h-30zM1191.5 387.6h42v5h-42zM891.5 392.6h48v5h-48zM1203.5 392.6h6v5h-6z"/><path fill="#020202" d="M909.5 32.6h12v5h-12zM1005.5 32.6h6v5h-6zM909.5 37.6h12v5h-12zM1005.5 37.6h6v5h-6zM909.5 42.6h12v5h-12zM1005.5 42.6h6v5h-6zM909.5 47.6h12v5h-12zM903.5 52.6h12v5h-12zM1011.5 52.6h12v5h-12zM759.5 57.6h12v5h-12zM903.5 57.6h6v5h-6zM1023.5 57.6h6v5h-6zM753.5 62.6h18v5h-18zM891.5 62.6h18v5h-18zM1029.5 62.6h6v5h-6zM1113.5 62.6h6v5h-6zM1173.5 62.6h12v5h-12zM705.5 67.6h6v5h-6zM741.5 67.6h18v5h-18zM771.5 67.6h6v5h-6zM825.5 67.6h78v5h-78zM1035.5 67.6h6v5h-6zM1053.5 67.6h24v5h-24zM1101.5 67.6h24v5h-24zM1167.5 67.6h24v5h-24zM1209.5 67.6h12v5h-12zM699.5 72.6h18v5h-18zM729.5 72.6h30v5h-30zM771.5 72.6h30v5h-30zM807.5 72.6h24v5h-24zM861.5 72.6h6v5h-6zM1041.5 72.6h42v5h-42zM1095.5 72.6h30v5h-30zM1167.5 72.6h6v5h-6zM1185.5 72.6h36v5h-36zM681.5 77.6h48v5h-48zM777.5 77.6h12v5h-12zM795.5 77.6h30v5h-30zM1089.5 77.6h36v5h-36zM1167.5 77.6h6v5h-6zM1197.5 77.6h30v5h-30zM681.5 82.6h18v5h-18zM795.5 82.6h18v5h-18zM1095.5 82.6h30v5h-30zM1137.5 82.6h36v5h-36zM1209.5 82.6h18v5h-18zM1107.5 87.6h30v5h-30zM1209.5 87.6h24v5h-24zM1125.5 92.6h6v5h-6zM1209.5 92.6h42v5h-42zM1227.5 97.6h24v5h-24zM681.5 342.6h24v5h-24zM699.5 347.6h6v5h-6zM1137.5 347.6h12v5h-12zM1155.5 347.6h6v5h-6zM1197.5 347.6h6v5h-6zM1227.5 347.6h24v5h-24zM705.5 352.6h6v5h-6zM777.5 352.6h18v5h-18zM807.5 352.6h6v5h-6zM861.5 352.6h6v5h-6zM963.5 352.6h18v5h-18zM1119.5 352.6h48v5h-48zM1191.5 352.6h42v5h-42zM705.5 357.6h18v5h-18zM777.5 357.6h36v5h-36zM843.5 357.6h30v5h-30zM903.5 357.6h6v5h-6zM927.5 357.6h6v5h-6zM957.5 357.6h78v5h-78zM1107.5 357.6h12v5h-12zM1149.5 357.6h24v5h-24zM1197.5 357.6h12v5h-12zM1221.5 357.6h6v5h-6zM705.5 362.6h54v5h-54zM777.5 362.6h36v5h-36zM831.5 362.6h18v5h-18zM867.5 362.6h6v5h-6zM891.5 362.6h24v5h-24zM921.5 362.6h24v5h-24zM957.5 362.6h102v5h-102zM1071.5 362.6h42v5h-42zM1149.5 362.6h24v5h-24zM1197.5 362.6h12v5h-12zM705.5 367.6h6v5h-6zM729.5 367.6h66v5h-66zM807.5 367.6h36v5h-36zM873.5 367.6h6v5h-6zM885.5 367.6h12v5h-12zM909.5 367.6h24v5h-24zM945.5 367.6h60v5h-60zM1011.5 367.6h30v5h-30zM1053.5 367.6h18v5h-18zM1095.5 367.6h18v5h-18zM1167.5 367.6h12v5h-12zM1197.5 367.6h12v5h-12zM735.5 372.6h12v5h-12zM765.5 372.6h12v5h-12zM807.5 372.6h18v5h-18zM873.5 372.6h18v5h-18zM909.5 372.6h24v5h-24zM969.5 372.6h30v5h-30zM1017.5 372.6h18v5h-18zM1095.5 372.6h18v5h-18zM1173.5 372.6h42v5h-42zM909.5 377.6h24v5h-24zM975.5 377.6h24v5h-24zM1101.5 377.6h6v5h-6zM1203.5 377.6h12v5h-12zM915.5 382.6h18v5h-18zM921.5 387.6h6v5h-6z"/><path fill="#030303" d="M921.5 32.6h6v5h-6zM921.5 37.6h6v5h-6zM921.5 42.6h6v5h-6zM921.5 47.6h6v5h-6zM1005.5 47.6h6v5h-6zM915.5 52.6h6v5h-6zM909.5 57.6h6v5h-6zM1017.5 57.6h6v5h-6zM1023.5 62.6h6v5h-6zM759.5 67.6h12v5h-12zM903.5 67.6h6v5h-6zM1029.5 67.6h6v5h-6zM759.5 72.6h12v5h-12zM831.5 72.6h30v5h-30zM867.5 72.6h36v5h-36zM1035.5 72.6h6v5h-6zM1173.5 72.6h12v5h-12zM729.5 77.6h48v5h-48zM789.5 77.6h6v5h-6zM825.5 77.6h12v5h-12zM855.5 77.6h12v5h-12zM1041.5 77.6h30v5h-30zM1083.5 77.6h6v5h-6zM1173.5 77.6h24v5h-24zM699.5 82.6h36v5h-36zM777.5 82.6h18v5h-18zM813.5 82.6h18v5h-18zM1089.5 82.6h6v5h-6zM1173.5 82.6h6v5h-6zM1197.5 82.6h12v5h-12zM681.5 87.6h24v5h-24zM789.5 87.6h36v5h-36zM1095.5 87.6h12v5h-12zM1137.5 87.6h42v5h-42zM1203.5 87.6h6v5h-6zM681.5 92.6h18v5h-18zM789.5 92.6h24v5h-24zM1101.5 92.6h24v5h-24zM1131.5 92.6h6v5h-6zM1161.5 92.6h12v5h-12zM1203.5 92.6h6v5h-6zM1125.5 97.6h6v5h-6zM1209.5 97.6h18v5h-18zM1227.5 102.6h24v5h-24zM1233.5 107.6h18v5h-18zM681.5 332.6h18v5h-18zM681.5 337.6h24v5h-24zM1155.5 337.6h12v5h-12zM705.5 342.6h6v5h-6zM1137.5 342.6h30v5h-30zM1191.5 342.6h12v5h-12zM1227.5 342.6h24v5h-24zM705.5 347.6h12v5h-12zM777.5 347.6h42v5h-42zM861.5 347.6h12v5h-12zM957.5 347.6h24v5h-24zM1125.5 347.6h12v5h-12zM1149.5 347.6h6v5h-6zM1161.5 347.6h12v5h-12zM1191.5 347.6h6v5h-6zM1203.5 347.6h24v5h-24zM711.5 352.6h12v5h-12zM729.5 352.6h30v5h-30zM795.5 352.6h12v5h-12zM813.5 352.6h48v5h-48zM867.5 352.6h6v5h-6zM897.5 352.6h12v5h-12zM927.5 352.6h6v5h-6zM957.5 352.6h6v5h-6zM981.5 352.6h54v5h-54zM1101.5 352.6h18v5h-18zM1167.5 352.6h6v5h-6zM1185.5 352.6h6v5h-6zM723.5 357.6h42v5h-42zM771.5 357.6h6v5h-6zM813.5 357.6h30v5h-30zM873.5 357.6h6v5h-6zM891.5 357.6h12v5h-12zM909.5 357.6h18v5h-18zM933.5 357.6h6v5h-6zM951.5 357.6h6v5h-6zM1035.5 357.6h18v5h-18zM1071.5 357.6h36v5h-36zM1173.5 357.6h6v5h-6zM1191.5 357.6h6v5h-6zM759.5 362.6h18v5h-18zM813.5 362.6h18v5h-18zM873.5 362.6h6v5h-6zM885.5 362.6h6v5h-6zM915.5 362.6h6v5h-6zM945.5 362.6h12v5h-12zM1059.5 362.6h12v5h-12zM1173.5 362.6h6v5h-6zM1191.5 362.6h6v5h-6zM879.5 367.6h6v5h-6zM1179.5 367.6h18v5h-18z"/><path fill="#040404" d="M999.5 32.6h6v5h-6zM999.5 37.6h6v5h-6zM999.5 42.6h6v5h-6zM1005.5 52.6h6v5h-6zM915.5 57.6h6v5h-6zM1011.5 57.6h6v5h-6zM909.5 62.6h6v5h-6zM1017.5 62.6h6v5h-6zM909.5 67.6h6v5h-6zM1023.5 67.6h6v5h-6zM903.5 72.6h6v5h-6zM1029.5 72.6h6v5h-6zM837.5 77.6h18v5h-18zM867.5 77.6h30v5h-30zM1035.5 77.6h6v5h-6zM1071.5 77.6h12v5h-12zM735.5 82.6h42v5h-42zM831.5 82.6h6v5h-6zM849.5 82.6h18v5h-18zM1041.5 82.6h30v5h-30zM1083.5 82.6h6v5h-6zM1179.5 82.6h18v5h-18zM705.5 87.6h30v5h-30zM753.5 87.6h36v5h-36zM825.5 87.6h12v5h-12zM855.5 87.6h12v5h-12zM1053.5 87.6h6v5h-6zM1089.5 87.6h6v5h-6zM1179.5 87.6h24v5h-24zM699.5 92.6h6v5h-6zM783.5 92.6h6v5h-6zM813.5 92.6h18v5h-18zM1089.5 92.6h12v5h-12zM1137.5 92.6h12v5h-12zM1155.5 92.6h6v5h-6zM1173.5 92.6h30v5h-30zM681.5 97.6h18v5h-18zM783.5 97.6h48v5h-48zM1089.5 97.6h36v5h-36zM1131.5 97.6h6v5h-6zM1161.5 97.6h48v5h-48zM681.5 102.6h18v5h-18zM783.5 102.6h12v5h-12zM807.5 102.6h18v5h-18zM1089.5 102.6h6v5h-6zM1125.5 102.6h6v5h-6zM1173.5 102.6h18v5h-18zM1197.5 102.6h30v5h-30zM813.5 107.6h12v5h-12zM1203.5 107.6h12v5h-12zM1227.5 107.6h6v5h-6zM681.5 112.6h18v5h-18zM1227.5 112.6h24v5h-24zM681.5 117.6h18v5h-18zM1227.5 117.6h24v5h-24zM681.5 122.6h18v5h-18zM1233.5 122.6h18v5h-18zM681.5 127.6h18v5h-18zM681.5 132.6h18v5h-18zM681.5 137.6h18v5h-18zM681.5 142.6h18v5h-18zM699.5 332.6h6v5h-6zM1155.5 332.6h12v5h-12zM705.5 337.6h6v5h-6zM807.5 337.6h24v5h-24zM1137.5 337.6h18v5h-18zM1167.5 337.6h6v5h-6zM1191.5 337.6h12v5h-12zM1227.5 337.6h24v5h-24zM711.5 342.6h6v5h-6zM783.5 342.6h48v5h-48zM861.5 342.6h12v5h-12zM957.5 342.6h18v5h-18zM1125.5 342.6h12v5h-12zM1167.5 342.6h6v5h-6zM1185.5 342.6h6v5h-6zM1203.5 342.6h24v5h-24zM717.5 347.6h36v5h-36zM819.5 347.6h18v5h-18zM855.5 347.6h6v5h-6zM873.5 347.6h6v5h-6zM897.5 347.6h12v5h-12zM927.5 347.6h6v5h-6zM951.5 347.6h6v5h-6zM981.5 347.6h48v5h-48zM1041.5 347.6h12v5h-12zM1101.5 347.6h24v5h-24zM1173.5 347.6h6v5h-6zM1185.5 347.6h6v5h-6zM723.5 352.6h6v5h-6zM759.5 352.6h6v5h-6zM771.5 352.6h6v5h-6zM873.5 352.6h6v5h-6zM891.5 352.6h6v5h-6zM909.5 352.6h18v5h-18zM933.5 352.6h6v5h-6zM951.5 352.6h6v5h-6zM1035.5 352.6h18v5h-18zM1065.5 352.6h36v5h-36zM1173.5 352.6h12v5h-12zM765.5 357.6h6v5h-6zM879.5 357.6h12v5h-12zM939.5 357.6h12v5h-12zM1053.5 357.6h18v5h-18zM1179.5 357.6h12v5h-12zM879.5 362.6h6v5h-6zM1179.5 362.6h12v5h-12z"/><path fill="#050505" d="M927.5 32.6h6v5h-6zM927.5 37.6h6v5h-6zM927.5 42.6h6v5h-6zM999.5 47.6h6v5h-6zM921.5 52.6h6v5h-6zM1011.5 62.6h6v5h-6zM1017.5 67.6h6v5h-6zM897.5 77.6h6v5h-6zM837.5 82.6h12v5h-12zM867.5 82.6h12v5h-12zM885.5 82.6h12v5h-12zM1035.5 82.6h6v5h-6zM1071.5 82.6h12v5h-12zM735.5 87.6h18v5h-18zM837.5 87.6h18v5h-18zM867.5 87.6h6v5h-6zM1041.5 87.6h12v5h-12zM1059.5 87.6h12v5h-12zM1083.5 87.6h6v5h-6zM705.5 92.6h78v5h-78zM831.5 92.6h36v5h-36zM1053.5 92.6h18v5h-18zM1083.5 92.6h6v5h-6zM1149.5 92.6h6v5h-6zM699.5 97.6h18v5h-18zM753.5 97.6h18v5h-18zM777.5 97.6h6v5h-6zM831.5 97.6h30v5h-30zM1083.5 97.6h6v5h-6zM1137.5 97.6h24v5h-24zM699.5 102.6h6v5h-6zM777.5 102.6h6v5h-6zM795.5 102.6h12v5h-12zM825.5 102.6h30v5h-30zM1083.5 102.6h6v5h-6zM1095.5 102.6h30v5h-30zM1131.5 102.6h18v5h-18zM1155.5 102.6h18v5h-18zM1191.5 102.6h6v5h-6zM681.5 107.6h24v5h-24zM777.5 107.6h36v5h-36zM825.5 107.6h12v5h-12zM1083.5 107.6h24v5h-24zM1173.5 107.6h30v5h-30zM1215.5 107.6h12v5h-12zM699.5 112.6h6v5h-6zM735.5 112.6h6v5h-6zM777.5 112.6h18v5h-18zM807.5 112.6h30v5h-30zM1089.5 112.6h12v5h-12zM1179.5 112.6h12v5h-12zM1203.5 112.6h12v5h-12zM699.5 117.6h6v5h-6zM735.5 117.6h12v5h-12zM783.5 117.6h6v5h-6zM813.5 117.6h24v5h-24zM1095.5 117.6h6v5h-6zM1179.5 117.6h12v5h-12zM699.5 122.6h6v5h-6zM735.5 122.6h12v5h-12zM1179.5 122.6h12v5h-12zM1227.5 122.6h6v5h-6zM699.5 127.6h6v5h-6zM735.5 127.6h18v5h-18zM1227.5 127.6h24v5h-24zM699.5 132.6h6v5h-6zM735.5 132.6h18v5h-18zM1233.5 132.6h18v5h-18zM1233.5 137.6h18v5h-18zM1233.5 142.6h18v5h-18zM681.5 147.6h18v5h-18zM681.5 152.6h18v5h-18zM1233.5 167.6h18v5h-18zM1233.5 172.6h18v5h-18zM681.5 327.6h18v5h-18zM813.5 327.6h12v5h-12zM705.5 332.6h6v5h-6zM807.5 332.6h24v5h-24zM909.5 332.6h18v5h-18zM1149.5 332.6h6v5h-6zM1167.5 332.6h6v5h-6zM1209.5 332.6h6v5h-6zM1227.5 332.6h24v5h-24zM711.5 337.6h6v5h-6zM795.5 337.6h12v5h-12zM831.5 337.6h6v5h-6zM861.5 337.6h18v5h-18zM891.5 337.6h48v5h-48zM957.5 337.6h18v5h-18zM1041.5 337.6h12v5h-12zM1131.5 337.6h6v5h-6zM1185.5 337.6h6v5h-6zM1203.5 337.6h24v5h-24zM717.5 342.6h30v5h-30zM771.5 342.6h12v5h-12zM831.5 342.6h6v5h-6zM855.5 342.6h6v5h-6zM873.5 342.6h12v5h-12zM891.5 342.6h54v5h-54zM951.5 342.6h6v5h-6zM975.5 342.6h48v5h-48zM1041.5 342.6h12v5h-12zM1101.5 342.6h24v5h-24zM1173.5 342.6h12v5h-12zM753.5 347.6h12v5h-12zM771.5 347.6h6v5h-6zM837.5 347.6h18v5h-18zM879.5 347.6h18v5h-18zM909.5 347.6h18v5h-18zM933.5 347.6h18v5h-18zM1029.5 347.6h12v5h-12zM1053.5 347.6h6v5h-6zM1065.5 347.6h36v5h-36zM1179.5 347.6h6v5h-6zM765.5 352.6h6v5h-6zM879.5 352.6h12v5h-12zM939.5 352.6h12v5h-12zM1053.5 352.6h12v5h-12z"/><path fill="#060606" d="M927.5 47.6h6v5h-6zM1005.5 57.6h6v5h-6zM915.5 62.6h6v5h-6zM909.5 72.6h6v5h-6zM1017.5 72.6h12v5h-12zM903.5 77.6h6v5h-6zM1029.5 77.6h6v5h-6zM879.5 82.6h6v5h-6zM897.5 82.6h6v5h-6zM873.5 87.6h24v5h-24zM1035.5 87.6h6v5h-6zM1071.5 87.6h12v5h-12zM867.5 92.6h18v5h-18zM1041.5 92.6h12v5h-12zM1071.5 92.6h12v5h-12zM717.5 97.6h36v5h-36zM771.5 97.6h6v5h-6zM861.5 97.6h6v5h-6zM1059.5 97.6h24v5h-24zM705.5 102.6h18v5h-18zM729.5 102.6h48v5h-48zM855.5 102.6h6v5h-6zM1077.5 102.6h6v5h-6zM1149.5 102.6h6v5h-6zM705.5 107.6h12v5h-12zM729.5 107.6h48v5h-48zM837.5 107.6h18v5h-18zM1077.5 107.6h6v5h-6zM1107.5 107.6h66v5h-66zM705.5 112.6h6v5h-6zM729.5 112.6h6v5h-6zM741.5 112.6h24v5h-24zM771.5 112.6h6v5h-6zM795.5 112.6h12v5h-12zM837.5 112.6h6v5h-6zM1083.5 112.6h6v5h-6zM1101.5 112.6h6v5h-6zM1137.5 112.6h42v5h-42zM1191.5 112.6h12v5h-12zM1215.5 112.6h12v5h-12zM705.5 117.6h6v5h-6zM729.5 117.6h6v5h-6zM747.5 117.6h18v5h-18zM771.5 117.6h12v5h-12zM789.5 117.6h6v5h-6zM807.5 117.6h6v5h-6zM837.5 117.6h6v5h-6zM1089.5 117.6h6v5h-6zM1101.5 117.6h6v5h-6zM1143.5 117.6h18v5h-18zM1173.5 117.6h6v5h-6zM1191.5 117.6h24v5h-24zM1221.5 117.6h6v5h-6zM705.5 122.6h6v5h-6zM729.5 122.6h6v5h-6zM747.5 122.6h48v5h-48zM813.5 122.6h30v5h-30zM1095.5 122.6h12v5h-12zM1143.5 122.6h12v5h-12zM1173.5 122.6h6v5h-6zM1191.5 122.6h24v5h-24zM729.5 127.6h6v5h-6zM753.5 127.6h18v5h-18zM813.5 127.6h30v5h-30zM1173.5 127.6h24v5h-24zM753.5 132.6h18v5h-18zM813.5 132.6h30v5h-30zM1179.5 132.6h12v5h-12zM1227.5 132.6h6v5h-6zM699.5 137.6h6v5h-6zM735.5 137.6h36v5h-36zM813.5 137.6h6v5h-6zM831.5 137.6h12v5h-12zM1227.5 137.6h6v5h-6zM699.5 142.6h6v5h-6zM759.5 142.6h12v5h-12zM1227.5 142.6h6v5h-6zM699.5 147.6h6v5h-6zM759.5 147.6h12v5h-12zM1233.5 147.6h18v5h-18zM699.5 152.6h6v5h-6zM765.5 152.6h6v5h-6zM1233.5 152.6h18v5h-18zM681.5 157.6h18v5h-18zM1233.5 157.6h18v5h-18zM1227.5 162.6h24v5h-24zM1227.5 167.6h6v5h-6zM1227.5 172.6h6v5h-6zM1227.5 177.6h24v5h-24zM681.5 322.6h18v5h-18zM699.5 327.6h6v5h-6zM807.5 327.6h6v5h-6zM825.5 327.6h6v5h-6zM909.5 327.6h18v5h-18zM1155.5 327.6h18v5h-18zM1227.5 327.6h24v5h-24zM711.5 332.6h6v5h-6zM801.5 332.6h6v5h-6zM831.5 332.6h6v5h-6zM879.5 332.6h30v5h-30zM927.5 332.6h18v5h-18zM957.5 332.6h12v5h-12zM981.5 332.6h18v5h-18zM1041.5 332.6h12v5h-12zM1113.5 332.6h12v5h-12zM1131.5 332.6h18v5h-18zM1185.5 332.6h24v5h-24zM1215.5 332.6h6v5h-6zM717.5 337.6h6v5h-6zM729.5 337.6h18v5h-18zM771.5 337.6h24v5h-24zM855.5 337.6h6v5h-6zM879.5 337.6h12v5h-12zM939.5 337.6h18v5h-18zM975.5 337.6h48v5h-48zM1053.5 337.6h6v5h-6zM1101.5 337.6h30v5h-30zM1173.5 337.6h12v5h-12zM747.5 342.6h12v5h-12zM837.5 342.6h18v5h-18zM885.5 342.6h6v5h-6zM945.5 342.6h6v5h-6zM1023.5 342.6h18v5h-18zM1053.5 342.6h48v5h-48zM765.5 347.6h6v5h-6zM1059.5 347.6h6v5h-6z"/><path fill="#070707" d="M993.5 32.6h6v5h-6zM993.5 37.6h6v5h-6zM993.5 42.6h6v5h-6zM999.5 52.6h6v5h-6zM921.5 57.6h6v5h-6zM915.5 67.6h6v5h-6zM1011.5 67.6h6v5h-6zM1023.5 77.6h6v5h-6zM1029.5 82.6h6v5h-6zM885.5 92.6h6v5h-6zM1035.5 92.6h6v5h-6zM867.5 97.6h24v5h-24zM1041.5 97.6h18v5h-18zM723.5 102.6h6v5h-6zM861.5 102.6h6v5h-6zM879.5 102.6h12v5h-12zM1035.5 102.6h12v5h-12zM1059.5 102.6h18v5h-18zM717.5 107.6h12v5h-12zM855.5 107.6h12v5h-12zM1035.5 107.6h12v5h-12zM1071.5 107.6h6v5h-6zM711.5 112.6h18v5h-18zM765.5 112.6h6v5h-6zM843.5 112.6h12v5h-12zM1035.5 112.6h18v5h-18zM1077.5 112.6h6v5h-6zM1107.5 112.6h30v5h-30zM711.5 117.6h18v5h-18zM765.5 117.6h6v5h-6zM795.5 117.6h12v5h-12zM843.5 117.6h6v5h-6zM1041.5 117.6h12v5h-12zM1077.5 117.6h12v5h-12zM1107.5 117.6h6v5h-6zM1131.5 117.6h12v5h-12zM1161.5 117.6h12v5h-12zM1215.5 117.6h6v5h-6zM711.5 122.6h6v5h-6zM723.5 122.6h6v5h-6zM795.5 122.6h18v5h-18zM843.5 122.6h6v5h-6zM1041.5 122.6h12v5h-12zM1083.5 122.6h12v5h-12zM1107.5 122.6h6v5h-6zM1137.5 122.6h6v5h-6zM1155.5 122.6h18v5h-18zM1215.5 122.6h12v5h-12zM705.5 127.6h6v5h-6zM771.5 127.6h30v5h-30zM807.5 127.6h6v5h-6zM843.5 127.6h6v5h-6zM1095.5 127.6h18v5h-18zM1137.5 127.6h36v5h-36zM1197.5 127.6h30v5h-30zM705.5 132.6h6v5h-6zM729.5 132.6h6v5h-6zM771.5 132.6h6v5h-6zM807.5 132.6h6v5h-6zM843.5 132.6h6v5h-6zM1137.5 132.6h24v5h-24zM1173.5 132.6h6v5h-6zM1191.5 132.6h12v5h-12zM729.5 137.6h6v5h-6zM807.5 137.6h6v5h-6zM819.5 137.6h12v5h-12zM843.5 137.6h6v5h-6zM1131.5 137.6h24v5h-24zM1179.5 137.6h12v5h-12zM735.5 142.6h24v5h-24zM807.5 142.6h12v5h-12zM831.5 142.6h12v5h-12zM1131.5 142.6h12v5h-12zM1185.5 142.6h6v5h-6zM741.5 147.6h18v5h-18zM1185.5 147.6h6v5h-6zM1227.5 147.6h6v5h-6zM759.5 152.6h6v5h-6zM1227.5 152.6h6v5h-6zM699.5 157.6h6v5h-6zM765.5 157.6h6v5h-6zM1227.5 157.6h6v5h-6zM681.5 162.6h18v5h-18zM1227.5 182.6h24v5h-24zM699.5 322.6h6v5h-6zM813.5 322.6h24v5h-24zM885.5 322.6h6v5h-6zM915.5 322.6h12v5h-12zM1155.5 322.6h12v5h-12zM1227.5 322.6h24v5h-24zM705.5 327.6h6v5h-6zM765.5 327.6h6v5h-6zM801.5 327.6h6v5h-6zM831.5 327.6h6v5h-6zM879.5 327.6h30v5h-30zM927.5 327.6h18v5h-18zM957.5 327.6h6v5h-6zM987.5 327.6h18v5h-18zM1113.5 327.6h12v5h-12zM1149.5 327.6h6v5h-6zM1185.5 327.6h36v5h-36zM717.5 332.6h6v5h-6zM729.5 332.6h12v5h-12zM765.5 332.6h36v5h-36zM837.5 332.6h6v5h-6zM855.5 332.6h24v5h-24zM945.5 332.6h12v5h-12zM969.5 332.6h12v5h-12zM999.5 332.6h24v5h-24zM1053.5 332.6h12v5h-12zM1107.5 332.6h6v5h-6zM1125.5 332.6h6v5h-6zM1173.5 332.6h12v5h-12zM1221.5 332.6h6v5h-6zM723.5 337.6h6v5h-6zM747.5 337.6h6v5h-6zM765.5 337.6h6v5h-6zM837.5 337.6h18v5h-18zM1023.5 337.6h6v5h-6zM1035.5 337.6h6v5h-6zM1059.5 337.6h42v5h-42zM759.5 342.6h12v5h-12z"/><path fill="#080808" d="M993.5 47.6h6v5h-6zM1011.5 72.6h6v5h-6zM909.5 77.6h6v5h-6zM1017.5 77.6h6v5h-6zM903.5 82.6h6v5h-6zM897.5 87.6h6v5h-6zM891.5 92.6h6v5h-6zM891.5 97.6h6v5h-6zM1035.5 97.6h6v5h-6zM867.5 102.6h12v5h-12zM1047.5 102.6h12v5h-12zM867.5 107.6h24v5h-24zM1047.5 107.6h24v5h-24zM855.5 112.6h12v5h-12zM879.5 112.6h12v5h-12zM1053.5 112.6h6v5h-6zM1065.5 112.6h12v5h-12zM849.5 117.6h12v5h-12zM879.5 117.6h12v5h-12zM1035.5 117.6h6v5h-6zM1053.5 117.6h6v5h-6zM1071.5 117.6h6v5h-6zM1113.5 117.6h18v5h-18zM717.5 122.6h6v5h-6zM849.5 122.6h6v5h-6zM879.5 122.6h12v5h-12zM1053.5 122.6h6v5h-6zM1071.5 122.6h12v5h-12zM1113.5 122.6h6v5h-6zM1131.5 122.6h6v5h-6zM711.5 127.6h18v5h-18zM801.5 127.6h6v5h-6zM849.5 127.6h6v5h-6zM1041.5 127.6h12v5h-12zM1083.5 127.6h12v5h-12zM1131.5 127.6h6v5h-6zM723.5 132.6h6v5h-6zM777.5 132.6h30v5h-30zM849.5 132.6h6v5h-6zM1095.5 132.6h18v5h-18zM1131.5 132.6h6v5h-6zM1161.5 132.6h12v5h-12zM1203.5 132.6h24v5h-24zM705.5 137.6h6v5h-6zM723.5 137.6h6v5h-6zM771.5 137.6h6v5h-6zM789.5 137.6h18v5h-18zM1101.5 137.6h18v5h-18zM1125.5 137.6h6v5h-6zM1155.5 137.6h12v5h-12zM1173.5 137.6h6v5h-6zM1191.5 137.6h12v5h-12zM705.5 142.6h6v5h-6zM723.5 142.6h12v5h-12zM771.5 142.6h6v5h-6zM801.5 142.6h6v5h-6zM819.5 142.6h12v5h-12zM843.5 142.6h6v5h-6zM1101.5 142.6h30v5h-30zM1143.5 142.6h18v5h-18zM1179.5 142.6h6v5h-6zM1191.5 142.6h6v5h-6zM705.5 147.6h6v5h-6zM723.5 147.6h18v5h-18zM771.5 147.6h6v5h-6zM795.5 147.6h24v5h-24zM837.5 147.6h12v5h-12zM1107.5 147.6h6v5h-6zM1125.5 147.6h30v5h-30zM1179.5 147.6h6v5h-6zM1191.5 147.6h6v5h-6zM723.5 152.6h36v5h-36zM771.5 152.6h6v5h-6zM789.5 152.6h12v5h-12zM837.5 152.6h6v5h-6zM1125.5 152.6h12v5h-12zM1179.5 152.6h18v5h-18zM729.5 157.6h36v5h-36zM771.5 157.6h6v5h-6zM837.5 157.6h6v5h-6zM1179.5 157.6h12v5h-12zM699.5 162.6h6v5h-6zM741.5 162.6h12v5h-12zM681.5 167.6h18v5h-18zM741.5 167.6h6v5h-6zM681.5 172.6h18v5h-18zM1221.5 172.6h6v5h-6zM681.5 177.6h18v5h-18zM681.5 182.6h18v5h-18zM681.5 187.6h18v5h-18zM1227.5 187.6h24v5h-24zM1233.5 192.6h18v5h-18zM1233.5 312.6h18v5h-18zM681.5 317.6h18v5h-18zM813.5 317.6h24v5h-24zM1227.5 317.6h24v5h-24zM759.5 322.6h12v5h-12zM807.5 322.6h6v5h-6zM879.5 322.6h6v5h-6zM891.5 322.6h6v5h-6zM909.5 322.6h6v5h-6zM927.5 322.6h12v5h-12zM993.5 322.6h18v5h-18zM1119.5 322.6h6v5h-6zM1149.5 322.6h6v5h-6zM1167.5 322.6h6v5h-6zM1185.5 322.6h6v5h-6zM1209.5 322.6h6v5h-6zM711.5 327.6h6v5h-6zM759.5 327.6h6v5h-6zM771.5 327.6h6v5h-6zM795.5 327.6h6v5h-6zM837.5 327.6h6v5h-6zM849.5 327.6h12v5h-12zM867.5 327.6h12v5h-12zM945.5 327.6h12v5h-12zM963.5 327.6h6v5h-6zM981.5 327.6h6v5h-6zM1005.5 327.6h18v5h-18zM1035.5 327.6h30v5h-30zM1107.5 327.6h6v5h-6zM1125.5 327.6h12v5h-12zM1143.5 327.6h6v5h-6zM1173.5 327.6h12v5h-12zM1221.5 327.6h6v5h-6zM723.5 332.6h6v5h-6zM741.5 332.6h6v5h-6zM759.5 332.6h6v5h-6zM843.5 332.6h12v5h-12zM1023.5 332.6h6v5h-6zM1035.5 332.6h6v5h-6zM1065.5 332.6h42v5h-42zM753.5 337.6h12v5h-12zM1029.5 337.6h6v5h-6z"/><path fill="#090909" d="M933.5 32.6h6v5h-6zM933.5 37.6h6v5h-6zM933.5 42.6h6v5h-6zM927.5 52.6h6v5h-6zM921.5 62.6h6v5h-6zM1005.5 62.6h6v5h-6zM915.5 72.6h6v5h-6zM1023.5 82.6h6v5h-6zM1029.5 87.6h6v5h-6zM1029.5 92.6h6v5h-6zM891.5 102.6h6v5h-6zM1029.5 102.6h6v5h-6zM891.5 107.6h6v5h-6zM1029.5 107.6h6v5h-6zM867.5 112.6h12v5h-12zM891.5 112.6h6v5h-6zM1029.5 112.6h6v5h-6zM1059.5 112.6h6v5h-6zM861.5 117.6h18v5h-18zM891.5 117.6h6v5h-6zM1059.5 117.6h12v5h-12zM855.5 122.6h24v5h-24zM1035.5 122.6h6v5h-6zM1059.5 122.6h12v5h-12zM1119.5 122.6h12v5h-12zM855.5 127.6h30v5h-30zM1035.5 127.6h6v5h-6zM1053.5 127.6h6v5h-6zM1071.5 127.6h12v5h-12zM1113.5 127.6h6v5h-6zM1125.5 127.6h6v5h-6zM711.5 132.6h12v5h-12zM855.5 132.6h24v5h-24zM1041.5 132.6h12v5h-12zM1083.5 132.6h12v5h-12zM1113.5 132.6h18v5h-18zM711.5 137.6h12v5h-12zM777.5 137.6h12v5h-12zM849.5 137.6h6v5h-6zM1041.5 137.6h6v5h-6zM1089.5 137.6h12v5h-12zM1119.5 137.6h6v5h-6zM1167.5 137.6h6v5h-6zM1203.5 137.6h6v5h-6zM1221.5 137.6h6v5h-6zM711.5 142.6h12v5h-12zM777.5 142.6h24v5h-24zM1095.5 142.6h6v5h-6zM1161.5 142.6h6v5h-6zM1173.5 142.6h6v5h-6zM1197.5 142.6h6v5h-6zM1221.5 142.6h6v5h-6zM711.5 147.6h12v5h-12zM783.5 147.6h12v5h-12zM819.5 147.6h6v5h-6zM831.5 147.6h6v5h-6zM1101.5 147.6h6v5h-6zM1113.5 147.6h12v5h-12zM1155.5 147.6h6v5h-6zM1173.5 147.6h6v5h-6zM1197.5 147.6h6v5h-6zM1221.5 147.6h6v5h-6zM705.5 152.6h18v5h-18zM777.5 152.6h12v5h-12zM801.5 152.6h12v5h-12zM843.5 152.6h6v5h-6zM1119.5 152.6h6v5h-6zM1137.5 152.6h24v5h-24zM1173.5 152.6h6v5h-6zM1197.5 152.6h6v5h-6zM705.5 157.6h6v5h-6zM723.5 157.6h6v5h-6zM777.5 157.6h30v5h-30zM843.5 157.6h6v5h-6zM1125.5 157.6h30v5h-30zM1173.5 157.6h6v5h-6zM1191.5 157.6h12v5h-12zM729.5 162.6h12v5h-12zM753.5 162.6h24v5h-24zM783.5 162.6h12v5h-12zM837.5 162.6h12v5h-12zM1131.5 162.6h24v5h-24zM1179.5 162.6h6v5h-6zM1221.5 162.6h6v5h-6zM699.5 167.6h6v5h-6zM747.5 167.6h6v5h-6zM837.5 167.6h6v5h-6zM1083.5 167.6h12v5h-12zM1143.5 167.6h6v5h-6zM1221.5 167.6h6v5h-6zM741.5 172.6h6v5h-6zM1083.5 172.6h12v5h-12zM1221.5 177.6h6v5h-6zM681.5 192.6h18v5h-18zM1227.5 192.6h6v5h-6zM1233.5 197.6h18v5h-18zM1233.5 302.6h18v5h-18zM1233.5 307.6h18v5h-18zM1227.5 312.6h6v5h-6zM759.5 317.6h12v5h-12zM837.5 317.6h6v5h-6zM879.5 317.6h12v5h-12zM909.5 317.6h18v5h-18zM1149.5 317.6h24v5h-24zM705.5 322.6h12v5h-12zM771.5 322.6h6v5h-6zM801.5 322.6h6v5h-6zM837.5 322.6h24v5h-24zM873.5 322.6h6v5h-6zM897.5 322.6h12v5h-12zM939.5 322.6h6v5h-6zM957.5 322.6h6v5h-6zM987.5 322.6h6v5h-6zM1011.5 322.6h12v5h-12zM1035.5 322.6h6v5h-6zM1059.5 322.6h6v5h-6zM1113.5 322.6h6v5h-6zM1125.5 322.6h6v5h-6zM1173.5 322.6h12v5h-12zM1191.5 322.6h6v5h-6zM1203.5 322.6h6v5h-6zM1215.5 322.6h12v5h-12zM717.5 327.6h24v5h-24zM777.5 327.6h18v5h-18zM843.5 327.6h6v5h-6zM861.5 327.6h6v5h-6zM969.5 327.6h12v5h-12zM1023.5 327.6h12v5h-12zM1065.5 327.6h42v5h-42zM1137.5 327.6h6v5h-6zM747.5 332.6h12v5h-12zM1029.5 332.6h6v5h-6z"/><path fill="#0a0a0a" d="M1011.5 77.6h6v5h-6zM1017.5 82.6h6v5h-6zM1023.5 87.6h6v5h-6zM897.5 92.6h6v5h-6zM1029.5 97.6h6v5h-6zM1029.5 117.6h6v5h-6zM891.5 122.6h6v5h-6zM885.5 127.6h6v5h-6zM1059.5 127.6h12v5h-12zM1119.5 127.6h6v5h-6zM879.5 132.6h6v5h-6zM1035.5 132.6h6v5h-6zM1053.5 132.6h30v5h-30zM855.5 137.6h24v5h-24zM1035.5 137.6h6v5h-6zM1047.5 137.6h6v5h-6zM1083.5 137.6h6v5h-6zM1209.5 137.6h12v5h-12zM849.5 142.6h6v5h-6zM861.5 142.6h18v5h-18zM1041.5 142.6h6v5h-6zM1083.5 142.6h12v5h-12zM1167.5 142.6h6v5h-6zM1203.5 142.6h6v5h-6zM777.5 147.6h6v5h-6zM825.5 147.6h6v5h-6zM849.5 147.6h6v5h-6zM861.5 147.6h12v5h-12zM1083.5 147.6h18v5h-18zM1161.5 147.6h12v5h-12zM813.5 152.6h6v5h-6zM831.5 152.6h6v5h-6zM849.5 152.6h6v5h-6zM861.5 152.6h6v5h-6zM1077.5 152.6h12v5h-12zM1101.5 152.6h18v5h-18zM1161.5 152.6h12v5h-12zM1203.5 152.6h6v5h-6zM1221.5 152.6h6v5h-6zM711.5 157.6h12v5h-12zM807.5 157.6h12v5h-12zM831.5 157.6h6v5h-6zM849.5 157.6h6v5h-6zM1077.5 157.6h12v5h-12zM1119.5 157.6h6v5h-6zM1155.5 157.6h18v5h-18zM1203.5 157.6h12v5h-12zM1221.5 157.6h6v5h-6zM705.5 162.6h6v5h-6zM717.5 162.6h12v5h-12zM777.5 162.6h6v5h-6zM795.5 162.6h12v5h-12zM831.5 162.6h6v5h-6zM1059.5 162.6h6v5h-6zM1077.5 162.6h18v5h-18zM1119.5 162.6h12v5h-12zM1155.5 162.6h6v5h-6zM1167.5 162.6h12v5h-12zM1185.5 162.6h36v5h-36zM735.5 167.6h6v5h-6zM753.5 167.6h6v5h-6zM783.5 167.6h18v5h-18zM831.5 167.6h6v5h-6zM843.5 167.6h6v5h-6zM1059.5 167.6h24v5h-24zM1131.5 167.6h12v5h-12zM1149.5 167.6h6v5h-6zM1167.5 167.6h12v5h-12zM1203.5 167.6h18v5h-18zM699.5 172.6h6v5h-6zM747.5 172.6h6v5h-6zM789.5 172.6h6v5h-6zM831.5 172.6h12v5h-12zM1065.5 172.6h18v5h-18zM1095.5 172.6h6v5h-6zM1143.5 172.6h6v5h-6zM1215.5 172.6h6v5h-6zM699.5 177.6h6v5h-6zM741.5 177.6h6v5h-6zM1083.5 177.6h12v5h-12zM699.5 182.6h6v5h-6zM1221.5 182.6h6v5h-6zM699.5 187.6h6v5h-6zM1227.5 197.6h6v5h-6zM1233.5 202.6h18v5h-18zM1233.5 277.6h18v5h-18zM1233.5 297.6h18v5h-18zM1227.5 302.6h6v5h-6zM1227.5 307.6h6v5h-6zM681.5 312.6h18v5h-18zM813.5 312.6h30v5h-30zM1149.5 312.6h12v5h-12zM699.5 317.6h6v5h-6zM807.5 317.6h6v5h-6zM843.5 317.6h6v5h-6zM867.5 317.6h12v5h-12zM891.5 317.6h6v5h-6zM927.5 317.6h6v5h-6zM993.5 317.6h24v5h-24zM1035.5 317.6h6v5h-6zM1173.5 317.6h24v5h-24zM1215.5 317.6h12v5h-12zM717.5 322.6h6v5h-6zM729.5 322.6h12v5h-12zM789.5 322.6h12v5h-12zM861.5 322.6h12v5h-12zM945.5 322.6h12v5h-12zM963.5 322.6h6v5h-6zM981.5 322.6h6v5h-6zM1023.5 322.6h12v5h-12zM1041.5 322.6h18v5h-18zM1065.5 322.6h30v5h-30zM1107.5 322.6h6v5h-6zM1131.5 322.6h18v5h-18zM1197.5 322.6h6v5h-6zM741.5 327.6h6v5h-6zM753.5 327.6h6v5h-6z"/><path fill="#0b0b0b" d="M933.5 47.6h6v5h-6zM999.5 57.6h6v5h-6zM1005.5 67.6h6v5h-6zM909.5 82.6h6v5h-6zM903.5 87.6h6v5h-6zM1023.5 92.6h6v5h-6zM897.5 97.6h6v5h-6zM1023.5 102.6h6v5h-6zM897.5 107.6h6v5h-6zM1023.5 107.6h6v5h-6zM897.5 112.6h6v5h-6zM1023.5 112.6h6v5h-6zM897.5 117.6h6v5h-6zM1029.5 122.6h6v5h-6zM891.5 127.6h6v5h-6zM879.5 137.6h6v5h-6zM1053.5 137.6h30v5h-30zM855.5 142.6h6v5h-6zM1035.5 142.6h6v5h-6zM1047.5 142.6h6v5h-6zM1071.5 142.6h12v5h-12zM1209.5 142.6h12v5h-12zM855.5 147.6h6v5h-6zM873.5 147.6h6v5h-6zM1065.5 147.6h18v5h-18zM1203.5 147.6h18v5h-18zM819.5 152.6h12v5h-12zM855.5 152.6h6v5h-6zM867.5 152.6h6v5h-6zM1065.5 152.6h12v5h-12zM1089.5 152.6h12v5h-12zM1209.5 152.6h12v5h-12zM819.5 157.6h6v5h-6zM855.5 157.6h12v5h-12zM1053.5 157.6h24v5h-24zM1089.5 157.6h30v5h-30zM1215.5 157.6h6v5h-6zM711.5 162.6h6v5h-6zM807.5 162.6h24v5h-24zM849.5 162.6h6v5h-6zM1053.5 162.6h6v5h-6zM1065.5 162.6h12v5h-12zM1095.5 162.6h6v5h-6zM1113.5 162.6h6v5h-6zM1161.5 162.6h6v5h-6zM705.5 167.6h30v5h-30zM759.5 167.6h6v5h-6zM771.5 167.6h12v5h-12zM801.5 167.6h30v5h-30zM885.5 167.6h6v5h-6zM1053.5 167.6h6v5h-6zM1095.5 167.6h6v5h-6zM1119.5 167.6h12v5h-12zM1155.5 167.6h12v5h-12zM1179.5 167.6h6v5h-6zM1197.5 167.6h6v5h-6zM735.5 172.6h6v5h-6zM753.5 172.6h6v5h-6zM783.5 172.6h6v5h-6zM795.5 172.6h36v5h-36zM843.5 172.6h6v5h-6zM879.5 172.6h12v5h-12zM1059.5 172.6h6v5h-6zM1131.5 172.6h12v5h-12zM1149.5 172.6h12v5h-12zM1167.5 172.6h12v5h-12zM1203.5 172.6h12v5h-12zM747.5 177.6h6v5h-6zM789.5 177.6h12v5h-12zM831.5 177.6h12v5h-12zM879.5 177.6h12v5h-12zM1059.5 177.6h24v5h-24zM1095.5 177.6h6v5h-6zM1143.5 177.6h6v5h-6zM1215.5 177.6h6v5h-6zM1221.5 187.6h6v5h-6zM699.5 192.6h6v5h-6zM681.5 197.6h18v5h-18zM1227.5 202.6h6v5h-6zM1233.5 207.6h18v5h-18zM1233.5 272.6h18v5h-18zM1233.5 282.6h18v5h-18zM681.5 287.6h18v5h-18zM1233.5 287.6h18v5h-18zM681.5 292.6h18v5h-18zM1233.5 292.6h18v5h-18zM1227.5 297.6h6v5h-6zM1179.5 302.6h6v5h-6zM681.5 307.6h18v5h-18zM831.5 307.6h6v5h-6zM1173.5 307.6h12v5h-12zM759.5 312.6h12v5h-12zM867.5 312.6h6v5h-6zM885.5 312.6h6v5h-6zM909.5 312.6h18v5h-18zM1143.5 312.6h6v5h-6zM1161.5 312.6h30v5h-30zM705.5 317.6h12v5h-12zM729.5 317.6h6v5h-6zM771.5 317.6h6v5h-6zM849.5 317.6h18v5h-18zM897.5 317.6h12v5h-12zM933.5 317.6h6v5h-6zM1017.5 317.6h18v5h-18zM1041.5 317.6h6v5h-6zM1059.5 317.6h36v5h-36zM1113.5 317.6h24v5h-24zM1143.5 317.6h6v5h-6zM1209.5 317.6h6v5h-6zM723.5 322.6h6v5h-6zM753.5 322.6h6v5h-6zM777.5 322.6h12v5h-12zM969.5 322.6h12v5h-12zM1095.5 322.6h12v5h-12zM747.5 327.6h6v5h-6z"/><path fill="#0c0c0c" d="M987.5 32.6h6v5h-6zM987.5 37.6h6v5h-6zM987.5 42.6h6v5h-6zM993.5 52.6h6v5h-6zM927.5 57.6h6v5h-6zM921.5 67.6h6v5h-6zM915.5 77.6h6v5h-6zM1011.5 82.6h6v5h-6zM1017.5 87.6h6v5h-6zM1023.5 97.6h6v5h-6zM897.5 102.6h6v5h-6zM1023.5 117.6h6v5h-6zM897.5 122.6h6v5h-6zM1029.5 127.6h6v5h-6zM885.5 132.6h6v5h-6zM879.5 142.6h6v5h-6zM1053.5 142.6h18v5h-18zM879.5 147.6h6v5h-6zM1041.5 147.6h12v5h-12zM1059.5 147.6h6v5h-6zM873.5 152.6h6v5h-6zM1053.5 152.6h12v5h-12zM825.5 157.6h6v5h-6zM867.5 157.6h6v5h-6zM885.5 157.6h12v5h-12zM1047.5 157.6h6v5h-6zM855.5 162.6h18v5h-18zM885.5 162.6h12v5h-12zM1047.5 162.6h6v5h-6zM1101.5 162.6h12v5h-12zM765.5 167.6h6v5h-6zM849.5 167.6h6v5h-6zM879.5 167.6h6v5h-6zM891.5 167.6h6v5h-6zM1101.5 167.6h6v5h-6zM1113.5 167.6h6v5h-6zM1185.5 167.6h12v5h-12zM705.5 172.6h30v5h-30zM891.5 172.6h6v5h-6zM1053.5 172.6h6v5h-6zM1101.5 172.6h6v5h-6zM1113.5 172.6h18v5h-18zM1161.5 172.6h6v5h-6zM1179.5 172.6h6v5h-6zM1191.5 172.6h12v5h-12zM705.5 177.6h6v5h-6zM735.5 177.6h6v5h-6zM783.5 177.6h6v5h-6zM801.5 177.6h30v5h-30zM843.5 177.6h6v5h-6zM1101.5 177.6h6v5h-6zM1131.5 177.6h12v5h-12zM1149.5 177.6h6v5h-6zM1167.5 177.6h12v5h-12zM1197.5 177.6h6v5h-6zM1209.5 177.6h6v5h-6zM741.5 182.6h6v5h-6zM795.5 182.6h12v5h-12zM819.5 182.6h24v5h-24zM879.5 182.6h12v5h-12zM1059.5 182.6h12v5h-12zM1083.5 182.6h18v5h-18zM1137.5 182.6h12v5h-12zM1197.5 182.6h6v5h-6zM1215.5 182.6h6v5h-6zM1221.5 192.6h6v5h-6zM681.5 202.6h18v5h-18zM681.5 207.6h18v5h-18zM1227.5 207.6h6v5h-6zM1233.5 267.6h18v5h-18zM1227.5 272.6h6v5h-6zM681.5 277.6h18v5h-18zM1227.5 277.6h6v5h-6zM681.5 282.6h18v5h-18zM1227.5 282.6h6v5h-6zM1227.5 292.6h6v5h-6zM681.5 297.6h18v5h-18zM1179.5 297.6h6v5h-6zM681.5 302.6h18v5h-18zM1143.5 302.6h6v5h-6zM1173.5 302.6h6v5h-6zM1185.5 302.6h6v5h-6zM825.5 307.6h6v5h-6zM837.5 307.6h6v5h-6zM915.5 307.6h6v5h-6zM1143.5 307.6h18v5h-18zM1185.5 307.6h6v5h-6zM699.5 312.6h6v5h-6zM711.5 312.6h6v5h-6zM729.5 312.6h6v5h-6zM807.5 312.6h6v5h-6zM843.5 312.6h24v5h-24zM873.5 312.6h12v5h-12zM891.5 312.6h18v5h-18zM1005.5 312.6h6v5h-6zM1029.5 312.6h12v5h-12zM1125.5 312.6h18v5h-18zM1191.5 312.6h6v5h-6zM1215.5 312.6h12v5h-12zM717.5 317.6h12v5h-12zM735.5 317.6h6v5h-6zM753.5 317.6h6v5h-6zM777.5 317.6h30v5h-30zM939.5 317.6h6v5h-6zM951.5 317.6h12v5h-12zM987.5 317.6h6v5h-6zM1047.5 317.6h12v5h-12zM1095.5 317.6h6v5h-6zM1107.5 317.6h6v5h-6zM1137.5 317.6h6v5h-6zM1197.5 317.6h12v5h-12zM741.5 322.6h12v5h-12z"/><path fill="#0d0d0d" d="M987.5 47.6h6v5h-6zM1005.5 72.6h6v5h-6zM903.5 92.6h6v5h-6zM1017.5 92.6h6v5h-6zM1023.5 122.6h6v5h-6zM897.5 127.6h6v5h-6zM1029.5 132.6h6v5h-6zM885.5 137.6h6v5h-6zM1029.5 137.6h6v5h-6zM1035.5 147.6h6v5h-6zM1053.5 147.6h6v5h-6zM879.5 152.6h18v5h-18zM1041.5 152.6h12v5h-12zM873.5 157.6h12v5h-12zM879.5 162.6h6v5h-6zM855.5 167.6h6v5h-6zM873.5 167.6h6v5h-6zM1047.5 167.6h6v5h-6zM1107.5 167.6h6v5h-6zM759.5 172.6h6v5h-6zM777.5 172.6h6v5h-6zM849.5 172.6h6v5h-6zM873.5 172.6h6v5h-6zM1107.5 172.6h6v5h-6zM1185.5 172.6h6v5h-6zM711.5 177.6h18v5h-18zM753.5 177.6h6v5h-6zM849.5 177.6h6v5h-6zM873.5 177.6h6v5h-6zM891.5 177.6h6v5h-6zM1053.5 177.6h6v5h-6zM1107.5 177.6h24v5h-24zM1155.5 177.6h12v5h-12zM1191.5 177.6h6v5h-6zM1203.5 177.6h6v5h-6zM705.5 182.6h18v5h-18zM735.5 182.6h6v5h-6zM747.5 182.6h6v5h-6zM789.5 182.6h6v5h-6zM807.5 182.6h12v5h-12zM843.5 182.6h6v5h-6zM1053.5 182.6h6v5h-6zM1071.5 182.6h12v5h-12zM1101.5 182.6h6v5h-6zM1125.5 182.6h12v5h-12zM1167.5 182.6h6v5h-6zM1191.5 182.6h6v5h-6zM1203.5 182.6h12v5h-12zM705.5 187.6h6v5h-6zM825.5 187.6h18v5h-18zM879.5 187.6h12v5h-12zM1053.5 187.6h12v5h-12zM1131.5 187.6h12v5h-12zM1197.5 187.6h24v5h-24zM1053.5 192.6h12v5h-12zM1203.5 192.6h6v5h-6zM699.5 197.6h6v5h-6zM681.5 212.6h18v5h-18zM1233.5 212.6h18v5h-18zM681.5 217.6h18v5h-18zM1227.5 267.6h6v5h-6zM681.5 272.6h18v5h-18zM1227.5 287.6h6v5h-6zM1143.5 297.6h12v5h-12zM1185.5 297.6h6v5h-6zM831.5 302.6h12v5h-12zM915.5 302.6h6v5h-6zM1149.5 302.6h6v5h-6zM699.5 307.6h6v5h-6zM717.5 307.6h18v5h-18zM759.5 307.6h6v5h-6zM813.5 307.6h12v5h-12zM843.5 307.6h6v5h-6zM867.5 307.6h6v5h-6zM885.5 307.6h12v5h-12zM909.5 307.6h6v5h-6zM921.5 307.6h6v5h-6zM1137.5 307.6h6v5h-6zM1161.5 307.6h12v5h-12zM1191.5 307.6h6v5h-6zM1221.5 307.6h6v5h-6zM705.5 312.6h6v5h-6zM717.5 312.6h12v5h-12zM735.5 312.6h6v5h-6zM753.5 312.6h6v5h-6zM783.5 312.6h12v5h-12zM927.5 312.6h6v5h-6zM993.5 312.6h12v5h-12zM1011.5 312.6h18v5h-18zM1041.5 312.6h6v5h-6zM1059.5 312.6h30v5h-30zM1113.5 312.6h12v5h-12zM1197.5 312.6h6v5h-6zM1209.5 312.6h6v5h-6zM741.5 317.6h6v5h-6zM945.5 317.6h6v5h-6zM963.5 317.6h6v5h-6zM1101.5 317.6h6v5h-6z"/><path fill="#0e0e0e" d="M939.5 32.6h6v5h-6zM939.5 37.6h6v5h-6zM939.5 42.6h6v5h-6zM1017.5 97.6h6v5h-6zM1017.5 102.6h6v5h-6zM1017.5 107.6h6v5h-6zM1017.5 112.6h6v5h-6zM1017.5 117.6h6v5h-6zM1023.5 127.6h6v5h-6zM891.5 132.6h6v5h-6zM885.5 142.6h6v5h-6zM1029.5 142.6h6v5h-6zM885.5 147.6h6v5h-6zM1035.5 152.6h6v5h-6zM897.5 157.6h6v5h-6zM1041.5 157.6h6v5h-6zM873.5 162.6h6v5h-6zM897.5 162.6h6v5h-6zM1041.5 162.6h6v5h-6zM861.5 167.6h12v5h-12zM897.5 167.6h6v5h-6zM1041.5 167.6h6v5h-6zM765.5 172.6h12v5h-12zM855.5 172.6h6v5h-6zM897.5 172.6h6v5h-6zM1047.5 172.6h6v5h-6zM729.5 177.6h6v5h-6zM777.5 177.6h6v5h-6zM1047.5 177.6h6v5h-6zM1179.5 177.6h12v5h-12zM723.5 182.6h12v5h-12zM783.5 182.6h6v5h-6zM849.5 182.6h6v5h-6zM873.5 182.6h6v5h-6zM891.5 182.6h6v5h-6zM1047.5 182.6h6v5h-6zM1107.5 182.6h18v5h-18zM1149.5 182.6h18v5h-18zM1173.5 182.6h6v5h-6zM711.5 187.6h12v5h-12zM735.5 187.6h12v5h-12zM789.5 187.6h36v5h-36zM843.5 187.6h6v5h-6zM1047.5 187.6h6v5h-6zM1065.5 187.6h6v5h-6zM1083.5 187.6h18v5h-18zM1119.5 187.6h12v5h-12zM1143.5 187.6h6v5h-6zM705.5 192.6h12v5h-12zM831.5 192.6h6v5h-6zM1137.5 192.6h6v5h-6zM1197.5 192.6h6v5h-6zM1209.5 192.6h12v5h-12zM1203.5 197.6h12v5h-12zM1221.5 197.6h6v5h-6zM699.5 202.6h6v5h-6zM681.5 222.6h18v5h-18zM681.5 257.6h18v5h-18zM681.5 262.6h18v5h-18zM1233.5 262.6h18v5h-18zM681.5 267.6h18v5h-18zM699.5 277.6h6v5h-6zM699.5 282.6h6v5h-6zM699.5 287.6h6v5h-6zM699.5 292.6h6v5h-6zM1143.5 292.6h6v5h-6zM1179.5 292.6h12v5h-12zM699.5 297.6h6v5h-6zM1137.5 297.6h6v5h-6zM1173.5 297.6h6v5h-6zM699.5 302.6h6v5h-6zM717.5 302.6h12v5h-12zM759.5 302.6h6v5h-6zM825.5 302.6h6v5h-6zM891.5 302.6h6v5h-6zM903.5 302.6h12v5h-12zM1137.5 302.6h6v5h-6zM1155.5 302.6h6v5h-6zM1167.5 302.6h6v5h-6zM1191.5 302.6h6v5h-6zM1221.5 302.6h6v5h-6zM711.5 307.6h6v5h-6zM735.5 307.6h6v5h-6zM753.5 307.6h6v5h-6zM765.5 307.6h6v5h-6zM783.5 307.6h12v5h-12zM807.5 307.6h6v5h-6zM849.5 307.6h18v5h-18zM873.5 307.6h12v5h-12zM897.5 307.6h12v5h-12zM1077.5 307.6h6v5h-6zM1119.5 307.6h18v5h-18zM1215.5 307.6h6v5h-6zM741.5 312.6h6v5h-6zM771.5 312.6h12v5h-12zM795.5 312.6h12v5h-12zM933.5 312.6h6v5h-6zM1047.5 312.6h12v5h-12zM1089.5 312.6h12v5h-12zM1107.5 312.6h6v5h-6zM1203.5 312.6h6v5h-6zM747.5 317.6h6v5h-6zM969.5 317.6h18v5h-18z"/><path fill="#0f0f0f" d="M933.5 52.6h6v5h-6zM999.5 62.6h6v5h-6zM921.5 72.6h6v5h-6zM909.5 87.6h6v5h-6zM1011.5 87.6h6v5h-6zM903.5 97.6h6v5h-6zM903.5 112.6h6v5h-6zM903.5 117.6h6v5h-6zM903.5 122.6h6v5h-6zM1017.5 122.6h6v5h-6zM903.5 127.6h6v5h-6zM897.5 132.6h6v5h-6zM1023.5 132.6h6v5h-6zM891.5 147.6h6v5h-6zM1029.5 147.6h6v5h-6zM897.5 152.6h6v5h-6zM1035.5 157.6h6v5h-6zM1035.5 162.6h6v5h-6zM861.5 172.6h12v5h-12zM1041.5 172.6h6v5h-6zM759.5 177.6h6v5h-6zM771.5 177.6h6v5h-6zM855.5 177.6h6v5h-6zM897.5 177.6h6v5h-6zM753.5 182.6h6v5h-6zM777.5 182.6h6v5h-6zM855.5 182.6h6v5h-6zM1179.5 182.6h12v5h-12zM723.5 187.6h12v5h-12zM747.5 187.6h6v5h-6zM777.5 187.6h12v5h-12zM849.5 187.6h6v5h-6zM873.5 187.6h6v5h-6zM891.5 187.6h6v5h-6zM1071.5 187.6h12v5h-12zM1101.5 187.6h18v5h-18zM1161.5 187.6h18v5h-18zM1191.5 187.6h6v5h-6zM717.5 192.6h6v5h-6zM765.5 192.6h12v5h-12zM825.5 192.6h6v5h-6zM837.5 192.6h6v5h-6zM1047.5 192.6h6v5h-6zM1065.5 192.6h6v5h-6zM1119.5 192.6h18v5h-18zM705.5 197.6h12v5h-12zM1053.5 197.6h12v5h-12zM1215.5 197.6h6v5h-6zM1221.5 202.6h6v5h-6zM699.5 207.6h6v5h-6zM1227.5 212.6h6v5h-6zM1233.5 217.6h18v5h-18zM1233.5 242.6h18v5h-18zM681.5 247.6h18v5h-18zM1233.5 247.6h18v5h-18zM681.5 252.6h18v5h-18zM1233.5 257.6h18v5h-18zM1227.5 262.6h6v5h-6zM699.5 272.6h6v5h-6zM711.5 287.6h12v5h-12zM789.5 287.6h12v5h-12zM1143.5 287.6h6v5h-6zM1185.5 287.6h6v5h-6zM717.5 292.6h6v5h-6zM789.5 292.6h18v5h-18zM885.5 292.6h12v5h-12zM1137.5 292.6h6v5h-6zM1149.5 292.6h6v5h-6zM711.5 297.6h18v5h-18zM747.5 297.6h12v5h-12zM783.5 297.6h18v5h-18zM831.5 297.6h12v5h-12zM879.5 297.6h42v5h-42zM1155.5 297.6h6v5h-6zM1191.5 297.6h6v5h-6zM1221.5 297.6h6v5h-6zM711.5 302.6h6v5h-6zM729.5 302.6h12v5h-12zM747.5 302.6h12v5h-12zM783.5 302.6h12v5h-12zM813.5 302.6h12v5h-12zM843.5 302.6h6v5h-6zM867.5 302.6h24v5h-24zM897.5 302.6h6v5h-6zM921.5 302.6h6v5h-6zM1131.5 302.6h6v5h-6zM1161.5 302.6h6v5h-6zM1215.5 302.6h6v5h-6zM705.5 307.6h6v5h-6zM741.5 307.6h12v5h-12zM771.5 307.6h12v5h-12zM1011.5 307.6h6v5h-6zM1029.5 307.6h18v5h-18zM1059.5 307.6h18v5h-18zM1083.5 307.6h6v5h-6zM1107.5 307.6h12v5h-12zM1197.5 307.6h6v5h-6zM1209.5 307.6h6v5h-6zM747.5 312.6h6v5h-6zM987.5 312.6h6v5h-6zM1101.5 312.6h6v5h-6z"/><path fill="#101010" d="M939.5 47.6h6v5h-6zM1005.5 77.6h6v5h-6zM915.5 82.6h6v5h-6zM903.5 102.6h6v5h-6zM903.5 107.6h6v5h-6zM1017.5 127.6h6v5h-6zM903.5 132.6h6v5h-6zM891.5 137.6h6v5h-6zM1023.5 137.6h6v5h-6zM891.5 142.6h6v5h-6zM897.5 147.6h6v5h-6zM1029.5 152.6h6v5h-6zM1029.5 157.6h6v5h-6zM903.5 162.6h6v5h-6zM903.5 167.6h6v5h-6zM1035.5 167.6h6v5h-6zM903.5 172.6h6v5h-6zM765.5 177.6h6v5h-6zM861.5 177.6h12v5h-12zM1041.5 177.6h6v5h-6zM759.5 182.6h18v5h-18zM861.5 182.6h12v5h-12zM897.5 182.6h6v5h-6zM1041.5 182.6h6v5h-6zM753.5 187.6h24v5h-24zM855.5 187.6h18v5h-18zM1041.5 187.6h6v5h-6zM1149.5 187.6h12v5h-12zM723.5 192.6h6v5h-6zM735.5 192.6h30v5h-30zM777.5 192.6h48v5h-48zM843.5 192.6h6v5h-6zM879.5 192.6h12v5h-12zM1041.5 192.6h6v5h-6zM1083.5 192.6h24v5h-24zM1113.5 192.6h6v5h-6zM1143.5 192.6h6v5h-6zM1167.5 192.6h6v5h-6zM1191.5 192.6h6v5h-6zM747.5 197.6h30v5h-30zM831.5 197.6h12v5h-12zM1065.5 197.6h6v5h-6zM1197.5 197.6h6v5h-6zM747.5 202.6h18v5h-18zM1203.5 202.6h18v5h-18zM747.5 207.6h12v5h-12zM699.5 212.6h6v5h-6zM681.5 227.6h18v5h-18zM681.5 232.6h18v5h-18zM681.5 237.6h18v5h-18zM1233.5 237.6h18v5h-18zM681.5 242.6h18v5h-18zM1233.5 252.6h18v5h-18zM699.5 267.6h6v5h-6zM705.5 277.6h12v5h-12zM705.5 282.6h18v5h-18zM789.5 282.6h12v5h-12zM1185.5 282.6h12v5h-12zM705.5 287.6h6v5h-6zM783.5 287.6h6v5h-6zM801.5 287.6h6v5h-6zM885.5 287.6h12v5h-12zM1149.5 287.6h6v5h-6zM1179.5 287.6h6v5h-6zM1191.5 287.6h6v5h-6zM705.5 292.6h12v5h-12zM723.5 292.6h6v5h-6zM747.5 292.6h6v5h-6zM783.5 292.6h6v5h-6zM807.5 292.6h6v5h-6zM879.5 292.6h6v5h-6zM897.5 292.6h18v5h-18zM1155.5 292.6h6v5h-6zM1173.5 292.6h6v5h-6zM1191.5 292.6h6v5h-6zM705.5 297.6h6v5h-6zM729.5 297.6h18v5h-18zM759.5 297.6h6v5h-6zM801.5 297.6h12v5h-12zM825.5 297.6h6v5h-6zM873.5 297.6h6v5h-6zM1077.5 297.6h6v5h-6zM1113.5 297.6h12v5h-12zM1161.5 297.6h12v5h-12zM705.5 302.6h6v5h-6zM741.5 302.6h6v5h-6zM765.5 302.6h6v5h-6zM777.5 302.6h6v5h-6zM795.5 302.6h18v5h-18zM861.5 302.6h6v5h-6zM1071.5 302.6h18v5h-18zM1107.5 302.6h24v5h-24zM1197.5 302.6h6v5h-6zM1209.5 302.6h6v5h-6zM795.5 307.6h12v5h-12zM927.5 307.6h6v5h-6zM999.5 307.6h12v5h-12zM1017.5 307.6h12v5h-12zM1047.5 307.6h12v5h-12zM1089.5 307.6h18v5h-18zM1203.5 307.6h6v5h-6zM939.5 312.6h6v5h-6zM957.5 312.6h6v5h-6z"/><path fill="#111111" d="M981.5 32.6h6v5h-6zM981.5 37.6h6v5h-6zM981.5 42.6h6v5h-6zM993.5 57.6h6v5h-6zM927.5 62.6h6v5h-6zM1017.5 132.6h6v5h-6zM897.5 137.6h12v5h-12zM897.5 142.6h6v5h-6zM1023.5 142.6h6v5h-6zM903.5 157.6h6v5h-6zM1029.5 162.6h6v5h-6zM1029.5 167.6h6v5h-6zM1035.5 172.6h6v5h-6zM903.5 177.6h6v5h-6zM897.5 187.6h6v5h-6zM1179.5 187.6h12v5h-12zM729.5 192.6h6v5h-6zM849.5 192.6h30v5h-30zM891.5 192.6h6v5h-6zM1071.5 192.6h12v5h-12zM1107.5 192.6h6v5h-6zM1161.5 192.6h6v5h-6zM1173.5 192.6h6v5h-6zM717.5 197.6h6v5h-6zM741.5 197.6h6v5h-6zM777.5 197.6h12v5h-12zM825.5 197.6h6v5h-6zM1047.5 197.6h6v5h-6zM1119.5 197.6h24v5h-24zM705.5 202.6h12v5h-12zM741.5 202.6h6v5h-6zM765.5 202.6h12v5h-12zM1059.5 202.6h6v5h-6zM1221.5 207.6h6v5h-6zM747.5 212.6h6v5h-6zM699.5 217.6h6v5h-6zM1227.5 217.6h6v5h-6zM1233.5 222.6h18v5h-18zM1233.5 227.6h18v5h-18zM1233.5 232.6h18v5h-18zM1227.5 237.6h6v5h-6zM1227.5 242.6h6v5h-6zM1227.5 247.6h6v5h-6zM1227.5 252.6h6v5h-6zM1227.5 257.6h6v5h-6zM699.5 262.6h6v5h-6zM1101.5 267.6h6v5h-6zM705.5 272.6h6v5h-6zM1101.5 272.6h6v5h-6zM717.5 277.6h6v5h-6zM1185.5 277.6h12v5h-12zM777.5 282.6h12v5h-12zM801.5 282.6h6v5h-6zM1179.5 282.6h6v5h-6zM723.5 287.6h6v5h-6zM777.5 287.6h6v5h-6zM807.5 287.6h6v5h-6zM879.5 287.6h6v5h-6zM897.5 287.6h6v5h-6zM1137.5 287.6h6v5h-6zM729.5 292.6h6v5h-6zM741.5 292.6h6v5h-6zM753.5 292.6h6v5h-6zM777.5 292.6h6v5h-6zM873.5 292.6h6v5h-6zM915.5 292.6h6v5h-6zM1077.5 292.6h6v5h-6zM1113.5 292.6h12v5h-12zM1221.5 292.6h6v5h-6zM777.5 297.6h6v5h-6zM813.5 297.6h6v5h-6zM843.5 297.6h6v5h-6zM867.5 297.6h6v5h-6zM1071.5 297.6h6v5h-6zM1083.5 297.6h6v5h-6zM1107.5 297.6h6v5h-6zM1125.5 297.6h12v5h-12zM1197.5 297.6h6v5h-6zM1209.5 297.6h12v5h-12zM771.5 302.6h6v5h-6zM849.5 302.6h12v5h-12zM1029.5 302.6h18v5h-18zM1059.5 302.6h12v5h-12zM1089.5 302.6h18v5h-18zM1203.5 302.6h6v5h-6zM993.5 307.6h6v5h-6zM945.5 312.6h12v5h-12zM963.5 312.6h6v5h-6zM981.5 312.6h6v5h-6z"/><path fill="#121212" d="M945.5 32.6h6v5h-6zM945.5 37.6h6v5h-6zM945.5 42.6h6v5h-6zM987.5 52.6h6v5h-6zM909.5 92.6h6v5h-6zM1011.5 92.6h6v5h-6zM909.5 127.6h6v5h-6zM909.5 132.6h6v5h-6zM903.5 142.6h6v5h-6zM903.5 147.6h6v5h-6zM1023.5 147.6h6v5h-6zM903.5 152.6h6v5h-6zM1023.5 152.6h6v5h-6zM1029.5 172.6h6v5h-6zM1035.5 177.6h6v5h-6zM897.5 192.6h6v5h-6zM1149.5 192.6h12v5h-12zM723.5 197.6h6v5h-6zM735.5 197.6h6v5h-6zM789.5 197.6h24v5h-24zM819.5 197.6h6v5h-6zM843.5 197.6h6v5h-6zM1041.5 197.6h6v5h-6zM1071.5 197.6h6v5h-6zM1083.5 197.6h36v5h-36zM1161.5 197.6h12v5h-12zM1191.5 197.6h6v5h-6zM777.5 202.6h6v5h-6zM1065.5 202.6h6v5h-6zM1113.5 202.6h12v5h-12zM1197.5 202.6h6v5h-6zM741.5 207.6h6v5h-6zM759.5 207.6h12v5h-12zM1209.5 207.6h12v5h-12zM753.5 212.6h6v5h-6zM699.5 222.6h6v5h-6zM1227.5 222.6h6v5h-6zM1227.5 227.6h6v5h-6zM1227.5 232.6h6v5h-6zM759.5 257.6h12v5h-12zM759.5 262.6h12v5h-12zM1095.5 262.6h12v5h-12zM759.5 267.6h6v5h-6zM1095.5 267.6h6v5h-6zM711.5 272.6h6v5h-6zM1095.5 272.6h6v5h-6zM1203.5 272.6h6v5h-6zM777.5 277.6h24v5h-24zM1095.5 277.6h12v5h-12zM1197.5 277.6h12v5h-12zM1221.5 277.6h6v5h-6zM723.5 282.6h6v5h-6zM771.5 282.6h6v5h-6zM885.5 282.6h18v5h-18zM1137.5 282.6h18v5h-18zM1197.5 282.6h12v5h-12zM1221.5 282.6h6v5h-6zM741.5 287.6h12v5h-12zM771.5 287.6h6v5h-6zM903.5 287.6h12v5h-12zM1077.5 287.6h12v5h-12zM1131.5 287.6h6v5h-6zM1155.5 287.6h6v5h-6zM1173.5 287.6h6v5h-6zM1197.5 287.6h12v5h-12zM1221.5 287.6h6v5h-6zM735.5 292.6h6v5h-6zM759.5 292.6h6v5h-6zM771.5 292.6h6v5h-6zM813.5 292.6h6v5h-6zM831.5 292.6h12v5h-12zM1071.5 292.6h6v5h-6zM1083.5 292.6h6v5h-6zM1107.5 292.6h6v5h-6zM1125.5 292.6h12v5h-12zM1161.5 292.6h12v5h-12zM1197.5 292.6h24v5h-24zM765.5 297.6h12v5h-12zM819.5 297.6h6v5h-6zM861.5 297.6h6v5h-6zM921.5 297.6h6v5h-6zM1065.5 297.6h6v5h-6zM1089.5 297.6h18v5h-18zM1203.5 297.6h6v5h-6zM1005.5 302.6h24v5h-24zM1047.5 302.6h12v5h-12zM933.5 307.6h6v5h-6zM987.5 307.6h6v5h-6zM969.5 312.6h12v5h-12z"/><path fill="#131313" d="M981.5 47.6h6v5h-6zM999.5 67.6h6v5h-6zM1005.5 82.6h6v5h-6zM1011.5 97.6h6v5h-6zM1011.5 107.6h6v5h-6zM1011.5 112.6h6v5h-6zM1011.5 117.6h6v5h-6zM909.5 122.6h6v5h-6zM909.5 137.6h6v5h-6zM1017.5 137.6h6v5h-6zM1023.5 157.6h6v5h-6zM1023.5 162.6h6v5h-6zM903.5 182.6h6v5h-6zM1035.5 182.6h6v5h-6zM1035.5 187.6h6v5h-6zM1035.5 192.6h6v5h-6zM1179.5 192.6h12v5h-12zM729.5 197.6h6v5h-6zM813.5 197.6h6v5h-6zM849.5 197.6h48v5h-48zM1077.5 197.6h6v5h-6zM1143.5 197.6h6v5h-6zM1173.5 197.6h6v5h-6zM717.5 202.6h6v5h-6zM735.5 202.6h6v5h-6zM783.5 202.6h6v5h-6zM801.5 202.6h6v5h-6zM831.5 202.6h18v5h-18zM1053.5 202.6h6v5h-6zM1101.5 202.6h12v5h-12zM1125.5 202.6h12v5h-12zM1167.5 202.6h6v5h-6zM705.5 207.6h12v5h-12zM771.5 207.6h6v5h-6zM1107.5 207.6h12v5h-12zM1203.5 207.6h6v5h-6zM741.5 212.6h6v5h-6zM759.5 212.6h6v5h-6zM1113.5 212.6h6v5h-6zM747.5 217.6h6v5h-6zM699.5 227.6h6v5h-6zM765.5 247.6h6v5h-6zM759.5 252.6h12v5h-12zM699.5 257.6h6v5h-6zM753.5 257.6h6v5h-6zM1095.5 257.6h12v5h-12zM753.5 262.6h6v5h-6zM1107.5 262.6h6v5h-6zM705.5 267.6h6v5h-6zM765.5 267.6h6v5h-6zM1107.5 267.6h6v5h-6zM717.5 272.6h6v5h-6zM765.5 272.6h36v5h-36zM1089.5 272.6h6v5h-6zM1107.5 272.6h6v5h-6zM1185.5 272.6h18v5h-18zM1221.5 272.6h6v5h-6zM771.5 277.6h6v5h-6zM801.5 277.6h6v5h-6zM891.5 277.6h12v5h-12zM1023.5 277.6h6v5h-6zM1089.5 277.6h6v5h-6zM1179.5 277.6h6v5h-6zM1209.5 277.6h6v5h-6zM807.5 282.6h6v5h-6zM879.5 282.6h6v5h-6zM903.5 282.6h6v5h-6zM1041.5 282.6h12v5h-12zM1083.5 282.6h24v5h-24zM1131.5 282.6h6v5h-6zM1209.5 282.6h6v5h-6zM729.5 287.6h12v5h-12zM753.5 287.6h6v5h-6zM873.5 287.6h6v5h-6zM915.5 287.6h6v5h-6zM1071.5 287.6h6v5h-6zM1089.5 287.6h42v5h-42zM1209.5 287.6h12v5h-12zM765.5 292.6h6v5h-6zM825.5 292.6h6v5h-6zM843.5 292.6h6v5h-6zM867.5 292.6h6v5h-6zM1065.5 292.6h6v5h-6zM1089.5 292.6h18v5h-18zM849.5 297.6h12v5h-12zM1011.5 297.6h18v5h-18zM1041.5 297.6h12v5h-12zM1059.5 297.6h6v5h-6zM927.5 302.6h6v5h-6z"/><path fill="#141414" d="M921.5 77.6h6v5h-6zM915.5 87.6h6v5h-6zM909.5 97.6h6v5h-6zM909.5 102.6h6v5h-6zM1011.5 102.6h6v5h-6zM909.5 112.6h6v5h-6zM909.5 117.6h6v5h-6zM1011.5 122.6h6v5h-6zM1017.5 142.6h6v5h-6zM909.5 162.6h6v5h-6zM909.5 167.6h6v5h-6zM1023.5 167.6h6v5h-6zM1029.5 177.6h6v5h-6zM903.5 187.6h6v5h-6zM897.5 197.6h6v5h-6zM1035.5 197.6h6v5h-6zM1155.5 197.6h6v5h-6zM1179.5 197.6h12v5h-12zM789.5 202.6h12v5h-12zM807.5 202.6h6v5h-6zM825.5 202.6h6v5h-6zM867.5 202.6h12v5h-12zM1041.5 202.6h12v5h-12zM1071.5 202.6h6v5h-6zM1083.5 202.6h18v5h-18zM1137.5 202.6h6v5h-6zM1161.5 202.6h6v5h-6zM1173.5 202.6h6v5h-6zM1191.5 202.6h6v5h-6zM777.5 207.6h6v5h-6zM837.5 207.6h6v5h-6zM1059.5 207.6h6v5h-6zM1119.5 207.6h6v5h-6zM1173.5 207.6h6v5h-6zM1197.5 207.6h6v5h-6zM705.5 212.6h6v5h-6zM765.5 212.6h12v5h-12zM1107.5 212.6h6v5h-6zM1173.5 212.6h6v5h-6zM1221.5 212.6h6v5h-6zM741.5 217.6h6v5h-6zM753.5 217.6h6v5h-6zM699.5 232.6h6v5h-6zM699.5 237.6h6v5h-6zM699.5 242.6h6v5h-6zM699.5 247.6h6v5h-6zM759.5 247.6h6v5h-6zM789.5 247.6h12v5h-12zM699.5 252.6h6v5h-6zM753.5 252.6h6v5h-6zM771.5 252.6h6v5h-6zM789.5 252.6h12v5h-12zM1101.5 252.6h6v5h-6zM771.5 257.6h6v5h-6zM789.5 257.6h12v5h-12zM1107.5 257.6h6v5h-6zM771.5 262.6h6v5h-6zM789.5 262.6h6v5h-6zM1089.5 262.6h6v5h-6zM711.5 267.6h6v5h-6zM753.5 267.6h6v5h-6zM771.5 267.6h30v5h-30zM1089.5 267.6h6v5h-6zM1203.5 267.6h6v5h-6zM1221.5 267.6h6v5h-6zM759.5 272.6h6v5h-6zM1023.5 272.6h12v5h-12zM1179.5 272.6h6v5h-6zM1209.5 272.6h6v5h-6zM723.5 277.6h6v5h-6zM765.5 277.6h6v5h-6zM885.5 277.6h6v5h-6zM903.5 277.6h6v5h-6zM1029.5 277.6h24v5h-24zM1083.5 277.6h6v5h-6zM1107.5 277.6h6v5h-6zM1131.5 277.6h24v5h-24zM1215.5 277.6h6v5h-6zM729.5 282.6h6v5h-6zM741.5 282.6h12v5h-12zM765.5 282.6h6v5h-6zM909.5 282.6h6v5h-6zM1023.5 282.6h18v5h-18zM1053.5 282.6h12v5h-12zM1071.5 282.6h12v5h-12zM1107.5 282.6h24v5h-24zM1155.5 282.6h6v5h-6zM1173.5 282.6h6v5h-6zM1215.5 282.6h6v5h-6zM759.5 287.6h12v5h-12zM813.5 287.6h6v5h-6zM831.5 287.6h18v5h-18zM1023.5 287.6h12v5h-12zM1041.5 287.6h30v5h-30zM1161.5 287.6h12v5h-12zM819.5 292.6h6v5h-6zM849.5 292.6h6v5h-6zM921.5 292.6h6v5h-6zM1011.5 292.6h24v5h-24zM1041.5 292.6h24v5h-24zM1005.5 297.6h6v5h-6zM1029.5 297.6h12v5h-12zM1053.5 297.6h6v5h-6zM993.5 302.6h12v5h-12zM939.5 307.6h6v5h-6zM981.5 307.6h6v5h-6z"/><path fill="#151515" d="M951.5 32.6h6v5h-6zM951.5 37.6h6v5h-6zM951.5 42.6h6v5h-6zM945.5 47.6h6v5h-6zM909.5 107.6h6v5h-6zM1011.5 127.6h6v5h-6zM909.5 142.6h6v5h-6zM1017.5 147.6h6v5h-6zM909.5 157.6h6v5h-6zM909.5 172.6h6v5h-6zM1023.5 172.6h6v5h-6zM1023.5 177.6h6v5h-6zM1029.5 182.6h6v5h-6zM1029.5 187.6h6v5h-6zM1029.5 192.6h6v5h-6zM1149.5 197.6h6v5h-6zM723.5 202.6h12v5h-12zM813.5 202.6h12v5h-12zM849.5 202.6h18v5h-18zM879.5 202.6h6v5h-6zM1035.5 202.6h6v5h-6zM1077.5 202.6h6v5h-6zM1143.5 202.6h6v5h-6zM1179.5 202.6h12v5h-12zM717.5 207.6h6v5h-6zM735.5 207.6h6v5h-6zM783.5 207.6h6v5h-6zM801.5 207.6h12v5h-12zM831.5 207.6h6v5h-6zM843.5 207.6h6v5h-6zM1065.5 207.6h6v5h-6zM1101.5 207.6h6v5h-6zM1125.5 207.6h6v5h-6zM1167.5 207.6h6v5h-6zM1179.5 207.6h6v5h-6zM711.5 212.6h6v5h-6zM777.5 212.6h6v5h-6zM1119.5 212.6h6v5h-6zM1167.5 212.6h6v5h-6zM1179.5 212.6h6v5h-6zM1209.5 212.6h12v5h-12zM705.5 217.6h6v5h-6zM759.5 217.6h18v5h-18zM1107.5 217.6h12v5h-12zM1173.5 217.6h12v5h-12zM741.5 222.6h12v5h-12zM771.5 222.6h6v5h-6zM1173.5 222.6h12v5h-12zM741.5 227.6h6v5h-6zM765.5 242.6h6v5h-6zM789.5 242.6h12v5h-12zM771.5 247.6h6v5h-6zM747.5 252.6h6v5h-6zM783.5 252.6h6v5h-6zM801.5 252.6h6v5h-6zM1095.5 252.6h6v5h-6zM1107.5 252.6h6v5h-6zM747.5 257.6h6v5h-6zM777.5 257.6h12v5h-12zM1089.5 257.6h6v5h-6zM1161.5 257.6h18v5h-18zM747.5 262.6h6v5h-6zM777.5 262.6h12v5h-12zM795.5 262.6h6v5h-6zM837.5 262.6h6v5h-6zM1161.5 262.6h18v5h-18zM747.5 267.6h6v5h-6zM837.5 267.6h12v5h-12zM1017.5 267.6h18v5h-18zM1113.5 267.6h6v5h-6zM1161.5 267.6h12v5h-12zM1185.5 267.6h6v5h-6zM1197.5 267.6h6v5h-6zM1209.5 267.6h6v5h-6zM753.5 272.6h6v5h-6zM801.5 272.6h6v5h-6zM843.5 272.6h12v5h-12zM891.5 272.6h18v5h-18zM1017.5 272.6h6v5h-6zM1035.5 272.6h12v5h-12zM1083.5 272.6h6v5h-6zM1131.5 272.6h6v5h-6zM1155.5 272.6h12v5h-12zM1215.5 272.6h6v5h-6zM747.5 277.6h18v5h-18zM807.5 277.6h6v5h-6zM843.5 277.6h6v5h-6zM909.5 277.6h6v5h-6zM1017.5 277.6h6v5h-6zM1053.5 277.6h12v5h-12zM1113.5 277.6h6v5h-6zM1125.5 277.6h6v5h-6zM1155.5 277.6h12v5h-12zM1173.5 277.6h6v5h-6zM735.5 282.6h6v5h-6zM753.5 282.6h12v5h-12zM813.5 282.6h6v5h-6zM837.5 282.6h12v5h-12zM873.5 282.6h6v5h-6zM1017.5 282.6h6v5h-6zM1065.5 282.6h6v5h-6zM1161.5 282.6h12v5h-12zM825.5 287.6h6v5h-6zM867.5 287.6h6v5h-6zM1011.5 287.6h12v5h-12zM1035.5 287.6h6v5h-6zM855.5 292.6h12v5h-12zM1005.5 292.6h6v5h-6zM1035.5 292.6h6v5h-6zM993.5 297.6h12v5h-12zM987.5 302.6h6v5h-6zM945.5 307.6h6v5h-6zM975.5 307.6h6v5h-6z"/><path fill="#161616" d="M975.5 32.6h6v5h-6zM975.5 37.6h6v5h-6zM975.5 42.6h6v5h-6zM933.5 57.6h6v5h-6zM927.5 67.6h6v5h-6zM1011.5 132.6h6v5h-6zM909.5 147.6h6v5h-6zM909.5 152.6h6v5h-6zM1017.5 152.6h6v5h-6zM1017.5 157.6h6v5h-6zM1017.5 162.6h6v5h-6zM1023.5 182.6h6v5h-6zM903.5 192.6h6v5h-6zM1029.5 197.6h6v5h-6zM885.5 202.6h12v5h-12zM1155.5 202.6h6v5h-6zM789.5 207.6h12v5h-12zM813.5 207.6h6v5h-6zM825.5 207.6h6v5h-6zM849.5 207.6h30v5h-30zM1053.5 207.6h6v5h-6zM1083.5 207.6h18v5h-18zM1131.5 207.6h12v5h-12zM1161.5 207.6h6v5h-6zM1185.5 207.6h12v5h-12zM717.5 212.6h6v5h-6zM735.5 212.6h6v5h-6zM801.5 212.6h12v5h-12zM831.5 212.6h18v5h-18zM1101.5 212.6h6v5h-6zM1185.5 212.6h6v5h-6zM1203.5 212.6h6v5h-6zM711.5 217.6h6v5h-6zM777.5 217.6h6v5h-6zM837.5 217.6h6v5h-6zM1119.5 217.6h6v5h-6zM1167.5 217.6h6v5h-6zM1221.5 217.6h6v5h-6zM705.5 222.6h12v5h-12zM753.5 222.6h6v5h-6zM765.5 222.6h6v5h-6zM1167.5 222.6h6v5h-6zM705.5 227.6h6v5h-6zM735.5 227.6h6v5h-6zM747.5 227.6h6v5h-6zM765.5 227.6h6v5h-6zM1047.5 227.6h6v5h-6zM1173.5 227.6h12v5h-12zM735.5 232.6h12v5h-12zM765.5 232.6h6v5h-6zM1047.5 232.6h12v5h-12zM759.5 237.6h12v5h-12zM1047.5 237.6h12v5h-12zM1161.5 237.6h12v5h-12zM759.5 242.6h6v5h-6zM771.5 242.6h6v5h-6zM1047.5 242.6h12v5h-12zM1155.5 242.6h18v5h-18zM753.5 247.6h6v5h-6zM783.5 247.6h6v5h-6zM801.5 247.6h6v5h-6zM1047.5 247.6h12v5h-12zM1095.5 247.6h18v5h-18zM1155.5 247.6h24v5h-24zM741.5 252.6h6v5h-6zM777.5 252.6h6v5h-6zM1155.5 252.6h24v5h-24zM741.5 257.6h6v5h-6zM801.5 257.6h6v5h-6zM1065.5 257.6h12v5h-12zM1113.5 257.6h6v5h-6zM1155.5 257.6h6v5h-6zM705.5 262.6h6v5h-6zM741.5 262.6h6v5h-6zM801.5 262.6h6v5h-6zM843.5 262.6h6v5h-6zM1023.5 262.6h6v5h-6zM1065.5 262.6h12v5h-12zM1083.5 262.6h6v5h-6zM1113.5 262.6h6v5h-6zM1155.5 262.6h6v5h-6zM1179.5 262.6h6v5h-6zM1203.5 262.6h12v5h-12zM1221.5 262.6h6v5h-6zM717.5 267.6h6v5h-6zM801.5 267.6h6v5h-6zM849.5 267.6h6v5h-6zM897.5 267.6h12v5h-12zM1035.5 267.6h6v5h-6zM1083.5 267.6h6v5h-6zM1155.5 267.6h6v5h-6zM1173.5 267.6h12v5h-12zM1191.5 267.6h6v5h-6zM1215.5 267.6h6v5h-6zM723.5 272.6h6v5h-6zM741.5 272.6h12v5h-12zM807.5 272.6h6v5h-6zM837.5 272.6h6v5h-6zM885.5 272.6h6v5h-6zM909.5 272.6h6v5h-6zM1047.5 272.6h6v5h-6zM1113.5 272.6h6v5h-6zM1125.5 272.6h6v5h-6zM1137.5 272.6h18v5h-18zM1167.5 272.6h12v5h-12zM729.5 277.6h18v5h-18zM837.5 277.6h6v5h-6zM849.5 277.6h6v5h-6zM879.5 277.6h6v5h-6zM1065.5 277.6h18v5h-18zM1119.5 277.6h6v5h-6zM1167.5 277.6h6v5h-6zM831.5 282.6h6v5h-6zM849.5 282.6h6v5h-6zM915.5 282.6h6v5h-6zM1011.5 282.6h6v5h-6zM819.5 287.6h6v5h-6zM849.5 287.6h6v5h-6zM999.5 287.6h12v5h-12zM993.5 292.6h12v5h-12zM927.5 297.6h6v5h-6zM933.5 302.6h6v5h-6zM951.5 307.6h24v5h-24z"/><path fill="#171717" d="M993.5 62.6h6v5h-6zM1005.5 87.6h6v5h-6zM1011.5 137.6h6v5h-6zM1017.5 167.6h6v5h-6zM909.5 177.6h6v5h-6zM1023.5 187.6h6v5h-6zM1023.5 192.6h6v5h-6zM903.5 197.6h6v5h-6zM897.5 202.6h6v5h-6zM1029.5 202.6h6v5h-6zM1149.5 202.6h6v5h-6zM723.5 207.6h12v5h-12zM819.5 207.6h6v5h-6zM879.5 207.6h6v5h-6zM1035.5 207.6h18v5h-18zM1071.5 207.6h12v5h-12zM1143.5 207.6h6v5h-6zM1155.5 207.6h6v5h-6zM783.5 212.6h6v5h-6zM795.5 212.6h6v5h-6zM813.5 212.6h6v5h-6zM825.5 212.6h6v5h-6zM849.5 212.6h30v5h-30zM1041.5 212.6h6v5h-6zM1059.5 212.6h12v5h-12zM1125.5 212.6h6v5h-6zM1161.5 212.6h6v5h-6zM1191.5 212.6h12v5h-12zM717.5 217.6h6v5h-6zM735.5 217.6h6v5h-6zM795.5 217.6h18v5h-18zM831.5 217.6h6v5h-6zM843.5 217.6h12v5h-12zM867.5 217.6h6v5h-6zM1041.5 217.6h6v5h-6zM1059.5 217.6h12v5h-12zM1161.5 217.6h6v5h-6zM1185.5 217.6h6v5h-6zM1209.5 217.6h12v5h-12zM717.5 222.6h6v5h-6zM735.5 222.6h6v5h-6zM759.5 222.6h6v5h-6zM777.5 222.6h6v5h-6zM795.5 222.6h6v5h-6zM831.5 222.6h18v5h-18zM1041.5 222.6h12v5h-12zM1059.5 222.6h12v5h-12zM1107.5 222.6h18v5h-18zM1185.5 222.6h6v5h-6zM711.5 227.6h12v5h-12zM753.5 227.6h12v5h-12zM771.5 227.6h6v5h-6zM855.5 227.6h6v5h-6zM1041.5 227.6h6v5h-6zM1053.5 227.6h18v5h-18zM1167.5 227.6h6v5h-6zM1185.5 227.6h6v5h-6zM705.5 232.6h30v5h-30zM747.5 232.6h6v5h-6zM759.5 232.6h6v5h-6zM855.5 232.6h12v5h-12zM1041.5 232.6h6v5h-6zM1059.5 232.6h6v5h-6zM1161.5 232.6h24v5h-24zM717.5 237.6h30v5h-30zM753.5 237.6h6v5h-6zM771.5 237.6h6v5h-6zM789.5 237.6h12v5h-12zM1041.5 237.6h6v5h-6zM1059.5 237.6h6v5h-6zM1155.5 237.6h6v5h-6zM1173.5 237.6h6v5h-6zM1221.5 237.6h6v5h-6zM735.5 242.6h12v5h-12zM753.5 242.6h6v5h-6zM783.5 242.6h6v5h-6zM1041.5 242.6h6v5h-6zM1095.5 242.6h12v5h-12zM1113.5 242.6h6v5h-6zM1149.5 242.6h6v5h-6zM1173.5 242.6h6v5h-6zM1221.5 242.6h6v5h-6zM741.5 247.6h12v5h-12zM777.5 247.6h6v5h-6zM1041.5 247.6h6v5h-6zM1059.5 247.6h6v5h-6zM1113.5 247.6h6v5h-6zM807.5 252.6h6v5h-6zM1041.5 252.6h36v5h-36zM1089.5 252.6h6v5h-6zM1113.5 252.6h6v5h-6zM1179.5 252.6h6v5h-6zM807.5 257.6h6v5h-6zM837.5 257.6h6v5h-6zM1059.5 257.6h6v5h-6zM1077.5 257.6h12v5h-12zM1179.5 257.6h6v5h-6zM711.5 262.6h6v5h-6zM831.5 262.6h6v5h-6zM849.5 262.6h6v5h-6zM1017.5 262.6h6v5h-6zM1029.5 262.6h12v5h-12zM1059.5 262.6h6v5h-6zM1077.5 262.6h6v5h-6zM1185.5 262.6h6v5h-6zM1197.5 262.6h6v5h-6zM741.5 267.6h6v5h-6zM807.5 267.6h6v5h-6zM831.5 267.6h6v5h-6zM891.5 267.6h6v5h-6zM1041.5 267.6h6v5h-6zM1065.5 267.6h18v5h-18zM1119.5 267.6h18v5h-18zM1149.5 267.6h6v5h-6zM729.5 272.6h12v5h-12zM831.5 272.6h6v5h-6zM1011.5 272.6h6v5h-6zM1053.5 272.6h30v5h-30zM1119.5 272.6h6v5h-6zM813.5 277.6h6v5h-6zM831.5 277.6h6v5h-6zM915.5 277.6h6v5h-6zM1011.5 277.6h6v5h-6zM819.5 282.6h12v5h-12zM1005.5 282.6h6v5h-6zM855.5 287.6h12v5h-12zM921.5 287.6h6v5h-6zM993.5 287.6h6v5h-6zM987.5 297.6h6v5h-6zM981.5 302.6h6v5h-6z"/><path fill="#181818" d="M939.5 52.6h6v5h-6zM999.5 72.6h6v5h-6zM921.5 82.6h6v5h-6zM915.5 92.6h6v5h-6zM1017.5 172.6h6v5h-6zM1023.5 197.6h6v5h-6zM885.5 207.6h12v5h-12zM1029.5 207.6h6v5h-6zM1149.5 207.6h6v5h-6zM723.5 212.6h6v5h-6zM789.5 212.6h6v5h-6zM819.5 212.6h6v5h-6zM879.5 212.6h6v5h-6zM1035.5 212.6h6v5h-6zM1047.5 212.6h12v5h-12zM1071.5 212.6h6v5h-6zM1083.5 212.6h18v5h-18zM1131.5 212.6h12v5h-12zM1155.5 212.6h6v5h-6zM783.5 217.6h12v5h-12zM813.5 217.6h6v5h-6zM825.5 217.6h6v5h-6zM855.5 217.6h12v5h-12zM873.5 217.6h6v5h-6zM1047.5 217.6h12v5h-12zM1089.5 217.6h6v5h-6zM1101.5 217.6h6v5h-6zM1125.5 217.6h12v5h-12zM1203.5 217.6h6v5h-6zM723.5 222.6h6v5h-6zM783.5 222.6h12v5h-12zM801.5 222.6h12v5h-12zM825.5 222.6h6v5h-6zM849.5 222.6h24v5h-24zM1053.5 222.6h6v5h-6zM1125.5 222.6h12v5h-12zM1161.5 222.6h6v5h-6zM1215.5 222.6h12v5h-12zM723.5 227.6h12v5h-12zM777.5 227.6h24v5h-24zM831.5 227.6h24v5h-24zM861.5 227.6h12v5h-12zM1113.5 227.6h18v5h-18zM1161.5 227.6h6v5h-6zM1221.5 227.6h6v5h-6zM753.5 232.6h6v5h-6zM771.5 232.6h6v5h-6zM789.5 232.6h12v5h-12zM837.5 232.6h18v5h-18zM1065.5 232.6h6v5h-6zM1119.5 232.6h6v5h-6zM1149.5 232.6h12v5h-12zM1185.5 232.6h6v5h-6zM1221.5 232.6h6v5h-6zM711.5 237.6h6v5h-6zM747.5 237.6h6v5h-6zM783.5 237.6h6v5h-6zM843.5 237.6h24v5h-24zM1095.5 237.6h6v5h-6zM1113.5 237.6h12v5h-12zM1149.5 237.6h6v5h-6zM1179.5 237.6h6v5h-6zM717.5 242.6h18v5h-18zM747.5 242.6h6v5h-6zM777.5 242.6h6v5h-6zM801.5 242.6h6v5h-6zM1059.5 242.6h6v5h-6zM1107.5 242.6h6v5h-6zM1119.5 242.6h6v5h-6zM1179.5 242.6h6v5h-6zM735.5 247.6h6v5h-6zM807.5 247.6h6v5h-6zM1065.5 247.6h6v5h-6zM1089.5 247.6h6v5h-6zM1119.5 247.6h6v5h-6zM1149.5 247.6h6v5h-6zM1179.5 247.6h6v5h-6zM1221.5 247.6h6v5h-6zM735.5 252.6h6v5h-6zM1035.5 252.6h6v5h-6zM1149.5 252.6h6v5h-6zM1221.5 252.6h6v5h-6zM705.5 257.6h6v5h-6zM735.5 257.6h6v5h-6zM831.5 257.6h6v5h-6zM843.5 257.6h6v5h-6zM1017.5 257.6h42v5h-42zM1149.5 257.6h6v5h-6zM1185.5 257.6h6v5h-6zM1203.5 257.6h12v5h-12zM1221.5 257.6h6v5h-6zM717.5 262.6h6v5h-6zM735.5 262.6h6v5h-6zM807.5 262.6h6v5h-6zM825.5 262.6h6v5h-6zM891.5 262.6h18v5h-18zM1011.5 262.6h6v5h-6zM1041.5 262.6h6v5h-6zM1119.5 262.6h6v5h-6zM1149.5 262.6h6v5h-6zM1191.5 262.6h6v5h-6zM1215.5 262.6h6v5h-6zM723.5 267.6h18v5h-18zM813.5 267.6h18v5h-18zM885.5 267.6h6v5h-6zM909.5 267.6h6v5h-6zM1011.5 267.6h6v5h-6zM1047.5 267.6h6v5h-6zM1059.5 267.6h6v5h-6zM1137.5 267.6h12v5h-12zM813.5 272.6h18v5h-18zM855.5 272.6h6v5h-6zM879.5 272.6h6v5h-6zM819.5 277.6h12v5h-12zM855.5 277.6h6v5h-6zM873.5 277.6h6v5h-6zM855.5 282.6h6v5h-6zM867.5 282.6h6v5h-6zM999.5 282.6h6v5h-6zM987.5 292.6h6v5h-6zM939.5 302.6h6v5h-6z"/><path fill="#191919" d="M957.5 32.6h6v5h-6zM957.5 37.6h6v5h-6zM957.5 42.6h6v5h-6zM951.5 47.6h6v5h-6zM975.5 47.6h6v5h-6zM987.5 57.6h6v5h-6zM915.5 117.6h6v5h-6zM915.5 122.6h6v5h-6zM915.5 127.6h6v5h-6zM915.5 132.6h6v5h-6zM1011.5 142.6h6v5h-6zM1017.5 177.6h6v5h-6zM909.5 182.6h6v5h-6zM1017.5 182.6h6v5h-6zM903.5 202.6h6v5h-6zM1023.5 202.6h6v5h-6zM897.5 207.6h6v5h-6zM729.5 212.6h6v5h-6zM885.5 212.6h12v5h-12zM1077.5 212.6h6v5h-6zM1143.5 212.6h12v5h-12zM723.5 217.6h12v5h-12zM819.5 217.6h6v5h-6zM879.5 217.6h12v5h-12zM1035.5 217.6h6v5h-6zM1071.5 217.6h18v5h-18zM1095.5 217.6h6v5h-6zM1137.5 217.6h12v5h-12zM1155.5 217.6h6v5h-6zM1191.5 217.6h12v5h-12zM729.5 222.6h6v5h-6zM813.5 222.6h12v5h-12zM873.5 222.6h18v5h-18zM1071.5 222.6h6v5h-6zM1089.5 222.6h6v5h-6zM1101.5 222.6h6v5h-6zM1137.5 222.6h12v5h-12zM1155.5 222.6h6v5h-6zM1209.5 222.6h6v5h-6zM801.5 227.6h6v5h-6zM825.5 227.6h6v5h-6zM873.5 227.6h6v5h-6zM885.5 227.6h12v5h-12zM1071.5 227.6h6v5h-6zM1107.5 227.6h6v5h-6zM1131.5 227.6h30v5h-30zM1191.5 227.6h6v5h-6zM1215.5 227.6h6v5h-6zM777.5 232.6h12v5h-12zM831.5 232.6h6v5h-6zM867.5 232.6h6v5h-6zM1095.5 232.6h6v5h-6zM1113.5 232.6h6v5h-6zM1125.5 232.6h24v5h-24zM1191.5 232.6h6v5h-6zM1215.5 232.6h6v5h-6zM705.5 237.6h6v5h-6zM777.5 237.6h6v5h-6zM801.5 237.6h6v5h-6zM837.5 237.6h6v5h-6zM867.5 237.6h6v5h-6zM1035.5 237.6h6v5h-6zM1065.5 237.6h6v5h-6zM1101.5 237.6h12v5h-12zM1125.5 237.6h6v5h-6zM1143.5 237.6h6v5h-6zM1185.5 237.6h6v5h-6zM1215.5 237.6h6v5h-6zM807.5 242.6h6v5h-6zM843.5 242.6h12v5h-12zM1035.5 242.6h6v5h-6zM1065.5 242.6h6v5h-6zM1089.5 242.6h6v5h-6zM1125.5 242.6h6v5h-6zM723.5 247.6h12v5h-12zM813.5 247.6h6v5h-6zM1029.5 247.6h12v5h-12zM729.5 252.6h6v5h-6zM813.5 252.6h6v5h-6zM837.5 252.6h12v5h-12zM1023.5 252.6h12v5h-12zM1077.5 252.6h12v5h-12zM1119.5 252.6h6v5h-6zM1185.5 252.6h6v5h-6zM1203.5 252.6h12v5h-12zM729.5 257.6h6v5h-6zM813.5 257.6h18v5h-18zM849.5 257.6h6v5h-6zM1011.5 257.6h6v5h-6zM1119.5 257.6h6v5h-6zM1191.5 257.6h12v5h-12zM1215.5 257.6h6v5h-6zM723.5 262.6h12v5h-12zM813.5 262.6h12v5h-12zM885.5 262.6h6v5h-6zM1047.5 262.6h12v5h-12zM1125.5 262.6h12v5h-12zM855.5 267.6h6v5h-6zM1053.5 267.6h6v5h-6zM915.5 272.6h6v5h-6zM1005.5 277.6h6v5h-6zM861.5 282.6h6v5h-6zM921.5 282.6h6v5h-6zM993.5 282.6h6v5h-6zM927.5 292.6h6v5h-6z"/><path fill="#1a1a1a" d="M969.5 32.6h6v5h-6zM969.5 37.6h6v5h-6zM969.5 42.6h6v5h-6zM915.5 97.6h6v5h-6zM915.5 102.6h6v5h-6zM915.5 107.6h6v5h-6zM915.5 112.6h6v5h-6zM915.5 137.6h6v5h-6zM915.5 142.6h6v5h-6zM1011.5 147.6h6v5h-6zM1011.5 152.6h6v5h-6zM1011.5 157.6h6v5h-6zM1017.5 187.6h6v5h-6zM1023.5 207.6h6v5h-6zM1029.5 212.6h6v5h-6zM891.5 217.6h6v5h-6zM1149.5 217.6h6v5h-6zM891.5 222.6h6v5h-6zM1035.5 222.6h6v5h-6zM1077.5 222.6h12v5h-12zM1095.5 222.6h6v5h-6zM1149.5 222.6h6v5h-6zM1191.5 222.6h6v5h-6zM1203.5 222.6h6v5h-6zM807.5 227.6h18v5h-18zM879.5 227.6h6v5h-6zM1035.5 227.6h6v5h-6zM1089.5 227.6h18v5h-18zM1209.5 227.6h6v5h-6zM801.5 232.6h6v5h-6zM819.5 232.6h12v5h-12zM873.5 232.6h24v5h-24zM1035.5 232.6h6v5h-6zM1071.5 232.6h6v5h-6zM1089.5 232.6h6v5h-6zM1101.5 232.6h12v5h-12zM1209.5 232.6h6v5h-6zM831.5 237.6h6v5h-6zM873.5 237.6h6v5h-6zM885.5 237.6h12v5h-12zM1089.5 237.6h6v5h-6zM1131.5 237.6h12v5h-12zM1191.5 237.6h6v5h-6zM1209.5 237.6h6v5h-6zM705.5 242.6h12v5h-12zM813.5 242.6h6v5h-6zM837.5 242.6h6v5h-6zM855.5 242.6h24v5h-24zM1029.5 242.6h6v5h-6zM1143.5 242.6h6v5h-6zM1185.5 242.6h6v5h-6zM1215.5 242.6h6v5h-6zM717.5 247.6h6v5h-6zM819.5 247.6h6v5h-6zM837.5 247.6h18v5h-18zM873.5 247.6h12v5h-12zM1023.5 247.6h6v5h-6zM1071.5 247.6h6v5h-6zM1125.5 247.6h6v5h-6zM1143.5 247.6h6v5h-6zM1185.5 247.6h6v5h-6zM1203.5 247.6h18v5h-18zM705.5 252.6h6v5h-6zM717.5 252.6h12v5h-12zM819.5 252.6h18v5h-18zM879.5 252.6h6v5h-6zM1017.5 252.6h6v5h-6zM1125.5 252.6h6v5h-6zM1191.5 252.6h12v5h-12zM1215.5 252.6h6v5h-6zM711.5 257.6h18v5h-18zM879.5 257.6h24v5h-24zM1125.5 257.6h12v5h-12zM879.5 262.6h6v5h-6zM909.5 262.6h6v5h-6zM1137.5 262.6h12v5h-12zM879.5 267.6h6v5h-6zM873.5 272.6h6v5h-6zM1005.5 272.6h6v5h-6zM861.5 277.6h12v5h-12zM999.5 277.6h6v5h-6zM987.5 287.6h6v5h-6zM933.5 297.6h6v5h-6zM981.5 297.6h6v5h-6zM945.5 302.6h6v5h-6zM975.5 302.6h6v5h-6z"/><path fill="#1b1b1b" d="M963.5 32.6h6v5h-6zM963.5 37.6h6v5h-6zM963.5 42.6h6v5h-6zM981.5 52.6h6v5h-6zM927.5 72.6h6v5h-6zM1005.5 92.6h6v5h-6zM915.5 147.6h6v5h-6zM915.5 152.6h6v5h-6zM915.5 157.6h6v5h-6zM915.5 162.6h6v5h-6zM1011.5 162.6h6v5h-6zM909.5 187.6h6v5h-6zM1017.5 192.6h6v5h-6zM1017.5 197.6h6v5h-6zM1197.5 222.6h6v5h-6zM1077.5 227.6h12v5h-12zM1197.5 227.6h12v5h-12zM807.5 232.6h12v5h-12zM1197.5 232.6h12v5h-12zM807.5 237.6h24v5h-24zM879.5 237.6h6v5h-6zM1029.5 237.6h6v5h-6zM1071.5 237.6h6v5h-6zM1197.5 237.6h12v5h-12zM819.5 242.6h18v5h-18zM879.5 242.6h18v5h-18zM1023.5 242.6h6v5h-6zM1071.5 242.6h6v5h-6zM1131.5 242.6h12v5h-12zM1191.5 242.6h6v5h-6zM1203.5 242.6h12v5h-12zM705.5 247.6h12v5h-12zM825.5 247.6h12v5h-12zM867.5 247.6h6v5h-6zM885.5 247.6h6v5h-6zM1017.5 247.6h6v5h-6zM1077.5 247.6h12v5h-12zM1131.5 247.6h6v5h-6zM1191.5 247.6h12v5h-12zM711.5 252.6h6v5h-6zM849.5 252.6h6v5h-6zM873.5 252.6h6v5h-6zM885.5 252.6h12v5h-12zM1011.5 252.6h6v5h-6zM1131.5 252.6h6v5h-6zM1143.5 252.6h6v5h-6zM903.5 257.6h6v5h-6zM1137.5 257.6h12v5h-12zM855.5 262.6h6v5h-6zM873.5 267.6h6v5h-6zM915.5 267.6h6v5h-6zM861.5 272.6h12v5h-12zM921.5 277.6h6v5h-6zM927.5 287.6h6v5h-6z"/><path fill="#1c1c1c" d="M1005.5 112.6h6v5h-6zM915.5 167.6h6v5h-6zM1011.5 167.6h6v5h-6zM909.5 192.6h6v5h-6zM1017.5 202.6h6v5h-6zM903.5 207.6h6v5h-6zM897.5 212.6h6v5h-6zM1029.5 217.6h6v5h-6zM897.5 227.6h6v5h-6zM1029.5 232.6h6v5h-6zM1077.5 232.6h12v5h-12zM1083.5 237.6h6v5h-6zM1083.5 242.6h6v5h-6zM1197.5 242.6h6v5h-6zM855.5 247.6h12v5h-12zM891.5 247.6h6v5h-6zM1137.5 247.6h6v5h-6zM897.5 252.6h6v5h-6zM1137.5 252.6h6v5h-6zM855.5 257.6h6v5h-6zM873.5 257.6h6v5h-6zM873.5 262.6h6v5h-6zM861.5 267.6h12v5h-12zM1005.5 267.6h6v5h-6zM939.5 297.6h6v5h-6zM969.5 302.6h6v5h-6z"/><path fill="#1d1d1d" d="M957.5 47.6h6v5h-6zM999.5 77.6h6v5h-6zM921.5 87.6h6v5h-6zM1005.5 97.6h6v5h-6zM1005.5 107.6h6v5h-6zM1005.5 117.6h6v5h-6zM1011.5 172.6h6v5h-6zM909.5 197.6h6v5h-6zM1023.5 212.6h6v5h-6zM897.5 217.6h6v5h-6zM897.5 222.6h6v5h-6zM897.5 232.6h6v5h-6zM897.5 237.6h6v5h-6zM1023.5 237.6h6v5h-6zM1077.5 237.6h6v5h-6zM1077.5 242.6h6v5h-6zM897.5 247.6h6v5h-6zM855.5 252.6h6v5h-6zM867.5 252.6h6v5h-6zM909.5 257.6h6v5h-6zM1005.5 257.6h6v5h-6zM1005.5 262.6h6v5h-6zM993.5 277.6h6v5h-6zM927.5 282.6h6v5h-6zM987.5 282.6h6v5h-6zM933.5 292.6h6v5h-6zM981.5 292.6h6v5h-6zM951.5 302.6h6v5h-6z"/><path fill="#1e1e1e" d="M969.5 47.6h6v5h-6zM933.5 62.6h6v5h-6zM1005.5 102.6h6v5h-6zM1005.5 122.6h6v5h-6zM1011.5 177.6h6v5h-6zM909.5 202.6h6v5h-6zM1017.5 207.6h6v5h-6zM903.5 212.6h6v5h-6zM1029.5 222.6h6v5h-6zM1029.5 227.6h6v5h-6zM897.5 242.6h6v5h-6zM1017.5 242.6h6v5h-6zM1011.5 247.6h6v5h-6zM861.5 252.6h6v5h-6zM903.5 252.6h6v5h-6zM861.5 257.6h12v5h-12zM861.5 262.6h12v5h-12zM915.5 262.6h6v5h-6zM921.5 272.6h6v5h-6zM999.5 272.6h6v5h-6zM975.5 297.6h6v5h-6zM957.5 302.6h12v5h-12z"/><path fill="#1f1f1f" d="M945.5 52.6h6v5h-6zM993.5 67.6h6v5h-6zM1005.5 127.6h6v5h-6zM915.5 172.6h6v5h-6zM1011.5 182.6h6v5h-6zM1023.5 217.6h6v5h-6zM1023.5 232.6h6v5h-6zM1005.5 252.6h6v5h-6zM927.5 277.6h6v5h-6zM933.5 287.6h6v5h-6zM945.5 297.6h6v5h-6z"/><path fill="#202020" d="M963.5 47.6h6v5h-6zM1005.5 132.6h6v5h-6zM1005.5 137.6h6v5h-6zM1011.5 187.6h6v5h-6zM909.5 207.6h6v5h-6zM1017.5 212.6h6v5h-6zM903.5 217.6h6v5h-6zM1017.5 237.6h6v5h-6zM1011.5 242.6h6v5h-6zM903.5 247.6h6v5h-6zM981.5 287.6h6v5h-6zM939.5 292.6h6v5h-6z"/><path fill="#212121" d="M927.5 77.6h6v5h-6zM921.5 92.6h6v5h-6zM1005.5 142.6h6v5h-6zM915.5 177.6h6v5h-6zM903.5 222.6h6v5h-6zM1023.5 222.6h6v5h-6zM903.5 227.6h6v5h-6zM1023.5 227.6h6v5h-6zM1005.5 247.6h6v5h-6zM909.5 252.6h6v5h-6zM915.5 257.6h6v5h-6zM921.5 267.6h6v5h-6zM999.5 267.6h6v5h-6zM993.5 272.6h6v5h-6zM987.5 277.6h6v5h-6z"/><path fill="#222222" d="M939.5 57.6h6v5h-6zM999.5 82.6h6v5h-6zM1005.5 147.6h6v5h-6zM1005.5 152.6h6v5h-6zM1011.5 192.6h6v5h-6zM909.5 212.6h6v5h-6zM1017.5 217.6h6v5h-6zM903.5 232.6h6v5h-6zM1017.5 232.6h6v5h-6zM903.5 237.6h6v5h-6zM903.5 242.6h6v5h-6zM999.5 262.6h6v5h-6zM933.5 282.6h6v5h-6zM975.5 292.6h6v5h-6zM969.5 297.6h6v5h-6z"/><path fill="#232323" d="M987.5 62.6h6v5h-6zM921.5 97.6h6v5h-6zM921.5 112.6h6v5h-6zM921.5 117.6h6v5h-6zM1005.5 157.6h6v5h-6zM1005.5 162.6h6v5h-6zM915.5 182.6h6v5h-6zM1011.5 197.6h6v5h-6zM1011.5 237.6h6v5h-6zM909.5 247.6h6v5h-6zM915.5 252.6h6v5h-6zM999.5 257.6h6v5h-6zM927.5 272.6h6v5h-6zM981.5 282.6h6v5h-6z"/><path fill="#242424" d="M975.5 52.6h6v5h-6zM921.5 102.6h6v5h-6zM921.5 107.6h6v5h-6zM921.5 122.6h6v5h-6zM1011.5 202.6h6v5h-6zM1011.5 207.6h6v5h-6zM909.5 217.6h6v5h-6zM1017.5 222.6h6v5h-6zM1017.5 227.6h6v5h-6zM921.5 262.6h6v5h-6zM933.5 277.6h6v5h-6zM939.5 287.6h6v5h-6zM945.5 292.6h6v5h-6zM951.5 297.6h6v5h-6z"/><path fill="#252525" d="M951.5 52.6h6v5h-6zM981.5 57.6h6v5h-6zM921.5 127.6h6v5h-6zM921.5 157.6h6v5h-6zM1005.5 167.6h6v5h-6zM915.5 187.6h6v5h-6zM1011.5 212.6h6v5h-6zM1011.5 232.6h6v5h-6zM1005.5 242.6h6v5h-6zM999.5 252.6h6v5h-6zM987.5 272.6h6v5h-6z"/><path fill="#262626" d="M933.5 67.6h6v5h-6zM921.5 132.6h6v5h-6zM921.5 137.6h6v5h-6zM921.5 152.6h6v5h-6zM921.5 162.6h6v5h-6zM915.5 192.6h6v5h-6zM1011.5 217.6h6v5h-6zM909.5 222.6h6v5h-6zM909.5 242.6h6v5h-6zM915.5 247.6h6v5h-6zM921.5 257.6h6v5h-6zM927.5 267.6h6v5h-6zM993.5 267.6h6v5h-6zM981.5 277.6h6v5h-6zM975.5 287.6h6v5h-6zM963.5 297.6h6v5h-6z"/><path fill="#272727" d="M927.5 82.6h6v5h-6zM999.5 87.6h6v5h-6zM921.5 142.6h6v5h-6zM921.5 147.6h6v5h-6zM1005.5 172.6h6v5h-6zM915.5 197.6h6v5h-6zM915.5 202.6h6v5h-6zM1011.5 222.6h6v5h-6zM909.5 227.6h6v5h-6zM1011.5 227.6h6v5h-6zM909.5 237.6h6v5h-6zM933.5 272.6h6v5h-6zM939.5 282.6h6v5h-6zM957.5 297.6h6v5h-6z"/><path fill="#282828" d="M993.5 72.6h6v5h-6zM915.5 207.6h6v5h-6zM909.5 232.6h6v5h-6zM1005.5 237.6h6v5h-6zM975.5 282.6h6v5h-6zM969.5 292.6h6v5h-6z"/><path fill="#292929" d="M921.5 167.6h6v5h-6zM1005.5 177.6h6v5h-6zM915.5 212.6h6v5h-6zM915.5 242.6h6v5h-6zM999.5 247.6h6v5h-6zM921.5 252.6h6v5h-6zM993.5 262.6h6v5h-6zM945.5 287.6h6v5h-6z"/><path fill="#2a2a2a" d="M957.5 52.6h6v5h-6zM927.5 262.6h6v5h-6zM939.5 277.6h6v5h-6zM951.5 292.6h6v5h-6z"/><path fill="#2b2b2b" d="M969.5 52.6h6v5h-6zM1005.5 182.6h6v5h-6zM915.5 217.6h6v5h-6zM1005.5 232.6h6v5h-6zM921.5 247.6h6v5h-6zM993.5 257.6h6v5h-6zM933.5 267.6h6v5h-6zM987.5 267.6h6v5h-6zM981.5 272.6h6v5h-6zM969.5 287.6h6v5h-6z"/><path fill="#2c2c2c" d="M999.5 92.6h6v5h-6zM915.5 222.6h6v5h-6zM915.5 237.6h6v5h-6zM975.5 277.6h6v5h-6zM945.5 282.6h6v5h-6z"/><path fill="#2d2d2d" d="M945.5 57.6h6v5h-6zM987.5 67.6h6v5h-6zM927.5 87.6h6v5h-6zM999.5 112.6h6v5h-6zM999.5 117.6h6v5h-6zM921.5 172.6h6v5h-6zM1005.5 187.6h6v5h-6zM1005.5 217.6h6v5h-6zM1005.5 222.6h6v5h-6zM915.5 227.6h6v5h-6zM1005.5 227.6h6v5h-6zM915.5 232.6h6v5h-6zM927.5 257.6h6v5h-6zM939.5 272.6h6v5h-6zM963.5 292.6h6v5h-6z"/><path fill="#2e2e2e" d="M963.5 52.6h6v5h-6zM939.5 62.6h6v5h-6zM999.5 107.6h6v5h-6zM999.5 122.6h6v5h-6zM1005.5 192.6h6v5h-6zM1005.5 207.6h6v5h-6zM1005.5 212.6h6v5h-6zM921.5 242.6h6v5h-6zM999.5 242.6h6v5h-6zM993.5 252.6h6v5h-6zM969.5 282.6h6v5h-6zM957.5 292.6h6v5h-6z"/><path fill="#2f2f2f" d="M933.5 72.6h6v5h-6zM999.5 97.6h6v5h-6zM999.5 102.6h6v5h-6zM999.5 127.6h6v5h-6zM1005.5 197.6h6v5h-6zM1005.5 202.6h6v5h-6zM987.5 262.6h6v5h-6zM945.5 277.6h6v5h-6zM951.5 287.6h6v5h-6z"/><path fill="#303030" d="M999.5 132.6h6v5h-6zM921.5 177.6h6v5h-6zM927.5 252.6h6v5h-6zM933.5 262.6h6v5h-6zM939.5 267.6h6v5h-6z"/><path fill="#313131" d="M993.5 77.6h6v5h-6zM999.5 137.6h6v5h-6zM999.5 142.6h6v5h-6zM921.5 237.6h6v5h-6zM981.5 267.6h6v5h-6zM945.5 272.6h6v5h-6zM975.5 272.6h6v5h-6zM969.5 277.6h6v5h-6zM963.5 287.6h6v5h-6z"/><path fill="#323232" d="M981.5 62.6h6v5h-6zM927.5 92.6h6v5h-6zM999.5 147.6h6v5h-6zM921.5 182.6h6v5h-6zM951.5 282.6h6v5h-6zM957.5 287.6h6v5h-6z"/><path fill="#333333" d="M975.5 57.6h6v5h-6zM999.5 152.6h6v5h-6zM999.5 157.6h6v5h-6zM921.5 187.6h6v5h-6zM921.5 232.6h6v5h-6zM999.5 237.6h6v5h-6zM927.5 247.6h6v5h-6zM963.5 282.6h6v5h-6z"/><path fill="#343434" d="M999.5 162.6h6v5h-6zM921.5 192.6h6v5h-6zM921.5 197.6h6v5h-6zM921.5 202.6h6v5h-6zM921.5 227.6h6v5h-6zM993.5 247.6h6v5h-6zM933.5 257.6h6v5h-6zM987.5 257.6h6v5h-6zM939.5 262.6h6v5h-6zM945.5 267.6h6v5h-6zM951.5 277.6h6v5h-6z"/><path fill="#353535" d="M951.5 57.6h6v5h-6zM927.5 97.6h6v5h-6zM921.5 207.6h6v5h-6zM921.5 212.6h6v5h-6zM921.5 217.6h6v5h-6zM921.5 222.6h6v5h-6zM957.5 282.6h6v5h-6z"/><path fill="#363636" d="M927.5 102.6h6v5h-6zM927.5 107.6h6v5h-6zM927.5 112.6h6v5h-6zM927.5 117.6h6v5h-6zM999.5 167.6h6v5h-6zM927.5 242.6h6v5h-6zM963.5 277.6h6v5h-6z"/><path fill="#373737" d="M933.5 77.6h6v5h-6zM999.5 232.6h6v5h-6zM981.5 262.6h6v5h-6zM951.5 272.6h6v5h-6zM969.5 272.6h6v5h-6zM957.5 277.6h6v5h-6z"/><path fill="#383838" d="M927.5 122.6h6v5h-6zM927.5 162.6h6v5h-6zM999.5 172.6h6v5h-6zM933.5 252.6h6v5h-6zM975.5 267.6h6v5h-6z"/><path fill="#393939" d="M927.5 157.6h6v5h-6zM999.5 227.6h6v5h-6zM927.5 237.6h6v5h-6zM939.5 257.6h6v5h-6zM945.5 262.6h6v5h-6z"/><path fill="#3a3a3a" d="M987.5 72.6h6v5h-6zM993.5 82.6h6v5h-6zM927.5 127.6h6v5h-6zM927.5 167.6h6v5h-6zM999.5 217.6h6v5h-6zM999.5 222.6h6v5h-6zM987.5 252.6h6v5h-6zM951.5 267.6h6v5h-6z"/><path fill="#3b3b3b" d="M927.5 152.6h6v5h-6zM999.5 177.6h6v5h-6zM999.5 212.6h6v5h-6zM993.5 242.6h6v5h-6zM957.5 272.6h12v5h-12z"/><path fill="#3c3c3c" d="M957.5 57.6h6v5h-6zM939.5 67.6h6v5h-6zM927.5 132.6h6v5h-6zM927.5 147.6h6v5h-6zM999.5 207.6h6v5h-6zM927.5 232.6h6v5h-6z"/><path fill="#3d3d3d" d="M927.5 137.6h6v5h-6zM927.5 142.6h6v5h-6zM927.5 172.6h6v5h-6zM999.5 182.6h6v5h-6zM999.5 202.6h6v5h-6zM933.5 247.6h6v5h-6z"/><path fill="#3e3e3e" d="M969.5 57.6h6v5h-6zM945.5 62.6h6v5h-6zM999.5 187.6h6v5h-6zM999.5 197.6h6v5h-6zM981.5 257.6h6v5h-6z"/><path fill="#3f3f3f" d="M999.5 192.6h6v5h-6zM927.5 227.6h6v5h-6zM945.5 257.6h6v5h-6zM969.5 267.6h6v5h-6z"/><path fill="#404040" d="M981.5 67.6h6v5h-6zM933.5 82.6h6v5h-6zM933.5 242.6h6v5h-6zM939.5 252.6h6v5h-6zM951.5 262.6h6v5h-6zM975.5 262.6h6v5h-6z"/><path fill="#414141" d="M963.5 57.6h6v5h-6zM993.5 87.6h6v5h-6zM927.5 177.6h6v5h-6zM927.5 222.6h6v5h-6zM957.5 267.6h6v5h-6z"/><path fill="#424242" d="M993.5 237.6h6v5h-6zM987.5 247.6h6v5h-6z"/><path fill="#434343" d="M927.5 182.6h6v5h-6zM927.5 202.6h6v5h-6zM927.5 207.6h6v5h-6zM927.5 212.6h6v5h-6zM927.5 217.6h6v5h-6zM963.5 267.6h6v5h-6z"/><path fill="#444444" d="M927.5 187.6h6v5h-6zM927.5 192.6h6v5h-6zM927.5 197.6h6v5h-6zM933.5 237.6h6v5h-6z"/><path fill="#454545" d="M975.5 62.6h6v5h-6z"/><path fill="#464646" d="M993.5 112.6h6v5h-6zM993.5 117.6h6v5h-6zM993.5 122.6h6v5h-6zM939.5 247.6h6v5h-6zM945.5 252.6h6v5h-6zM981.5 252.6h6v5h-6zM951.5 257.6h6v5h-6z"/><path fill="#474747" d="M987.5 77.6h6v5h-6zM993.5 92.6h6v5h-6zM993.5 232.6h6v5h-6z"/><path fill="#484848" d="M939.5 72.6h6v5h-6zM933.5 87.6h6v5h-6zM993.5 107.6h6v5h-6zM993.5 127.6h6v5h-6zM933.5 232.6h6v5h-6zM975.5 257.6h6v5h-6zM957.5 262.6h6v5h-6zM969.5 262.6h6v5h-6z"/><path fill="#494949" d="M951.5 62.6h6v5h-6zM993.5 102.6h6v5h-6zM993.5 132.6h6v5h-6z"/><path fill="#4a4a4a" d="M993.5 97.6h6v5h-6zM993.5 137.6h6v5h-6zM993.5 227.6h6v5h-6zM987.5 242.6h6v5h-6z"/><path fill="#4b4b4b" d="M963.5 262.6h6v5h-6z"/><path fill="#4c4c4c" d="M993.5 142.6h6v5h-6zM993.5 222.6h6v5h-6zM939.5 242.6h6v5h-6z"/><path fill="#4d4d4d" d="M993.5 147.6h6v5h-6zM993.5 207.6h6v5h-6zM993.5 212.6h6v5h-6zM993.5 217.6h6v5h-6zM933.5 227.6h6v5h-6z"/><path fill="#4e4e4e" d="M993.5 202.6h6v5h-6zM945.5 247.6h6v5h-6zM951.5 252.6h6v5h-6z"/><path fill="#4f4f4f" d="M993.5 152.6h6v5h-6zM993.5 197.6h6v5h-6zM981.5 247.6h6v5h-6zM957.5 257.6h6v5h-6z"/><path fill="#505050" d="M945.5 67.6h6v5h-6zM981.5 72.6h6v5h-6zM933.5 92.6h6v5h-6zM993.5 157.6h6v5h-6zM993.5 162.6h6v5h-6zM993.5 167.6h6v5h-6zM933.5 222.6h6v5h-6zM975.5 252.6h6v5h-6zM969.5 257.6h6v5h-6z"/><path fill="#515151" d="M993.5 172.6h6v5h-6z"/><path fill="#525252" d="M957.5 62.6h6v5h-6zM933.5 167.6h6v5h-6zM993.5 192.6h6v5h-6zM987.5 237.6h6v5h-6z"/><path fill="#535353" d="M933.5 172.6h6v5h-6zM993.5 177.6h6v5h-6zM933.5 202.6h6v5h-6zM933.5 207.6h6v5h-6zM933.5 212.6h6v5h-6zM933.5 217.6h6v5h-6zM939.5 237.6h6v5h-6zM963.5 257.6h6v5h-6z"/><path fill="#545454" d="M969.5 62.6h6v5h-6zM939.5 77.6h6v5h-6zM933.5 162.6h6v5h-6zM993.5 182.6h6v5h-6zM993.5 187.6h6v5h-6z"/><path fill="#555555" d="M987.5 82.6h6v5h-6zM933.5 97.6h6v5h-6zM933.5 112.6h6v5h-6zM933.5 117.6h6v5h-6zM933.5 177.6h6v5h-6zM933.5 197.6h6v5h-6z"/><path fill="#565656" d="M933.5 107.6h6v5h-6zM933.5 122.6h6v5h-6zM957.5 252.6h6v5h-6z"/><path fill="#575757" d="M963.5 62.6h6v5h-6zM933.5 102.6h6v5h-6zM933.5 157.6h6v5h-6zM933.5 182.6h6v5h-6zM933.5 192.6h6v5h-6zM945.5 242.6h6v5h-6zM951.5 247.6h6v5h-6zM969.5 252.6h6v5h-6z"/><path fill="#585858" d="M975.5 67.6h6v5h-6zM933.5 187.6h6v5h-6zM987.5 232.6h6v5h-6zM981.5 242.6h6v5h-6zM975.5 247.6h6v5h-6z"/><path fill="#595959" d="M933.5 127.6h6v5h-6zM939.5 232.6h6v5h-6z"/><path fill="#5a5a5a" d="M933.5 152.6h6v5h-6zM963.5 252.6h6v5h-6z"/><path fill="#5b5b5b" d="M933.5 132.6h6v5h-6z"/><path fill="#5c5c5c" d="M933.5 137.6h6v5h-6zM933.5 142.6h6v5h-6zM933.5 147.6h6v5h-6zM987.5 227.6h6v5h-6z"/><path fill="#5e5e5e" d="M969.5 247.6h6v5h-6z"/><path fill="#5f5f5f" d="M951.5 67.6h6v5h-6zM987.5 222.6h6v5h-6zM939.5 227.6h6v5h-6zM957.5 247.6h6v5h-6z"/><path fill="#606060" d="M939.5 82.6h6v5h-6zM945.5 237.6h6v5h-6z"/><path fill="#616161" d="M945.5 72.6h6v5h-6zM981.5 77.6h6v5h-6zM987.5 217.6h6v5h-6zM981.5 237.6h6v5h-6zM951.5 242.6h6v5h-6z"/><path fill="#626262" d="M987.5 87.6h6v5h-6zM987.5 202.6h6v5h-6zM987.5 207.6h6v5h-6zM987.5 212.6h6v5h-6zM975.5 242.6h6v5h-6zM963.5 247.6h6v5h-6z"/><path fill="#646464" d="M987.5 197.6h6v5h-6z"/><path fill="#656565" d="M939.5 222.6h6v5h-6z"/><path fill="#676767" d="M987.5 117.6h6v5h-6zM987.5 192.6h6v5h-6zM939.5 202.6h6v5h-6zM939.5 207.6h6v5h-6zM969.5 242.6h6v5h-6z"/><path fill="#686868" d="M987.5 112.6h6v5h-6zM987.5 122.6h6v5h-6zM939.5 197.6h6v5h-6zM939.5 212.6h6v5h-6zM939.5 217.6h6v5h-6zM981.5 232.6h6v5h-6z"/><path fill="#696969" d="M957.5 242.6h6v5h-6z"/><path fill="#6a6a6a" d="M957.5 67.6h6v5h-6zM969.5 67.6h6v5h-6zM987.5 92.6h6v5h-6zM987.5 107.6h6v5h-6zM987.5 127.6h6v5h-6zM987.5 187.6h6v5h-6zM945.5 232.6h6v5h-6z"/><path fill="#6b6b6b" d="M975.5 72.6h6v5h-6zM939.5 192.6h6v5h-6zM963.5 242.6h6v5h-6z"/><path fill="#6c6c6c" d="M951.5 237.6h6v5h-6zM975.5 237.6h6v5h-6z"/><path fill="#6d6d6d" d="M939.5 87.6h6v5h-6zM987.5 97.6h6v5h-6zM987.5 102.6h6v5h-6zM987.5 132.6h6v5h-6zM987.5 182.6h6v5h-6z"/><path fill="#6e6e6e" d="M987.5 177.6h6v5h-6zM981.5 227.6h6v5h-6z"/><path fill="#6f6f6f" d="M963.5 67.6h6v5h-6zM987.5 137.6h6v5h-6zM987.5 172.6h6v5h-6zM939.5 187.6h6v5h-6z"/><path fill="#707070" d="M987.5 167.6h6v5h-6z"/><path fill="#717171" d="M987.5 142.6h6v5h-6zM939.5 182.6h6v5h-6z"/><path fill="#727272" d="M945.5 77.6h6v5h-6zM987.5 162.6h6v5h-6zM939.5 177.6h6v5h-6zM981.5 222.6h6v5h-6zM945.5 227.6h6v5h-6zM969.5 237.6h6v5h-6z"/><path fill="#737373" d="M987.5 147.6h6v5h-6zM939.5 172.6h6v5h-6z"/><path fill="#747474" d="M981.5 82.6h6v5h-6zM987.5 152.6h6v5h-6zM987.5 157.6h6v5h-6zM957.5 237.6h6v5h-6z"/><path fill="#757575" d="M951.5 72.6h6v5h-6zM981.5 217.6h6v5h-6zM975.5 232.6h6v5h-6z"/><path fill="#767676" d="M939.5 167.6h6v5h-6zM951.5 232.6h6v5h-6zM963.5 237.6h6v5h-6z"/><path fill="#777777" d="M981.5 207.6h6v5h-6zM981.5 212.6h6v5h-6z"/><path fill="#787878" d="M939.5 92.6h6v5h-6zM981.5 202.6h6v5h-6zM945.5 222.6h6v5h-6z"/><path fill="#7a7a7a" d="M981.5 197.6h6v5h-6z"/><path fill="#7b7b7b" d="M939.5 162.6h6v5h-6zM945.5 202.6h6v5h-6z"/><path fill="#7c7c7c" d="M945.5 197.6h6v5h-6zM945.5 207.6h6v5h-6zM945.5 217.6h6v5h-6z"/><path fill="#7d7d7d" d="M981.5 192.6h6v5h-6zM945.5 212.6h6v5h-6zM975.5 227.6h6v5h-6zM969.5 232.6h6v5h-6z"/><path fill="#7e7e7e" d="M939.5 117.6h6v5h-6zM939.5 122.6h6v5h-6zM939.5 127.6h6v5h-6zM951.5 227.6h6v5h-6zM957.5 232.6h6v5h-6z"/><path fill="#7f7f7f" d="M939.5 132.6h6v5h-6zM939.5 157.6h6v5h-6z"/><path fill="#808080" d="M975.5 77.6h6v5h-6zM939.5 97.6h6v5h-6zM939.5 112.6h6v5h-6zM939.5 137.6h6v5h-6zM939.5 142.6h6v5h-6z"/><path fill="#818181" d="M969.5 72.6h6v5h-6zM939.5 152.6h6v5h-6zM981.5 187.6h6v5h-6zM945.5 192.6h6v5h-6zM963.5 232.6h6v5h-6z"/><path fill="#828282" d="M957.5 72.6h6v5h-6zM939.5 107.6h6v5h-6zM939.5 147.6h6v5h-6z"/><path fill="#838383" d="M945.5 82.6h6v5h-6zM939.5 102.6h6v5h-6zM975.5 222.6h6v5h-6z"/><path fill="#848484" d="M951.5 222.6h6v5h-6z"/><path fill="#858585" d="M981.5 182.6h6v5h-6z"/><path fill="#868686" d="M981.5 87.6h6v5h-6zM957.5 227.6h6v5h-6z"/><path fill="#878787" d="M963.5 72.6h6v5h-6zM981.5 177.6h6v5h-6zM975.5 217.6h6v5h-6zM969.5 227.6h6v5h-6z"/><path fill="#888888" d="M945.5 187.6h6v5h-6zM951.5 217.6h6v5h-6z"/><path fill="#8a8a8a" d="M951.5 212.6h6v5h-6zM975.5 212.6h6v5h-6zM963.5 227.6h6v5h-6z"/><path fill="#8b8b8b" d="M951.5 77.6h6v5h-6zM981.5 172.6h6v5h-6zM951.5 202.6h6v5h-6zM951.5 207.6h6v5h-6zM975.5 207.6h6v5h-6z"/><path fill="#8c8c8c" d="M975.5 202.6h6v5h-6zM957.5 222.6h6v5h-6z"/><path fill="#8d8d8d" d="M951.5 197.6h6v5h-6z"/><path fill="#8e8e8e" d="M975.5 197.6h6v5h-6z"/><path fill="#8f8f8f" d="M981.5 117.6h6v5h-6zM969.5 222.6h6v5h-6z"/><path fill="#909090" d="M981.5 122.6h6v5h-6zM981.5 167.6h6v5h-6zM945.5 182.6h6v5h-6zM957.5 217.6h6v5h-6z"/><path fill="#919191" d="M981.5 112.6h6v5h-6zM975.5 192.6h6v5h-6zM963.5 222.6h6v5h-6z"/><path fill="#939393" d="M981.5 92.6h6v5h-6zM981.5 127.6h6v5h-6zM957.5 212.6h6v5h-6z"/><path fill="#949494" d="M945.5 87.6h6v5h-6zM951.5 192.6h6v5h-6zM957.5 207.6h6v5h-6zM969.5 217.6h6v5h-6z"/><path fill="#959595" d="M981.5 107.6h6v5h-6zM957.5 202.6h6v5h-6z"/><path fill="#969696" d="M975.5 82.6h6v5h-6zM981.5 162.6h6v5h-6zM945.5 177.6h6v5h-6zM975.5 187.6h6v5h-6z"/><path fill="#979797" d="M981.5 132.6h6v5h-6zM969.5 212.6h6v5h-6zM963.5 217.6h6v5h-6z"/><path fill="#989898" d="M969.5 77.6h6v5h-6zM981.5 97.6h6v5h-6zM981.5 102.6h6v5h-6zM969.5 202.6h6v5h-6zM969.5 207.6h6v5h-6z"/><path fill="#999999" d="M957.5 197.6h6v5h-6zM963.5 212.6h6v5h-6z"/><path fill="#9a9a9a" d="M975.5 182.6h6v5h-6zM963.5 207.6h6v5h-6z"/><path fill="#9b9b9b" d="M957.5 77.6h6v5h-6zM981.5 137.6h6v5h-6zM969.5 197.6h6v5h-6zM963.5 202.6h6v5h-6z"/><path fill="#9c9c9c" d="M981.5 157.6h6v5h-6zM945.5 172.6h6v5h-6z"/><path fill="#9e9e9e" d="M975.5 177.6h6v5h-6zM951.5 187.6h6v5h-6zM963.5 197.6h6v5h-6z"/><path fill="#9f9f9f" d="M981.5 142.6h6v5h-6zM969.5 192.6h6v5h-6z"/><path fill="#a0a0a0" d="M963.5 77.6h6v5h-6zM951.5 82.6h6v5h-6zM981.5 152.6h6v5h-6zM957.5 192.6h6v5h-6z"/><path fill="#a1a1a1" d="M981.5 147.6h6v5h-6z"/><path fill="#a2a2a2" d="M945.5 92.6h6v5h-6zM945.5 167.6h6v5h-6z"/><path fill="#a3a3a3" d="M963.5 192.6h6v5h-6z"/><path fill="#a4a4a4" d="M975.5 172.6h6v5h-6zM969.5 187.6h6v5h-6z"/><path fill="#a8a8a8" d="M945.5 122.6h6v5h-6zM945.5 127.6h6v5h-6zM945.5 132.6h6v5h-6zM945.5 162.6h6v5h-6z"/><path fill="#a9a9a9" d="M945.5 137.6h6v5h-6zM951.5 182.6h6v5h-6zM969.5 182.6h6v5h-6zM957.5 187.6h6v5h-6z"/><path fill="#aaaaaa" d="M945.5 117.6h6v5h-6zM963.5 187.6h6v5h-6z"/><path fill="#ababab" d="M975.5 87.6h6v5h-6zM945.5 142.6h6v5h-6z"/><path fill="#acacac" d="M945.5 97.6h6v5h-6zM945.5 112.6h6v5h-6z"/><path fill="#adadad" d="M945.5 157.6h6v5h-6zM975.5 167.6h6v5h-6z"/><path fill="#aeaeae" d="M945.5 107.6h6v5h-6zM945.5 147.6h6v5h-6z"/><path fill="#afafaf" d="M945.5 102.6h6v5h-6zM945.5 152.6h6v5h-6zM969.5 177.6h6v5h-6z"/><path fill="#b0b0b0" d="M969.5 82.6h6v5h-6z"/><path fill="#b1b1b1" d="M963.5 182.6h6v5h-6z"/><path fill="#b2b2b2" d="M951.5 177.6h6v5h-6z"/><path fill="#b3b3b3" d="M957.5 182.6h6v5h-6z"/><path fill="#b4b4b4" d="M957.5 82.6h6v5h-6z"/><path fill="#b5b5b5" d="M951.5 87.6h6v5h-6z"/><path fill="#b8b8b8" d="M975.5 117.6h6v5h-6zM975.5 122.6h6v5h-6zM975.5 162.6h6v5h-6zM969.5 172.6h6v5h-6z"/><path fill="#bababa" d="M963.5 82.6h6v5h-6zM975.5 92.6h6v5h-6zM963.5 177.6h6v5h-6z"/><path fill="#bbbbbb" d="M951.5 172.6h6v5h-6z"/><path fill="#bcbcbc" d="M975.5 112.6h6v5h-6zM975.5 127.6h6v5h-6z"/><path fill="#bdbdbd" d="M957.5 177.6h6v5h-6z"/><path fill="#c0c0c0" d="M975.5 107.6h6v5h-6z"/><path fill="#c2c2c2" d="M975.5 97.6h6v5h-6zM975.5 132.6h6v5h-6z"/><path fill="#c3c3c3" d="M975.5 102.6h6v5h-6zM975.5 157.6h6v5h-6z"/><path fill="#c4c4c4" d="M951.5 167.6h6v5h-6zM969.5 167.6h6v5h-6zM963.5 172.6h6v5h-6z"/><path fill="#c5c5c5" d="M951.5 92.6h6v5h-6z"/><path fill="#c7c7c7" d="M969.5 87.6h6v5h-6zM957.5 172.6h6v5h-6z"/><path fill="#c8c8c8" d="M975.5 137.6h6v5h-6z"/><path fill="#cbcbcb" d="M957.5 87.6h6v5h-6zM975.5 152.6h6v5h-6z"/><path fill="#cdcdcd" d="M951.5 97.6h6v5h-6zM951.5 122.6h6v5h-6z"/><path fill="#cecece" d="M951.5 117.6h6v5h-6zM975.5 142.6h6v5h-6zM951.5 162.6h6v5h-6z"/><path fill="#cfcfcf" d="M951.5 112.6h6v5h-6zM951.5 127.6h6v5h-6zM975.5 147.6h6v5h-6z"/><path fill="#d0d0d0" d="M951.5 102.6h6v5h-6zM951.5 107.6h6v5h-6z"/><path fill="#d2d2d2" d="M963.5 87.6h6v5h-6zM951.5 132.6h6v5h-6zM963.5 167.6h6v5h-6z"/><path fill="#d3d3d3" d="M969.5 162.6h6v5h-6zM957.5 167.6h6v5h-6z"/><path fill="#d5d5d5" d="M951.5 137.6h6v5h-6z"/><path fill="#d6d6d6" d="M951.5 157.6h6v5h-6z"/><path fill="#d7d7d7" d="M969.5 92.6h6v5h-6z"/><path fill="#d9d9d9" d="M951.5 142.6h6v5h-6z"/><path fill="#dbdbdb" d="M957.5 92.6h6v5h-6zM969.5 122.6h6v5h-6zM951.5 152.6h6v5h-6z"/><path fill="#dcdcdc" d="M969.5 117.6h6v5h-6zM951.5 147.6h6v5h-6z"/><path fill="#dfdfdf" d="M969.5 112.6h6v5h-6zM969.5 127.6h6v5h-6z"/><path fill="#e0e0e0" d="M969.5 97.6h6v5h-6z"/><path fill="#e1e1e1" d="M969.5 157.6h6v5h-6zM957.5 162.6h12v5h-12z"/><path fill="#e2e2e2" d="M969.5 107.6h6v5h-6z"/><path fill="#e3e3e3" d="M963.5 92.6h6v5h-6zM957.5 97.6h6v5h-6zM969.5 102.6h6v5h-6z"/><path fill="#e5e5e5" d="M957.5 102.6h6v5h-6zM957.5 112.6h6v5h-6zM957.5 117.6h6v5h-6zM969.5 132.6h6v5h-6z"/><path fill="#e6e6e6" d="M957.5 107.6h6v5h-6zM957.5 122.6h6v5h-6z"/><path fill="#e9e9e9" d="M957.5 127.6h6v5h-6z"/><path fill="#ebebeb" d="M963.5 97.6h6v5h-6z"/><path fill="#ececec" d="M963.5 117.6h6v5h-6zM963.5 122.6h6v5h-6z"/><path fill="#ededed" d="M963.5 112.6h6v5h-6zM969.5 137.6h6v5h-6zM969.5 152.6h6v5h-6z"/><path fill="#eeeeee" d="M963.5 102.6h6v5h-6zM963.5 107.6h6v5h-6zM957.5 157.6h6v5h-6z"/><path fill="#efefef" d="M957.5 132.6h6v5h-6z"/><path fill="#f0f0f0" d="M963.5 127.6h6v5h-6zM963.5 157.6h6v5h-6z"/><path fill="#f3f3f3" d="M969.5 142.6h6v5h-6z"/><path fill="#f4f4f4" d="M969.5 147.6h6v5h-6z"/><path fill="#f6f6f6" d="M963.5 132.6h6v5h-6zM957.5 137.6h6v5h-6z"/><path fill="#f8f8f8" d="M957.5 152.6h6v5h-6z"/><path fill="#fbfbfb" d="M957.5 142.6h6v5h-6z"/><path fill="#fdfdfd" d="M957.5 147.6h6v5h-6zM963.5 152.6h6v5h-6z"/><path fill="#fefefe" d="M963.5 137.6h6v5h-6z"/><path fill="#ffffff" d="M963.5 142.6h6v5h-6zM963.5 147.6h6v5h-6z"/></g></g><path d="M851.5 48V370M1048.5 48V370" stroke="#fff" stroke-width="1" fill="none"/><path clip-path="url(#c2)" d="M918.3 580.45V47.6M1012.5 580.45V47.6" stroke="#006400" stroke-width="1.5" stroke-dasharray="6 6" stroke-linecap="round" fill="none"/><path clip-path="url(#c2)" d="M699.5 264.2H1232.4" stroke="#d62728" stroke-width="1.5" stroke-dasharray="6 6" stroke-linecap="round" fill="none"/><rect x="699.5" y="47.6" width="532.9" height="532.85" fill="none" stroke="#000" stroke-opacity=".78" stroke-linejoin="round" stroke-width=".75"/><path d="M750.4 580.45H1180.4M750.4 580.45v6M857.9 580.45v6M965.4 580.45v6M1072.9 580.45v6M1180.4 580.45v6" stroke="#000" stroke-opacity=".78" stroke-width=".75" fill="none"/><text x="750.4" y="602.15" font-size="10" text-anchor="middle">-400</text><text x="857.9" y="602.15" font-size="10" text-anchor="middle">-200</text><text x="965.4" y="602.15" font-size="10" text-anchor="middle">0</text><text x="1072.9" y="602.15" font-size="10" text-anchor="middle">200</text><text x="1180.4" y="602.15" font-size="10" text-anchor="middle">400</text><path d="M699.5 532.78V48.2M699.5 532.78h-6M699.5 463.55h-6M699.5 394.33h-6M699.5 325.1h-6M699.5 255.88h-6M699.5 186.65h-6M699.5 117.43h-6M699.5 48.2h-6" stroke="#000" stroke-opacity=".78" stroke-width=".75" fill="none"/><text x="685.2" y="532.78" font-size="10" text-anchor="middle" transform="rotate(-90 685.2 532.78)">65</text><text x="685.2" y="463.55" font-size="10" text-anchor="middle" transform="rotate(-90 685.2 463.55)">70</text><text x="685.2" y="394.33" font-size="10" text-anchor="middle" transform="rotate(-90 685.2 394.33)">75</text><text x="685.2" y="325.1" font-size="10" text-anchor="middle" transform="rotate(-90 685.2 325.1)">80</text><text x="685.2" y="255.88" font-size="10" text-anchor="middle" transform="rotate(-90 685.2 255.88)">85</text><text x="685.2" y="186.65" font-size="10" text-anchor="middle" transform="rotate(-90 685.2 186.65)">90</text><text x="685.2" y="117.43" font-size="10" text-anchor="middle" transform="rotate(-90 685.2 117.43)">95</text><text x="685.2" y="48.2" font-size="10" text-anchor="middle" transform="rotate(-90 685.2 48.2)">100</text><!--P3--><path d="M79 1200.4L80 1200.4L81 1200.39L82 1200.39L83 1200.38L84 1200.38L85 1200.37L86 1200.37L87 1200.36L88 1200.36L89 1200.36L90 1200.35L91 1200.35L92 1200.35L93 1200.34L94 1200.34L95 1200.34L96 1200.33L97 1200.33L98 1200.33L99 1200.33L100 1200.32L101 1200.32L102 1200.32L103 1200.32L104 1200.32L105 1200.31L106 1200.31L107 1200.31L108 1200.31L109 1200.31L110 1200.31L111 1200.3L112 1200.3L113 1200.3L114 1200.3L115 1200.3L116 1200.3L117 1200.3L118 1200.3L119 1200.3L120 1200.3L121 1200.3L122 1200.3L123 1200.3L124 1200.3L125 1200.3L126 1200.31L127 1200.31L128 1200.31L129 1200.31L130 1200.32L131 1200.32L132 1200.32L133 1200.32L134 1200.33L135 1200.33L136 1200.34L137 1200.34L138 1200.34L139 1200.35L140 1200.35L141 1200.35L142 1200.36L143 1200.36L144 1200.36L145 1200.37L146 1200.37L147 1200.38L148 1200.38L149 1200.38L150 1200.38L151 1200.39L152 1200.39L153 1200.39L154 1200.39L155 1200.4L156 1200.4L157 1200.4L158 1200.4L159 1200.4L160 1200.4L161 1200.4L162 1200.4L163 1200.4L164 1200.4L165 1200.4L166 1200.4L167 1200.4L168 1200.39L169 1200.39L170 1200.39L171 1200.39L172 1200.39L173 1200.38L174 1200.38L175 1200.38L176 1200.38L177 1200.38L178 1200.37L179 1200.37L180 1200.37L181 1200.36L182 1200.36L183 1200.36L184 1200.36L185 1200.35L186 1200.35L187 1200.35L188 1200.34L189 1200.34L190 1200.34L191 1200.33L192 1200.33L193 1200.32L194 1200.32L195 1200.32L196 1200.31L197 1200.31L198 1200.31L199 1200.3L200 1200.3L201 1200.3L202 1200.29L203 1200.29L204 1200.29L205 1200.28L206 1200.28L207 1200.27L208 1200.27L209 1200.27L210 1200.26L211 1200.26L212 1200.25L213 1200.25L214 1200.24L215 1200.24L216 1200.23L217 1200.22L218 1200.22L219 1200.21L220 1200.2L221 1200.19L222 1200.18L223 1200.17L224 1200.15L225 1200.14L226 1200.12L227 1200.1L228 1200.08L229 1200.06L230 1200.04L231 1200.01L232 1199.99L233 1199.96L234 1199.93L235 1199.9L236 1199.86L237 1199.83L238 1199.79L239 1199.75L240 1199.71L241 1199.66L242 1199.61L243 1199.54L244 1199.46L245 1199.37L246 1199.26L247 1199.15L248 1199.03L249 1198.91L250 1198.77L251 1198.61L252 1198.44L253 1198.23L254 1198L255 1197.73L256 1197.45L257 1197.14L258 1196.8L259 1196.42L260 1196L261 1195.5L262 1194.95L263 1194.36L264 1193.73L265 1193.06L266 1192.37L267 1191.61L268 1190.8L269 1189.93L270 1189.03L271 1188.12L272 1187.22L273 1186.34L274 1185.49L275 1184.67L276 1183.85L277 1183.02L278 1182.16L279 1181.26L280 1180.3L281 1179.26L282 1178.14L283 1176.94L284 1175.65L285 1174.26L286 1172.76L287 1171.12L288 1169.3L289 1167.27L290 1165.07L291 1162.73L292 1160.3L293 1157.73L294 1155.03L295 1152.21L296 1149.34L297 1146.48L298 1143.66L299 1140.85L300 1138.03L301 1135.2L302 1132.34L303 1129.46L304 1126.57L305 1123.66L306 1120.74L307 1117.76L308 1114.71L309 1111.55L310 1108.28L311 1104.9L312 1101.4L313 1097.74L314 1093.9L315 1089.81L316 1085.46L317 1080.87L318 1076.09L319 1071.16L320 1066.05L321 1060.71L322 1055.07L323 1049.12L324 1042.93L325 1036.56L326 1030.04L327 1023.5L328 1017.11L329 1010.92L330 1004.82L331 998.7L332 992.54L333 986.52L334 980.85L335 975.56L336 970.48L337 965.43L338 960.35L339 955.34L340 950.52L341 945.98L342 941.68L343 937.58L344 933.67L345 929.98L346 926.51L347 923.25L348 920.1L349 916.94L350 913.66L351 910.15L352 906.35L353 902.25L354 897.93L355 893.44L356 888.85L357 884.2L358 879.46L359 874.62L360 869.7L361 864.77L362 859.89L363 855.08L364 850.34L365 845.62L366 840.88L367 836.07L368 831.14L369 826.07L370 820.88L371 815.65L372 810.46L373 805.36L374 800.38L375 795.49L376 790.67L377 785.92L378 781.23L379 776.59L380 772L381 767.45L382 762.97L383 758.58L384 754.28L385 750.08L386 745.95L387 741.91L388 737.98L389 734.21L390 730.57L391 727.05L392 723.68L393 720.53L394 717.66L395 715.05L396 712.74L397 710.88L398 709.51L399 708.46L400 707.7L401 707.3L402 707.29L403 707.57L404 708.05L405 708.7L406 709.58L407 710.77L408 712.23L409 713.88L410 715.74L411 717.87L412 720.27L413 722.88L414 725.66L415 728.65L416 731.86L417 735.21L418 738.56L419 741.82L420 744.97L421 748.05L422 751.09L423 754.05L424 756.92L425 759.68L426 762.35L427 764.95L428 767.47L429 769.92L430 772.3L431 774.61L432 776.89L433 779.14L434 781.32L435 783.34L436 785.13L437 786.68L438 788.07L439 789.3L440 790.22L441 790.74L442 790.95L443 791.02L444 791.06L445 791.06L446 790.94L447 790.58L448 789.98L449 789.2L450 788.31L451 787.33L452 786.19L453 784.89L454 783.53L455 782.29L456 781.2L457 780.28L458 779.65L459 779.4L460 779.41L461 779.58L462 780.03L463 781.08L464 782.77L465 784.81L466 787.01L467 789.38L468 791.93L469 794.53L470 797.14L471 799.77L472 802.42L473 805.08L474 807.71L475 810.3L476 812.86L477 815.42L478 817.92L479 820.28L480 822.43L481 824.4L482 826.23L483 827.95L484 829.47L485 830.74L486 831.71L487 832.46L488 833.05L489 833.43L490 833.46L491 832.98L492 832.02L493 830.75L494 829.28L495 827.59L496 825.92L497 824.57L498 823.59L499 822.93L500 822.65L501 822.9L502 823.72L503 825.06L504 827.07L505 830.03L506 833.8L507 838.13L508 843.01L509 848.42L510 854.26L511 860.49L512 867.1L513 873.96L514 880.98L515 888.17L516 895.56L517 903.19L518 911.06L519 919.06L520 927.08L521 935.07L522 943.01L523 950.76L524 958.36L525 966.68L526 977.32L527 990.33L528 1003.15L529 1013.82L530 1022.73L531 1030.85L532 1038.85L533 1047.07L534 1055.46L535 1063.89L536 1072.37L537 1080.93L538 1089.62L539 1098.29L540 1106.7L541 1114.73L542 1122.37L543 1129.57L544 1136.3L545 1142.58L546 1148.31L547 1153.4L548 1157.94L549 1162.04L550 1165.8L551 1169.28L552 1172.52L553 1175.57L554 1178.43L555 1181.1L556 1183.55L557 1185.84L558 1187.98L559 1189.99L560 1191.83L561 1193.45L562 1194.81L563 1195.97L564 1196.98L565 1197.83L566 1198.52L567 1199.06L568 1199.49L569 1199.83L570 1200.07L571 1200.25L572 1200.36L573 1200.4Z" fill="#f5deb3" stroke="#000" stroke-width="1.125" stroke-linejoin="round"/><path clip-path="url(#c3)" d="M368.3 1220.45V687.6" stroke="#d62728" stroke-width="1.5" stroke-dasharray="6 6" stroke-linecap="round" fill="none"/><rect x="59.5" y="687.6" width="532.9" height="532.85" fill="none" stroke="#000" stroke-opacity=".78" stroke-linejoin="round" stroke-width=".75"/><path d="M81.4 1220.45H552.2M81.4 1220.45v6M199.1 1220.45v6M316.8 1220.45v6M434.5 1220.45v6M552.2 1220.45v6" stroke="#000" stroke-opacity=".78" stroke-width=".75" fill="none"/><text x="80.8" y="1242.15" font-size="10" text-anchor="middle">60</text><text x="198.5" y="1242.15" font-size="10" text-anchor="middle">70</text><text x="316.2" y="1242.15" font-size="10" text-anchor="middle">80</text><text x="433.9" y="1242.15" font-size="10" text-anchor="middle">90</text><text x="551.6" y="1242.15" font-size="10" text-anchor="middle">100</text><path d="M59.5 1200.4V712.15M59.5 1200.4h-6M59.5 1130.65h-6M59.5 1060.9h-6M59.5 991.15h-6M59.5 921.4h-6M59.5 851.65h-6M59.5 781.9h-6M59.5 712.15h-6" stroke="#000" stroke-opacity=".78" stroke-width=".75" fill="none"/><text x="45.2" y="1200.4" font-size="10" text-anchor="middle" transform="rotate(-90 45.2 1200.4)">0.00</text><text x="45.2" y="1130.65" font-size="10" text-anchor="middle" transform="rotate(-90 45.2 1130.65)">0.01</text><text x="45.2" y="1060.9" font-size="10" text-anchor="middle" transform="rotate(-90 45.2 1060.9)">0.02</text><text x="45.2" y="991.15" font-size="10" text-anchor="middle" transform="rotate(-90 45.2 991.15)">0.03</text><text x="45.2" y="921.4" font-size="10" text-anchor="middle" transform="rotate(-90 45.2 921.4)">0.04</text><text x="45.2" y="851.65" font-size="10" text-anchor="middle" transform="rotate(-90 45.2 851.65)">0.05</text><text x="45.2" y="781.9" font-size="10" text-anchor="middle" transform="rotate(-90 45.2 781.9)">0.06</text><text x="45.2" y="712.15" font-size="10" text-anchor="middle" transform="rotate(-90 45.2 712.15)">0.07</text><!--P4--><path d="M718.5 1200.4L719.5 1200.37L720.5 1200.3L721.5 1200.18L722.5 1200.01L723.5 1199.75L724.5 1199.33L725.5 1198.63L726.5 1197.64L727.5 1196.41L728.5 1194.95L729.5 1193.21L730.5 1191.12L731.5 1188.61L732.5 1185.68L733.5 1182.5L734.5 1179.27L735.5 1176.12L736.5 1173.04L737.5 1169.97L738.5 1167.03L739.5 1164.42L740.5 1162.25L741.5 1160.5L742.5 1159.03L743.5 1157.86L744.5 1157.03L745.5 1156.48L746.5 1156.08L747.5 1155.77L748.5 1155.56L749.5 1155.45L750.5 1155.44L751.5 1155.51L752.5 1155.62L753.5 1155.77L754.5 1155.95L755.5 1156.13L756.5 1156.33L757.5 1156.56L758.5 1156.84L759.5 1157.17L760.5 1157.52L761.5 1157.86L762.5 1158.17L763.5 1158.4L764.5 1158.54L765.5 1158.59L766.5 1158.6L767.5 1158.6L768.5 1158.6L769.5 1158.6L770.5 1158.6L771.5 1158.6L772.5 1158.6L773.5 1158.6L774.5 1158.6L775.5 1158.6L776.5 1158.59L777.5 1158.54L778.5 1158.4L779.5 1158.14L780.5 1157.81L781.5 1157.44L782.5 1157.08L783.5 1156.74L784.5 1156.41L785.5 1156.07L786.5 1155.72L787.5 1155.38L788.5 1155.08L789.5 1154.84L790.5 1154.69L791.5 1154.64L792.5 1154.68L793.5 1154.79L794.5 1154.96L795.5 1155.16L796.5 1155.38L797.5 1155.6L798.5 1155.81L799.5 1156L800.5 1156.18L801.5 1156.36L802.5 1156.55L803.5 1156.74L804.5 1156.9L805.5 1157.04L806.5 1157.13L807.5 1157.18L808.5 1157.2L809.5 1157.19L810.5 1157.18L811.5 1157.17L812.5 1157.15L813.5 1157.13L814.5 1157.11L815.5 1157.08L816.5 1157.05L817.5 1156.99L818.5 1156.88L819.5 1156.65L820.5 1156.32L821.5 1155.91L822.5 1155.46L823.5 1154.97L824.5 1154.45L825.5 1153.84L826.5 1153.17L827.5 1152.48L828.5 1151.86L829.5 1151.35L830.5 1150.96L831.5 1150.65L832.5 1150.39L833.5 1150.22L834.5 1150.17L835.5 1150.27L836.5 1150.53L837.5 1150.91L838.5 1151.35L839.5 1151.8L840.5 1152.26L841.5 1152.77L842.5 1153.32L843.5 1153.85L844.5 1154.27L845.5 1154.49L846.5 1154.52L847.5 1154.42L848.5 1154.25L849.5 1154.05L850.5 1153.85L851.5 1153.67L852.5 1153.48L853.5 1153.31L854.5 1153.19L855.5 1153.18L856.5 1153.35L857.5 1153.68L858.5 1154.12L859.5 1154.57L860.5 1154.98L861.5 1155.35L862.5 1155.7L863.5 1156.01L864.5 1156.24L865.5 1156.35L866.5 1156.35L867.5 1156.28L868.5 1156.16L869.5 1156.01L870.5 1155.83L871.5 1155.64L872.5 1155.43L873.5 1155.2L874.5 1154.93L875.5 1154.62L876.5 1154.28L877.5 1153.91L878.5 1153.54L879.5 1153.17L880.5 1152.81L881.5 1152.44L882.5 1152.07L883.5 1151.68L884.5 1151.28L885.5 1150.91L886.5 1150.56L887.5 1150.25L888.5 1150.01L889.5 1149.82L890.5 1149.67L891.5 1149.55L892.5 1149.45L893.5 1149.35L894.5 1149.25L895.5 1149.13L896.5 1148.97L897.5 1148.77L898.5 1148.52L899.5 1148.21L900.5 1147.84L901.5 1147.4L902.5 1146.89L903.5 1146.25L904.5 1145.4L905.5 1144.34L906.5 1143.12L907.5 1141.8L908.5 1140.45L909.5 1139.11L910.5 1137.78L911.5 1136.43L912.5 1135.03L913.5 1133.58L914.5 1132.05L915.5 1130.43L916.5 1128.71L917.5 1126.86L918.5 1124.87L919.5 1122.7L920.5 1120.31L921.5 1117.67L922.5 1114.66L923.5 1111.17L924.5 1107.21L925.5 1102.94L926.5 1098.48L927.5 1093.79L928.5 1088.83L929.5 1083.54L930.5 1077.86L931.5 1071.81L932.5 1065.47L933.5 1059.02L934.5 1052.44L935.5 1044.83L936.5 1034.48L937.5 1021.39L938.5 1008.66L939.5 997.85L940.5 988.11L941.5 978.15L942.5 967.05L943.5 954.59L944.5 941.19L945.5 927.45L946.5 913.92L947.5 900.79L948.5 887.77L949.5 874.2L950.5 859.25L951.5 842.39L952.5 824.5L953.5 807.46L954.5 792.17L955.5 778.13L956.5 764.52L957.5 751.08L958.5 738.68L959.5 728.53L960.5 720.86L961.5 715.24L962.5 711.42L963.5 709.09L964.5 708.01L965.5 708.18L966.5 709.48L967.5 712.22L968.5 717.36L969.5 725.13L970.5 734.81L971.5 746.06L972.5 758.61L973.5 771.71L974.5 784.85L975.5 798.07L976.5 811.45L977.5 824.97L978.5 838.61L979.5 852.36L980.5 866.12L981.5 879.84L982.5 893.53L983.5 907.18L984.5 920.58L985.5 933.48L986.5 945.77L987.5 957.53L988.5 968.85L989.5 979.8L990.5 990.39L991.5 1000.62L992.5 1010.61L993.5 1020.6L994.5 1030.9L995.5 1041.49L996.5 1051.61L997.5 1060.24L998.5 1067.22L999.5 1073.12L1000.5 1078.57L1001.5 1083.84L1002.5 1088.9L1003.5 1093.71L1004.5 1098.27L1005.5 1102.56L1006.5 1106.47L1007.5 1109.99L1008.5 1113.2L1009.5 1116.14L1010.5 1118.86L1011.5 1121.39L1012.5 1123.75L1013.5 1125.96L1014.5 1128.04L1015.5 1129.98L1016.5 1131.8L1017.5 1133.5L1018.5 1135.11L1019.5 1136.63L1020.5 1138.06L1021.5 1139.44L1022.5 1140.78L1023.5 1142.04L1024.5 1143.19L1025.5 1144.19L1026.5 1145.03L1027.5 1145.75L1028.5 1146.39L1029.5 1146.98L1030.5 1147.52L1031.5 1148.05L1032.5 1148.58L1033.5 1149.13L1034.5 1149.69L1035.5 1150.18L1036.5 1150.57L1037.5 1150.79L1038.5 1150.87L1039.5 1150.86L1040.5 1150.82L1041.5 1150.78L1042.5 1150.74L1043.5 1150.73L1044.5 1150.78L1045.5 1150.96L1046.5 1151.26L1047.5 1151.63L1048.5 1152.03L1049.5 1152.43L1050.5 1152.87L1051.5 1153.33L1052.5 1153.74L1053.5 1154.03L1054.5 1154.14L1055.5 1154.13L1056.5 1154.04L1057.5 1153.93L1058.5 1153.83L1059.5 1153.75L1060.5 1153.74L1061.5 1153.81L1062.5 1153.98L1063.5 1154.2L1064.5 1154.46L1065.5 1154.72L1066.5 1154.94L1067.5 1155.09L1068.5 1155.13L1069.5 1155.02L1070.5 1154.76L1071.5 1154.38L1072.5 1153.94L1073.5 1153.49L1074.5 1153.08L1075.5 1152.75L1076.5 1152.49L1077.5 1152.25L1078.5 1152.02L1079.5 1151.81L1080.5 1151.63L1081.5 1151.48L1082.5 1151.38L1083.5 1151.33L1084.5 1151.34L1085.5 1151.4L1086.5 1151.5L1087.5 1151.64L1088.5 1151.82L1089.5 1152.01L1090.5 1152.23L1091.5 1152.51L1092.5 1152.9L1093.5 1153.39L1094.5 1153.94L1095.5 1154.53L1096.5 1155.09L1097.5 1155.6L1098.5 1156L1099.5 1156.32L1100.5 1156.58L1101.5 1156.83L1102.5 1157.06L1103.5 1157.27L1104.5 1157.46L1105.5 1157.6L1106.5 1157.71L1107.5 1157.77L1108.5 1157.77L1109.5 1157.71L1110.5 1157.6L1111.5 1157.44L1112.5 1157.24L1113.5 1157.02L1114.5 1156.77L1115.5 1156.51L1116.5 1156.25L1117.5 1156L1118.5 1155.74L1119.5 1155.45L1120.5 1155.12L1121.5 1154.76L1122.5 1154.38L1123.5 1154.01L1124.5 1153.67L1125.5 1153.37L1126.5 1153.14L1127.5 1152.99L1128.5 1152.92L1129.5 1152.91L1130.5 1152.91L1131.5 1152.92L1132.5 1152.94L1133.5 1152.96L1134.5 1152.98L1135.5 1153L1136.5 1153.03L1137.5 1153.07L1138.5 1153.11L1139.5 1153.19L1140.5 1153.32L1141.5 1153.5L1142.5 1153.71L1143.5 1153.95L1144.5 1154.18L1145.5 1154.39L1146.5 1154.57L1147.5 1154.7L1148.5 1154.77L1149.5 1154.77L1150.5 1154.73L1151.5 1154.65L1152.5 1154.55L1153.5 1154.44L1154.5 1154.33L1155.5 1154.22L1156.5 1154.12L1157.5 1154.06L1158.5 1154.02L1159.5 1154L1160.5 1154L1161.5 1154L1162.5 1154L1163.5 1154L1164.5 1154L1165.5 1154L1166.5 1154L1167.5 1154L1168.5 1154L1169.5 1154.01L1170.5 1154.06L1171.5 1154.2L1172.5 1154.44L1173.5 1154.77L1174.5 1155.15L1175.5 1155.55L1176.5 1155.94L1177.5 1156.3L1178.5 1156.66L1179.5 1157.03L1180.5 1157.4L1181.5 1157.77L1182.5 1158.12L1183.5 1158.44L1184.5 1158.72L1185.5 1158.96L1186.5 1159.21L1187.5 1159.49L1188.5 1159.85L1189.5 1160.41L1190.5 1161.32L1191.5 1162.64L1192.5 1164.3L1193.5 1166.31L1194.5 1168.78L1195.5 1171.72L1196.5 1174.89L1197.5 1178.07L1198.5 1181.21L1199.5 1184.31L1200.5 1187.27L1201.5 1189.94L1202.5 1192.34L1203.5 1194.49L1204.5 1196.32L1205.5 1197.73L1206.5 1198.76L1207.5 1199.49L1208.5 1199.95L1209.5 1200.18L1210.5 1200.29L1211.5 1200.37L1212.5 1200.4L1212.7 1200.4Z" fill="#f5deb3" stroke="#000" stroke-width="1.125" stroke-linejoin="round"/><path clip-path="url(#c4)" d="M924.7 1220.45V687.6M1006.3 1220.45V687.6" stroke="#006400" stroke-width="1.5" stroke-dasharray="6 6" stroke-linecap="round" fill="none"/><rect x="699.5" y="687.6" width="532.9" height="532.85" fill="none" stroke="#000" stroke-opacity=".78" stroke-linejoin="round" stroke-width=".75"/><path d="M778.5 1220.45H1152.5M778.5 1220.45v6M872 1220.45v6M965.5 1220.45v6M1059 1220.45v6M1152.5 1220.45v6" stroke="#000" stroke-opacity=".78" stroke-width=".75" fill="none"/><text x="778.5" y="1242.15" font-size="10" text-anchor="middle">-400</text><text x="872" y="1242.15" font-size="10" text-anchor="middle">-200</text><text x="965.5" y="1242.15" font-size="10" text-anchor="middle">0</text><text x="1059" y="1242.15" font-size="10" text-anchor="middle">200</text><text x="1152.5" y="1242.15" font-size="10" text-anchor="middle">400</text><path d="M699.5 1200.35V757.1M699.5 1200.35h-6M699.5 1111.7h-6M699.5 1023.05h-6M699.5 934.4h-6M699.5 845.75h-6M699.5 757.1h-6" stroke="#000" stroke-opacity=".78" stroke-width=".75" fill="none"/><text x="685.2" y="1200.35" font-size="10" text-anchor="middle" transform="rotate(-90 685.2 1200.35)">0.000</text><text x="685.2" y="1111.7" font-size="10" text-anchor="middle" transform="rotate(-90 685.2 1111.7)">0.001</text><text x="685.2" y="1023.05" font-size="10" text-anchor="middle" transform="rotate(-90 685.2 1023.05)">0.002</text><text x="685.2" y="934.4" font-size="10" text-anchor="middle" transform="rotate(-90 685.2 934.4)">0.003</text><text x="685.2" y="845.75" font-size="10" text-anchor="middle" transform="rotate(-90 685.2 845.75)">0.004</text><text x="685.2" y="757.1" font-size="10" text-anchor="middle" transform="rotate(-90 685.2 757.1)">0.005</text><path d="M1017.45 703.3H1042" stroke="#006400" stroke-width="1.125" stroke-dasharray="1.125 3.375" stroke-linecap="round" fill="none"/><path d="M1017.45 718.8H1042" stroke="#e8474c" stroke-width="1.125" stroke-dasharray="1.125 3.375" stroke-linecap="round" fill="none"/><circle cx="1029" cy="734.5" r="2.85" fill="#0000ff"/><text x="1052" y="708" font-size="12.9" text-anchor="start">enrichment zone = 87.5</text><text x="1052" y="723.6" font-size="12.9" text-anchor="start">motif score threshold = 84.400</text><text x="1052" y="739" font-size="12.9" text-anchor="start">centrality p-val = -24.1052</text></svg></body></html>
